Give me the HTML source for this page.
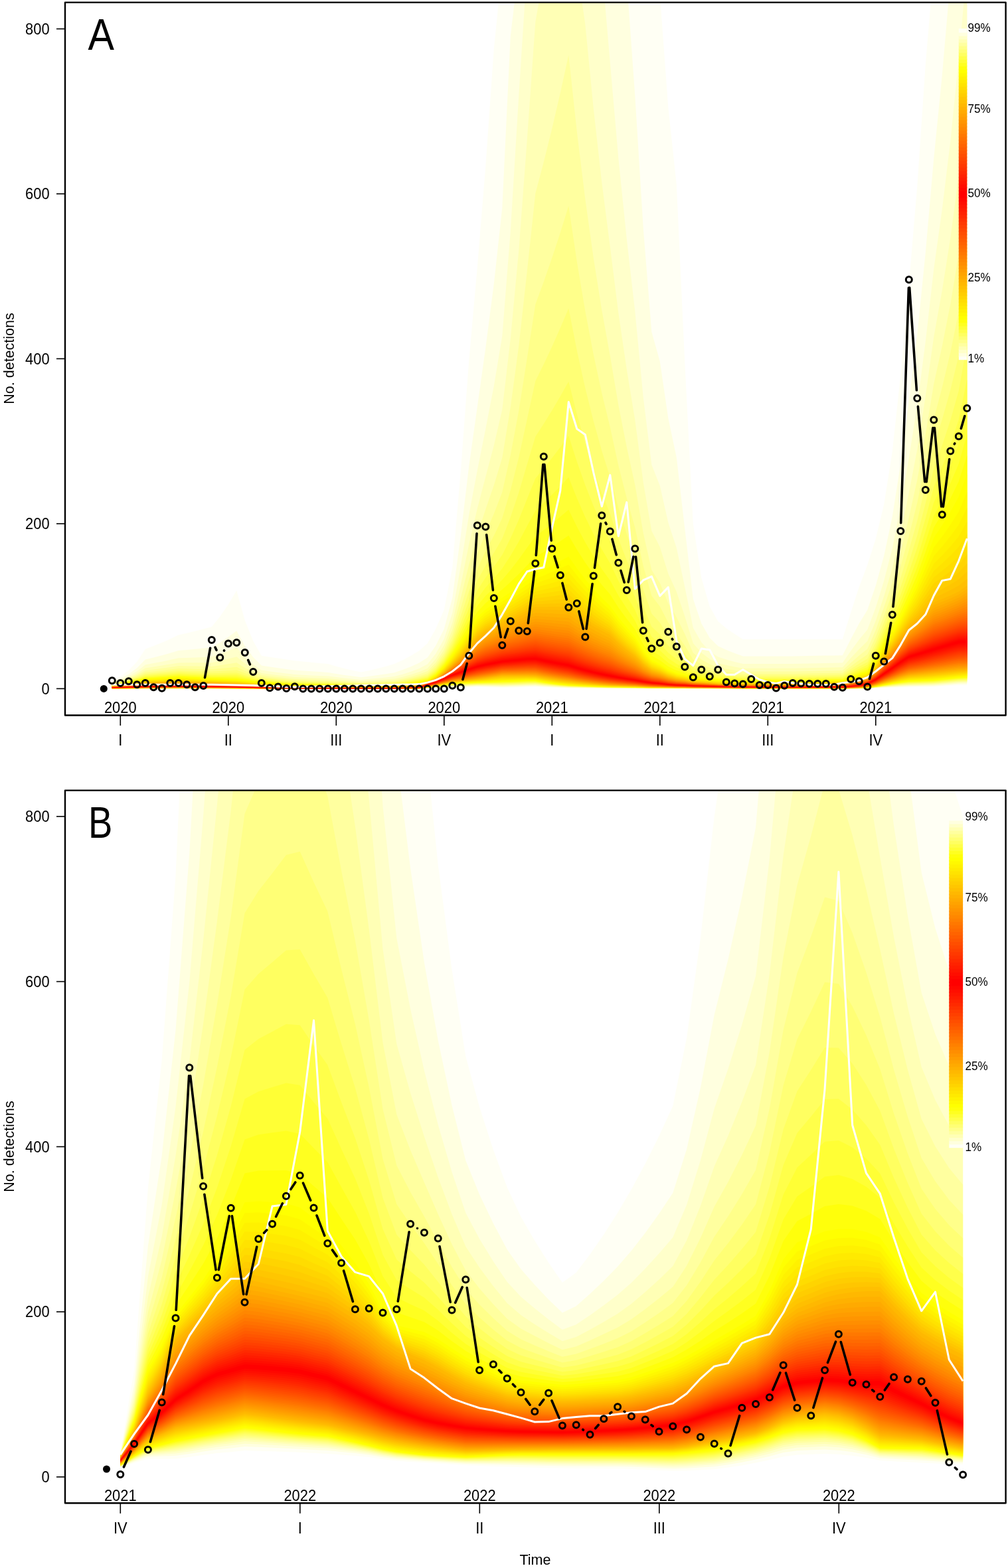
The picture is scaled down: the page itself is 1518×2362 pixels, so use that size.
<!DOCTYPE html>
<html><head><meta charset="utf-8"><title>Fan chart</title>
<style>
html,body{margin:0;padding:0;background:#fff;}
body{width:1518px;height:2362px;overflow:hidden;}
svg{display:block;}
.ax{font-family:"Liberation Sans",Arial,sans-serif;font-size:23.3px;fill:#000;}
.lab{font-family:"Liberation Sans",Arial,sans-serif;font-size:21.5px;fill:#000;}
.lg{font-family:"Liberation Sans",Arial,sans-serif;font-size:18px;fill:#000;}
.big{font-family:"Liberation Sans",Arial,sans-serif;font-size:66.5px;fill:#000;}
</style></head><body>
<svg xmlns="http://www.w3.org/2000/svg" width="1518" height="2362" viewBox="0 0 1518 2362">
<rect width="1518" height="2362" fill="#fff"/>
<clipPath id="ca"><rect x="98.0" y="3.6" width="1416.6" height="1073.9"/></clipPath><g clip-path="url(#ca)"><polygon fill="#fffff4" points="168.8,1025.0 181.3,1018.8 193.8,1009.8 206.3,996.7 218.8,977.8 231.3,973.1 243.8,968.0 256.3,962.5 268.8,956.6 281.3,953.7 293.8,950.7 306.3,947.5 318.8,944.2 331.3,928.7 343.8,910.6 356.3,889.6 368.8,934.4 381.3,965.8 393.8,987.7 406.3,989.7 418.8,991.6 431.3,993.4 443.8,995.2 456.3,996.5 468.8,997.7 481.3,998.9 493.8,1000.1 506.3,1003.7 518.8,1006.9 531.3,1009.9 543.8,1012.6 556.3,1009.9 568.8,1006.9 581.3,1003.7 593.8,1000.1 606.3,994.4 618.8,987.8 631.3,980.2 643.8,969.1 656.3,947.2 668.8,918.4 681.3,854.5 693.8,710.2 706.3,542.3 718.8,403.0 731.3,250.0 743.8,73.4 756.3,-50.0 768.8,-50.0 781.3,-50.0 793.8,-50.0 806.3,-50.0 818.8,-50.0 831.3,-50.0 843.8,-50.0 856.3,-50.0 868.8,-50.0 881.3,-50.0 893.8,-50.0 906.3,-50.0 918.8,-50.0 931.3,-50.0 943.8,-50.0 956.3,-50.0 968.8,-50.0 981.3,-50.0 993.8,-7.8 1006.3,161.3 1018.8,277.8 1031.3,546.3 1043.8,788.9 1056.3,870.6 1068.8,913.7 1081.3,936.0 1093.8,946.5 1106.3,955.1 1118.8,962.9 1131.3,962.9 1143.8,962.9 1156.3,962.9 1168.8,962.9 1181.3,962.9 1193.8,962.9 1206.3,962.9 1218.8,962.9 1231.3,962.9 1243.8,962.9 1256.3,962.9 1268.8,962.9 1281.3,922.4 1293.8,883.9 1306.3,851.0 1318.8,811.6 1331.3,759.6 1343.8,680.1 1356.3,564.7 1368.8,427.7 1381.3,280.2 1393.8,97.1 1406.3,-50.0 1418.8,-50.0 1431.3,-50.0 1443.8,-50.0 1456.3,-50.0 1456.3,1032.4 1443.8,1032.4 1431.3,1033.3 1418.8,1034.1 1406.3,1034.8 1393.8,1035.1 1381.3,1035.3 1368.8,1035.5 1356.3,1035.7 1343.8,1036.0 1331.3,1036.3 1318.8,1036.8 1306.3,1037.4 1293.8,1037.4 1281.3,1037.4 1268.8,1037.4 1256.3,1037.4 1243.8,1037.4 1231.3,1037.4 1218.8,1037.4 1206.3,1037.4 1193.8,1037.4 1181.3,1037.4 1168.8,1037.4 1156.3,1037.4 1143.8,1037.4 1131.3,1037.4 1118.8,1037.4 1106.3,1037.4 1093.8,1037.4 1081.3,1037.4 1068.8,1037.4 1056.3,1037.4 1043.8,1037.4 1031.3,1037.4 1018.8,1037.4 1006.3,1037.4 993.8,1037.4 981.3,1037.4 968.8,1037.4 956.3,1037.4 943.8,1037.4 931.3,1037.4 918.8,1037.4 906.3,1037.3 893.8,1037.2 881.3,1037.1 868.8,1036.9 856.3,1036.8 843.8,1036.4 831.3,1036.1 818.8,1035.6 806.3,1035.0 793.8,1035.2 781.3,1035.6 768.8,1035.9 756.3,1036.2 743.8,1035.8 731.3,1035.3 718.8,1035.0 706.3,1035.4 693.8,1035.7 681.3,1036.0 668.8,1036.3 656.3,1036.6 643.8,1036.8 631.3,1037.4 618.8,1037.4 606.3,1037.4 593.8,1037.4 581.3,1037.4 568.8,1037.4 556.3,1037.4 543.8,1037.4 531.3,1037.4 518.8,1037.4 506.3,1037.4 493.8,1037.4 481.3,1037.4 468.8,1037.4 456.3,1037.4 443.8,1037.4 431.3,1037.4 418.8,1037.4 406.3,1037.4 393.8,1037.4 381.3,1037.4 368.8,1037.4 356.3,1037.4 343.8,1037.4 331.3,1037.4 318.8,1037.4 306.3,1037.4 293.8,1037.4 281.3,1037.4 268.8,1037.4 256.3,1037.4 243.8,1037.4 231.3,1037.4 218.8,1037.4 206.3,1037.4 193.8,1037.4 181.3,1037.4 168.8,1037.4"/><polygon fill="#ffffdf" points="168.8,1026.7 181.3,1022.0 193.8,1015.5 206.3,1006.3 218.8,993.6 231.3,990.5 243.8,987.3 256.3,983.8 268.8,980.1 281.3,978.9 293.8,977.8 306.3,976.6 318.8,975.4 331.3,967.9 343.8,959.6 356.3,950.3 368.8,973.1 381.3,990.0 393.8,1002.5 406.3,1004.4 418.8,1006.2 431.3,1007.9 443.8,1009.5 456.3,1010.4 468.8,1011.2 481.3,1012.1 493.8,1012.9 506.3,1014.9 518.8,1016.9 531.3,1018.6 543.8,1020.3 556.3,1018.7 568.8,1017.0 581.3,1015.2 593.8,1013.2 606.3,1009.0 618.8,1004.2 631.3,998.5 643.8,990.6 656.3,972.5 668.8,947.6 681.3,900.4 693.8,807.1 706.3,701.8 718.8,613.1 731.3,523.9 743.8,427.6 756.3,313.2 768.8,53.9 781.3,-50.0 793.8,-50.0 806.3,-50.0 818.8,-50.0 831.3,-50.0 843.8,-50.0 856.3,-50.0 868.8,-50.0 881.3,-50.0 893.8,-50.0 906.3,-50.0 918.8,-50.0 931.3,-50.0 943.8,-29.7 956.3,144.3 968.8,344.5 981.3,499.9 993.8,544.6 1006.3,630.1 1018.8,689.0 1031.3,796.5 1043.8,902.3 1056.3,939.3 1068.8,960.9 1081.3,973.3 1093.8,979.1 1106.3,984.0 1118.8,988.4 1131.3,988.4 1143.8,988.4 1156.3,988.4 1168.8,988.4 1181.3,988.4 1193.8,988.4 1206.3,988.2 1218.8,988.0 1231.3,987.8 1243.8,987.6 1256.3,987.5 1268.8,987.3 1281.3,962.7 1293.8,939.3 1306.3,918.8 1318.8,882.2 1331.3,836.9 1343.8,778.3 1356.3,698.7 1368.8,605.0 1381.3,504.5 1393.8,380.6 1406.3,238.3 1418.8,113.3 1431.3,-31.3 1443.8,-50.0 1456.3,-50.0 1456.3,1030.7 1443.8,1030.7 1431.3,1031.7 1418.8,1032.7 1406.3,1033.5 1393.8,1033.8 1381.3,1034.1 1368.8,1034.3 1356.3,1034.7 1343.8,1035.2 1331.3,1035.7 1318.8,1036.4 1306.3,1037.2 1293.8,1037.3 1281.3,1037.3 1268.8,1037.3 1256.3,1037.3 1243.8,1037.3 1231.3,1037.3 1218.8,1037.3 1206.3,1037.3 1193.8,1037.3 1181.3,1037.3 1168.8,1037.3 1156.3,1037.3 1143.8,1037.3 1131.3,1037.3 1118.8,1037.3 1106.3,1037.3 1093.8,1037.3 1081.3,1037.3 1068.8,1037.3 1056.3,1037.3 1043.8,1037.3 1031.3,1037.3 1018.8,1037.3 1006.3,1037.2 993.8,1037.2 981.3,1037.2 968.8,1037.2 956.3,1037.1 943.8,1037.1 931.3,1037.1 918.8,1037.0 906.3,1036.9 893.8,1036.7 881.3,1036.6 868.8,1036.4 856.3,1036.2 843.8,1035.7 831.3,1035.2 818.8,1034.6 806.3,1033.8 793.8,1034.0 781.3,1034.4 768.8,1034.8 756.3,1035.1 743.8,1034.7 731.3,1034.2 718.8,1034.0 706.3,1034.4 693.8,1034.8 681.3,1035.2 668.8,1035.7 656.3,1036.1 643.8,1036.5 631.3,1037.4 618.8,1037.4 606.3,1037.4 593.8,1037.4 581.3,1037.4 568.8,1037.4 556.3,1037.4 543.8,1037.4 531.3,1037.4 518.8,1037.4 506.3,1037.4 493.8,1037.4 481.3,1037.4 468.8,1037.4 456.3,1037.4 443.8,1037.4 431.3,1037.4 418.8,1037.4 406.3,1037.4 393.8,1037.4 381.3,1037.4 368.8,1037.4 356.3,1037.3 343.8,1037.3 331.3,1037.3 318.8,1037.3 306.3,1037.3 293.8,1037.3 281.3,1037.3 268.8,1037.3 256.3,1037.3 243.8,1037.3 231.3,1037.3 218.8,1037.3 206.3,1037.3 193.8,1037.3 181.3,1037.4 168.8,1037.4"/><polygon fill="#ffffca" points="168.8,1027.7 181.3,1023.8 193.8,1018.5 206.3,1011.3 218.8,1001.4 231.3,999.1 243.8,996.7 256.3,994.1 268.8,991.3 281.3,990.9 293.8,990.5 306.3,990.1 318.8,989.6 331.3,985.2 343.8,980.4 356.3,975.2 368.8,989.8 381.3,1001.0 393.8,1009.6 406.3,1011.4 418.8,1013.0 431.3,1014.6 443.8,1016.0 456.3,1016.7 468.8,1017.4 481.3,1018.0 493.8,1018.6 506.3,1020.1 518.8,1021.5 531.3,1022.7 543.8,1023.9 556.3,1022.8 568.8,1021.7 581.3,1020.4 593.8,1019.1 606.3,1015.7 618.8,1011.7 631.3,1007.0 643.8,1000.6 656.3,984.8 668.8,962.4 681.3,923.4 693.8,853.2 706.3,775.2 718.8,708.7 731.3,646.0 743.8,581.5 756.3,506.3 768.8,348.4 781.3,143.7 793.8,-50.0 806.3,-50.0 818.8,-50.0 831.3,-50.0 843.8,-50.0 856.3,-50.0 868.8,-50.0 881.3,-50.0 893.8,-50.0 906.3,-50.0 918.8,94.5 931.3,238.3 943.8,360.1 956.3,468.9 968.8,599.3 981.3,699.9 993.8,731.7 1006.3,787.1 1018.8,825.2 1031.3,884.2 1043.8,945.8 1056.3,967.5 1068.8,981.2 1081.3,989.6 1093.8,993.6 1106.3,996.9 1118.8,999.9 1131.3,999.9 1143.8,999.9 1156.3,999.9 1168.8,999.9 1181.3,999.9 1193.8,999.9 1206.3,999.7 1218.8,999.4 1231.3,999.2 1243.8,999.0 1256.3,998.7 1268.8,998.5 1281.3,980.6 1293.8,963.6 1306.3,948.4 1318.8,915.2 1331.3,874.4 1343.8,826.2 1356.3,763.4 1368.8,689.8 1381.3,611.0 1393.8,514.4 1406.3,405.1 1418.8,315.2 1431.3,212.5 1443.8,88.3 1456.3,-50.0 1456.3,1029.3 1443.8,1029.4 1431.3,1030.5 1418.8,1031.5 1406.3,1032.4 1393.8,1032.8 1381.3,1033.1 1368.8,1033.3 1356.3,1033.9 1343.8,1034.5 1331.3,1035.2 1318.8,1036.1 1306.3,1037.0 1293.8,1037.2 1281.3,1037.3 1268.8,1037.3 1256.3,1037.3 1243.8,1037.3 1231.3,1037.3 1218.8,1037.3 1206.3,1037.3 1193.8,1037.3 1181.3,1037.3 1168.8,1037.3 1156.3,1037.3 1143.8,1037.3 1131.3,1037.3 1118.8,1037.3 1106.3,1037.3 1093.8,1037.3 1081.3,1037.3 1068.8,1037.2 1056.3,1037.2 1043.8,1037.2 1031.3,1037.2 1018.8,1037.2 1006.3,1037.1 993.8,1037.1 981.3,1037.0 968.8,1037.0 956.3,1036.9 943.8,1036.9 931.3,1036.8 918.8,1036.8 906.3,1036.6 893.8,1036.4 881.3,1036.2 868.8,1036.0 856.3,1035.7 843.8,1035.2 831.3,1034.5 818.8,1033.7 806.3,1032.8 793.8,1033.0 781.3,1033.4 768.8,1033.8 756.3,1034.2 743.8,1033.8 731.3,1033.4 718.8,1033.3 706.3,1033.7 693.8,1034.1 681.3,1034.6 668.8,1035.2 656.3,1035.8 643.8,1036.4 631.3,1037.4 618.8,1037.4 606.3,1037.4 593.8,1037.4 581.3,1037.4 568.8,1037.4 556.3,1037.4 543.8,1037.4 531.3,1037.4 518.8,1037.4 506.3,1037.4 493.8,1037.4 481.3,1037.4 468.8,1037.4 456.3,1037.4 443.8,1037.4 431.3,1037.4 418.8,1037.4 406.3,1037.4 393.8,1037.4 381.3,1037.3 368.8,1037.3 356.3,1037.3 343.8,1037.3 331.3,1037.3 318.8,1037.3 306.3,1037.3 293.8,1037.3 281.3,1037.3 268.8,1037.3 256.3,1037.3 243.8,1037.3 231.3,1037.3 218.8,1037.3 206.3,1037.3 193.8,1037.3 181.3,1037.3 168.8,1037.4"/><polygon fill="#ffffb5" points="168.8,1028.4 181.3,1025.0 193.8,1020.5 206.3,1014.5 218.8,1006.4 231.3,1004.6 243.8,1002.6 256.3,1000.5 268.8,998.4 281.3,998.3 293.8,998.3 306.3,998.2 318.8,998.2 331.3,995.4 343.8,992.4 356.3,989.2 368.8,999.5 381.3,1007.6 393.8,1014.0 406.3,1015.7 418.8,1017.2 431.3,1018.6 443.8,1020.0 456.3,1020.5 468.8,1021.1 481.3,1021.6 493.8,1022.1 506.3,1023.3 518.8,1024.3 531.3,1025.3 543.8,1026.2 556.3,1025.4 568.8,1024.5 581.3,1023.6 593.8,1022.6 606.3,1019.7 618.8,1016.3 631.3,1012.2 643.8,1006.8 656.3,992.5 668.8,971.8 681.3,938.2 693.8,881.7 706.3,819.7 718.8,766.2 731.3,718.3 743.8,671.1 756.3,616.9 768.8,510.4 781.3,377.0 793.8,209.9 806.3,32.9 818.8,-36.8 831.3,-50.0 843.8,-50.0 856.3,-50.0 868.8,-50.0 881.3,36.6 893.8,163.8 906.3,274.9 918.8,371.9 931.3,471.6 943.8,556.4 956.3,632.7 968.8,727.2 981.3,799.7 993.8,824.1 1006.3,864.0 1018.8,891.4 1031.3,928.6 1043.8,969.1 1056.3,983.3 1068.8,992.8 1081.3,999.1 1093.8,1002.0 1106.3,1004.5 1118.8,1006.8 1131.3,1006.8 1143.8,1006.8 1156.3,1006.8 1168.8,1006.8 1181.3,1006.8 1193.8,1006.8 1206.3,1006.6 1218.8,1006.3 1231.3,1006.1 1243.8,1005.8 1256.3,1005.6 1268.8,1005.3 1281.3,991.3 1293.8,977.9 1306.3,965.8 1318.8,935.3 1331.3,898.0 1343.8,856.3 1356.3,803.8 1368.8,742.5 1381.3,676.9 1393.8,596.8 1406.3,507.2 1418.8,437.4 1431.3,358.5 1443.8,264.0 1456.3,102.7 1456.3,1028.1 1443.8,1028.3 1431.3,1029.4 1418.8,1030.5 1406.3,1031.5 1393.8,1031.9 1381.3,1032.2 1368.8,1032.5 1356.3,1033.1 1343.8,1033.9 1331.3,1034.7 1318.8,1035.9 1306.3,1036.9 1293.8,1037.1 1281.3,1037.2 1268.8,1037.3 1256.3,1037.3 1243.8,1037.3 1231.3,1037.3 1218.8,1037.3 1206.3,1037.3 1193.8,1037.3 1181.3,1037.3 1168.8,1037.3 1156.3,1037.3 1143.8,1037.3 1131.3,1037.3 1118.8,1037.3 1106.3,1037.3 1093.8,1037.3 1081.3,1037.2 1068.8,1037.2 1056.3,1037.2 1043.8,1037.2 1031.3,1037.1 1018.8,1037.1 1006.3,1037.0 993.8,1036.9 981.3,1036.9 968.8,1036.8 956.3,1036.7 943.8,1036.7 931.3,1036.6 918.8,1036.5 906.3,1036.3 893.8,1036.1 881.3,1035.9 868.8,1035.6 856.3,1035.3 843.8,1034.7 831.3,1033.9 818.8,1033.0 806.3,1031.9 793.8,1032.1 781.3,1032.5 768.8,1033.0 756.3,1033.3 743.8,1033.0 731.3,1032.7 718.8,1032.6 706.3,1033.0 693.8,1033.5 681.3,1034.0 668.8,1034.7 656.3,1035.6 643.8,1036.3 631.3,1037.3 618.8,1037.4 606.3,1037.4 593.8,1037.4 581.3,1037.4 568.8,1037.4 556.3,1037.4 543.8,1037.4 531.3,1037.4 518.8,1037.4 506.3,1037.4 493.8,1037.4 481.3,1037.4 468.8,1037.4 456.3,1037.4 443.8,1037.4 431.3,1037.4 418.8,1037.4 406.3,1037.4 393.8,1037.3 381.3,1037.3 368.8,1037.3 356.3,1037.3 343.8,1037.3 331.3,1037.3 318.8,1037.2 306.3,1037.2 293.8,1037.2 281.3,1037.2 268.8,1037.2 256.3,1037.2 243.8,1037.2 231.3,1037.2 218.8,1037.2 206.3,1037.3 193.8,1037.3 181.3,1037.3 168.8,1037.3"/><polygon fill="#ffff9f" points="168.8,1029.0 181.3,1025.9 193.8,1022.0 206.3,1016.8 218.8,1010.0 231.3,1008.4 243.8,1006.8 256.3,1005.1 268.8,1003.3 281.3,1003.5 293.8,1003.6 306.3,1003.8 318.8,1004.0 331.3,1002.2 343.8,1000.3 356.3,998.3 368.8,1005.9 381.3,1012.1 393.8,1017.1 406.3,1018.7 418.8,1020.1 431.3,1021.4 443.8,1022.7 456.3,1023.1 468.8,1023.6 481.3,1024.1 493.8,1024.5 506.3,1025.4 518.8,1026.2 531.3,1027.0 543.8,1027.8 556.3,1027.1 568.8,1026.4 581.3,1025.7 593.8,1025.0 606.3,1022.4 618.8,1019.4 631.3,1015.8 643.8,1011.0 656.3,998.0 668.8,978.7 681.3,948.8 693.8,901.6 706.3,850.3 718.8,805.5 731.3,767.2 743.8,730.9 756.3,689.7 768.8,613.6 781.3,521.1 793.8,408.4 806.3,291.6 818.8,244.1 831.3,193.7 843.8,140.0 856.3,82.9 868.8,198.3 881.3,299.7 893.8,388.9 906.3,467.3 918.8,536.2 931.3,610.3 943.8,673.4 956.3,730.6 968.8,803.2 981.3,858.7 993.8,878.3 1006.3,908.8 1018.8,929.7 1031.3,955.1 1043.8,983.6 1056.3,993.6 1068.8,1000.6 1081.3,1005.5 1093.8,1007.8 1106.3,1009.7 1118.8,1011.5 1131.3,1011.5 1143.8,1011.5 1156.3,1011.5 1168.8,1011.5 1181.3,1011.5 1193.8,1011.5 1206.3,1011.2 1218.8,1011.0 1231.3,1010.8 1243.8,1010.5 1256.3,1010.2 1268.8,1010.0 1281.3,998.5 1293.8,987.5 1306.3,977.4 1318.8,949.2 1331.3,914.6 1343.8,877.6 1356.3,832.2 1368.8,779.4 1381.3,723.0 1393.8,654.2 1406.3,578.1 1418.8,521.5 1431.3,458.0 1443.8,382.7 1456.3,256.5 1456.3,1027.1 1443.8,1027.3 1431.3,1028.5 1418.8,1029.6 1406.3,1030.6 1393.8,1031.0 1381.3,1031.4 1368.8,1031.7 1356.3,1032.5 1343.8,1033.4 1331.3,1034.4 1318.8,1035.7 1306.3,1036.8 1293.8,1037.1 1281.3,1037.2 1268.8,1037.3 1256.3,1037.3 1243.8,1037.3 1231.3,1037.3 1218.8,1037.3 1206.3,1037.3 1193.8,1037.3 1181.3,1037.3 1168.8,1037.3 1156.3,1037.3 1143.8,1037.3 1131.3,1037.3 1118.8,1037.3 1106.3,1037.2 1093.8,1037.2 1081.3,1037.2 1068.8,1037.2 1056.3,1037.1 1043.8,1037.1 1031.3,1037.1 1018.8,1037.0 1006.3,1036.9 993.8,1036.8 981.3,1036.8 968.8,1036.7 956.3,1036.6 943.8,1036.5 931.3,1036.4 918.8,1036.3 906.3,1036.1 893.8,1035.8 881.3,1035.6 868.8,1035.2 856.3,1034.9 843.8,1034.2 831.3,1033.3 818.8,1032.3 806.3,1031.1 793.8,1031.2 781.3,1031.7 768.8,1032.1 756.3,1032.6 743.8,1032.3 731.3,1032.1 718.8,1032.0 706.3,1032.4 693.8,1032.9 681.3,1033.5 668.8,1034.4 656.3,1035.4 643.8,1036.2 631.3,1037.3 618.8,1037.4 606.3,1037.4 593.8,1037.4 581.3,1037.4 568.8,1037.4 556.3,1037.4 543.8,1037.4 531.3,1037.4 518.8,1037.4 506.3,1037.4 493.8,1037.4 481.3,1037.4 468.8,1037.4 456.3,1037.4 443.8,1037.4 431.3,1037.4 418.8,1037.4 406.3,1037.3 393.8,1037.3 381.3,1037.3 368.8,1037.3 356.3,1037.3 343.8,1037.2 331.3,1037.2 318.8,1037.2 306.3,1037.2 293.8,1037.2 281.3,1037.2 268.8,1037.2 256.3,1037.2 243.8,1037.2 231.3,1037.2 218.8,1037.2 206.3,1037.2 193.8,1037.3 181.3,1037.3 168.8,1037.3"/><polygon fill="#ffff8a" points="168.8,1029.4 181.3,1026.7 193.8,1023.1 206.3,1018.6 218.8,1012.7 231.3,1011.4 243.8,1010.0 256.3,1008.5 268.8,1007.0 281.3,1007.3 293.8,1007.7 306.3,1008.0 318.8,1008.3 331.3,1007.1 343.8,1005.9 356.3,1004.7 368.8,1010.6 381.3,1015.4 393.8,1019.4 406.3,1020.9 418.8,1022.2 431.3,1023.5 443.8,1024.6 456.3,1025.1 468.8,1025.5 481.3,1025.9 493.8,1026.3 506.3,1027.0 518.8,1027.7 531.3,1028.3 543.8,1028.9 556.3,1028.4 568.8,1027.9 581.3,1027.3 593.8,1026.7 606.3,1024.4 618.8,1021.7 631.3,1018.5 643.8,1014.2 656.3,1002.1 668.8,984.0 681.3,956.9 693.8,916.5 706.3,873.0 718.8,834.5 731.3,802.9 743.8,774.0 756.3,741.6 768.8,685.5 781.3,618.7 793.8,539.4 806.3,458.6 818.8,424.6 831.3,388.6 843.8,350.5 856.3,310.2 868.8,394.2 881.3,468.4 893.8,534.2 906.3,592.3 918.8,643.8 931.3,701.2 943.8,750.3 956.3,795.1 968.8,853.1 981.3,897.4 993.8,913.6 1006.3,937.8 1018.8,954.4 1031.3,972.6 1043.8,993.6 1056.3,1000.8 1068.8,1006.1 1081.3,1010.1 1093.8,1011.9 1106.3,1013.5 1118.8,1014.9 1131.3,1014.9 1143.8,1014.9 1156.3,1014.9 1168.8,1014.9 1181.3,1014.9 1193.8,1014.9 1206.3,1014.7 1218.8,1014.5 1231.3,1014.2 1243.8,1014.0 1256.3,1013.7 1268.8,1013.4 1281.3,1003.8 1293.8,994.5 1306.3,985.9 1318.8,959.6 1331.3,927.2 1343.8,893.7 1356.3,853.7 1368.8,807.2 1381.3,757.5 1393.8,697.2 1406.3,630.9 1418.8,583.7 1431.3,531.1 1443.8,469.3 1456.3,367.4 1456.3,1026.1 1443.8,1026.4 1431.3,1027.5 1418.8,1028.7 1406.3,1029.8 1393.8,1030.2 1381.3,1030.6 1368.8,1030.9 1356.3,1031.8 1343.8,1032.9 1331.3,1034.0 1318.8,1035.5 1306.3,1036.7 1293.8,1037.0 1281.3,1037.2 1268.8,1037.2 1256.3,1037.2 1243.8,1037.2 1231.3,1037.2 1218.8,1037.2 1206.3,1037.2 1193.8,1037.2 1181.3,1037.2 1168.8,1037.2 1156.3,1037.2 1143.8,1037.2 1131.3,1037.2 1118.8,1037.2 1106.3,1037.2 1093.8,1037.2 1081.3,1037.2 1068.8,1037.1 1056.3,1037.1 1043.8,1037.1 1031.3,1037.0 1018.8,1036.9 1006.3,1036.9 993.8,1036.8 981.3,1036.7 968.8,1036.6 956.3,1036.4 943.8,1036.3 931.3,1036.2 918.8,1036.1 906.3,1035.9 893.8,1035.6 881.3,1035.3 868.8,1034.9 856.3,1034.5 843.8,1033.8 831.3,1032.8 818.8,1031.7 806.3,1030.3 793.8,1030.4 781.3,1030.9 768.8,1031.4 756.3,1031.8 743.8,1031.6 731.3,1031.4 718.8,1031.4 706.3,1031.9 693.8,1032.4 681.3,1033.0 668.8,1034.0 656.3,1035.2 643.8,1036.1 631.3,1037.3 618.8,1037.3 606.3,1037.4 593.8,1037.4 581.3,1037.4 568.8,1037.4 556.3,1037.4 543.8,1037.4 531.3,1037.4 518.8,1037.4 506.3,1037.4 493.8,1037.4 481.3,1037.4 468.8,1037.4 456.3,1037.4 443.8,1037.4 431.3,1037.4 418.8,1037.4 406.3,1037.3 393.8,1037.3 381.3,1037.3 368.8,1037.3 356.3,1037.2 343.8,1037.2 331.3,1037.2 318.8,1037.2 306.3,1037.2 293.8,1037.2 281.3,1037.2 268.8,1037.2 256.3,1037.2 243.8,1037.2 231.3,1037.2 218.8,1037.2 206.3,1037.2 193.8,1037.2 181.3,1037.3 168.8,1037.3"/><polygon fill="#ffff75" points="168.8,1029.7 181.3,1027.3 193.8,1024.1 206.3,1020.0 218.8,1014.9 231.3,1013.7 243.8,1012.5 256.3,1011.3 268.8,1009.9 281.3,1010.4 293.8,1010.8 306.3,1011.2 318.8,1011.6 331.3,1010.9 343.8,1010.2 356.3,1009.5 368.8,1014.1 381.3,1018.0 393.8,1021.2 406.3,1022.6 418.8,1023.9 431.3,1025.1 443.8,1026.2 456.3,1026.6 468.8,1026.9 481.3,1027.3 493.8,1027.6 506.3,1028.2 518.8,1028.8 531.3,1029.4 543.8,1029.9 556.3,1029.5 568.8,1029.0 581.3,1028.6 593.8,1028.1 606.3,1026.0 618.8,1023.5 631.3,1020.5 643.8,1016.7 656.3,1005.4 668.8,988.2 681.3,963.4 693.8,928.3 706.3,890.6 718.8,856.9 731.3,830.3 743.8,806.9 756.3,780.8 768.8,738.4 781.3,689.0 793.8,631.6 806.3,574.0 818.8,548.8 831.3,522.2 843.8,494.1 856.3,464.5 868.8,528.0 881.3,584.4 893.8,634.6 906.3,679.2 918.8,718.9 931.3,764.9 943.8,804.3 956.3,840.4 968.8,888.1 981.3,924.3 993.8,938.0 1006.3,957.8 1018.8,971.4 1031.3,984.8 1043.8,1000.8 1056.3,1006.1 1068.8,1010.3 1081.3,1013.6 1093.8,1015.1 1106.3,1016.4 1118.8,1017.6 1131.3,1017.6 1143.8,1017.6 1156.3,1017.6 1168.8,1017.6 1181.3,1017.6 1193.8,1017.6 1206.3,1017.4 1218.8,1017.1 1231.3,1016.9 1243.8,1016.6 1256.3,1016.4 1268.8,1016.1 1281.3,1007.8 1293.8,999.8 1306.3,992.3 1318.8,967.7 1331.3,937.2 1343.8,906.6 1356.3,870.7 1368.8,829.1 1381.3,784.7 1393.8,730.8 1406.3,672.1 1418.8,632.1 1431.3,587.6 1443.8,535.8 1456.3,451.6 1456.3,1025.1 1443.8,1025.5 1431.3,1026.7 1418.8,1027.9 1406.3,1029.0 1393.8,1029.5 1381.3,1029.8 1368.8,1030.2 1356.3,1031.2 1343.8,1032.4 1331.3,1033.7 1318.8,1035.3 1306.3,1036.6 1293.8,1037.0 1281.3,1037.2 1268.8,1037.2 1256.3,1037.2 1243.8,1037.2 1231.3,1037.2 1218.8,1037.2 1206.3,1037.2 1193.8,1037.2 1181.3,1037.2 1168.8,1037.2 1156.3,1037.2 1143.8,1037.2 1131.3,1037.2 1118.8,1037.2 1106.3,1037.2 1093.8,1037.2 1081.3,1037.1 1068.8,1037.1 1056.3,1037.1 1043.8,1037.1 1031.3,1037.0 1018.8,1036.9 1006.3,1036.8 993.8,1036.7 981.3,1036.6 968.8,1036.5 956.3,1036.3 943.8,1036.2 931.3,1036.1 918.8,1035.9 906.3,1035.7 893.8,1035.3 881.3,1035.0 868.8,1034.6 856.3,1034.2 843.8,1033.3 831.3,1032.3 818.8,1031.1 806.3,1029.6 793.8,1029.7 781.3,1030.2 768.8,1030.6 756.3,1031.0 743.8,1030.9 731.3,1030.8 718.8,1030.9 706.3,1031.4 693.8,1031.9 681.3,1032.6 668.8,1033.7 656.3,1035.0 643.8,1036.0 631.3,1037.3 618.8,1037.3 606.3,1037.4 593.8,1037.4 581.3,1037.4 568.8,1037.4 556.3,1037.4 543.8,1037.4 531.3,1037.4 518.8,1037.4 506.3,1037.4 493.8,1037.4 481.3,1037.4 468.8,1037.4 456.3,1037.4 443.8,1037.4 431.3,1037.4 418.8,1037.4 406.3,1037.3 393.8,1037.3 381.3,1037.3 368.8,1037.3 356.3,1037.2 343.8,1037.2 331.3,1037.2 318.8,1037.1 306.3,1037.1 293.8,1037.1 281.3,1037.1 268.8,1037.1 256.3,1037.1 243.8,1037.1 231.3,1037.1 218.8,1037.1 206.3,1037.2 193.8,1037.2 181.3,1037.3 168.8,1037.3"/><polygon fill="#ffff60" points="168.8,1030.1 181.3,1027.8 193.8,1024.9 206.3,1021.3 218.8,1016.7 231.3,1015.6 243.8,1014.6 256.3,1013.5 268.8,1012.3 281.3,1012.8 293.8,1013.3 306.3,1013.8 318.8,1014.3 331.3,1013.9 343.8,1013.6 356.3,1013.2 368.8,1016.9 381.3,1020.0 393.8,1022.7 406.3,1024.1 418.8,1025.3 431.3,1026.4 443.8,1027.4 456.3,1027.8 468.8,1028.1 481.3,1028.4 493.8,1028.7 506.3,1029.2 518.8,1029.7 531.3,1030.2 543.8,1030.6 556.3,1030.3 568.8,1029.9 581.3,1029.5 593.8,1029.1 606.3,1027.2 618.8,1025.0 631.3,1022.2 643.8,1018.7 656.3,1008.0 668.8,991.7 681.3,968.8 693.8,937.9 706.3,904.7 718.8,874.8 731.3,852.2 743.8,832.8 756.3,811.4 768.8,779.0 781.3,742.0 793.8,699.6 806.3,657.8 818.8,638.5 831.3,618.3 843.8,597.1 856.3,574.7 868.8,624.0 881.3,668.0 893.8,707.4 906.3,742.6 918.8,774.0 931.3,811.7 943.8,844.0 956.3,873.8 968.8,913.8 981.3,944.1 993.8,955.8 1006.3,972.4 1018.8,983.7 1031.3,993.9 1043.8,1006.3 1056.3,1010.3 1068.8,1013.6 1081.3,1016.3 1093.8,1017.6 1106.3,1018.7 1118.8,1019.7 1131.3,1019.7 1143.8,1019.7 1156.3,1019.7 1168.8,1019.7 1181.3,1019.7 1193.8,1019.7 1206.3,1019.5 1218.8,1019.3 1231.3,1019.0 1243.8,1018.8 1256.3,1018.5 1268.8,1018.3 1281.3,1011.0 1293.8,1004.0 1306.3,997.4 1318.8,974.2 1331.3,945.4 1343.8,917.1 1356.3,884.5 1368.8,846.9 1381.3,806.7 1393.8,758.2 1406.3,705.5 1418.8,671.0 1431.3,632.9 1443.8,588.7 1456.3,518.0 1456.3,1024.2 1443.8,1024.6 1431.3,1025.9 1418.8,1027.1 1406.3,1028.2 1393.8,1028.7 1381.3,1029.1 1368.8,1029.5 1356.3,1030.6 1343.8,1031.9 1331.3,1033.4 1318.8,1035.1 1306.3,1036.5 1293.8,1036.9 1281.3,1037.1 1268.8,1037.2 1256.3,1037.2 1243.8,1037.2 1231.3,1037.2 1218.8,1037.2 1206.3,1037.2 1193.8,1037.2 1181.3,1037.2 1168.8,1037.2 1156.3,1037.2 1143.8,1037.2 1131.3,1037.2 1118.8,1037.2 1106.3,1037.2 1093.8,1037.2 1081.3,1037.1 1068.8,1037.1 1056.3,1037.0 1043.8,1037.0 1031.3,1036.9 1018.8,1036.8 1006.3,1036.7 993.8,1036.6 981.3,1036.5 968.8,1036.3 956.3,1036.2 943.8,1036.0 931.3,1035.9 918.8,1035.8 906.3,1035.5 893.8,1035.1 881.3,1034.7 868.8,1034.3 856.3,1033.9 843.8,1032.9 831.3,1031.8 818.8,1030.5 806.3,1028.9 793.8,1028.9 781.3,1029.4 768.8,1029.9 756.3,1030.3 743.8,1030.3 731.3,1030.3 718.8,1030.4 706.3,1030.8 693.8,1031.4 681.3,1032.1 668.8,1033.4 656.3,1034.8 643.8,1035.9 631.3,1037.3 618.8,1037.3 606.3,1037.4 593.8,1037.4 581.3,1037.4 568.8,1037.4 556.3,1037.4 543.8,1037.4 531.3,1037.4 518.8,1037.4 506.3,1037.4 493.8,1037.4 481.3,1037.4 468.8,1037.4 456.3,1037.4 443.8,1037.4 431.3,1037.4 418.8,1037.4 406.3,1037.3 393.8,1037.3 381.3,1037.3 368.8,1037.2 356.3,1037.2 343.8,1037.2 331.3,1037.2 318.8,1037.1 306.3,1037.1 293.8,1037.1 281.3,1037.1 268.8,1037.1 256.3,1037.1 243.8,1037.1 231.3,1037.1 218.8,1037.1 206.3,1037.2 193.8,1037.2 181.3,1037.3 168.8,1037.3"/><polygon fill="#ffff4a" points="168.8,1030.3 181.3,1028.2 193.8,1025.6 206.3,1022.3 218.8,1018.2 231.3,1017.3 243.8,1016.3 256.3,1015.4 268.8,1014.3 281.3,1014.9 293.8,1015.4 306.3,1016.0 318.8,1016.5 331.3,1016.4 343.8,1016.3 356.3,1016.1 368.8,1019.1 381.3,1021.7 393.8,1024.0 406.3,1025.2 418.8,1026.4 431.3,1027.5 443.8,1028.4 456.3,1028.7 468.8,1029.0 481.3,1029.3 493.8,1029.6 506.3,1030.1 518.8,1030.5 531.3,1030.9 543.8,1031.3 556.3,1031.0 568.8,1030.7 581.3,1030.4 593.8,1030.0 606.3,1028.3 618.8,1026.2 631.3,1023.6 643.8,1020.4 656.3,1010.3 668.8,994.7 681.3,973.4 693.8,945.8 706.3,916.4 718.8,889.6 731.3,870.0 743.8,853.8 756.3,836.1 768.8,811.1 781.3,783.1 793.8,751.6 806.3,720.7 818.8,705.8 831.3,690.1 843.8,673.7 856.3,656.5 868.8,695.6 881.3,730.7 893.8,762.2 906.3,790.4 918.8,815.8 931.3,847.2 943.8,874.2 956.3,899.2 968.8,933.3 981.3,959.1 993.8,969.2 1006.3,983.3 1018.8,992.9 1031.3,1000.8 1043.8,1010.6 1056.3,1013.6 1068.8,1016.2 1081.3,1018.6 1093.8,1019.7 1106.3,1020.6 1118.8,1021.5 1131.3,1021.5 1143.8,1021.5 1156.3,1021.5 1168.8,1021.5 1181.3,1021.5 1193.8,1021.5 1206.3,1021.2 1218.8,1021.0 1231.3,1020.8 1243.8,1020.6 1256.3,1020.3 1268.8,1020.1 1281.3,1013.7 1293.8,1007.4 1306.3,1001.5 1318.8,979.6 1331.3,952.3 1343.8,925.9 1356.3,896.2 1368.8,861.8 1381.3,825.1 1393.8,780.9 1406.3,733.3 1418.8,703.2 1431.3,670.1 1443.8,631.9 1456.3,571.8 1456.3,1023.3 1443.8,1023.8 1431.3,1025.1 1418.8,1026.3 1406.3,1027.4 1393.8,1028.0 1381.3,1028.4 1368.8,1028.8 1356.3,1030.0 1343.8,1031.5 1331.3,1033.1 1318.8,1035.0 1306.3,1036.4 1293.8,1036.9 1281.3,1037.1 1268.8,1037.2 1256.3,1037.2 1243.8,1037.2 1231.3,1037.2 1218.8,1037.2 1206.3,1037.2 1193.8,1037.2 1181.3,1037.2 1168.8,1037.2 1156.3,1037.2 1143.8,1037.2 1131.3,1037.2 1118.8,1037.2 1106.3,1037.2 1093.8,1037.1 1081.3,1037.1 1068.8,1037.0 1056.3,1037.0 1043.8,1037.0 1031.3,1036.9 1018.8,1036.8 1006.3,1036.7 993.8,1036.5 981.3,1036.4 968.8,1036.2 956.3,1036.0 943.8,1035.9 931.3,1035.7 918.8,1035.6 906.3,1035.3 893.8,1034.9 881.3,1034.5 868.8,1034.0 856.3,1033.6 843.8,1032.5 831.3,1031.3 818.8,1029.9 806.3,1028.2 793.8,1028.2 781.3,1028.7 768.8,1029.1 756.3,1029.6 743.8,1029.6 731.3,1029.7 718.8,1029.9 706.3,1030.4 693.8,1031.0 681.3,1031.7 668.8,1033.1 656.3,1034.7 643.8,1035.8 631.3,1037.3 618.8,1037.3 606.3,1037.4 593.8,1037.4 581.3,1037.4 568.8,1037.4 556.3,1037.4 543.8,1037.4 531.3,1037.4 518.8,1037.4 506.3,1037.4 493.8,1037.4 481.3,1037.4 468.8,1037.4 456.3,1037.4 443.8,1037.4 431.3,1037.4 418.8,1037.4 406.3,1037.3 393.8,1037.3 381.3,1037.3 368.8,1037.2 356.3,1037.2 343.8,1037.2 331.3,1037.1 318.8,1037.1 306.3,1037.1 293.8,1037.1 281.3,1037.1 268.8,1037.1 256.3,1037.1 243.8,1037.1 231.3,1037.1 218.8,1037.1 206.3,1037.2 193.8,1037.2 181.3,1037.3 168.8,1037.3"/><polygon fill="#ffff35" points="168.8,1030.6 181.3,1028.6 193.8,1026.2 206.3,1023.2 218.8,1019.5 231.3,1018.7 243.8,1017.8 256.3,1017.0 268.8,1016.1 281.3,1016.7 293.8,1017.2 306.3,1017.8 318.8,1018.3 331.3,1018.4 343.8,1018.5 356.3,1018.6 368.8,1021.0 381.3,1023.1 393.8,1025.0 406.3,1026.2 418.8,1027.4 431.3,1028.4 443.8,1029.3 456.3,1029.6 468.8,1029.8 481.3,1030.1 493.8,1030.4 506.3,1030.8 518.8,1031.1 531.3,1031.5 543.8,1031.8 556.3,1031.6 568.8,1031.3 581.3,1031.0 593.8,1030.8 606.3,1029.1 618.8,1027.2 631.3,1024.8 643.8,1021.8 656.3,1012.2 668.8,997.3 681.3,977.3 693.8,952.6 706.3,926.3 718.8,902.1 731.3,884.9 743.8,871.3 756.3,856.5 768.8,837.2 781.3,815.9 793.8,792.4 806.3,769.4 818.8,757.6 831.3,745.3 843.8,732.4 856.3,719.0 868.8,750.5 881.3,778.9 893.8,804.5 906.3,827.6 918.8,848.4 931.3,875.0 943.8,897.9 956.3,919.1 968.8,948.6 981.3,970.8 993.8,979.7 1006.3,991.8 1018.8,1000.0 1031.3,1006.2 1043.8,1014.1 1056.3,1016.3 1068.8,1018.4 1081.3,1020.5 1093.8,1021.4 1106.3,1022.2 1118.8,1022.9 1131.3,1022.9 1143.8,1022.9 1156.3,1022.9 1168.8,1022.9 1181.3,1022.9 1193.8,1022.9 1206.3,1022.7 1218.8,1022.5 1231.3,1022.3 1243.8,1022.0 1256.3,1021.8 1268.8,1021.6 1281.3,1015.9 1293.8,1010.3 1306.3,1005.0 1318.8,984.2 1331.3,958.2 1343.8,933.5 1356.3,906.1 1368.8,874.5 1381.3,840.8 1393.8,800.2 1406.3,756.8 1418.8,730.3 1431.3,701.3 1443.8,668.1 1456.3,616.4 1456.3,1022.5 1443.8,1023.0 1431.3,1024.3 1418.8,1025.5 1406.3,1026.7 1393.8,1027.3 1381.3,1027.7 1368.8,1028.1 1356.3,1029.4 1343.8,1031.0 1331.3,1032.8 1318.8,1034.8 1306.3,1036.4 1293.8,1036.8 1281.3,1037.1 1268.8,1037.2 1256.3,1037.2 1243.8,1037.2 1231.3,1037.2 1218.8,1037.2 1206.3,1037.2 1193.8,1037.2 1181.3,1037.2 1168.8,1037.2 1156.3,1037.2 1143.8,1037.2 1131.3,1037.2 1118.8,1037.2 1106.3,1037.2 1093.8,1037.1 1081.3,1037.1 1068.8,1037.0 1056.3,1037.0 1043.8,1037.0 1031.3,1036.9 1018.8,1036.7 1006.3,1036.6 993.8,1036.5 981.3,1036.4 968.8,1036.2 956.3,1035.9 943.8,1035.7 931.3,1035.6 918.8,1035.4 906.3,1035.1 893.8,1034.7 881.3,1034.2 868.8,1033.8 856.3,1033.2 843.8,1032.2 831.3,1030.9 818.8,1029.3 806.3,1027.5 793.8,1027.5 781.3,1027.9 768.8,1028.4 756.3,1028.8 743.8,1029.0 731.3,1029.2 718.8,1029.5 706.3,1029.9 693.8,1030.5 681.3,1031.3 668.8,1032.8 656.3,1034.5 643.8,1035.7 631.3,1037.3 618.8,1037.3 606.3,1037.4 593.8,1037.4 581.3,1037.4 568.8,1037.4 556.3,1037.4 543.8,1037.4 531.3,1037.4 518.8,1037.4 506.3,1037.4 493.8,1037.4 481.3,1037.4 468.8,1037.4 456.3,1037.4 443.8,1037.4 431.3,1037.4 418.8,1037.3 406.3,1037.3 393.8,1037.3 381.3,1037.3 368.8,1037.2 356.3,1037.2 343.8,1037.2 331.3,1037.1 318.8,1037.1 306.3,1037.1 293.8,1037.1 281.3,1037.1 268.8,1037.1 256.3,1037.1 243.8,1037.1 231.3,1037.1 218.8,1037.1 206.3,1037.1 193.8,1037.2 181.3,1037.2 168.8,1037.3"/><polygon fill="#ffff20" points="168.8,1030.8 181.3,1029.0 193.8,1026.7 206.3,1024.0 218.8,1020.6 231.3,1019.9 243.8,1019.1 256.3,1018.4 268.8,1017.5 281.3,1018.2 293.8,1018.8 306.3,1019.4 318.8,1019.9 331.3,1020.1 343.8,1020.3 356.3,1020.6 368.8,1022.6 381.3,1024.4 393.8,1025.9 406.3,1027.1 418.8,1028.2 431.3,1029.1 443.8,1030.0 456.3,1030.3 468.8,1030.5 481.3,1030.8 493.8,1031.0 506.3,1031.3 518.8,1031.7 531.3,1032.0 543.8,1032.3 556.3,1032.1 568.8,1031.9 581.3,1031.6 593.8,1031.4 606.3,1029.9 618.8,1028.0 631.3,1025.8 643.8,1023.0 656.3,1013.9 668.8,999.5 681.3,980.8 693.8,958.5 706.3,934.7 718.8,912.7 731.3,897.6 743.8,886.1 756.3,873.6 768.8,858.7 781.3,842.6 793.8,825.0 806.3,808.0 818.8,798.5 831.3,788.7 843.8,778.5 856.3,767.8 868.8,793.6 881.3,817.0 893.8,838.1 906.3,857.2 918.8,874.5 931.3,897.2 943.8,916.8 956.3,935.1 968.8,960.8 981.3,980.1 993.8,988.0 1006.3,998.5 1018.8,1005.6 1031.3,1010.5 1043.8,1016.9 1056.3,1018.5 1068.8,1020.3 1081.3,1022.1 1093.8,1022.9 1106.3,1023.5 1118.8,1024.2 1131.3,1024.2 1143.8,1024.2 1156.3,1024.2 1168.8,1024.2 1181.3,1024.2 1193.8,1024.2 1206.3,1024.0 1218.8,1023.8 1231.3,1023.5 1243.8,1023.3 1256.3,1023.1 1268.8,1022.9 1281.3,1017.7 1293.8,1012.7 1306.3,1007.9 1318.8,988.2 1331.3,963.3 1343.8,940.1 1356.3,914.7 1368.8,885.5 1381.3,854.3 1393.8,816.8 1406.3,777.0 1418.8,753.5 1431.3,727.9 1443.8,698.8 1456.3,654.1 1456.3,1021.6 1443.8,1022.2 1431.3,1023.5 1418.8,1024.8 1406.3,1026.0 1393.8,1026.5 1381.3,1027.0 1368.8,1027.4 1356.3,1028.8 1343.8,1030.6 1331.3,1032.5 1318.8,1034.7 1306.3,1036.3 1293.8,1036.8 1281.3,1037.1 1268.8,1037.2 1256.3,1037.2 1243.8,1037.2 1231.3,1037.2 1218.8,1037.2 1206.3,1037.2 1193.8,1037.2 1181.3,1037.2 1168.8,1037.2 1156.3,1037.2 1143.8,1037.2 1131.3,1037.2 1118.8,1037.2 1106.3,1037.1 1093.8,1037.1 1081.3,1037.1 1068.8,1037.0 1056.3,1037.0 1043.8,1037.0 1031.3,1036.8 1018.8,1036.7 1006.3,1036.6 993.8,1036.4 981.3,1036.3 968.8,1036.1 956.3,1035.8 943.8,1035.6 931.3,1035.4 918.8,1035.2 906.3,1034.9 893.8,1034.5 881.3,1034.0 868.8,1033.5 856.3,1032.9 843.8,1031.8 831.3,1030.4 818.8,1028.8 806.3,1026.8 793.8,1026.8 781.3,1027.2 768.8,1027.7 756.3,1028.1 743.8,1028.4 731.3,1028.7 718.8,1029.0 706.3,1029.4 693.8,1030.1 681.3,1030.9 668.8,1032.5 656.3,1034.4 643.8,1035.7 631.3,1037.3 618.8,1037.3 606.3,1037.4 593.8,1037.4 581.3,1037.4 568.8,1037.4 556.3,1037.4 543.8,1037.4 531.3,1037.4 518.8,1037.4 506.3,1037.4 493.8,1037.4 481.3,1037.4 468.8,1037.4 456.3,1037.4 443.8,1037.4 431.3,1037.4 418.8,1037.3 406.3,1037.3 393.8,1037.3 381.3,1037.3 368.8,1037.2 356.3,1037.2 343.8,1037.1 331.3,1037.1 318.8,1037.1 306.3,1037.1 293.8,1037.1 281.3,1037.1 268.8,1037.1 256.3,1037.1 243.8,1037.1 231.3,1037.1 218.8,1037.1 206.3,1037.1 193.8,1037.2 181.3,1037.2 168.8,1037.3"/><polygon fill="#ffff0b" points="168.8,1031.0 181.3,1029.3 193.8,1027.2 206.3,1024.7 218.8,1021.6 231.3,1020.9 243.8,1020.3 256.3,1019.6 268.8,1018.8 281.3,1019.5 293.8,1020.1 306.3,1020.7 318.8,1021.3 331.3,1021.6 343.8,1021.9 356.3,1022.3 368.8,1023.9 381.3,1025.4 393.8,1026.7 406.3,1027.9 418.8,1028.9 431.3,1029.8 443.8,1030.6 456.3,1030.9 468.8,1031.1 481.3,1031.3 493.8,1031.6 506.3,1031.9 518.8,1032.2 531.3,1032.4 543.8,1032.7 556.3,1032.5 568.8,1032.3 581.3,1032.1 593.8,1032.0 606.3,1030.5 618.8,1028.8 631.3,1026.7 643.8,1024.0 656.3,1015.4 668.8,1001.5 681.3,983.8 693.8,963.6 706.3,942.1 718.8,921.9 731.3,908.6 743.8,898.7 756.3,888.1 768.8,876.8 781.3,864.7 793.8,851.7 806.3,839.1 818.8,831.5 831.3,823.5 843.8,815.3 856.3,806.8 868.8,828.1 881.3,847.5 893.8,865.1 906.3,881.1 918.8,895.6 931.3,915.3 943.8,932.2 956.3,948.1 968.8,970.7 981.3,987.6 993.8,994.7 1006.3,1003.9 1018.8,1010.1 1031.3,1014.0 1043.8,1019.3 1056.3,1020.4 1068.8,1021.9 1081.3,1023.4 1093.8,1024.1 1106.3,1024.7 1118.8,1025.3 1131.3,1025.3 1143.8,1025.3 1156.3,1025.3 1168.8,1025.3 1181.3,1025.3 1193.8,1025.3 1206.3,1025.1 1218.8,1024.9 1231.3,1024.6 1243.8,1024.4 1256.3,1024.2 1268.8,1024.0 1281.3,1019.4 1293.8,1014.8 1306.3,1010.4 1318.8,991.6 1331.3,967.7 1343.8,945.9 1356.3,922.2 1368.8,895.1 1381.3,866.1 1393.8,831.4 1406.3,794.6 1418.8,773.7 1431.3,751.0 1443.8,725.2 1456.3,686.3 1456.3,1020.8 1443.8,1021.4 1431.3,1022.8 1418.8,1024.0 1406.3,1025.2 1393.8,1025.8 1381.3,1026.3 1368.8,1026.7 1356.3,1028.2 1343.8,1030.1 1331.3,1032.2 1318.8,1034.5 1306.3,1036.2 1293.8,1036.8 1281.3,1037.1 1268.8,1037.2 1256.3,1037.2 1243.8,1037.2 1231.3,1037.2 1218.8,1037.2 1206.3,1037.2 1193.8,1037.2 1181.3,1037.2 1168.8,1037.2 1156.3,1037.2 1143.8,1037.2 1131.3,1037.2 1118.8,1037.2 1106.3,1037.1 1093.8,1037.1 1081.3,1037.0 1068.8,1037.0 1056.3,1036.9 1043.8,1036.9 1031.3,1036.8 1018.8,1036.7 1006.3,1036.5 993.8,1036.3 981.3,1036.2 968.8,1036.0 956.3,1035.7 943.8,1035.5 931.3,1035.3 918.8,1035.1 906.3,1034.7 893.8,1034.2 881.3,1033.8 868.8,1033.2 856.3,1032.6 843.8,1031.4 831.3,1030.0 818.8,1028.2 806.3,1026.1 793.8,1026.1 781.3,1026.5 768.8,1026.9 756.3,1027.3 743.8,1027.7 731.3,1028.1 718.8,1028.5 706.3,1029.0 693.8,1029.6 681.3,1030.4 668.8,1032.2 656.3,1034.2 643.8,1035.6 631.3,1037.3 618.8,1037.3 606.3,1037.4 593.8,1037.4 581.3,1037.4 568.8,1037.4 556.3,1037.4 543.8,1037.4 531.3,1037.4 518.8,1037.4 506.3,1037.4 493.8,1037.4 481.3,1037.4 468.8,1037.4 456.3,1037.4 443.8,1037.4 431.3,1037.4 418.8,1037.3 406.3,1037.3 393.8,1037.3 381.3,1037.2 368.8,1037.2 356.3,1037.2 343.8,1037.1 331.3,1037.1 318.8,1037.0 306.3,1037.0 293.8,1037.0 281.3,1037.0 268.8,1037.0 256.3,1037.0 243.8,1037.0 231.3,1037.0 218.8,1037.0 206.3,1037.1 193.8,1037.2 181.3,1037.2 168.8,1037.3"/><polygon fill="#ffff00" points="168.8,1031.2 181.3,1029.6 193.8,1027.7 206.3,1025.3 218.8,1022.5 231.3,1021.9 243.8,1021.3 256.3,1020.7 268.8,1020.0 281.3,1020.7 293.8,1021.3 306.3,1021.9 318.8,1022.5 331.3,1022.9 343.8,1023.3 356.3,1023.7 368.8,1025.1 381.3,1026.3 393.8,1027.5 406.3,1028.5 418.8,1029.5 431.3,1030.4 443.8,1031.2 456.3,1031.4 468.8,1031.6 481.3,1031.8 493.8,1032.1 506.3,1032.3 518.8,1032.6 531.3,1032.8 543.8,1033.0 556.3,1032.9 568.8,1032.7 581.3,1032.6 593.8,1032.4 606.3,1031.1 618.8,1029.4 631.3,1027.5 643.8,1025.0 656.3,1016.7 668.8,1003.3 681.3,986.6 693.8,968.1 706.3,948.5 718.8,929.9 731.3,918.1 743.8,909.7 756.3,900.6 768.8,892.2 781.3,883.3 793.8,873.8 806.3,864.5 818.8,858.3 831.3,851.9 843.8,845.3 856.3,838.4 868.8,856.2 881.3,872.5 893.8,887.3 906.3,900.7 918.8,913.0 931.3,930.2 943.8,945.0 956.3,958.9 968.8,978.9 981.3,993.9 993.8,1000.2 1006.3,1008.3 1018.8,1013.8 1031.3,1017.0 1043.8,1021.2 1056.3,1022.1 1068.8,1023.2 1081.3,1024.6 1093.8,1025.2 1106.3,1025.7 1118.8,1026.2 1131.3,1026.2 1143.8,1026.2 1156.3,1026.2 1168.8,1026.2 1181.3,1026.2 1193.8,1026.2 1206.3,1026.0 1218.8,1025.8 1231.3,1025.6 1243.8,1025.4 1256.3,1025.2 1268.8,1025.0 1281.3,1020.8 1293.8,1016.6 1306.3,1012.5 1318.8,994.6 1331.3,971.7 1343.8,951.0 1356.3,928.9 1368.8,903.6 1381.3,876.6 1393.8,844.2 1406.3,810.1 1418.8,791.4 1431.3,771.1 1443.8,748.3 1456.3,714.2 1456.3,1020.0 1443.8,1020.7 1431.3,1022.0 1418.8,1023.3 1406.3,1024.5 1393.8,1025.1 1381.3,1025.6 1368.8,1026.0 1356.3,1027.7 1343.8,1029.7 1331.3,1031.9 1318.8,1034.4 1306.3,1036.2 1293.8,1036.7 1281.3,1037.1 1268.8,1037.2 1256.3,1037.2 1243.8,1037.2 1231.3,1037.2 1218.8,1037.2 1206.3,1037.2 1193.8,1037.2 1181.3,1037.2 1168.8,1037.2 1156.3,1037.2 1143.8,1037.2 1131.3,1037.2 1118.8,1037.2 1106.3,1037.1 1093.8,1037.1 1081.3,1037.0 1068.8,1036.9 1056.3,1036.9 1043.8,1036.9 1031.3,1036.8 1018.8,1036.6 1006.3,1036.5 993.8,1036.3 981.3,1036.2 968.8,1035.9 956.3,1035.6 943.8,1035.4 931.3,1035.1 918.8,1034.9 906.3,1034.5 893.8,1034.0 881.3,1033.5 868.8,1032.9 856.3,1032.3 843.8,1031.0 831.3,1029.5 818.8,1027.7 806.3,1025.5 793.8,1025.3 781.3,1025.8 768.8,1026.2 756.3,1026.6 743.8,1027.1 731.3,1027.6 718.8,1028.1 706.3,1028.5 693.8,1029.2 681.3,1030.0 668.8,1031.9 656.3,1034.1 643.8,1035.5 631.3,1037.3 618.8,1037.3 606.3,1037.4 593.8,1037.4 581.3,1037.4 568.8,1037.4 556.3,1037.4 543.8,1037.4 531.3,1037.4 518.8,1037.4 506.3,1037.4 493.8,1037.4 481.3,1037.4 468.8,1037.4 456.3,1037.4 443.8,1037.4 431.3,1037.4 418.8,1037.3 406.3,1037.3 393.8,1037.3 381.3,1037.2 368.8,1037.2 356.3,1037.2 343.8,1037.1 331.3,1037.1 318.8,1037.0 306.3,1037.0 293.8,1037.0 281.3,1037.0 268.8,1037.0 256.3,1037.0 243.8,1037.0 231.3,1037.0 218.8,1037.0 206.3,1037.1 193.8,1037.2 181.3,1037.2 168.8,1037.3"/><polygon fill="#fff800" points="168.8,1031.5 181.3,1030.0 193.8,1028.2 206.3,1026.0 218.8,1023.4 231.3,1022.8 243.8,1022.3 256.3,1021.7 268.8,1021.1 281.3,1021.7 293.8,1022.3 306.3,1022.8 318.8,1023.4 331.3,1023.8 343.8,1024.2 356.3,1024.7 368.8,1026.0 381.3,1027.1 393.8,1028.2 406.3,1029.2 418.8,1030.1 431.3,1030.9 443.8,1031.6 456.3,1031.9 468.8,1032.1 481.3,1032.3 493.8,1032.5 506.3,1032.7 518.8,1032.9 531.3,1033.2 543.8,1033.4 556.3,1033.2 568.8,1033.1 581.3,1032.9 593.8,1032.8 606.3,1031.5 618.8,1030.0 631.3,1028.2 643.8,1025.5 656.3,1017.5 668.8,1004.7 681.3,988.6 693.8,971.0 706.3,952.2 718.8,934.1 731.3,922.7 743.8,914.6 756.3,906.0 768.8,898.1 781.3,889.6 793.8,880.7 806.3,872.1 818.8,866.9 831.3,861.6 843.8,856.1 856.3,850.5 868.8,866.8 881.3,881.8 893.8,895.5 906.3,907.9 918.8,919.3 931.3,935.8 943.8,950.0 956.3,963.3 968.8,982.1 981.3,996.2 993.8,1002.2 1006.3,1009.9 1018.8,1015.2 1031.3,1018.1 1043.8,1022.1 1056.3,1023.0 1068.8,1024.1 1081.3,1025.5 1093.8,1026.0 1106.3,1026.5 1118.8,1026.9 1131.3,1026.9 1143.8,1026.9 1156.3,1026.9 1168.8,1026.9 1181.3,1026.9 1193.8,1026.9 1206.3,1026.7 1218.8,1026.5 1231.3,1026.3 1243.8,1026.1 1256.3,1025.9 1268.8,1025.7 1281.3,1021.7 1293.8,1017.8 1306.3,1013.8 1318.8,996.7 1331.3,974.5 1343.8,954.3 1356.3,933.0 1368.8,909.1 1381.3,884.4 1393.8,855.2 1406.3,824.6 1418.8,808.2 1431.3,790.6 1443.8,770.7 1456.3,741.1 1456.3,1019.0 1443.8,1019.7 1431.3,1021.0 1418.8,1022.3 1406.3,1023.6 1393.8,1024.2 1381.3,1024.8 1368.8,1025.3 1356.3,1027.0 1343.8,1029.2 1331.3,1031.6 1318.8,1034.2 1306.3,1036.0 1293.8,1036.7 1281.3,1037.0 1268.8,1037.1 1256.3,1037.1 1243.8,1037.1 1231.3,1037.1 1218.8,1037.1 1206.3,1037.1 1193.8,1037.1 1181.3,1037.1 1168.8,1037.1 1156.3,1037.1 1143.8,1037.1 1131.3,1037.1 1118.8,1037.1 1106.3,1037.1 1093.8,1037.0 1081.3,1037.0 1068.8,1036.9 1056.3,1036.8 1043.8,1036.8 1031.3,1036.7 1018.8,1036.5 1006.3,1036.3 993.8,1036.1 981.3,1036.0 968.8,1035.7 956.3,1035.4 943.8,1035.2 931.3,1034.9 918.8,1034.7 906.3,1034.2 893.8,1033.7 881.3,1033.1 868.8,1032.5 856.3,1031.8 843.8,1030.5 831.3,1028.9 818.8,1027.0 806.3,1024.8 793.8,1024.6 781.3,1025.0 768.8,1025.4 756.3,1025.8 743.8,1026.4 731.3,1027.0 718.8,1027.6 706.3,1028.1 693.8,1028.8 681.3,1029.7 668.8,1031.6 656.3,1033.9 643.8,1035.4 631.3,1037.2 618.8,1037.3 606.3,1037.4 593.8,1037.4 581.3,1037.4 568.8,1037.4 556.3,1037.4 543.8,1037.4 531.3,1037.4 518.8,1037.4 506.3,1037.4 493.8,1037.4 481.3,1037.4 468.8,1037.4 456.3,1037.4 443.8,1037.4 431.3,1037.4 418.8,1037.3 406.3,1037.3 393.8,1037.3 381.3,1037.2 368.8,1037.2 356.3,1037.1 343.8,1037.1 331.3,1037.0 318.8,1037.0 306.3,1037.0 293.8,1037.0 281.3,1036.9 268.8,1036.9 256.3,1036.9 243.8,1037.0 231.3,1037.0 218.8,1037.0 206.3,1037.0 193.8,1037.1 181.3,1037.2 168.8,1037.2"/><polygon fill="#fff100" points="168.8,1031.9 181.3,1030.4 193.8,1028.7 206.3,1026.7 218.8,1024.2 231.3,1023.7 243.8,1023.2 256.3,1022.6 268.8,1022.1 281.3,1022.6 293.8,1023.2 306.3,1023.7 318.8,1024.2 331.3,1024.6 343.8,1025.1 356.3,1025.5 368.8,1026.7 381.3,1027.9 393.8,1028.9 406.3,1029.8 418.8,1030.6 431.3,1031.4 443.8,1032.1 456.3,1032.3 468.8,1032.5 481.3,1032.7 493.8,1032.9 506.3,1033.1 518.8,1033.3 531.3,1033.5 543.8,1033.7 556.3,1033.5 568.8,1033.4 581.3,1033.3 593.8,1033.1 606.3,1032.0 618.8,1030.6 631.3,1028.9 643.8,1025.9 656.3,1018.3 668.8,1005.9 681.3,990.5 693.8,973.7 706.3,955.6 718.8,938.0 731.3,926.9 743.8,919.2 756.3,911.0 768.8,903.4 781.3,895.4 793.8,886.9 806.3,878.9 818.8,874.6 831.3,870.3 843.8,865.8 856.3,861.2 868.8,876.3 881.3,890.1 893.8,902.8 906.3,914.3 918.8,924.9 931.3,940.8 943.8,954.5 956.3,967.3 968.8,985.0 981.3,998.3 993.8,1004.1 1006.3,1011.4 1018.8,1016.3 1031.3,1019.1 1043.8,1022.9 1056.3,1023.8 1068.8,1024.9 1081.3,1026.2 1093.8,1026.8 1106.3,1027.2 1118.8,1027.6 1131.3,1027.6 1143.8,1027.6 1156.3,1027.6 1168.8,1027.6 1181.3,1027.6 1193.8,1027.6 1206.3,1027.4 1218.8,1027.2 1231.3,1027.0 1243.8,1026.8 1256.3,1026.6 1268.8,1026.3 1281.3,1022.6 1293.8,1018.8 1306.3,1014.9 1318.8,998.5 1331.3,977.0 1343.8,957.2 1356.3,936.7 1368.8,914.0 1381.3,891.6 1393.8,865.0 1406.3,837.6 1418.8,823.2 1431.3,807.8 1443.8,790.5 1456.3,764.7 1456.3,1018.1 1443.8,1018.7 1431.3,1020.0 1418.8,1021.4 1406.3,1022.6 1393.8,1023.3 1381.3,1023.9 1368.8,1024.5 1356.3,1026.4 1343.8,1028.7 1331.3,1031.2 1318.8,1033.9 1306.3,1035.9 1293.8,1036.6 1281.3,1037.0 1268.8,1037.1 1256.3,1037.1 1243.8,1037.1 1231.3,1037.1 1218.8,1037.1 1206.3,1037.1 1193.8,1037.1 1181.3,1037.1 1168.8,1037.1 1156.3,1037.1 1143.8,1037.1 1131.3,1037.1 1118.8,1037.1 1106.3,1037.0 1093.8,1037.0 1081.3,1036.9 1068.8,1036.8 1056.3,1036.8 1043.8,1036.8 1031.3,1036.6 1018.8,1036.4 1006.3,1036.2 993.8,1036.0 981.3,1035.9 968.8,1035.6 956.3,1035.2 943.8,1035.0 931.3,1034.7 918.8,1034.4 906.3,1033.9 893.8,1033.4 881.3,1032.7 868.8,1032.0 856.3,1031.2 843.8,1029.8 831.3,1028.2 818.8,1026.3 806.3,1024.1 793.8,1023.9 781.3,1024.3 768.8,1024.6 756.3,1025.0 743.8,1025.7 731.3,1026.4 718.8,1027.1 706.3,1027.7 693.8,1028.5 681.3,1029.4 668.8,1031.4 656.3,1033.7 643.8,1035.3 631.3,1037.2 618.8,1037.3 606.3,1037.3 593.8,1037.4 581.3,1037.4 568.8,1037.4 556.3,1037.4 543.8,1037.4 531.3,1037.4 518.8,1037.4 506.3,1037.4 493.8,1037.4 481.3,1037.4 468.8,1037.4 456.3,1037.4 443.8,1037.4 431.3,1037.4 418.8,1037.3 406.3,1037.3 393.8,1037.2 381.3,1037.2 368.8,1037.1 356.3,1037.1 343.8,1037.0 331.3,1037.0 318.8,1036.9 306.3,1036.9 293.8,1036.9 281.3,1036.9 268.8,1036.9 256.3,1036.9 243.8,1036.9 231.3,1036.9 218.8,1036.9 206.3,1037.0 193.8,1037.1 181.3,1037.1 168.8,1037.2"/><polygon fill="#ffea00" points="168.8,1032.1 181.3,1030.8 193.8,1029.2 206.3,1027.3 218.8,1024.9 231.3,1024.5 243.8,1024.0 256.3,1023.5 268.8,1023.0 281.3,1023.5 293.8,1024.0 306.3,1024.5 318.8,1024.9 331.3,1025.4 343.8,1025.8 356.3,1026.2 368.8,1027.4 381.3,1028.5 393.8,1029.5 406.3,1030.3 418.8,1031.1 431.3,1031.8 443.8,1032.4 456.3,1032.6 468.8,1032.8 481.3,1033.0 493.8,1033.2 506.3,1033.4 518.8,1033.6 531.3,1033.8 543.8,1033.9 556.3,1033.8 568.8,1033.7 581.3,1033.6 593.8,1033.4 606.3,1032.3 618.8,1031.0 631.3,1029.5 643.8,1026.4 656.3,1019.0 668.8,1007.0 681.3,992.2 693.8,976.1 706.3,958.7 718.8,941.5 731.3,930.8 743.8,923.4 756.3,915.5 768.8,908.3 781.3,900.7 793.8,892.6 806.3,885.1 818.8,881.7 831.3,878.2 843.8,874.5 856.3,870.9 868.8,884.8 881.3,897.7 893.8,909.4 906.3,920.2 918.8,930.1 931.3,945.4 943.8,958.6 956.3,970.8 968.8,987.6 981.3,1000.2 993.8,1005.7 1006.3,1012.7 1018.8,1017.4 1031.3,1020.0 1043.8,1023.7 1056.3,1024.5 1068.8,1025.7 1081.3,1027.0 1093.8,1027.4 1106.3,1027.8 1118.8,1028.2 1131.3,1028.2 1143.8,1028.2 1156.3,1028.2 1168.8,1028.2 1181.3,1028.2 1193.8,1028.2 1206.3,1028.0 1218.8,1027.8 1231.3,1027.6 1243.8,1027.4 1256.3,1027.1 1268.8,1026.9 1281.3,1023.4 1293.8,1019.7 1306.3,1015.9 1318.8,1000.2 1331.3,979.4 1343.8,960.0 1356.3,940.2 1368.8,918.6 1381.3,898.0 1393.8,874.0 1406.3,849.3 1418.8,836.7 1431.3,823.2 1443.8,808.1 1456.3,785.5 1456.3,1017.1 1443.8,1017.7 1431.3,1019.0 1418.8,1020.4 1406.3,1021.6 1393.8,1022.4 1381.3,1023.1 1368.8,1023.7 1356.3,1025.7 1343.8,1028.2 1331.3,1030.8 1318.8,1033.7 1306.3,1035.8 1293.8,1036.5 1281.3,1036.9 1268.8,1037.0 1256.3,1037.0 1243.8,1037.0 1231.3,1037.1 1218.8,1037.1 1206.3,1037.1 1193.8,1037.1 1181.3,1037.1 1168.8,1037.1 1156.3,1037.1 1143.8,1037.0 1131.3,1037.0 1118.8,1037.0 1106.3,1037.0 1093.8,1036.9 1081.3,1036.9 1068.8,1036.8 1056.3,1036.7 1043.8,1036.7 1031.3,1036.5 1018.8,1036.3 1006.3,1036.1 993.8,1035.9 981.3,1035.8 968.8,1035.4 956.3,1035.0 943.8,1034.8 931.3,1034.5 918.8,1034.2 906.3,1033.6 893.8,1033.0 881.3,1032.3 868.8,1031.5 856.3,1030.6 843.8,1029.2 831.3,1027.6 818.8,1025.7 806.3,1023.4 793.8,1023.2 781.3,1023.5 768.8,1023.9 756.3,1024.2 743.8,1025.0 731.3,1025.8 718.8,1026.6 706.3,1027.2 693.8,1028.1 681.3,1029.1 668.8,1031.1 656.3,1033.5 643.8,1035.2 631.3,1037.2 618.8,1037.3 606.3,1037.3 593.8,1037.4 581.3,1037.4 568.8,1037.4 556.3,1037.4 543.8,1037.4 531.3,1037.4 518.8,1037.4 506.3,1037.4 493.8,1037.4 481.3,1037.4 468.8,1037.4 456.3,1037.4 443.8,1037.4 431.3,1037.4 418.8,1037.3 406.3,1037.3 393.8,1037.2 381.3,1037.2 368.8,1037.1 356.3,1037.0 343.8,1037.0 331.3,1036.9 318.8,1036.8 306.3,1036.8 293.8,1036.8 281.3,1036.8 268.8,1036.8 256.3,1036.8 243.8,1036.8 231.3,1036.8 218.8,1036.8 206.3,1036.9 193.8,1037.0 181.3,1037.1 168.8,1037.2"/><polygon fill="#ffe300" points="168.8,1032.4 181.3,1031.2 193.8,1029.6 206.3,1027.8 218.8,1025.6 231.3,1025.2 243.8,1024.7 256.3,1024.3 268.8,1023.8 281.3,1024.3 293.8,1024.7 306.3,1025.2 318.8,1025.6 331.3,1026.1 343.8,1026.5 356.3,1026.9 368.8,1028.1 381.3,1029.1 393.8,1030.0 406.3,1030.8 418.8,1031.5 431.3,1032.2 443.8,1032.8 456.3,1033.0 468.8,1033.2 481.3,1033.3 493.8,1033.5 506.3,1033.7 518.8,1033.9 531.3,1034.0 543.8,1034.2 556.3,1034.1 568.8,1033.9 581.3,1033.8 593.8,1033.7 606.3,1032.7 618.8,1031.5 631.3,1030.0 643.8,1026.8 656.3,1019.6 668.8,1008.1 681.3,993.8 693.8,978.4 706.3,961.6 718.8,944.8 731.3,934.4 743.8,927.3 756.3,919.7 768.8,912.8 781.3,905.6 793.8,897.9 806.3,890.9 818.8,888.2 831.3,885.4 843.8,882.5 856.3,879.6 868.8,892.6 881.3,904.5 893.8,915.5 906.3,925.5 918.8,934.8 931.3,949.6 943.8,962.4 956.3,974.1 968.8,990.0 981.3,1002.0 993.8,1007.3 1006.3,1013.9 1018.8,1018.4 1031.3,1020.8 1043.8,1024.3 1056.3,1025.2 1068.8,1026.3 1081.3,1027.6 1093.8,1028.0 1106.3,1028.4 1118.8,1028.7 1131.3,1028.7 1143.8,1028.7 1156.3,1028.7 1168.8,1028.7 1181.3,1028.7 1193.8,1028.7 1206.3,1028.5 1218.8,1028.3 1231.3,1028.1 1243.8,1027.9 1256.3,1027.7 1268.8,1027.5 1281.3,1024.1 1293.8,1020.6 1306.3,1016.9 1318.8,1001.8 1331.3,981.5 1343.8,962.5 1356.3,943.3 1368.8,922.8 1381.3,904.0 1393.8,882.1 1406.3,859.9 1418.8,848.8 1431.3,836.9 1443.8,823.8 1456.3,804.0 1456.3,1016.1 1443.8,1016.7 1431.3,1018.0 1418.8,1019.4 1406.3,1020.6 1393.8,1021.5 1381.3,1022.2 1368.8,1022.9 1356.3,1025.1 1343.8,1027.7 1331.3,1030.5 1318.8,1033.5 1306.3,1035.7 1293.8,1036.4 1281.3,1036.8 1268.8,1037.0 1256.3,1037.0 1243.8,1037.0 1231.3,1037.0 1218.8,1037.0 1206.3,1037.0 1193.8,1037.0 1181.3,1037.0 1168.8,1037.0 1156.3,1037.0 1143.8,1037.0 1131.3,1037.0 1118.8,1037.0 1106.3,1036.9 1093.8,1036.9 1081.3,1036.8 1068.8,1036.7 1056.3,1036.6 1043.8,1036.6 1031.3,1036.4 1018.8,1036.3 1006.3,1036.0 993.8,1035.8 981.3,1035.7 968.8,1035.3 956.3,1034.9 943.8,1034.6 931.3,1034.3 918.8,1033.9 906.3,1033.3 893.8,1032.6 881.3,1031.9 868.8,1031.0 856.3,1030.0 843.8,1028.6 831.3,1026.9 818.8,1025.0 806.3,1022.7 793.8,1022.5 781.3,1022.8 768.8,1023.1 756.3,1023.3 743.8,1024.3 731.3,1025.2 718.8,1026.0 706.3,1026.8 693.8,1027.7 681.3,1028.8 668.8,1030.9 656.3,1033.3 643.8,1035.0 631.3,1037.2 618.8,1037.3 606.3,1037.3 593.8,1037.4 581.3,1037.4 568.8,1037.4 556.3,1037.4 543.8,1037.4 531.3,1037.4 518.8,1037.4 506.3,1037.4 493.8,1037.4 481.3,1037.4 468.8,1037.4 456.3,1037.4 443.8,1037.4 431.3,1037.4 418.8,1037.3 406.3,1037.3 393.8,1037.2 381.3,1037.2 368.8,1037.1 356.3,1037.0 343.8,1036.9 331.3,1036.9 318.8,1036.8 306.3,1036.8 293.8,1036.7 281.3,1036.7 268.8,1036.7 256.3,1036.7 243.8,1036.7 231.3,1036.8 218.8,1036.8 206.3,1036.9 193.8,1037.0 181.3,1037.1 168.8,1037.2"/><polygon fill="#ffdc00" points="168.8,1032.7 181.3,1031.5 193.8,1030.0 206.3,1028.3 218.8,1026.2 231.3,1025.8 243.8,1025.4 256.3,1025.0 268.8,1024.5 281.3,1025.0 293.8,1025.4 306.3,1025.8 318.8,1026.2 331.3,1026.7 343.8,1027.1 356.3,1027.5 368.8,1028.6 381.3,1029.6 393.8,1030.5 406.3,1031.3 418.8,1031.9 431.3,1032.5 443.8,1033.1 456.3,1033.3 468.8,1033.5 481.3,1033.6 493.8,1033.8 506.3,1034.0 518.8,1034.1 531.3,1034.3 543.8,1034.4 556.3,1034.3 568.8,1034.2 581.3,1034.1 593.8,1033.9 606.3,1033.0 618.8,1031.9 631.3,1030.5 643.8,1027.2 656.3,1020.2 668.8,1009.1 681.3,995.3 693.8,980.5 706.3,964.2 718.8,947.8 731.3,937.7 743.8,930.9 756.3,923.6 768.8,917.0 781.3,910.1 793.8,902.8 806.3,896.2 818.8,894.1 831.3,892.0 843.8,889.9 856.3,887.7 868.8,899.7 881.3,910.8 893.8,921.1 906.3,930.5 918.8,939.1 931.3,953.5 943.8,965.8 956.3,977.1 968.8,992.2 981.3,1003.6 993.8,1008.7 1006.3,1015.0 1018.8,1019.3 1031.3,1021.6 1043.8,1025.0 1056.3,1025.8 1068.8,1026.9 1081.3,1028.2 1093.8,1028.6 1106.3,1028.9 1118.8,1029.2 1131.3,1029.2 1143.8,1029.2 1156.3,1029.2 1168.8,1029.2 1181.3,1029.2 1193.8,1029.2 1206.3,1029.0 1218.8,1028.8 1231.3,1028.6 1243.8,1028.4 1256.3,1028.2 1268.8,1028.0 1281.3,1024.8 1293.8,1021.4 1306.3,1017.7 1318.8,1003.2 1331.3,983.5 1343.8,964.9 1356.3,946.3 1368.8,926.8 1381.3,909.5 1393.8,889.6 1406.3,869.6 1418.8,859.7 1431.3,849.4 1443.8,837.9 1456.3,820.5 1456.3,1015.1 1443.8,1015.7 1431.3,1017.0 1418.8,1018.3 1406.3,1019.6 1393.8,1020.5 1381.3,1021.3 1368.8,1022.1 1356.3,1024.4 1343.8,1027.2 1331.3,1030.1 1318.8,1033.3 1306.3,1035.5 1293.8,1036.3 1281.3,1036.8 1268.8,1037.0 1256.3,1037.0 1243.8,1037.0 1231.3,1037.0 1218.8,1037.0 1206.3,1037.0 1193.8,1037.0 1181.3,1037.0 1168.8,1037.0 1156.3,1037.0 1143.8,1037.0 1131.3,1037.0 1118.8,1037.0 1106.3,1036.9 1093.8,1036.8 1081.3,1036.8 1068.8,1036.6 1056.3,1036.6 1043.8,1036.5 1031.3,1036.3 1018.8,1036.2 1006.3,1035.9 993.8,1035.7 981.3,1035.5 968.8,1035.1 956.3,1034.7 943.8,1034.4 931.3,1034.0 918.8,1033.7 906.3,1033.0 893.8,1032.3 881.3,1031.4 868.8,1030.5 856.3,1029.4 843.8,1027.9 831.3,1026.3 818.8,1024.3 806.3,1022.0 793.8,1021.8 781.3,1022.0 768.8,1022.3 756.3,1022.5 743.8,1023.6 731.3,1024.6 718.8,1025.5 706.3,1026.4 693.8,1027.4 681.3,1028.4 668.8,1030.6 656.3,1033.2 643.8,1034.9 631.3,1037.1 618.8,1037.2 606.3,1037.3 593.8,1037.4 581.3,1037.4 568.8,1037.4 556.3,1037.4 543.8,1037.4 531.3,1037.4 518.8,1037.4 506.3,1037.4 493.8,1037.4 481.3,1037.4 468.8,1037.4 456.3,1037.4 443.8,1037.4 431.3,1037.4 418.8,1037.3 406.3,1037.3 393.8,1037.2 381.3,1037.1 368.8,1037.0 356.3,1037.0 343.8,1036.9 331.3,1036.8 318.8,1036.7 306.3,1036.7 293.8,1036.7 281.3,1036.6 268.8,1036.6 256.3,1036.6 243.8,1036.7 231.3,1036.7 218.8,1036.7 206.3,1036.8 193.8,1036.9 181.3,1037.0 168.8,1037.1"/><polygon fill="#ffd400" points="168.8,1032.9 181.3,1031.8 193.8,1030.4 206.3,1028.8 218.8,1026.8 231.3,1026.4 243.8,1026.0 256.3,1025.6 268.8,1025.2 281.3,1025.6 293.8,1026.0 306.3,1026.4 318.8,1026.8 331.3,1027.3 343.8,1027.7 356.3,1028.1 368.8,1029.2 381.3,1030.1 393.8,1031.0 406.3,1031.7 418.8,1032.3 431.3,1032.8 443.8,1033.4 456.3,1033.6 468.8,1033.7 481.3,1033.9 493.8,1034.1 506.3,1034.2 518.8,1034.4 531.3,1034.5 543.8,1034.6 556.3,1034.5 568.8,1034.4 581.3,1034.3 593.8,1034.2 606.3,1033.3 618.8,1032.2 631.3,1031.0 643.8,1027.5 656.3,1020.8 668.8,1010.0 681.3,996.6 693.8,982.4 706.3,966.7 718.8,950.7 731.3,940.8 743.8,934.2 756.3,927.2 768.8,921.0 781.3,914.4 793.8,907.4 806.3,901.2 818.8,899.7 831.3,898.2 843.8,896.6 856.3,895.1 868.8,906.3 881.3,916.7 893.8,926.2 906.3,935.0 918.8,943.1 931.3,957.1 943.8,969.0 956.3,979.9 968.8,994.2 981.3,1005.1 993.8,1009.9 1006.3,1016.0 1018.8,1020.1 1031.3,1022.3 1043.8,1025.5 1056.3,1026.4 1068.8,1027.5 1081.3,1028.7 1093.8,1029.1 1106.3,1029.4 1118.8,1029.7 1131.3,1029.7 1143.8,1029.7 1156.3,1029.7 1168.8,1029.7 1181.3,1029.7 1193.8,1029.7 1206.3,1029.5 1218.8,1029.3 1231.3,1029.1 1243.8,1028.9 1256.3,1028.6 1268.8,1028.4 1281.3,1025.4 1293.8,1022.1 1306.3,1018.5 1318.8,1004.6 1331.3,985.4 1343.8,967.1 1356.3,949.1 1368.8,930.4 1381.3,914.6 1393.8,896.5 1406.3,878.4 1418.8,869.7 1431.3,860.7 1443.8,850.6 1456.3,835.3 1456.3,1014.1 1443.8,1014.6 1431.3,1016.0 1418.8,1017.3 1406.3,1018.5 1393.8,1019.5 1381.3,1020.4 1368.8,1021.3 1356.3,1023.7 1343.8,1026.7 1331.3,1029.8 1318.8,1033.0 1306.3,1035.4 1293.8,1036.3 1281.3,1036.7 1268.8,1036.9 1256.3,1036.9 1243.8,1036.9 1231.3,1037.0 1218.8,1037.0 1206.3,1037.0 1193.8,1037.0 1181.3,1037.0 1168.8,1037.0 1156.3,1037.0 1143.8,1036.9 1131.3,1036.9 1118.8,1036.9 1106.3,1036.9 1093.8,1036.8 1081.3,1036.7 1068.8,1036.6 1056.3,1036.5 1043.8,1036.5 1031.3,1036.2 1018.8,1036.1 1006.3,1035.8 993.8,1035.6 981.3,1035.4 968.8,1035.0 956.3,1034.5 943.8,1034.1 931.3,1033.8 918.8,1033.4 906.3,1032.7 893.8,1031.9 881.3,1031.0 868.8,1029.9 856.3,1028.8 843.8,1027.3 831.3,1025.6 818.8,1023.6 806.3,1021.3 793.8,1021.0 781.3,1021.2 768.8,1021.4 756.3,1021.6 743.8,1022.8 731.3,1024.0 718.8,1025.0 706.3,1026.0 693.8,1027.0 681.3,1028.1 668.8,1030.4 656.3,1033.0 643.8,1034.8 631.3,1037.1 618.8,1037.2 606.3,1037.3 593.8,1037.4 581.3,1037.4 568.8,1037.4 556.3,1037.4 543.8,1037.4 531.3,1037.4 518.8,1037.4 506.3,1037.4 493.8,1037.4 481.3,1037.4 468.8,1037.4 456.3,1037.4 443.8,1037.4 431.3,1037.4 418.8,1037.3 406.3,1037.3 393.8,1037.2 381.3,1037.1 368.8,1037.0 356.3,1036.9 343.8,1036.8 331.3,1036.7 318.8,1036.7 306.3,1036.6 293.8,1036.6 281.3,1036.5 268.8,1036.5 256.3,1036.5 243.8,1036.6 231.3,1036.6 218.8,1036.7 206.3,1036.8 193.8,1036.9 181.3,1037.0 168.8,1037.1"/><polygon fill="#ffcd00" points="168.8,1033.1 181.3,1032.0 193.8,1030.7 206.3,1029.2 218.8,1027.3 231.3,1027.0 243.8,1026.6 256.3,1026.2 268.8,1025.8 281.3,1026.2 293.8,1026.6 306.3,1027.0 318.8,1027.3 331.3,1027.8 343.8,1028.2 356.3,1028.6 368.8,1029.6 381.3,1030.6 393.8,1031.4 406.3,1032.0 418.8,1032.6 431.3,1033.1 443.8,1033.6 456.3,1033.8 468.8,1034.0 481.3,1034.1 493.8,1034.3 506.3,1034.4 518.8,1034.6 531.3,1034.7 543.8,1034.8 556.3,1034.7 568.8,1034.6 581.3,1034.5 593.8,1034.4 606.3,1033.5 618.8,1032.6 631.3,1031.4 643.8,1027.8 656.3,1021.3 668.8,1010.8 681.3,997.9 693.8,984.2 706.3,969.0 718.8,953.3 731.3,943.8 743.8,937.4 756.3,930.6 768.8,924.6 781.3,918.3 793.8,911.7 806.3,905.9 818.8,904.9 831.3,903.9 843.8,902.9 856.3,901.8 868.8,912.3 881.3,922.0 893.8,931.0 906.3,939.2 918.8,946.9 931.3,960.4 943.8,971.9 956.3,982.4 968.8,996.1 981.3,1006.5 993.8,1011.1 1006.3,1016.9 1018.8,1020.9 1031.3,1023.0 1043.8,1026.1 1056.3,1026.9 1068.8,1028.0 1081.3,1029.2 1093.8,1029.6 1106.3,1029.8 1118.8,1030.1 1131.3,1030.1 1143.8,1030.1 1156.3,1030.1 1168.8,1030.1 1181.3,1030.1 1193.8,1030.1 1206.3,1029.9 1218.8,1029.7 1231.3,1029.5 1243.8,1029.3 1256.3,1029.1 1268.8,1028.8 1281.3,1026.0 1293.8,1022.8 1306.3,1019.3 1318.8,1005.8 1331.3,987.1 1343.8,969.2 1356.3,951.7 1368.8,933.9 1381.3,919.4 1393.8,902.8 1406.3,886.5 1418.8,878.9 1431.3,870.9 1443.8,862.2 1456.3,848.8 1456.3,1013.1 1443.8,1013.6 1431.3,1014.9 1418.8,1016.2 1406.3,1017.5 1393.8,1018.5 1381.3,1019.5 1368.8,1020.4 1356.3,1023.1 1343.8,1026.2 1331.3,1029.4 1318.8,1032.8 1306.3,1035.3 1293.8,1036.2 1281.3,1036.7 1268.8,1036.9 1256.3,1036.9 1243.8,1036.9 1231.3,1036.9 1218.8,1036.9 1206.3,1037.0 1193.8,1037.0 1181.3,1037.0 1168.8,1036.9 1156.3,1036.9 1143.8,1036.9 1131.3,1036.9 1118.8,1036.9 1106.3,1036.8 1093.8,1036.7 1081.3,1036.7 1068.8,1036.5 1056.3,1036.4 1043.8,1036.4 1031.3,1036.1 1018.8,1036.0 1006.3,1035.7 993.8,1035.5 981.3,1035.3 968.8,1034.8 956.3,1034.3 943.8,1033.9 931.3,1033.6 918.8,1033.1 906.3,1032.4 893.8,1031.5 881.3,1030.5 868.8,1029.4 856.3,1028.1 843.8,1026.6 831.3,1024.9 818.8,1022.9 806.3,1020.6 793.8,1020.3 781.3,1020.4 768.8,1020.6 756.3,1020.8 743.8,1022.1 731.3,1023.4 718.8,1024.5 706.3,1025.6 693.8,1026.7 681.3,1027.8 668.8,1030.1 656.3,1032.8 643.8,1034.7 631.3,1037.1 618.8,1037.2 606.3,1037.3 593.8,1037.4 581.3,1037.4 568.8,1037.4 556.3,1037.4 543.8,1037.4 531.3,1037.4 518.8,1037.4 506.3,1037.4 493.8,1037.4 481.3,1037.4 468.8,1037.4 456.3,1037.4 443.8,1037.4 431.3,1037.3 418.8,1037.3 406.3,1037.2 393.8,1037.2 381.3,1037.1 368.8,1037.0 356.3,1036.9 343.8,1036.8 331.3,1036.7 318.8,1036.6 306.3,1036.6 293.8,1036.5 281.3,1036.5 268.8,1036.4 256.3,1036.5 243.8,1036.5 231.3,1036.6 218.8,1036.6 206.3,1036.7 193.8,1036.9 181.3,1037.0 168.8,1037.1"/><polygon fill="#ffc600" points="168.8,1033.3 181.3,1032.3 193.8,1031.0 206.3,1029.6 218.8,1027.8 231.3,1027.5 243.8,1027.1 256.3,1026.8 268.8,1026.4 281.3,1026.8 293.8,1027.1 306.3,1027.5 318.8,1027.8 331.3,1028.3 343.8,1028.7 356.3,1029.1 368.8,1030.1 381.3,1031.0 393.8,1031.8 406.3,1032.4 418.8,1032.9 431.3,1033.4 443.8,1033.9 456.3,1034.0 468.8,1034.2 481.3,1034.4 493.8,1034.5 506.3,1034.6 518.8,1034.8 531.3,1034.9 543.8,1035.0 556.3,1034.9 568.8,1034.8 581.3,1034.7 593.8,1034.6 606.3,1033.8 618.8,1032.9 631.3,1031.8 643.8,1028.1 656.3,1021.8 668.8,1011.6 681.3,999.2 693.8,986.0 706.3,971.2 718.8,955.8 731.3,946.5 743.8,940.4 756.3,933.8 768.8,928.1 781.3,922.1 793.8,915.7 806.3,910.2 818.8,909.7 831.3,909.2 843.8,908.7 856.3,908.1 868.8,917.9 881.3,927.0 893.8,935.4 906.3,943.2 918.8,950.3 931.3,963.5 943.8,974.7 956.3,984.8 968.8,997.9 981.3,1007.7 993.8,1012.3 1006.3,1017.8 1018.8,1021.6 1031.3,1023.6 1043.8,1026.6 1056.3,1027.4 1068.8,1028.5 1081.3,1029.7 1093.8,1030.0 1106.3,1030.2 1118.8,1030.5 1131.3,1030.5 1143.8,1030.5 1156.3,1030.5 1168.8,1030.5 1181.3,1030.5 1193.8,1030.5 1206.3,1030.3 1218.8,1030.1 1231.3,1029.9 1243.8,1029.7 1256.3,1029.5 1268.8,1029.2 1281.3,1026.5 1293.8,1023.4 1306.3,1020.0 1318.8,1007.0 1331.3,988.7 1343.8,971.1 1356.3,954.2 1368.8,937.1 1381.3,923.8 1393.8,908.7 1406.3,893.9 1418.8,887.3 1431.3,880.4 1443.8,872.7 1456.3,860.9 1456.3,1012.1 1443.8,1012.5 1431.3,1013.8 1418.8,1015.2 1406.3,1016.4 1393.8,1017.5 1381.3,1018.6 1368.8,1019.6 1356.3,1022.4 1343.8,1025.7 1331.3,1029.0 1318.8,1032.6 1306.3,1035.2 1293.8,1036.1 1281.3,1036.6 1268.8,1036.8 1256.3,1036.9 1243.8,1036.9 1231.3,1036.9 1218.8,1036.9 1206.3,1036.9 1193.8,1036.9 1181.3,1036.9 1168.8,1036.9 1156.3,1036.9 1143.8,1036.9 1131.3,1036.9 1118.8,1036.8 1106.3,1036.8 1093.8,1036.7 1081.3,1036.6 1068.8,1036.5 1056.3,1036.4 1043.8,1036.3 1031.3,1036.1 1018.8,1035.9 1006.3,1035.6 993.8,1035.4 981.3,1035.2 968.8,1034.7 956.3,1034.1 943.8,1033.7 931.3,1033.3 918.8,1032.9 906.3,1032.0 893.8,1031.1 881.3,1030.0 868.8,1028.8 856.3,1027.4 843.8,1025.9 831.3,1024.1 818.8,1022.2 806.3,1019.9 793.8,1019.5 781.3,1019.6 768.8,1019.8 756.3,1019.9 743.8,1021.3 731.3,1022.7 718.8,1024.0 706.3,1025.2 693.8,1026.3 681.3,1027.5 668.8,1029.9 656.3,1032.6 643.8,1034.5 631.3,1037.1 618.8,1037.2 606.3,1037.3 593.8,1037.4 581.3,1037.4 568.8,1037.4 556.3,1037.4 543.8,1037.4 531.3,1037.4 518.8,1037.4 506.3,1037.4 493.8,1037.4 481.3,1037.4 468.8,1037.4 456.3,1037.4 443.8,1037.4 431.3,1037.3 418.8,1037.3 406.3,1037.2 393.8,1037.2 381.3,1037.1 368.8,1037.0 356.3,1036.8 343.8,1036.7 331.3,1036.6 318.8,1036.5 306.3,1036.5 293.8,1036.4 281.3,1036.4 268.8,1036.3 256.3,1036.4 243.8,1036.4 231.3,1036.5 218.8,1036.5 206.3,1036.7 193.8,1036.8 181.3,1037.0 168.8,1037.1"/><polygon fill="#ffbf00" points="168.8,1033.5 181.3,1032.5 193.8,1031.3 206.3,1029.9 218.8,1028.3 231.3,1028.0 243.8,1027.6 256.3,1027.3 268.8,1027.0 281.3,1027.3 293.8,1027.6 306.3,1028.0 318.8,1028.3 331.3,1028.7 343.8,1029.1 356.3,1029.5 368.8,1030.5 381.3,1031.3 393.8,1032.1 406.3,1032.7 418.8,1033.2 431.3,1033.7 443.8,1034.1 456.3,1034.3 468.8,1034.4 481.3,1034.6 493.8,1034.7 506.3,1034.8 518.8,1034.9 531.3,1035.0 543.8,1035.1 556.3,1035.0 568.8,1034.9 581.3,1034.8 593.8,1034.7 606.3,1034.0 618.8,1033.1 631.3,1032.1 643.8,1028.4 656.3,1022.3 668.8,1012.4 681.3,1000.3 693.8,987.6 706.3,973.3 718.8,958.2 731.3,949.1 743.8,943.2 756.3,936.9 768.8,931.4 781.3,925.6 793.8,919.5 806.3,914.3 818.8,914.2 831.3,914.1 843.8,914.1 856.3,914.0 868.8,923.1 881.3,931.7 893.8,939.5 906.3,946.8 918.8,953.6 931.3,966.4 943.8,977.2 956.3,987.0 968.8,999.5 981.3,1008.9 993.8,1013.3 1006.3,1018.6 1018.8,1022.3 1031.3,1024.2 1043.8,1027.0 1056.3,1027.9 1068.8,1028.9 1081.3,1030.1 1093.8,1030.4 1106.3,1030.6 1118.8,1030.9 1131.3,1030.9 1143.8,1030.9 1156.3,1030.9 1168.8,1030.9 1181.3,1030.9 1193.8,1030.9 1206.3,1030.7 1218.8,1030.5 1231.3,1030.3 1243.8,1030.0 1256.3,1029.8 1268.8,1029.6 1281.3,1027.0 1293.8,1024.0 1306.3,1020.6 1318.8,1008.1 1331.3,990.3 1343.8,973.0 1356.3,956.5 1368.8,940.2 1381.3,927.9 1393.8,914.2 1406.3,900.8 1418.8,895.0 1431.3,889.0 1443.8,882.3 1456.3,872.0 1456.3,1011.1 1443.8,1011.5 1431.3,1012.8 1418.8,1014.1 1406.3,1015.3 1393.8,1016.5 1381.3,1017.6 1368.8,1018.7 1356.3,1021.7 1343.8,1025.2 1331.3,1028.6 1318.8,1032.3 1306.3,1035.0 1293.8,1036.0 1281.3,1036.6 1268.8,1036.8 1256.3,1036.8 1243.8,1036.9 1231.3,1036.9 1218.8,1036.9 1206.3,1036.9 1193.8,1036.9 1181.3,1036.9 1168.8,1036.9 1156.3,1036.9 1143.8,1036.9 1131.3,1036.8 1118.8,1036.8 1106.3,1036.7 1093.8,1036.7 1081.3,1036.6 1068.8,1036.4 1056.3,1036.3 1043.8,1036.2 1031.3,1036.0 1018.8,1035.8 1006.3,1035.5 993.8,1035.2 981.3,1035.0 968.8,1034.5 956.3,1033.9 943.8,1033.5 931.3,1033.1 918.8,1032.6 906.3,1031.7 893.8,1030.7 881.3,1029.5 868.8,1028.2 856.3,1026.7 843.8,1025.2 831.3,1023.4 818.8,1021.4 806.3,1019.2 793.8,1018.8 781.3,1018.8 768.8,1018.9 756.3,1018.9 743.8,1020.6 731.3,1022.1 718.8,1023.5 706.3,1024.7 693.8,1026.0 681.3,1027.2 668.8,1029.6 656.3,1032.5 643.8,1034.4 631.3,1037.1 618.8,1037.2 606.3,1037.3 593.8,1037.4 581.3,1037.4 568.8,1037.4 556.3,1037.4 543.8,1037.4 531.3,1037.4 518.8,1037.4 506.3,1037.4 493.8,1037.4 481.3,1037.4 468.8,1037.4 456.3,1037.4 443.8,1037.4 431.3,1037.3 418.8,1037.3 406.3,1037.2 393.8,1037.2 381.3,1037.1 368.8,1036.9 356.3,1036.8 343.8,1036.7 331.3,1036.6 318.8,1036.5 306.3,1036.4 293.8,1036.4 281.3,1036.3 268.8,1036.2 256.3,1036.3 243.8,1036.4 231.3,1036.4 218.8,1036.5 206.3,1036.6 193.8,1036.8 181.3,1036.9 168.8,1037.1"/><polygon fill="#ffb800" points="168.8,1033.7 181.3,1032.7 193.8,1031.6 206.3,1030.3 218.8,1028.7 231.3,1028.4 243.8,1028.1 256.3,1027.8 268.8,1027.5 281.3,1027.8 293.8,1028.1 306.3,1028.4 318.8,1028.7 331.3,1029.1 343.8,1029.6 356.3,1029.9 368.8,1030.9 381.3,1031.7 393.8,1032.4 406.3,1033.0 418.8,1033.4 431.3,1033.9 443.8,1034.3 456.3,1034.5 468.8,1034.6 481.3,1034.8 493.8,1034.9 506.3,1035.0 518.8,1035.1 531.3,1035.2 543.8,1035.3 556.3,1035.2 568.8,1035.1 581.3,1035.0 593.8,1034.9 606.3,1034.2 618.8,1033.4 631.3,1032.4 643.8,1028.7 656.3,1022.7 668.8,1013.1 681.3,1001.4 693.8,989.1 706.3,975.2 718.8,960.5 731.3,951.6 743.8,945.9 756.3,939.8 768.8,934.5 781.3,928.9 793.8,923.1 806.3,918.2 818.8,918.5 831.3,918.8 843.8,919.1 856.3,919.4 868.8,928.0 881.3,936.0 893.8,943.4 906.3,950.3 918.8,956.7 931.3,969.1 943.8,979.6 956.3,989.1 968.8,1001.0 981.3,1010.1 993.8,1014.3 1006.3,1019.4 1018.8,1023.0 1031.3,1024.7 1043.8,1027.5 1056.3,1028.3 1068.8,1029.3 1081.3,1030.5 1093.8,1030.8 1106.3,1031.0 1118.8,1031.2 1131.3,1031.2 1143.8,1031.2 1156.3,1031.2 1168.8,1031.2 1181.3,1031.2 1193.8,1031.2 1206.3,1031.0 1218.8,1030.8 1231.3,1030.6 1243.8,1030.4 1256.3,1030.2 1268.8,1029.9 1281.3,1027.4 1293.8,1024.6 1306.3,1021.3 1318.8,1009.1 1331.3,991.7 1343.8,974.7 1356.3,958.7 1368.8,943.1 1381.3,931.8 1393.8,919.3 1406.3,907.2 1418.8,902.2 1431.3,896.9 1443.8,891.2 1456.3,882.1 1456.3,1010.1 1443.8,1010.4 1431.3,1011.7 1418.8,1012.9 1406.3,1014.2 1393.8,1015.4 1381.3,1016.7 1368.8,1017.8 1356.3,1020.9 1343.8,1024.7 1331.3,1028.2 1318.8,1032.1 1306.3,1034.9 1293.8,1035.9 1281.3,1036.5 1268.8,1036.8 1256.3,1036.8 1243.8,1036.8 1231.3,1036.8 1218.8,1036.9 1206.3,1036.9 1193.8,1036.9 1181.3,1036.9 1168.8,1036.9 1156.3,1036.8 1143.8,1036.8 1131.3,1036.8 1118.8,1036.8 1106.3,1036.7 1093.8,1036.6 1081.3,1036.5 1068.8,1036.4 1056.3,1036.2 1043.8,1036.2 1031.3,1035.9 1018.8,1035.7 1006.3,1035.4 993.8,1035.1 981.3,1034.9 968.8,1034.4 956.3,1033.7 943.8,1033.3 931.3,1032.8 918.8,1032.3 906.3,1031.4 893.8,1030.3 881.3,1029.0 868.8,1027.6 856.3,1026.0 843.8,1024.4 831.3,1022.7 818.8,1020.7 806.3,1018.5 793.8,1018.0 781.3,1018.0 768.8,1018.0 756.3,1018.0 743.8,1019.8 731.3,1021.4 718.8,1022.9 706.3,1024.3 693.8,1025.6 681.3,1026.9 668.8,1029.4 656.3,1032.3 643.8,1034.3 631.3,1037.0 618.8,1037.2 606.3,1037.3 593.8,1037.4 581.3,1037.4 568.8,1037.4 556.3,1037.4 543.8,1037.4 531.3,1037.4 518.8,1037.4 506.3,1037.4 493.8,1037.4 481.3,1037.4 468.8,1037.4 456.3,1037.4 443.8,1037.4 431.3,1037.3 418.8,1037.3 406.3,1037.2 393.8,1037.2 381.3,1037.0 368.8,1036.9 356.3,1036.8 343.8,1036.7 331.3,1036.5 318.8,1036.4 306.3,1036.3 293.8,1036.3 281.3,1036.2 268.8,1036.2 256.3,1036.2 243.8,1036.3 231.3,1036.3 218.8,1036.4 206.3,1036.6 193.8,1036.7 181.3,1036.9 168.8,1037.0"/><polygon fill="#ffb100" points="168.8,1033.8 181.3,1032.9 193.8,1031.8 206.3,1030.6 218.8,1029.1 231.3,1028.8 243.8,1028.5 256.3,1028.2 268.8,1027.9 281.3,1028.2 293.8,1028.5 306.3,1028.8 318.8,1029.1 331.3,1029.5 343.8,1029.9 356.3,1030.3 368.8,1031.2 381.3,1032.0 393.8,1032.7 406.3,1033.2 418.8,1033.7 431.3,1034.1 443.8,1034.5 456.3,1034.6 468.8,1034.8 481.3,1034.9 493.8,1035.1 506.3,1035.2 518.8,1035.2 531.3,1035.3 543.8,1035.4 556.3,1035.3 568.8,1035.2 581.3,1035.2 593.8,1035.1 606.3,1034.4 618.8,1033.6 631.3,1032.7 643.8,1028.8 656.3,1023.0 668.8,1013.6 681.3,1002.3 693.8,990.5 706.3,977.2 718.8,963.2 731.3,954.8 743.8,949.3 756.3,943.4 768.8,938.4 781.3,933.2 793.8,927.7 806.3,923.2 818.8,923.8 831.3,924.3 843.8,924.9 856.3,925.5 868.8,933.8 881.3,941.6 893.8,948.7 906.3,955.4 918.8,961.5 931.3,973.1 943.8,982.9 956.3,991.8 968.8,1002.9 981.3,1011.4 993.8,1015.3 1006.3,1020.2 1018.8,1023.5 1031.3,1025.2 1043.8,1027.8 1056.3,1028.6 1068.8,1029.6 1081.3,1030.7 1093.8,1031.0 1106.3,1031.2 1118.8,1031.4 1131.3,1031.4 1143.8,1031.4 1156.3,1031.4 1168.8,1031.5 1181.3,1031.5 1193.8,1031.5 1206.3,1031.3 1218.8,1031.1 1231.3,1030.9 1243.8,1030.7 1256.3,1030.5 1268.8,1030.3 1281.3,1027.9 1293.8,1025.1 1306.3,1021.8 1318.8,1010.0 1331.3,993.1 1343.8,976.6 1356.3,961.0 1368.8,945.8 1381.3,935.1 1393.8,923.2 1406.3,911.6 1418.8,906.6 1431.3,901.5 1443.8,895.8 1456.3,887.4 1456.3,1008.9 1443.8,1009.2 1431.3,1010.5 1418.8,1011.9 1406.3,1013.2 1393.8,1014.5 1381.3,1015.8 1368.8,1017.0 1356.3,1020.3 1343.8,1024.1 1331.3,1027.9 1318.8,1031.8 1306.3,1034.8 1293.8,1035.8 1281.3,1036.4 1268.8,1036.7 1256.3,1036.7 1243.8,1036.8 1231.3,1036.8 1218.8,1036.8 1206.3,1036.8 1193.8,1036.9 1181.3,1036.8 1168.8,1036.8 1156.3,1036.8 1143.8,1036.8 1131.3,1036.7 1118.8,1036.7 1106.3,1036.6 1093.8,1036.5 1081.3,1036.4 1068.8,1036.3 1056.3,1036.2 1043.8,1036.1 1031.3,1035.8 1018.8,1035.6 1006.3,1035.3 993.8,1035.0 981.3,1034.7 968.8,1034.2 956.3,1033.5 943.8,1033.0 931.3,1032.5 918.8,1032.0 906.3,1031.0 893.8,1029.9 881.3,1028.6 868.8,1027.1 856.3,1025.4 843.8,1023.8 831.3,1022.0 818.8,1020.0 806.3,1017.7 793.8,1017.3 781.3,1017.3 768.8,1017.3 756.3,1017.4 743.8,1019.2 731.3,1020.8 718.8,1022.4 706.3,1023.8 693.8,1025.2 681.3,1026.6 668.8,1029.1 656.3,1032.1 643.8,1034.2 631.3,1037.0 618.8,1037.1 606.3,1037.3 593.8,1037.4 581.3,1037.4 568.8,1037.4 556.3,1037.4 543.8,1037.4 531.3,1037.4 518.8,1037.4 506.3,1037.4 493.8,1037.4 481.3,1037.4 468.8,1037.4 456.3,1037.4 443.8,1037.4 431.3,1037.3 418.8,1037.3 406.3,1037.2 393.8,1037.1 381.3,1037.0 368.8,1036.9 356.3,1036.7 343.8,1036.6 331.3,1036.5 318.8,1036.3 306.3,1036.3 293.8,1036.2 281.3,1036.1 268.8,1036.1 256.3,1036.1 243.8,1036.2 231.3,1036.3 218.8,1036.3 206.3,1036.5 193.8,1036.7 181.3,1036.9 168.8,1037.0"/><polygon fill="#ffaa00" points="168.8,1034.0 181.3,1033.1 193.8,1032.1 206.3,1030.8 218.8,1029.4 231.3,1029.1 243.8,1028.8 256.3,1028.5 268.8,1028.2 281.3,1028.5 293.8,1028.8 306.3,1029.1 318.8,1029.4 331.3,1029.8 343.8,1030.2 356.3,1030.6 368.8,1031.4 381.3,1032.2 393.8,1032.9 406.3,1033.4 418.8,1033.9 431.3,1034.3 443.8,1034.7 456.3,1034.8 468.8,1034.9 481.3,1035.1 493.8,1035.2 506.3,1035.3 518.8,1035.4 531.3,1035.4 543.8,1035.5 556.3,1035.4 568.8,1035.4 581.3,1035.3 593.8,1035.2 606.3,1034.6 618.8,1033.8 631.3,1032.9 643.8,1028.9 656.3,1023.2 668.8,1014.1 681.3,1003.1 693.8,991.8 706.3,979.1 718.8,965.9 731.3,957.8 743.8,952.5 756.3,946.8 768.8,942.1 781.3,937.2 793.8,932.0 806.3,927.9 818.8,928.7 831.3,929.5 843.8,930.3 856.3,931.1 868.8,939.2 881.3,946.7 893.8,953.7 906.3,960.1 918.8,966.0 931.3,976.8 943.8,986.0 956.3,994.3 968.8,1004.6 981.3,1012.6 993.8,1016.3 1006.3,1020.9 1018.8,1024.1 1031.3,1025.6 1043.8,1028.1 1056.3,1028.9 1068.8,1029.9 1081.3,1030.9 1093.8,1031.2 1106.3,1031.4 1118.8,1031.6 1131.3,1031.6 1143.8,1031.7 1156.3,1031.7 1168.8,1031.7 1181.3,1031.7 1193.8,1031.7 1206.3,1031.6 1218.8,1031.4 1231.3,1031.2 1243.8,1031.0 1256.3,1030.8 1268.8,1030.6 1281.3,1028.3 1293.8,1025.5 1306.3,1022.3 1318.8,1010.8 1331.3,994.4 1343.8,978.4 1356.3,963.2 1368.8,948.4 1381.3,938.2 1393.8,926.8 1406.3,915.8 1418.8,910.9 1431.3,905.7 1443.8,900.2 1456.3,892.4 1456.3,1007.7 1443.8,1008.0 1431.3,1009.4 1418.8,1010.8 1406.3,1012.2 1393.8,1013.6 1381.3,1014.9 1368.8,1016.2 1356.3,1019.6 1343.8,1023.6 1331.3,1027.5 1318.8,1031.6 1306.3,1034.6 1293.8,1035.7 1281.3,1036.4 1268.8,1036.7 1256.3,1036.7 1243.8,1036.7 1231.3,1036.7 1218.8,1036.8 1206.3,1036.8 1193.8,1036.8 1181.3,1036.8 1168.8,1036.8 1156.3,1036.7 1143.8,1036.7 1131.3,1036.7 1118.8,1036.7 1106.3,1036.6 1093.8,1036.5 1081.3,1036.4 1068.8,1036.2 1056.3,1036.1 1043.8,1036.0 1031.3,1035.7 1018.8,1035.5 1006.3,1035.2 993.8,1034.8 981.3,1034.6 968.8,1034.0 956.3,1033.3 943.8,1032.7 931.3,1032.2 918.8,1031.6 906.3,1030.6 893.8,1029.4 881.3,1028.1 868.8,1026.5 856.3,1024.7 843.8,1023.1 831.3,1021.3 818.8,1019.3 806.3,1017.0 793.8,1016.5 781.3,1016.6 768.8,1016.6 756.3,1016.7 743.8,1018.5 731.3,1020.2 718.8,1021.8 706.3,1023.4 693.8,1024.8 681.3,1026.2 668.8,1028.9 656.3,1032.0 643.8,1034.1 631.3,1037.0 618.8,1037.1 606.3,1037.3 593.8,1037.4 581.3,1037.4 568.8,1037.4 556.3,1037.4 543.8,1037.4 531.3,1037.4 518.8,1037.4 506.3,1037.4 493.8,1037.4 481.3,1037.4 468.8,1037.4 456.3,1037.4 443.8,1037.4 431.3,1037.3 418.8,1037.2 406.3,1037.2 393.8,1037.1 381.3,1037.0 368.8,1036.8 356.3,1036.7 343.8,1036.5 331.3,1036.4 318.8,1036.3 306.3,1036.2 293.8,1036.1 281.3,1036.1 268.8,1036.0 256.3,1036.1 243.8,1036.1 231.3,1036.2 218.8,1036.3 206.3,1036.5 193.8,1036.6 181.3,1036.8 168.8,1037.0"/><polygon fill="#ffa300" points="168.8,1034.1 181.3,1033.3 193.8,1032.3 206.3,1031.1 218.8,1029.7 231.3,1029.4 243.8,1029.2 256.3,1028.9 268.8,1028.6 281.3,1028.9 293.8,1029.2 306.3,1029.4 318.8,1029.7 331.3,1030.1 343.8,1030.5 356.3,1030.8 368.8,1031.7 381.3,1032.5 393.8,1033.1 406.3,1033.6 418.8,1034.0 431.3,1034.5 443.8,1034.8 456.3,1035.0 468.8,1035.1 481.3,1035.2 493.8,1035.3 506.3,1035.4 518.8,1035.5 531.3,1035.6 543.8,1035.6 556.3,1035.6 568.8,1035.5 581.3,1035.4 593.8,1035.3 606.3,1034.7 618.8,1034.0 631.3,1033.1 643.8,1029.1 656.3,1023.5 668.8,1014.6 681.3,1003.9 693.8,993.0 706.3,981.0 718.8,968.3 731.3,960.6 743.8,955.5 756.3,950.1 768.8,945.6 781.3,941.0 793.8,936.1 806.3,932.3 818.8,933.3 831.3,934.3 843.8,935.3 856.3,936.4 868.8,944.2 881.3,951.5 893.8,958.2 906.3,964.4 918.8,970.1 931.3,980.2 943.8,988.8 956.3,996.5 968.8,1006.3 981.3,1013.7 993.8,1017.3 1006.3,1021.6 1018.8,1024.6 1031.3,1026.1 1043.8,1028.4 1056.3,1029.2 1068.8,1030.1 1081.3,1031.1 1093.8,1031.4 1106.3,1031.6 1118.8,1031.8 1131.3,1031.9 1143.8,1031.9 1156.3,1031.9 1168.8,1031.9 1181.3,1032.0 1193.8,1032.0 1206.3,1031.8 1218.8,1031.6 1231.3,1031.4 1243.8,1031.2 1256.3,1031.1 1268.8,1030.8 1281.3,1028.7 1293.8,1026.0 1306.3,1022.7 1318.8,1011.6 1331.3,995.7 1343.8,980.1 1356.3,965.2 1368.8,950.9 1381.3,941.1 1393.8,930.3 1406.3,919.7 1418.8,914.9 1431.3,909.8 1443.8,904.3 1456.3,897.1 1456.3,1006.4 1443.8,1006.8 1431.3,1008.2 1418.8,1009.7 1406.3,1011.1 1393.8,1012.6 1381.3,1014.0 1368.8,1015.4 1356.3,1018.9 1343.8,1023.1 1331.3,1027.1 1318.8,1031.3 1306.3,1034.5 1293.8,1035.6 1281.3,1036.3 1268.8,1036.6 1256.3,1036.6 1243.8,1036.7 1231.3,1036.7 1218.8,1036.7 1206.3,1036.7 1193.8,1036.8 1181.3,1036.7 1168.8,1036.7 1156.3,1036.7 1143.8,1036.7 1131.3,1036.6 1118.8,1036.6 1106.3,1036.5 1093.8,1036.4 1081.3,1036.3 1068.8,1036.1 1056.3,1036.0 1043.8,1035.9 1031.3,1035.6 1018.8,1035.4 1006.3,1035.1 993.8,1034.7 981.3,1034.4 968.8,1033.8 956.3,1033.0 943.8,1032.5 931.3,1031.9 918.8,1031.3 906.3,1030.2 893.8,1029.0 881.3,1027.6 868.8,1026.0 856.3,1024.1 843.8,1022.4 831.3,1020.6 818.8,1018.5 806.3,1016.2 793.8,1015.8 781.3,1015.9 768.8,1015.9 756.3,1016.0 743.8,1017.9 731.3,1019.6 718.8,1021.3 706.3,1022.9 693.8,1024.4 681.3,1025.9 668.8,1028.7 656.3,1031.8 643.8,1034.0 631.3,1036.9 618.8,1037.1 606.3,1037.2 593.8,1037.4 581.3,1037.4 568.8,1037.4 556.3,1037.4 543.8,1037.4 531.3,1037.4 518.8,1037.4 506.3,1037.4 493.8,1037.4 481.3,1037.4 468.8,1037.4 456.3,1037.4 443.8,1037.4 431.3,1037.3 418.8,1037.2 406.3,1037.1 393.8,1037.0 381.3,1036.9 368.8,1036.8 356.3,1036.6 343.8,1036.5 331.3,1036.3 318.8,1036.2 306.3,1036.1 293.8,1036.1 281.3,1036.0 268.8,1035.9 256.3,1036.0 243.8,1036.1 231.3,1036.1 218.8,1036.2 206.3,1036.4 193.8,1036.6 181.3,1036.8 168.8,1036.9"/><polygon fill="#ff9c00" points="168.8,1034.2 181.3,1033.4 193.8,1032.5 206.3,1031.3 218.8,1030.0 231.3,1029.7 243.8,1029.5 256.3,1029.2 268.8,1028.9 281.3,1029.2 293.8,1029.5 306.3,1029.7 318.8,1030.0 331.3,1030.4 343.8,1030.8 356.3,1031.1 368.8,1031.9 381.3,1032.7 393.8,1033.3 406.3,1033.8 418.8,1034.2 431.3,1034.6 443.8,1035.0 456.3,1035.1 468.8,1035.2 481.3,1035.3 493.8,1035.5 506.3,1035.5 518.8,1035.6 531.3,1035.7 543.8,1035.7 556.3,1035.7 568.8,1035.6 581.3,1035.5 593.8,1035.5 606.3,1034.9 618.8,1034.2 631.3,1033.3 643.8,1029.2 656.3,1023.7 668.8,1015.0 681.3,1004.7 693.8,994.2 706.3,982.7 718.8,970.7 731.3,963.3 743.8,958.4 756.3,953.1 768.8,948.9 781.3,944.6 793.8,940.0 806.3,936.4 818.8,937.6 831.3,938.8 843.8,940.1 856.3,941.2 868.8,948.9 881.3,955.9 893.8,962.4 906.3,968.4 918.8,973.9 931.3,983.4 943.8,991.4 956.3,998.7 968.8,1007.8 981.3,1014.8 993.8,1018.1 1006.3,1022.3 1018.8,1025.1 1031.3,1026.5 1043.8,1028.7 1056.3,1029.5 1068.8,1030.3 1081.3,1031.3 1093.8,1031.6 1106.3,1031.8 1118.8,1032.0 1131.3,1032.1 1143.8,1032.1 1156.3,1032.1 1168.8,1032.2 1181.3,1032.2 1193.8,1032.2 1206.3,1032.1 1218.8,1031.9 1231.3,1031.7 1243.8,1031.5 1256.3,1031.3 1268.8,1031.1 1281.3,1029.0 1293.8,1026.4 1306.3,1023.2 1318.8,1012.3 1331.3,996.9 1343.8,981.7 1356.3,967.2 1368.8,953.3 1381.3,943.9 1393.8,933.5 1406.3,923.5 1418.8,918.7 1431.3,913.6 1443.8,908.2 1456.3,901.5 1456.3,1005.2 1443.8,1005.5 1431.3,1007.0 1418.8,1008.6 1406.3,1010.1 1393.8,1011.6 1381.3,1013.1 1368.8,1014.5 1356.3,1018.2 1343.8,1022.5 1331.3,1026.7 1318.8,1031.1 1306.3,1034.3 1293.8,1035.5 1281.3,1036.2 1268.8,1036.5 1256.3,1036.6 1243.8,1036.6 1231.3,1036.6 1218.8,1036.7 1206.3,1036.7 1193.8,1036.7 1181.3,1036.7 1168.8,1036.7 1156.3,1036.6 1143.8,1036.6 1131.3,1036.6 1118.8,1036.5 1106.3,1036.4 1093.8,1036.3 1081.3,1036.2 1068.8,1036.1 1056.3,1035.9 1043.8,1035.8 1031.3,1035.5 1018.8,1035.3 1006.3,1034.9 993.8,1034.5 981.3,1034.2 968.8,1033.6 956.3,1032.8 943.8,1032.2 931.3,1031.6 918.8,1030.9 906.3,1029.8 893.8,1028.5 881.3,1027.0 868.8,1025.4 856.3,1023.5 843.8,1021.8 831.3,1019.9 818.8,1017.8 806.3,1015.4 793.8,1015.0 781.3,1015.1 768.8,1015.2 756.3,1015.3 743.8,1017.2 731.3,1019.0 718.8,1020.7 706.3,1022.4 693.8,1024.0 681.3,1025.6 668.8,1028.4 656.3,1031.7 643.8,1033.9 631.3,1036.9 618.8,1037.1 606.3,1037.2 593.8,1037.4 581.3,1037.4 568.8,1037.4 556.3,1037.4 543.8,1037.4 531.3,1037.4 518.8,1037.4 506.3,1037.4 493.8,1037.4 481.3,1037.4 468.8,1037.4 456.3,1037.3 443.8,1037.3 431.3,1037.3 418.8,1037.2 406.3,1037.1 393.8,1037.0 381.3,1036.9 368.8,1036.7 356.3,1036.5 343.8,1036.4 331.3,1036.3 318.8,1036.1 306.3,1036.1 293.8,1036.0 281.3,1035.9 268.8,1035.8 256.3,1035.9 243.8,1036.0 231.3,1036.1 218.8,1036.1 206.3,1036.4 193.8,1036.6 181.3,1036.7 168.8,1036.9"/><polygon fill="#ff9500" points="168.8,1034.3 181.3,1033.6 193.8,1032.7 206.3,1031.6 218.8,1030.3 231.3,1030.0 243.8,1029.8 256.3,1029.5 268.8,1029.2 281.3,1029.5 293.8,1029.8 306.3,1030.0 318.8,1030.3 331.3,1030.7 343.8,1031.0 356.3,1031.4 368.8,1032.2 381.3,1032.9 393.8,1033.5 406.3,1034.0 418.8,1034.4 431.3,1034.8 443.8,1035.1 456.3,1035.2 468.8,1035.4 481.3,1035.5 493.8,1035.6 506.3,1035.6 518.8,1035.7 531.3,1035.8 543.8,1035.8 556.3,1035.8 568.8,1035.7 581.3,1035.6 593.8,1035.6 606.3,1035.0 618.8,1034.3 631.3,1033.5 643.8,1029.3 656.3,1023.9 668.8,1015.4 681.3,1005.4 693.8,995.4 706.3,984.3 718.8,972.9 731.3,965.8 743.8,961.1 756.3,956.0 768.8,952.1 781.3,947.9 793.8,943.6 806.3,940.3 818.8,941.7 831.3,943.1 843.8,944.5 856.3,945.8 868.8,953.3 881.3,960.1 893.8,966.4 906.3,972.1 918.8,977.5 931.3,986.3 943.8,993.8 956.3,1000.7 968.8,1009.2 981.3,1015.8 993.8,1018.9 1006.3,1022.9 1018.8,1025.6 1031.3,1026.9 1043.8,1029.0 1056.3,1029.7 1068.8,1030.5 1081.3,1031.4 1093.8,1031.7 1106.3,1032.0 1118.8,1032.2 1131.3,1032.2 1143.8,1032.3 1156.3,1032.3 1168.8,1032.4 1181.3,1032.4 1193.8,1032.4 1206.3,1032.3 1218.8,1032.1 1231.3,1031.9 1243.8,1031.7 1256.3,1031.6 1268.8,1031.4 1281.3,1029.4 1293.8,1026.8 1306.3,1023.6 1318.8,1013.0 1331.3,998.0 1343.8,983.3 1356.3,969.1 1368.8,955.5 1381.3,946.6 1393.8,936.7 1406.3,927.0 1418.8,922.3 1431.3,917.3 1443.8,912.0 1456.3,905.8 1456.3,1003.9 1443.8,1004.3 1431.3,1005.8 1418.8,1007.5 1406.3,1009.0 1393.8,1010.6 1381.3,1012.2 1368.8,1013.7 1356.3,1017.5 1343.8,1022.0 1331.3,1026.3 1318.8,1030.8 1306.3,1034.2 1293.8,1035.4 1281.3,1036.1 1268.8,1036.5 1256.3,1036.5 1243.8,1036.6 1231.3,1036.6 1218.8,1036.6 1206.3,1036.6 1193.8,1036.7 1181.3,1036.6 1168.8,1036.6 1156.3,1036.6 1143.8,1036.6 1131.3,1036.5 1118.8,1036.5 1106.3,1036.4 1093.8,1036.3 1081.3,1036.2 1068.8,1036.0 1056.3,1035.8 1043.8,1035.7 1031.3,1035.4 1018.8,1035.2 1006.3,1034.8 993.8,1034.4 981.3,1034.1 968.8,1033.3 956.3,1032.5 943.8,1031.9 931.3,1031.2 918.8,1030.5 906.3,1029.4 893.8,1028.0 881.3,1026.5 868.8,1024.8 856.3,1022.8 843.8,1021.1 831.3,1019.1 818.8,1017.0 806.3,1014.6 793.8,1014.2 781.3,1014.4 768.8,1014.5 756.3,1014.6 743.8,1016.6 731.3,1018.4 718.8,1020.1 706.3,1021.9 693.8,1023.6 681.3,1025.3 668.8,1028.2 656.3,1031.5 643.8,1033.8 631.3,1036.9 618.8,1037.0 606.3,1037.2 593.8,1037.4 581.3,1037.4 568.8,1037.4 556.3,1037.4 543.8,1037.4 531.3,1037.4 518.8,1037.4 506.3,1037.4 493.8,1037.4 481.3,1037.3 468.8,1037.3 456.3,1037.3 443.8,1037.3 431.3,1037.2 418.8,1037.2 406.3,1037.1 393.8,1037.0 381.3,1036.8 368.8,1036.7 356.3,1036.5 343.8,1036.4 331.3,1036.2 318.8,1036.1 306.3,1036.0 293.8,1035.9 281.3,1035.8 268.8,1035.8 256.3,1035.8 243.8,1035.9 231.3,1036.0 218.8,1036.1 206.3,1036.3 193.8,1036.5 181.3,1036.7 168.8,1036.9"/><polygon fill="#ff8e00" points="168.8,1034.5 181.3,1033.7 193.8,1032.8 206.3,1031.8 218.8,1030.6 231.3,1030.3 243.8,1030.1 256.3,1029.8 268.8,1029.5 281.3,1029.8 293.8,1030.1 306.3,1030.3 318.8,1030.6 331.3,1030.9 343.8,1031.3 356.3,1031.6 368.8,1032.4 381.3,1033.1 393.8,1033.7 406.3,1034.1 418.8,1034.6 431.3,1034.9 443.8,1035.3 456.3,1035.4 468.8,1035.5 481.3,1035.6 493.8,1035.7 506.3,1035.7 518.8,1035.8 531.3,1035.9 543.8,1035.9 556.3,1035.9 568.8,1035.8 581.3,1035.7 593.8,1035.7 606.3,1035.1 618.8,1034.5 631.3,1033.7 643.8,1029.4 656.3,1024.1 668.8,1015.8 681.3,1006.1 693.8,996.5 706.3,985.9 718.8,975.0 731.3,968.3 743.8,963.7 756.3,958.8 768.8,955.0 781.3,951.1 793.8,947.1 806.3,944.0 818.8,945.5 831.3,947.1 843.8,948.6 856.3,950.1 868.8,957.3 881.3,963.9 893.8,970.0 906.3,975.6 918.8,980.8 931.3,989.0 943.8,996.1 956.3,1002.5 968.8,1010.5 981.3,1016.7 993.8,1019.7 1006.3,1023.5 1018.8,1026.0 1031.3,1027.2 1043.8,1029.2 1056.3,1030.0 1068.8,1030.8 1081.3,1031.6 1093.8,1031.9 1106.3,1032.1 1118.8,1032.4 1131.3,1032.4 1143.8,1032.5 1156.3,1032.5 1168.8,1032.6 1181.3,1032.6 1193.8,1032.7 1206.3,1032.5 1218.8,1032.3 1231.3,1032.2 1243.8,1032.0 1256.3,1031.8 1268.8,1031.6 1281.3,1029.7 1293.8,1027.2 1306.3,1024.0 1318.8,1013.7 1331.3,999.1 1343.8,984.8 1356.3,970.9 1368.8,957.7 1381.3,949.1 1393.8,939.7 1406.3,930.4 1418.8,925.7 1431.3,920.8 1443.8,915.6 1456.3,909.8 1456.3,1002.6 1443.8,1003.0 1431.3,1004.6 1418.8,1006.3 1406.3,1007.9 1393.8,1009.6 1381.3,1011.2 1368.8,1012.8 1356.3,1016.7 1343.8,1021.4 1331.3,1025.8 1318.8,1030.6 1306.3,1034.0 1293.8,1035.3 1281.3,1036.1 1268.8,1036.4 1256.3,1036.5 1243.8,1036.5 1231.3,1036.5 1218.8,1036.6 1206.3,1036.6 1193.8,1036.6 1181.3,1036.6 1168.8,1036.6 1156.3,1036.5 1143.8,1036.5 1131.3,1036.5 1118.8,1036.4 1106.3,1036.3 1093.8,1036.2 1081.3,1036.1 1068.8,1035.9 1056.3,1035.7 1043.8,1035.6 1031.3,1035.3 1018.8,1035.0 1006.3,1034.7 993.8,1034.2 981.3,1033.9 968.8,1033.1 956.3,1032.3 943.8,1031.6 931.3,1030.9 918.8,1030.1 906.3,1028.9 893.8,1027.5 881.3,1026.0 868.8,1024.2 856.3,1022.1 843.8,1020.4 831.3,1018.4 818.8,1016.2 806.3,1013.8 793.8,1013.5 781.3,1013.6 768.8,1013.8 756.3,1013.9 743.8,1015.9 731.3,1017.7 718.8,1019.5 706.3,1021.3 693.8,1023.2 681.3,1024.9 668.8,1028.0 656.3,1031.4 643.8,1033.7 631.3,1036.8 618.8,1037.0 606.3,1037.2 593.8,1037.3 581.3,1037.3 568.8,1037.3 556.3,1037.3 543.8,1037.3 531.3,1037.3 518.8,1037.3 506.3,1037.3 493.8,1037.3 481.3,1037.3 468.8,1037.3 456.3,1037.3 443.8,1037.3 431.3,1037.2 418.8,1037.1 406.3,1037.0 393.8,1036.9 381.3,1036.8 368.8,1036.6 356.3,1036.4 343.8,1036.3 331.3,1036.1 318.8,1036.0 306.3,1035.9 293.8,1035.8 281.3,1035.8 268.8,1035.7 256.3,1035.8 243.8,1035.8 231.3,1035.9 218.8,1036.0 206.3,1036.2 193.8,1036.5 181.3,1036.7 168.8,1036.8"/><polygon fill="#ff8700" points="168.8,1034.6 181.3,1033.9 193.8,1033.0 206.3,1032.0 218.8,1030.8 231.3,1030.6 243.8,1030.3 256.3,1030.1 268.8,1029.8 281.3,1030.1 293.8,1030.3 306.3,1030.6 318.8,1030.8 331.3,1031.2 343.8,1031.5 356.3,1031.8 368.8,1032.6 381.3,1033.3 393.8,1033.9 406.3,1034.3 418.8,1034.7 431.3,1035.1 443.8,1035.4 456.3,1035.5 468.8,1035.6 481.3,1035.7 493.8,1035.8 506.3,1035.8 518.8,1035.9 531.3,1035.9 543.8,1036.0 556.3,1035.9 568.8,1035.9 581.3,1035.8 593.8,1035.8 606.3,1035.3 618.8,1034.6 631.3,1033.9 643.8,1029.5 656.3,1024.3 668.8,1016.2 681.3,1006.8 693.8,997.5 706.3,987.4 718.8,977.0 731.3,970.6 743.8,966.1 756.3,961.4 768.8,957.9 781.3,954.2 793.8,950.3 806.3,947.5 818.8,949.2 831.3,950.9 843.8,952.5 856.3,954.1 868.8,961.1 881.3,967.6 893.8,973.5 906.3,978.9 918.8,983.8 931.3,991.6 943.8,998.2 956.3,1004.3 968.8,1011.8 981.3,1017.6 993.8,1020.5 1006.3,1024.1 1018.8,1026.4 1031.3,1027.6 1043.8,1029.5 1056.3,1030.2 1068.8,1031.0 1081.3,1031.8 1093.8,1032.1 1106.3,1032.3 1118.8,1032.5 1131.3,1032.6 1143.8,1032.7 1156.3,1032.7 1168.8,1032.8 1181.3,1032.8 1193.8,1032.9 1206.3,1032.7 1218.8,1032.5 1231.3,1032.4 1243.8,1032.2 1256.3,1032.0 1268.8,1031.8 1281.3,1030.0 1293.8,1027.6 1306.3,1024.4 1318.8,1014.3 1331.3,1000.1 1343.8,986.2 1356.3,972.6 1368.8,959.8 1381.3,951.6 1393.8,942.5 1406.3,933.7 1418.8,929.0 1431.3,924.1 1443.8,919.0 1456.3,913.7 1456.3,1001.3 1443.8,1001.6 1431.3,1003.3 1418.8,1005.1 1406.3,1006.8 1393.8,1008.6 1381.3,1010.3 1368.8,1011.9 1356.3,1016.0 1343.8,1020.8 1331.3,1025.4 1318.8,1030.3 1306.3,1033.9 1293.8,1035.2 1281.3,1036.0 1268.8,1036.4 1256.3,1036.4 1243.8,1036.4 1231.3,1036.5 1218.8,1036.5 1206.3,1036.5 1193.8,1036.6 1181.3,1036.5 1168.8,1036.5 1156.3,1036.5 1143.8,1036.4 1131.3,1036.4 1118.8,1036.4 1106.3,1036.2 1093.8,1036.1 1081.3,1036.0 1068.8,1035.8 1056.3,1035.6 1043.8,1035.5 1031.3,1035.1 1018.8,1034.9 1006.3,1034.5 993.8,1034.0 981.3,1033.7 968.8,1032.9 956.3,1032.0 943.8,1031.3 931.3,1030.5 918.8,1029.7 906.3,1028.5 893.8,1027.0 881.3,1025.4 868.8,1023.6 856.3,1021.4 843.8,1019.6 831.3,1017.6 818.8,1015.4 806.3,1013.0 793.8,1012.7 781.3,1012.9 768.8,1013.0 756.3,1013.2 743.8,1015.2 731.3,1017.1 718.8,1018.9 706.3,1020.8 693.8,1022.7 681.3,1024.6 668.8,1027.7 656.3,1031.2 643.8,1033.6 631.3,1036.8 618.8,1037.0 606.3,1037.2 593.8,1037.3 581.3,1037.3 568.8,1037.3 556.3,1037.3 543.8,1037.3 531.3,1037.3 518.8,1037.3 506.3,1037.3 493.8,1037.3 481.3,1037.3 468.8,1037.3 456.3,1037.3 443.8,1037.3 431.3,1037.2 418.8,1037.1 406.3,1037.0 393.8,1036.9 381.3,1036.7 368.8,1036.6 356.3,1036.4 343.8,1036.2 331.3,1036.1 318.8,1035.9 306.3,1035.9 293.8,1035.8 281.3,1035.7 268.8,1035.6 256.3,1035.7 243.8,1035.8 231.3,1035.9 218.8,1035.9 206.3,1036.2 193.8,1036.4 181.3,1036.6 168.8,1036.8"/><polygon fill="#ff8000" points="168.8,1034.7 181.3,1034.0 193.8,1033.2 206.3,1032.2 218.8,1031.1 231.3,1030.8 243.8,1030.6 256.3,1030.3 268.8,1030.1 281.3,1030.3 293.8,1030.6 306.3,1030.8 318.8,1031.1 331.3,1031.4 343.8,1031.7 356.3,1032.1 368.8,1032.8 381.3,1033.5 393.8,1034.0 406.3,1034.5 418.8,1034.8 431.3,1035.2 443.8,1035.5 456.3,1035.6 468.8,1035.7 481.3,1035.8 493.8,1035.9 506.3,1035.9 518.8,1036.0 531.3,1036.0 543.8,1036.1 556.3,1036.0 568.8,1036.0 581.3,1035.9 593.8,1035.9 606.3,1035.4 618.8,1034.8 631.3,1034.0 643.8,1029.6 656.3,1024.5 668.8,1016.6 681.3,1007.4 693.8,998.5 706.3,988.8 718.8,978.9 731.3,972.7 743.8,968.5 756.3,963.9 768.8,960.6 781.3,957.1 793.8,953.4 806.3,950.8 818.8,952.6 831.3,954.4 843.8,956.2 856.3,957.9 868.8,964.7 881.3,971.0 893.8,976.7 906.3,981.9 918.8,986.7 931.3,994.0 943.8,1000.2 956.3,1005.9 968.8,1012.9 981.3,1018.5 993.8,1021.2 1006.3,1024.6 1018.8,1026.9 1031.3,1027.9 1043.8,1029.7 1056.3,1030.4 1068.8,1031.1 1081.3,1031.9 1093.8,1032.2 1106.3,1032.5 1118.8,1032.7 1131.3,1032.8 1143.8,1032.8 1156.3,1032.9 1168.8,1032.9 1181.3,1033.0 1193.8,1033.1 1206.3,1032.9 1218.8,1032.7 1231.3,1032.6 1243.8,1032.4 1256.3,1032.2 1268.8,1032.1 1281.3,1030.3 1293.8,1027.9 1306.3,1024.8 1318.8,1015.0 1331.3,1001.1 1343.8,987.6 1356.3,974.3 1368.8,961.8 1381.3,953.9 1393.8,945.2 1406.3,936.8 1418.8,932.2 1431.3,927.3 1443.8,922.3 1456.3,917.4 1456.3,999.9 1443.8,1000.3 1431.3,1002.1 1418.8,1003.9 1406.3,1005.7 1393.8,1007.5 1381.3,1009.3 1368.8,1011.0 1356.3,1015.2 1343.8,1020.2 1331.3,1025.0 1318.8,1030.0 1306.3,1033.7 1293.8,1035.1 1281.3,1035.9 1268.8,1036.3 1256.3,1036.3 1243.8,1036.4 1231.3,1036.4 1218.8,1036.5 1206.3,1036.5 1193.8,1036.5 1181.3,1036.5 1168.8,1036.5 1156.3,1036.4 1143.8,1036.4 1131.3,1036.3 1118.8,1036.3 1106.3,1036.2 1093.8,1036.1 1081.3,1035.9 1068.8,1035.7 1056.3,1035.6 1043.8,1035.4 1031.3,1035.0 1018.8,1034.8 1006.3,1034.4 993.8,1033.9 981.3,1033.5 968.8,1032.7 956.3,1031.7 943.8,1031.0 931.3,1030.2 918.8,1029.3 906.3,1028.0 893.8,1026.5 881.3,1024.8 868.8,1022.9 856.3,1020.7 843.8,1018.9 831.3,1016.9 818.8,1014.6 806.3,1012.2 793.8,1011.8 781.3,1012.1 768.8,1012.3 756.3,1012.5 743.8,1014.6 731.3,1016.4 718.8,1018.3 706.3,1020.3 693.8,1022.3 681.3,1024.2 668.8,1027.5 656.3,1031.0 643.8,1033.5 631.3,1036.8 618.8,1037.0 606.3,1037.2 593.8,1037.3 581.3,1037.3 568.8,1037.3 556.3,1037.3 543.8,1037.3 531.3,1037.3 518.8,1037.3 506.3,1037.3 493.8,1037.3 481.3,1037.3 468.8,1037.3 456.3,1037.3 443.8,1037.3 431.3,1037.2 418.8,1037.1 406.3,1037.0 393.8,1036.9 381.3,1036.7 368.8,1036.5 356.3,1036.3 343.8,1036.2 331.3,1036.0 318.8,1035.9 306.3,1035.8 293.8,1035.7 281.3,1035.6 268.8,1035.5 256.3,1035.6 243.8,1035.7 231.3,1035.8 218.8,1035.9 206.3,1036.1 193.8,1036.4 181.3,1036.6 168.8,1036.8"/><polygon fill="#ff7800" points="168.8,1034.8 181.3,1034.1 193.8,1033.3 206.3,1032.4 218.8,1031.3 231.3,1031.1 243.8,1030.8 256.3,1030.6 268.8,1030.3 281.3,1030.6 293.8,1030.8 306.3,1031.1 318.8,1031.3 331.3,1031.6 343.8,1032.0 356.3,1032.3 368.8,1033.0 381.3,1033.6 393.8,1034.2 406.3,1034.6 418.8,1035.0 431.3,1035.3 443.8,1035.6 456.3,1035.7 468.8,1035.8 481.3,1035.9 493.8,1036.0 506.3,1036.0 518.8,1036.1 531.3,1036.1 543.8,1036.2 556.3,1036.1 568.8,1036.1 581.3,1036.0 593.8,1036.0 606.3,1035.5 618.8,1034.9 631.3,1034.2 643.8,1029.7 656.3,1024.7 668.8,1017.0 681.3,1008.1 693.8,999.5 706.3,990.2 718.8,980.8 731.3,974.8 743.8,970.7 756.3,966.3 768.8,963.1 781.3,959.8 793.8,956.4 806.3,953.9 818.8,955.9 831.3,957.8 843.8,959.7 856.3,961.5 868.8,968.1 881.3,974.2 893.8,979.7 906.3,984.7 918.8,989.4 931.3,996.2 943.8,1002.1 956.3,1007.5 968.8,1014.0 981.3,1019.3 993.8,1021.8 1006.3,1025.1 1018.8,1027.2 1031.3,1028.3 1043.8,1030.0 1056.3,1030.6 1068.8,1031.3 1081.3,1032.1 1093.8,1032.4 1106.3,1032.6 1118.8,1032.9 1131.3,1032.9 1143.8,1033.0 1156.3,1033.1 1168.8,1033.1 1181.3,1033.2 1193.8,1033.2 1206.3,1033.1 1218.8,1032.9 1231.3,1032.8 1243.8,1032.6 1256.3,1032.4 1268.8,1032.3 1281.3,1030.6 1293.8,1028.3 1306.3,1025.2 1318.8,1015.6 1331.3,1002.1 1343.8,988.9 1356.3,975.9 1368.8,963.7 1381.3,956.1 1393.8,947.9 1406.3,939.7 1418.8,935.2 1431.3,930.4 1443.8,925.5 1456.3,920.9 1456.3,998.5 1443.8,998.9 1431.3,1000.7 1418.8,1002.7 1406.3,1004.5 1393.8,1006.4 1381.3,1008.3 1368.8,1010.1 1356.3,1014.5 1343.8,1019.6 1331.3,1024.5 1318.8,1029.7 1306.3,1033.6 1293.8,1035.0 1281.3,1035.8 1268.8,1036.2 1256.3,1036.3 1243.8,1036.3 1231.3,1036.4 1218.8,1036.4 1206.3,1036.5 1193.8,1036.5 1181.3,1036.5 1168.8,1036.4 1156.3,1036.4 1143.8,1036.3 1131.3,1036.3 1118.8,1036.2 1106.3,1036.1 1093.8,1036.0 1081.3,1035.8 1068.8,1035.6 1056.3,1035.5 1043.8,1035.3 1031.3,1034.9 1018.8,1034.7 1006.3,1034.3 993.8,1033.7 981.3,1033.3 968.8,1032.4 956.3,1031.4 943.8,1030.6 931.3,1029.8 918.8,1028.9 906.3,1027.5 893.8,1026.0 881.3,1024.2 868.8,1022.2 856.3,1020.0 843.8,1018.1 831.3,1016.1 818.8,1013.8 806.3,1011.3 793.8,1011.0 781.3,1011.3 768.8,1011.5 756.3,1011.8 743.8,1013.9 731.3,1015.8 718.8,1017.7 706.3,1019.8 693.8,1021.9 681.3,1023.9 668.8,1027.2 656.3,1030.9 643.8,1033.3 631.3,1036.8 618.8,1037.0 606.3,1037.1 593.8,1037.3 581.3,1037.3 568.8,1037.3 556.3,1037.3 543.8,1037.3 531.3,1037.3 518.8,1037.3 506.3,1037.3 493.8,1037.3 481.3,1037.3 468.8,1037.3 456.3,1037.3 443.8,1037.3 431.3,1037.2 418.8,1037.1 406.3,1037.0 393.8,1036.8 381.3,1036.7 368.8,1036.5 356.3,1036.2 343.8,1036.1 331.3,1035.9 318.8,1035.8 306.3,1035.7 293.8,1035.6 281.3,1035.5 268.8,1035.4 256.3,1035.5 243.8,1035.6 231.3,1035.7 218.8,1035.8 206.3,1036.1 193.8,1036.3 181.3,1036.5 168.8,1036.8"/><polygon fill="#ff7100" points="168.8,1034.9 181.3,1034.2 193.8,1033.5 206.3,1032.6 218.8,1031.5 231.3,1031.3 243.8,1031.1 256.3,1030.8 268.8,1030.6 281.3,1030.8 293.8,1031.1 306.3,1031.3 318.8,1031.5 331.3,1031.9 343.8,1032.2 356.3,1032.5 368.8,1033.2 381.3,1033.8 393.8,1034.4 406.3,1034.8 418.8,1035.1 431.3,1035.4 443.8,1035.7 456.3,1035.8 468.8,1035.9 481.3,1036.0 493.8,1036.1 506.3,1036.1 518.8,1036.1 531.3,1036.2 543.8,1036.2 556.3,1036.2 568.8,1036.1 581.3,1036.1 593.8,1036.1 606.3,1035.6 618.8,1035.0 631.3,1034.4 643.8,1029.8 656.3,1024.9 668.8,1017.3 681.3,1008.7 693.8,1000.4 706.3,991.5 718.8,982.5 731.3,976.8 743.8,972.8 756.3,968.6 768.8,965.6 781.3,962.5 793.8,959.2 806.3,956.9 818.8,959.0 831.3,961.0 843.8,963.0 856.3,964.9 868.8,971.3 881.3,977.2 893.8,982.5 906.3,987.4 918.8,991.9 931.3,998.3 943.8,1003.8 956.3,1008.9 968.8,1015.1 981.3,1020.0 993.8,1022.4 1006.3,1025.6 1018.8,1027.6 1031.3,1028.6 1043.8,1030.2 1056.3,1030.8 1068.8,1031.5 1081.3,1032.2 1093.8,1032.5 1106.3,1032.8 1118.8,1033.0 1131.3,1033.1 1143.8,1033.1 1156.3,1033.2 1168.8,1033.3 1181.3,1033.3 1193.8,1033.4 1206.3,1033.3 1218.8,1033.1 1231.3,1033.0 1243.8,1032.8 1256.3,1032.6 1268.8,1032.5 1281.3,1030.8 1293.8,1028.6 1306.3,1025.5 1318.8,1016.1 1331.3,1003.0 1343.8,990.1 1356.3,977.4 1368.8,965.5 1381.3,958.3 1393.8,950.4 1406.3,942.6 1418.8,938.1 1431.3,933.3 1443.8,928.5 1456.3,924.3 1456.3,997.1 1443.8,997.5 1431.3,999.4 1418.8,1001.4 1406.3,1003.3 1393.8,1005.3 1381.3,1007.3 1368.8,1009.1 1356.3,1013.7 1343.8,1019.0 1331.3,1024.1 1318.8,1029.5 1306.3,1033.4 1293.8,1034.9 1281.3,1035.7 1268.8,1036.2 1256.3,1036.2 1243.8,1036.3 1231.3,1036.3 1218.8,1036.4 1206.3,1036.4 1193.8,1036.4 1181.3,1036.4 1168.8,1036.4 1156.3,1036.3 1143.8,1036.3 1131.3,1036.2 1118.8,1036.2 1106.3,1036.0 1093.8,1035.9 1081.3,1035.8 1068.8,1035.6 1056.3,1035.4 1043.8,1035.2 1031.3,1034.8 1018.8,1034.6 1006.3,1034.1 993.8,1033.5 981.3,1033.1 968.8,1032.2 956.3,1031.1 943.8,1030.3 931.3,1029.4 918.8,1028.5 906.3,1027.0 893.8,1025.5 881.3,1023.6 868.8,1021.6 856.3,1019.2 843.8,1017.3 831.3,1015.2 818.8,1013.0 806.3,1010.5 793.8,1010.2 781.3,1010.5 768.8,1010.8 756.3,1011.1 743.8,1013.2 731.3,1015.1 718.8,1017.1 706.3,1019.2 693.8,1021.4 681.3,1023.6 668.8,1027.0 656.3,1030.7 643.8,1033.2 631.3,1036.7 618.8,1036.9 606.3,1037.1 593.8,1037.3 581.3,1037.3 568.8,1037.3 556.3,1037.3 543.8,1037.3 531.3,1037.3 518.8,1037.3 506.3,1037.3 493.8,1037.3 481.3,1037.3 468.8,1037.3 456.3,1037.3 443.8,1037.3 431.3,1037.2 418.8,1037.1 406.3,1036.9 393.8,1036.8 381.3,1036.6 368.8,1036.4 356.3,1036.2 343.8,1036.0 331.3,1035.9 318.8,1035.7 306.3,1035.6 293.8,1035.5 281.3,1035.4 268.8,1035.4 256.3,1035.4 243.8,1035.5 231.3,1035.6 218.8,1035.7 206.3,1036.0 193.8,1036.3 181.3,1036.5 168.8,1036.7"/><polygon fill="#ff6a00" points="168.8,1035.0 181.3,1034.4 193.8,1033.6 206.3,1032.8 218.8,1031.7 231.3,1031.5 243.8,1031.3 256.3,1031.1 268.8,1030.8 281.3,1031.1 293.8,1031.3 306.3,1031.5 318.8,1031.7 331.3,1032.1 343.8,1032.4 356.3,1032.7 368.8,1033.4 381.3,1034.0 393.8,1034.5 406.3,1034.9 418.8,1035.2 431.3,1035.5 443.8,1035.8 456.3,1035.9 468.8,1036.0 481.3,1036.1 493.8,1036.2 506.3,1036.2 518.8,1036.2 531.3,1036.3 543.8,1036.3 556.3,1036.3 568.8,1036.2 581.3,1036.2 593.8,1036.2 606.3,1035.7 618.8,1035.1 631.3,1034.5 643.8,1029.9 656.3,1025.1 668.8,1017.7 681.3,1009.3 693.8,1001.3 706.3,992.8 718.8,984.2 731.3,978.7 743.8,974.9 756.3,970.7 768.8,967.9 781.3,965.0 793.8,961.9 806.3,959.8 818.8,961.9 831.3,964.0 843.8,966.1 856.3,968.0 868.8,974.3 881.3,980.0 893.8,985.2 906.3,989.9 918.8,994.2 931.3,1000.3 943.8,1005.5 956.3,1010.3 968.8,1016.1 981.3,1020.7 993.8,1023.0 1006.3,1026.0 1018.8,1028.0 1031.3,1028.9 1043.8,1030.4 1056.3,1031.0 1068.8,1031.7 1081.3,1032.4 1093.8,1032.7 1106.3,1032.9 1118.8,1033.2 1131.3,1033.2 1143.8,1033.3 1156.3,1033.4 1168.8,1033.4 1181.3,1033.5 1193.8,1033.6 1206.3,1033.4 1218.8,1033.3 1231.3,1033.1 1243.8,1033.0 1256.3,1032.8 1268.8,1032.7 1281.3,1031.1 1293.8,1028.9 1306.3,1025.8 1318.8,1016.7 1331.3,1003.9 1343.8,991.4 1356.3,978.9 1368.8,967.3 1381.3,960.4 1393.8,952.8 1406.3,945.3 1418.8,940.8 1431.3,936.2 1443.8,931.4 1456.3,927.5 1456.3,995.6 1443.8,996.0 1431.3,998.0 1418.8,1000.1 1406.3,1002.1 1393.8,1004.2 1381.3,1006.3 1368.8,1008.2 1356.3,1012.9 1343.8,1018.4 1331.3,1023.6 1318.8,1029.2 1306.3,1033.2 1293.8,1034.8 1281.3,1035.7 1268.8,1036.1 1256.3,1036.2 1243.8,1036.2 1231.3,1036.3 1218.8,1036.3 1206.3,1036.4 1193.8,1036.4 1181.3,1036.4 1168.8,1036.3 1156.3,1036.3 1143.8,1036.2 1131.3,1036.2 1118.8,1036.1 1106.3,1036.0 1093.8,1035.8 1081.3,1035.7 1068.8,1035.5 1056.3,1035.3 1043.8,1035.1 1031.3,1034.7 1018.8,1034.4 1006.3,1034.0 993.8,1033.3 981.3,1032.9 968.8,1031.9 956.3,1030.8 943.8,1030.0 931.3,1029.0 918.8,1028.0 906.3,1026.5 893.8,1024.9 881.3,1023.0 868.8,1020.9 856.3,1018.4 843.8,1016.5 831.3,1014.4 818.8,1012.1 806.3,1009.6 793.8,1009.3 781.3,1009.7 768.8,1010.0 756.3,1010.3 743.8,1012.4 731.3,1014.4 718.8,1016.4 706.3,1018.7 693.8,1021.0 681.3,1023.2 668.8,1026.7 656.3,1030.5 643.8,1033.1 631.3,1036.7 618.8,1036.9 606.3,1037.1 593.8,1037.3 581.3,1037.3 568.8,1037.3 556.3,1037.3 543.8,1037.3 531.3,1037.3 518.8,1037.3 506.3,1037.3 493.8,1037.3 481.3,1037.3 468.8,1037.3 456.3,1037.3 443.8,1037.2 431.3,1037.1 418.8,1037.0 406.3,1036.9 393.8,1036.8 381.3,1036.6 368.8,1036.4 356.3,1036.1 343.8,1036.0 331.3,1035.8 318.8,1035.6 306.3,1035.6 293.8,1035.5 281.3,1035.4 268.8,1035.3 256.3,1035.4 243.8,1035.5 231.3,1035.6 218.8,1035.6 206.3,1035.9 193.8,1036.2 181.3,1036.5 168.8,1036.7"/><polygon fill="#ff6300" points="168.8,1035.1 181.3,1034.5 193.8,1033.8 206.3,1032.9 218.8,1032.0 231.3,1031.7 243.8,1031.5 256.3,1031.3 268.8,1031.1 281.3,1031.3 293.8,1031.5 306.3,1031.7 318.8,1032.0 331.3,1032.3 343.8,1032.6 356.3,1032.8 368.8,1033.5 381.3,1034.1 393.8,1034.6 406.3,1035.0 418.8,1035.3 431.3,1035.7 443.8,1035.9 456.3,1036.0 468.8,1036.1 481.3,1036.2 493.8,1036.2 506.3,1036.3 518.8,1036.3 531.3,1036.3 543.8,1036.4 556.3,1036.3 568.8,1036.3 581.3,1036.3 593.8,1036.2 606.3,1035.8 618.8,1035.3 631.3,1034.6 643.8,1030.0 656.3,1025.3 668.8,1018.0 681.3,1009.8 693.8,1002.2 706.3,994.0 718.8,985.8 731.3,980.6 743.8,976.8 756.3,972.8 768.8,970.1 781.3,967.4 793.8,964.5 806.3,962.5 818.8,964.8 831.3,966.9 843.8,969.0 856.3,971.1 868.8,977.1 881.3,982.6 893.8,987.7 906.3,992.2 918.8,996.4 931.3,1002.1 943.8,1007.1 956.3,1011.5 968.8,1017.0 981.3,1021.4 993.8,1023.6 1006.3,1026.5 1018.8,1028.3 1031.3,1029.1 1043.8,1030.6 1056.3,1031.2 1068.8,1031.9 1081.3,1032.5 1093.8,1032.8 1106.3,1033.0 1118.8,1033.3 1131.3,1033.4 1143.8,1033.4 1156.3,1033.5 1168.8,1033.6 1181.3,1033.7 1193.8,1033.7 1206.3,1033.6 1218.8,1033.5 1231.3,1033.3 1243.8,1033.2 1256.3,1033.0 1268.8,1032.8 1281.3,1031.3 1293.8,1029.2 1306.3,1026.2 1318.8,1017.2 1331.3,1004.7 1343.8,992.5 1356.3,980.3 1368.8,969.0 1381.3,962.4 1393.8,955.1 1406.3,947.9 1418.8,943.5 1431.3,938.9 1443.8,934.2 1456.3,930.7 1456.3,994.2 1443.8,994.5 1431.3,996.6 1418.8,998.8 1406.3,1000.9 1393.8,1003.1 1381.3,1005.2 1368.8,1007.2 1356.3,1012.1 1343.8,1017.8 1331.3,1023.2 1318.8,1028.9 1306.3,1033.1 1293.8,1034.6 1281.3,1035.6 1268.8,1036.0 1256.3,1036.1 1243.8,1036.2 1231.3,1036.2 1218.8,1036.3 1206.3,1036.3 1193.8,1036.3 1181.3,1036.3 1168.8,1036.3 1156.3,1036.2 1143.8,1036.2 1131.3,1036.1 1118.8,1036.0 1106.3,1035.9 1093.8,1035.8 1081.3,1035.6 1068.8,1035.4 1056.3,1035.2 1043.8,1035.0 1031.3,1034.6 1018.8,1034.3 1006.3,1033.8 993.8,1033.2 981.3,1032.7 968.8,1031.7 956.3,1030.5 943.8,1029.6 931.3,1028.6 918.8,1027.5 906.3,1026.0 893.8,1024.3 881.3,1022.4 868.8,1020.2 856.3,1017.6 843.8,1015.7 831.3,1013.6 818.8,1011.2 806.3,1008.7 793.8,1008.4 781.3,1008.8 768.8,1009.2 756.3,1009.6 743.8,1011.7 731.3,1013.7 718.8,1015.8 706.3,1018.1 693.8,1020.5 681.3,1022.9 668.8,1026.5 656.3,1030.4 643.8,1033.0 631.3,1036.7 618.8,1036.9 606.3,1037.1 593.8,1037.3 581.3,1037.3 568.8,1037.3 556.3,1037.3 543.8,1037.3 531.3,1037.3 518.8,1037.3 506.3,1037.3 493.8,1037.3 481.3,1037.3 468.8,1037.3 456.3,1037.2 443.8,1037.2 431.3,1037.1 418.8,1037.0 406.3,1036.9 393.8,1036.7 381.3,1036.5 368.8,1036.3 356.3,1036.0 343.8,1035.9 331.3,1035.7 318.8,1035.6 306.3,1035.5 293.8,1035.4 281.3,1035.3 268.8,1035.2 256.3,1035.3 243.8,1035.4 231.3,1035.5 218.8,1035.6 206.3,1035.9 193.8,1036.2 181.3,1036.4 168.8,1036.7"/><polygon fill="#ff5c00" points="168.8,1035.2 181.3,1034.6 193.8,1033.9 206.3,1033.1 218.8,1032.1 231.3,1031.9 243.8,1031.7 256.3,1031.5 268.8,1031.3 281.3,1031.5 293.8,1031.7 306.3,1031.9 318.8,1032.1 331.3,1032.5 343.8,1032.7 356.3,1033.0 368.8,1033.7 381.3,1034.3 393.8,1034.8 406.3,1035.1 418.8,1035.5 431.3,1035.8 443.8,1036.0 456.3,1036.1 468.8,1036.2 481.3,1036.2 493.8,1036.3 506.3,1036.3 518.8,1036.4 531.3,1036.4 543.8,1036.4 556.3,1036.4 568.8,1036.4 581.3,1036.3 593.8,1036.3 606.3,1035.9 618.8,1035.4 631.3,1034.8 643.8,1030.1 656.3,1025.5 668.8,1018.4 681.3,1010.4 693.8,1003.0 706.3,995.2 718.8,987.4 731.3,982.3 743.8,978.7 756.3,974.8 768.8,972.3 781.3,969.7 793.8,966.9 806.3,965.1 818.8,967.4 831.3,969.7 843.8,971.8 856.3,973.9 868.8,979.8 881.3,985.2 893.8,990.0 906.3,994.5 918.8,998.5 931.3,1003.9 943.8,1008.5 956.3,1012.8 968.8,1017.9 981.3,1022.1 993.8,1024.1 1006.3,1026.9 1018.8,1028.6 1031.3,1029.4 1043.8,1030.8 1056.3,1031.4 1068.8,1032.0 1081.3,1032.6 1093.8,1032.9 1106.3,1033.2 1118.8,1033.4 1131.3,1033.5 1143.8,1033.6 1156.3,1033.7 1168.8,1033.7 1181.3,1033.8 1193.8,1033.9 1206.3,1033.8 1218.8,1033.6 1231.3,1033.5 1243.8,1033.3 1256.3,1033.2 1268.8,1033.0 1281.3,1031.6 1293.8,1029.5 1306.3,1026.5 1318.8,1017.7 1331.3,1005.5 1343.8,993.6 1356.3,981.7 1368.8,970.7 1381.3,964.3 1393.8,957.3 1406.3,950.4 1418.8,946.1 1431.3,941.5 1443.8,936.9 1456.3,933.7 1456.3,992.6 1443.8,993.0 1431.3,995.2 1418.8,997.5 1406.3,999.6 1393.8,1001.9 1381.3,1004.1 1368.8,1006.2 1356.3,1011.2 1343.8,1017.1 1331.3,1022.7 1318.8,1028.6 1306.3,1032.9 1293.8,1034.5 1281.3,1035.5 1268.8,1036.0 1256.3,1036.0 1243.8,1036.1 1231.3,1036.1 1218.8,1036.2 1206.3,1036.2 1193.8,1036.3 1181.3,1036.2 1168.8,1036.2 1156.3,1036.1 1143.8,1036.1 1131.3,1036.0 1118.8,1036.0 1106.3,1035.8 1093.8,1035.7 1081.3,1035.5 1068.8,1035.3 1056.3,1035.1 1043.8,1034.9 1031.3,1034.4 1018.8,1034.2 1006.3,1033.7 993.8,1033.0 981.3,1032.5 968.8,1031.4 956.3,1030.2 943.8,1029.2 931.3,1028.2 918.8,1027.0 906.3,1025.5 893.8,1023.7 881.3,1021.7 868.8,1019.4 856.3,1016.8 843.8,1014.8 831.3,1012.7 818.8,1010.3 806.3,1007.8 793.8,1007.6 781.3,1008.0 768.8,1008.4 756.3,1008.8 743.8,1011.0 731.3,1013.0 718.8,1015.1 706.3,1017.5 693.8,1020.0 681.3,1022.5 668.8,1026.2 656.3,1030.2 643.8,1032.9 631.3,1036.6 618.8,1036.9 606.3,1037.1 593.8,1037.3 581.3,1037.3 568.8,1037.3 556.3,1037.3 543.8,1037.3 531.3,1037.3 518.8,1037.3 506.3,1037.3 493.8,1037.3 481.3,1037.3 468.8,1037.2 456.3,1037.2 443.8,1037.2 431.3,1037.1 418.8,1037.0 406.3,1036.8 393.8,1036.7 381.3,1036.5 368.8,1036.2 356.3,1036.0 343.8,1035.8 331.3,1035.7 318.8,1035.5 306.3,1035.4 293.8,1035.3 281.3,1035.2 268.8,1035.1 256.3,1035.2 243.8,1035.3 231.3,1035.4 218.8,1035.5 206.3,1035.8 193.8,1036.1 181.3,1036.4 168.8,1036.6"/><polygon fill="#ff5500" points="168.8,1035.3 181.3,1034.7 193.8,1034.0 206.3,1033.2 218.8,1032.3 231.3,1032.1 243.8,1031.9 256.3,1031.7 268.8,1031.5 281.3,1031.7 293.8,1031.9 306.3,1032.1 318.8,1032.3 331.3,1032.6 343.8,1032.9 356.3,1033.2 368.8,1033.8 381.3,1034.4 393.8,1034.9 406.3,1035.2 418.8,1035.6 431.3,1035.9 443.8,1036.1 456.3,1036.2 468.8,1036.3 481.3,1036.3 493.8,1036.4 506.3,1036.4 518.8,1036.4 531.3,1036.5 543.8,1036.5 556.3,1036.5 568.8,1036.4 581.3,1036.4 593.8,1036.4 606.3,1036.0 618.8,1035.5 631.3,1034.9 643.8,1030.2 656.3,1025.6 668.8,1018.7 681.3,1010.9 693.8,1003.8 706.3,996.3 718.8,988.9 731.3,984.0 743.8,980.5 756.3,976.7 768.8,974.4 781.3,971.9 793.8,969.3 806.3,967.6 818.8,970.0 831.3,972.3 843.8,974.5 856.3,976.6 868.8,982.3 881.3,987.5 893.8,992.3 906.3,996.6 918.8,1000.4 931.3,1005.5 943.8,1009.9 956.3,1013.9 968.8,1018.8 981.3,1022.7 993.8,1024.7 1006.3,1027.3 1018.8,1028.9 1031.3,1029.7 1043.8,1031.0 1056.3,1031.6 1068.8,1032.2 1081.3,1032.8 1093.8,1033.1 1106.3,1033.3 1118.8,1033.6 1131.3,1033.6 1143.8,1033.7 1156.3,1033.8 1168.8,1033.9 1181.3,1034.0 1193.8,1034.0 1206.3,1033.9 1218.8,1033.8 1231.3,1033.6 1243.8,1033.5 1256.3,1033.3 1268.8,1033.2 1281.3,1031.8 1293.8,1029.7 1306.3,1026.8 1318.8,1018.2 1331.3,1006.3 1343.8,994.7 1356.3,983.0 1368.8,972.3 1381.3,966.2 1393.8,959.5 1406.3,952.9 1418.8,948.6 1431.3,944.0 1443.8,939.5 1456.3,936.5 1456.3,991.1 1443.8,991.5 1431.3,993.7 1418.8,996.1 1406.3,998.3 1393.8,1000.7 1381.3,1003.0 1368.8,1005.2 1356.3,1010.4 1343.8,1016.5 1331.3,1022.2 1318.8,1028.3 1306.3,1032.7 1293.8,1034.4 1281.3,1035.4 1268.8,1035.9 1256.3,1036.0 1243.8,1036.0 1231.3,1036.1 1218.8,1036.1 1206.3,1036.2 1193.8,1036.2 1181.3,1036.2 1168.8,1036.1 1156.3,1036.1 1143.8,1036.0 1131.3,1036.0 1118.8,1035.9 1106.3,1035.8 1093.8,1035.6 1081.3,1035.4 1068.8,1035.2 1056.3,1035.0 1043.8,1034.8 1031.3,1034.3 1018.8,1034.1 1006.3,1033.5 993.8,1032.8 981.3,1032.2 968.8,1031.2 956.3,1029.9 943.8,1028.9 931.3,1027.8 918.8,1026.5 906.3,1024.9 893.8,1023.1 881.3,1021.0 868.8,1018.7 856.3,1016.0 843.8,1014.0 831.3,1011.8 818.8,1009.4 806.3,1006.8 793.8,1006.7 781.3,1007.1 768.8,1007.6 756.3,1008.0 743.8,1010.2 731.3,1012.3 718.8,1014.4 706.3,1017.0 693.8,1019.6 681.3,1022.1 668.8,1026.0 656.3,1030.0 643.8,1032.8 631.3,1036.6 618.8,1036.8 606.3,1037.1 593.8,1037.3 581.3,1037.3 568.8,1037.3 556.3,1037.3 543.8,1037.3 531.3,1037.3 518.8,1037.3 506.3,1037.3 493.8,1037.3 481.3,1037.3 468.8,1037.2 456.3,1037.2 443.8,1037.2 431.3,1037.1 418.8,1037.0 406.3,1036.8 393.8,1036.7 381.3,1036.4 368.8,1036.2 356.3,1035.9 343.8,1035.8 331.3,1035.6 318.8,1035.4 306.3,1035.3 293.8,1035.2 281.3,1035.1 268.8,1035.0 256.3,1035.1 243.8,1035.2 231.3,1035.3 218.8,1035.4 206.3,1035.8 193.8,1036.1 181.3,1036.3 168.8,1036.6"/><polygon fill="#ff4e00" points="168.8,1035.3 181.3,1034.8 193.8,1034.1 206.3,1033.4 218.8,1032.5 231.3,1032.3 243.8,1032.1 256.3,1031.9 268.8,1031.7 281.3,1031.9 293.8,1032.1 306.3,1032.3 318.8,1032.5 331.3,1032.8 343.8,1033.1 356.3,1033.4 368.8,1034.0 381.3,1034.5 393.8,1035.0 406.3,1035.4 418.8,1035.7 431.3,1036.0 443.8,1036.2 456.3,1036.3 468.8,1036.3 481.3,1036.4 493.8,1036.5 506.3,1036.5 518.8,1036.5 531.3,1036.5 543.8,1036.6 556.3,1036.5 568.8,1036.5 581.3,1036.5 593.8,1036.5 606.3,1036.1 618.8,1035.6 631.3,1035.0 643.8,1030.2 656.3,1025.8 668.8,1019.0 681.3,1011.5 693.8,1004.6 706.3,997.4 718.8,990.3 731.3,985.7 743.8,982.2 756.3,978.6 768.8,976.3 781.3,974.0 793.8,971.5 806.3,970.0 818.8,972.4 831.3,974.8 843.8,977.0 856.3,979.2 868.8,984.8 881.3,989.8 893.8,994.4 906.3,998.5 918.8,1002.3 931.3,1007.1 943.8,1011.2 956.3,1015.0 968.8,1019.6 981.3,1023.3 993.8,1025.2 1006.3,1027.6 1018.8,1029.2 1031.3,1029.9 1043.8,1031.2 1056.3,1031.8 1068.8,1032.3 1081.3,1032.9 1093.8,1033.2 1106.3,1033.4 1118.8,1033.7 1131.3,1033.8 1143.8,1033.9 1156.3,1033.9 1168.8,1034.0 1181.3,1034.1 1193.8,1034.2 1206.3,1034.1 1218.8,1033.9 1231.3,1033.8 1243.8,1033.6 1256.3,1033.5 1268.8,1033.4 1281.3,1032.0 1293.8,1030.0 1306.3,1027.1 1318.8,1018.7 1331.3,1007.1 1343.8,995.8 1356.3,984.3 1368.8,973.8 1381.3,967.9 1393.8,961.6 1406.3,955.2 1418.8,951.0 1431.3,946.5 1443.8,942.0 1456.3,939.3 1456.3,989.5 1443.8,989.9 1431.3,992.2 1418.8,994.7 1406.3,997.0 1393.8,999.5 1381.3,1001.9 1368.8,1004.1 1356.3,1009.5 1343.8,1015.8 1331.3,1021.7 1318.8,1028.0 1306.3,1032.5 1293.8,1034.3 1281.3,1035.3 1268.8,1035.8 1256.3,1035.9 1243.8,1036.0 1231.3,1036.0 1218.8,1036.1 1206.3,1036.1 1193.8,1036.2 1181.3,1036.1 1168.8,1036.1 1156.3,1036.0 1143.8,1036.0 1131.3,1035.9 1118.8,1035.8 1106.3,1035.7 1093.8,1035.5 1081.3,1035.3 1068.8,1035.1 1056.3,1034.9 1043.8,1034.6 1031.3,1034.2 1018.8,1033.9 1006.3,1033.4 993.8,1032.6 981.3,1032.0 968.8,1030.9 956.3,1029.6 943.8,1028.5 931.3,1027.3 918.8,1026.0 906.3,1024.3 893.8,1022.5 881.3,1020.3 868.8,1017.9 856.3,1015.1 843.8,1013.1 831.3,1010.9 818.8,1008.5 806.3,1005.9 793.8,1005.7 781.3,1006.2 768.8,1006.7 756.3,1007.2 743.8,1009.5 731.3,1011.5 718.8,1013.7 706.3,1016.4 693.8,1019.1 681.3,1021.8 668.8,1025.7 656.3,1029.9 643.8,1032.7 631.3,1036.6 618.8,1036.8 606.3,1037.1 593.8,1037.3 581.3,1037.3 568.8,1037.3 556.3,1037.3 543.8,1037.3 531.3,1037.3 518.8,1037.3 506.3,1037.3 493.8,1037.3 481.3,1037.2 468.8,1037.2 456.3,1037.2 443.8,1037.2 431.3,1037.1 418.8,1036.9 406.3,1036.8 393.8,1036.6 381.3,1036.4 368.8,1036.1 356.3,1035.8 343.8,1035.7 331.3,1035.5 318.8,1035.3 306.3,1035.2 293.8,1035.1 281.3,1035.0 268.8,1034.9 256.3,1035.0 243.8,1035.1 231.3,1035.2 218.8,1035.3 206.3,1035.7 193.8,1036.0 181.3,1036.3 168.8,1036.6"/><polygon fill="#ff4700" points="168.8,1035.4 181.3,1034.9 193.8,1034.3 206.3,1033.5 218.8,1032.7 231.3,1032.5 243.8,1032.3 256.3,1032.1 268.8,1031.9 281.3,1032.1 293.8,1032.3 306.3,1032.5 318.8,1032.7 331.3,1033.0 343.8,1033.3 356.3,1033.5 368.8,1034.1 381.3,1034.7 393.8,1035.1 406.3,1035.5 418.8,1035.8 431.3,1036.0 443.8,1036.3 456.3,1036.4 468.8,1036.4 481.3,1036.5 493.8,1036.5 506.3,1036.6 518.8,1036.6 531.3,1036.6 543.8,1036.6 556.3,1036.6 568.8,1036.6 581.3,1036.6 593.8,1036.5 606.3,1036.1 618.8,1035.7 631.3,1035.1 643.8,1030.3 656.3,1026.0 668.8,1019.3 681.3,1012.0 693.8,1005.4 706.3,998.5 718.8,991.7 731.3,987.2 743.8,983.9 756.3,980.4 768.8,978.2 781.3,976.0 793.8,973.7 806.3,972.3 818.8,974.8 831.3,977.1 843.8,979.4 856.3,981.6 868.8,987.0 881.3,991.9 893.8,996.4 906.3,1000.4 918.8,1004.0 931.3,1008.5 943.8,1012.5 956.3,1016.0 968.8,1020.3 981.3,1023.8 993.8,1025.6 1006.3,1028.0 1018.8,1029.5 1031.3,1030.2 1043.8,1031.4 1056.3,1031.9 1068.8,1032.5 1081.3,1033.0 1093.8,1033.3 1106.3,1033.6 1118.8,1033.8 1131.3,1033.9 1143.8,1034.0 1156.3,1034.1 1168.8,1034.2 1181.3,1034.2 1193.8,1034.3 1206.3,1034.2 1218.8,1034.1 1231.3,1033.9 1243.8,1033.8 1256.3,1033.7 1268.8,1033.5 1281.3,1032.2 1293.8,1030.2 1306.3,1027.3 1318.8,1019.2 1331.3,1007.9 1343.8,996.8 1356.3,985.6 1368.8,975.3 1381.3,969.7 1393.8,963.6 1406.3,957.5 1418.8,953.3 1431.3,948.9 1443.8,944.5 1456.3,942.0 1456.3,987.8 1443.8,988.2 1431.3,990.7 1418.8,993.2 1406.3,995.6 1393.8,998.2 1381.3,1000.7 1368.8,1003.0 1356.3,1008.6 1343.8,1015.1 1331.3,1021.2 1318.8,1027.6 1306.3,1032.3 1293.8,1034.1 1281.3,1035.2 1268.8,1035.8 1256.3,1035.8 1243.8,1035.9 1231.3,1036.0 1218.8,1036.0 1206.3,1036.1 1193.8,1036.1 1181.3,1036.1 1168.8,1036.0 1156.3,1036.0 1143.8,1035.9 1131.3,1035.8 1118.8,1035.8 1106.3,1035.6 1093.8,1035.4 1081.3,1035.3 1068.8,1035.0 1056.3,1034.8 1043.8,1034.5 1031.3,1034.0 1018.8,1033.8 1006.3,1033.2 993.8,1032.4 981.3,1031.8 968.8,1030.6 956.3,1029.2 943.8,1028.1 931.3,1026.8 918.8,1025.5 906.3,1023.8 893.8,1021.8 881.3,1019.6 868.8,1017.1 856.3,1014.2 843.8,1012.2 831.3,1009.9 818.8,1007.5 806.3,1004.9 793.8,1004.8 781.3,1005.3 768.8,1005.9 756.3,1006.4 743.8,1008.7 731.3,1010.8 718.8,1013.0 706.3,1015.8 693.8,1018.6 681.3,1021.4 668.8,1025.5 656.3,1029.7 643.8,1032.6 631.3,1036.5 618.8,1036.8 606.3,1037.0 593.8,1037.3 581.3,1037.3 568.8,1037.3 556.3,1037.3 543.8,1037.3 531.3,1037.3 518.8,1037.3 506.3,1037.3 493.8,1037.3 481.3,1037.2 468.8,1037.2 456.3,1037.2 443.8,1037.2 431.3,1037.1 418.8,1036.9 406.3,1036.8 393.8,1036.6 381.3,1036.4 368.8,1036.1 356.3,1035.8 343.8,1035.6 331.3,1035.4 318.8,1035.3 306.3,1035.2 293.8,1035.0 281.3,1034.9 268.8,1034.8 256.3,1034.9 243.8,1035.0 231.3,1035.2 218.8,1035.3 206.3,1035.6 193.8,1036.0 181.3,1036.3 168.8,1036.5"/><polygon fill="#ff4000" points="168.8,1035.5 181.3,1035.0 193.8,1034.4 206.3,1033.7 218.8,1032.9 231.3,1032.7 243.8,1032.5 256.3,1032.3 268.8,1032.1 281.3,1032.3 293.8,1032.5 306.3,1032.7 318.8,1032.9 331.3,1033.1 343.8,1033.4 356.3,1033.7 368.8,1034.3 381.3,1034.8 393.8,1035.2 406.3,1035.6 418.8,1035.9 431.3,1036.1 443.8,1036.4 456.3,1036.4 468.8,1036.5 481.3,1036.5 493.8,1036.6 506.3,1036.6 518.8,1036.6 531.3,1036.7 543.8,1036.7 556.3,1036.7 568.8,1036.6 581.3,1036.6 593.8,1036.6 606.3,1036.2 618.8,1035.8 631.3,1035.2 643.8,1030.4 656.3,1026.1 668.8,1019.6 681.3,1012.5 693.8,1006.1 706.3,999.5 718.8,993.0 731.3,988.7 743.8,985.5 756.3,982.1 768.8,980.1 781.3,978.0 793.8,975.8 806.3,974.5 818.8,977.0 831.3,979.4 843.8,981.7 856.3,984.0 868.8,989.2 881.3,994.0 893.8,998.3 906.3,1002.2 918.8,1005.7 931.3,1009.9 943.8,1013.6 956.3,1017.0 968.8,1021.1 981.3,1024.4 993.8,1026.1 1006.3,1028.4 1018.8,1029.8 1031.3,1030.4 1043.8,1031.6 1056.3,1032.1 1068.8,1032.6 1081.3,1033.1 1093.8,1033.4 1106.3,1033.7 1118.8,1033.9 1131.3,1034.0 1143.8,1034.1 1156.3,1034.2 1168.8,1034.3 1181.3,1034.4 1193.8,1034.4 1206.3,1034.3 1218.8,1034.2 1231.3,1034.1 1243.8,1033.9 1256.3,1033.8 1268.8,1033.7 1281.3,1032.4 1293.8,1030.5 1306.3,1027.6 1318.8,1019.6 1331.3,1008.6 1343.8,997.8 1356.3,986.8 1368.8,976.8 1381.3,971.4 1393.8,965.5 1406.3,959.6 1418.8,955.5 1431.3,951.1 1443.8,946.8 1456.3,944.6 1456.3,986.2 1443.8,986.5 1431.3,989.1 1418.8,991.7 1406.3,994.2 1393.8,996.9 1381.3,999.5 1368.8,1002.0 1356.3,1007.7 1343.8,1014.4 1331.3,1020.7 1318.8,1027.3 1306.3,1032.1 1293.8,1034.0 1281.3,1035.1 1268.8,1035.7 1256.3,1035.8 1243.8,1035.8 1231.3,1035.9 1218.8,1036.0 1206.3,1036.0 1193.8,1036.1 1181.3,1036.0 1168.8,1036.0 1156.3,1035.9 1143.8,1035.8 1131.3,1035.8 1118.8,1035.7 1106.3,1035.5 1093.8,1035.4 1081.3,1035.2 1068.8,1034.9 1056.3,1034.7 1043.8,1034.4 1031.3,1033.9 1018.8,1033.7 1006.3,1033.1 993.8,1032.2 981.3,1031.5 968.8,1030.3 956.3,1028.9 943.8,1027.7 931.3,1026.4 918.8,1024.9 906.3,1023.1 893.8,1021.1 881.3,1018.8 868.8,1016.2 856.3,1013.3 843.8,1011.2 831.3,1009.0 818.8,1006.5 806.3,1003.9 793.8,1003.8 781.3,1004.4 768.8,1005.0 756.3,1005.6 743.8,1007.9 731.3,1010.0 718.8,1012.3 706.3,1015.2 693.8,1018.1 681.3,1021.0 668.8,1025.2 656.3,1029.5 643.8,1032.4 631.3,1036.5 618.8,1036.8 606.3,1037.0 593.8,1037.2 581.3,1037.2 568.8,1037.2 556.3,1037.2 543.8,1037.2 531.3,1037.2 518.8,1037.2 506.3,1037.2 493.8,1037.2 481.3,1037.2 468.8,1037.2 456.3,1037.2 443.8,1037.2 431.3,1037.0 418.8,1036.9 406.3,1036.7 393.8,1036.6 381.3,1036.3 368.8,1036.0 356.3,1035.7 343.8,1035.5 331.3,1035.4 318.8,1035.2 306.3,1035.1 293.8,1035.0 281.3,1034.8 268.8,1034.7 256.3,1034.8 243.8,1035.0 231.3,1035.1 218.8,1035.2 206.3,1035.6 193.8,1035.9 181.3,1036.2 168.8,1036.5"/><polygon fill="#ff3900" points="168.8,1035.6 181.3,1035.1 193.8,1034.5 206.3,1033.8 218.8,1033.0 231.3,1032.9 243.8,1032.7 256.3,1032.5 268.8,1032.3 281.3,1032.5 293.8,1032.7 306.3,1032.9 318.8,1033.0 331.3,1033.3 343.8,1033.6 356.3,1033.8 368.8,1034.4 381.3,1034.9 393.8,1035.3 406.3,1035.7 418.8,1036.0 431.3,1036.2 443.8,1036.5 456.3,1036.5 468.8,1036.6 481.3,1036.6 493.8,1036.7 506.3,1036.7 518.8,1036.7 531.3,1036.7 543.8,1036.7 556.3,1036.7 568.8,1036.7 581.3,1036.7 593.8,1036.7 606.3,1036.3 618.8,1035.9 631.3,1035.3 643.8,1030.5 656.3,1026.3 668.8,1019.9 681.3,1013.0 693.8,1006.8 706.3,1000.5 718.8,994.3 731.3,990.2 743.8,987.1 756.3,983.8 768.8,981.8 781.3,979.8 793.8,977.8 806.3,976.6 818.8,979.2 831.3,981.6 843.8,983.9 856.3,986.2 868.8,991.3 881.3,995.9 893.8,1000.1 906.3,1003.8 918.8,1007.2 931.3,1011.2 943.8,1014.7 956.3,1017.9 968.8,1021.8 981.3,1024.9 993.8,1026.5 1006.3,1028.7 1018.8,1030.0 1031.3,1030.6 1043.8,1031.7 1056.3,1032.2 1068.8,1032.7 1081.3,1033.2 1093.8,1033.5 1106.3,1033.8 1118.8,1034.0 1131.3,1034.1 1143.8,1034.2 1156.3,1034.3 1168.8,1034.4 1181.3,1034.5 1193.8,1034.6 1206.3,1034.5 1218.8,1034.3 1231.3,1034.2 1243.8,1034.1 1256.3,1033.9 1268.8,1033.8 1281.3,1032.6 1293.8,1030.7 1306.3,1027.9 1318.8,1020.1 1331.3,1009.3 1343.8,998.8 1356.3,988.0 1368.8,978.2 1381.3,973.0 1393.8,967.4 1406.3,961.7 1418.8,957.7 1431.3,953.4 1443.8,949.1 1456.3,947.1 1456.3,984.4 1443.8,984.8 1431.3,987.5 1418.8,990.2 1406.3,992.8 1393.8,995.6 1381.3,998.3 1368.8,1000.8 1356.3,1006.8 1343.8,1013.7 1331.3,1020.2 1318.8,1027.0 1306.3,1031.9 1293.8,1033.9 1281.3,1035.0 1268.8,1035.6 1256.3,1035.7 1243.8,1035.8 1231.3,1035.8 1218.8,1035.9 1206.3,1036.0 1193.8,1036.0 1181.3,1036.0 1168.8,1035.9 1156.3,1035.8 1143.8,1035.8 1131.3,1035.7 1118.8,1035.6 1106.3,1035.5 1093.8,1035.3 1081.3,1035.1 1068.8,1034.8 1056.3,1034.6 1043.8,1034.3 1031.3,1033.8 1018.8,1033.5 1006.3,1032.9 993.8,1032.0 981.3,1031.3 968.8,1030.0 956.3,1028.5 943.8,1027.2 931.3,1025.9 918.8,1024.4 906.3,1022.5 893.8,1020.4 881.3,1018.0 868.8,1015.4 856.3,1012.3 843.8,1010.2 831.3,1008.0 818.8,1005.5 806.3,1002.9 793.8,1002.9 781.3,1003.5 768.8,1004.1 756.3,1004.8 743.8,1007.1 731.3,1009.2 718.8,1011.6 706.3,1014.5 693.8,1017.6 681.3,1020.6 668.8,1024.9 656.3,1029.3 643.8,1032.3 631.3,1036.5 618.8,1036.8 606.3,1037.0 593.8,1037.2 581.3,1037.2 568.8,1037.2 556.3,1037.2 543.8,1037.2 531.3,1037.2 518.8,1037.2 506.3,1037.2 493.8,1037.2 481.3,1037.2 468.8,1037.2 456.3,1037.2 443.8,1037.2 431.3,1037.0 418.8,1036.9 406.3,1036.7 393.8,1036.5 381.3,1036.3 368.8,1036.0 356.3,1035.6 343.8,1035.5 331.3,1035.3 318.8,1035.1 306.3,1035.0 293.8,1034.9 281.3,1034.8 268.8,1034.6 256.3,1034.8 243.8,1034.9 231.3,1035.0 218.8,1035.1 206.3,1035.5 193.8,1035.9 181.3,1036.2 168.8,1036.5"/><polygon fill="#ff3200" points="168.8,1035.6 181.3,1035.2 193.8,1034.6 206.3,1033.9 218.8,1033.2 231.3,1033.0 243.8,1032.8 256.3,1032.6 268.8,1032.4 281.3,1032.6 293.8,1032.8 306.3,1033.0 318.8,1033.2 331.3,1033.5 343.8,1033.7 356.3,1033.9 368.8,1034.5 381.3,1035.0 393.8,1035.5 406.3,1035.8 418.8,1036.0 431.3,1036.3 443.8,1036.5 456.3,1036.6 468.8,1036.6 481.3,1036.7 493.8,1036.7 506.3,1036.7 518.8,1036.8 531.3,1036.8 543.8,1036.8 556.3,1036.8 568.8,1036.8 581.3,1036.7 593.8,1036.7 606.3,1036.4 618.8,1036.0 631.3,1035.5 643.8,1030.6 656.3,1026.4 668.8,1020.2 681.3,1013.4 693.8,1007.5 706.3,1001.5 718.8,995.5 731.3,991.6 743.8,988.6 756.3,985.3 768.8,983.5 781.3,981.7 793.8,979.7 806.3,978.7 818.8,981.2 831.3,983.7 843.8,986.0 856.3,988.3 868.8,993.3 881.3,997.7 893.8,1001.8 906.3,1005.4 918.8,1008.7 931.3,1012.5 943.8,1015.8 956.3,1018.8 968.8,1022.4 981.3,1025.4 993.8,1026.9 1006.3,1029.0 1018.8,1030.3 1031.3,1030.8 1043.8,1031.9 1056.3,1032.4 1068.8,1032.9 1081.3,1033.3 1093.8,1033.6 1106.3,1033.9 1118.8,1034.1 1131.3,1034.2 1143.8,1034.3 1156.3,1034.4 1168.8,1034.5 1181.3,1034.6 1193.8,1034.7 1206.3,1034.6 1218.8,1034.5 1231.3,1034.3 1243.8,1034.2 1256.3,1034.1 1268.8,1033.9 1281.3,1032.8 1293.8,1030.9 1306.3,1028.1 1318.8,1020.5 1331.3,1010.0 1343.8,999.7 1356.3,989.1 1368.8,979.6 1381.3,974.6 1393.8,969.2 1406.3,963.8 1418.8,959.8 1431.3,955.5 1443.8,951.3 1456.3,949.6 1456.3,982.7 1443.8,983.0 1431.3,985.8 1418.8,988.7 1406.3,991.4 1393.8,994.3 1381.3,997.1 1368.8,999.7 1356.3,1005.8 1343.8,1012.9 1331.3,1019.6 1318.8,1026.6 1306.3,1031.7 1293.8,1033.7 1281.3,1034.9 1268.8,1035.6 1256.3,1035.6 1243.8,1035.7 1231.3,1035.8 1218.8,1035.9 1206.3,1035.9 1193.8,1036.0 1181.3,1035.9 1168.8,1035.9 1156.3,1035.8 1143.8,1035.7 1131.3,1035.6 1118.8,1035.6 1106.3,1035.4 1093.8,1035.2 1081.3,1035.0 1068.8,1034.7 1056.3,1034.5 1043.8,1034.2 1031.3,1033.6 1018.8,1033.4 1006.3,1032.7 993.8,1031.7 981.3,1031.0 968.8,1029.7 956.3,1028.1 943.8,1026.8 931.3,1025.4 918.8,1023.8 906.3,1021.8 893.8,1019.7 881.3,1017.2 868.8,1014.5 856.3,1011.4 843.8,1009.2 831.3,1007.0 818.8,1004.5 806.3,1001.8 793.8,1001.9 781.3,1002.6 768.8,1003.2 756.3,1003.9 743.8,1006.2 731.3,1008.4 718.8,1010.8 706.3,1013.9 693.8,1017.1 681.3,1020.2 668.8,1024.7 656.3,1029.2 643.8,1032.2 631.3,1036.4 618.8,1036.7 606.3,1037.0 593.8,1037.2 581.3,1037.2 568.8,1037.2 556.3,1037.2 543.8,1037.2 531.3,1037.2 518.8,1037.2 506.3,1037.2 493.8,1037.2 481.3,1037.2 468.8,1037.2 456.3,1037.2 443.8,1037.1 431.3,1037.0 418.8,1036.8 406.3,1036.7 393.8,1036.5 381.3,1036.2 368.8,1035.9 356.3,1035.6 343.8,1035.4 331.3,1035.2 318.8,1035.0 306.3,1034.9 293.8,1034.8 281.3,1034.7 268.8,1034.5 256.3,1034.7 243.8,1034.8 231.3,1034.9 218.8,1035.0 206.3,1035.4 193.8,1035.8 181.3,1036.1 168.8,1036.4"/><polygon fill="#ff2a00" points="168.8,1035.7 181.3,1035.2 193.8,1034.7 206.3,1034.1 218.8,1033.3 231.3,1033.2 243.8,1033.0 256.3,1032.8 268.8,1032.6 281.3,1032.8 293.8,1033.0 306.3,1033.2 318.8,1033.3 331.3,1033.6 343.8,1033.8 356.3,1034.1 368.8,1034.6 381.3,1035.1 393.8,1035.6 406.3,1035.9 418.8,1036.1 431.3,1036.4 443.8,1036.6 456.3,1036.6 468.8,1036.7 481.3,1036.7 493.8,1036.8 506.3,1036.8 518.8,1036.8 531.3,1036.8 543.8,1036.8 556.3,1036.8 568.8,1036.8 581.3,1036.8 593.8,1036.8 606.3,1036.4 618.8,1036.0 631.3,1035.6 643.8,1030.7 656.3,1026.6 668.8,1020.5 681.3,1013.9 693.8,1008.2 706.3,1002.4 718.8,996.7 731.3,992.9 743.8,990.0 756.3,986.9 768.8,985.2 781.3,983.4 793.8,981.6 806.3,980.6 818.8,983.2 831.3,985.7 843.8,988.1 856.3,990.3 868.8,995.2 881.3,999.5 893.8,1003.4 906.3,1006.9 918.8,1010.1 931.3,1013.7 943.8,1016.8 956.3,1019.7 968.8,1023.1 981.3,1025.9 993.8,1027.3 1006.3,1029.3 1018.8,1030.5 1031.3,1031.1 1043.8,1032.0 1056.3,1032.5 1068.8,1033.0 1081.3,1033.5 1093.8,1033.7 1106.3,1034.0 1118.8,1034.2 1131.3,1034.3 1143.8,1034.4 1156.3,1034.5 1168.8,1034.6 1181.3,1034.7 1193.8,1034.8 1206.3,1034.7 1218.8,1034.6 1231.3,1034.5 1243.8,1034.3 1256.3,1034.2 1268.8,1034.1 1281.3,1033.0 1293.8,1031.2 1306.3,1028.4 1318.8,1020.9 1331.3,1010.6 1343.8,1000.6 1356.3,990.2 1368.8,980.9 1381.3,976.1 1393.8,971.0 1406.3,965.8 1418.8,961.8 1431.3,957.6 1443.8,953.5 1456.3,951.9 1456.3,980.9 1443.8,981.2 1431.3,984.1 1418.8,987.0 1406.3,989.8 1393.8,992.9 1381.3,995.8 1368.8,998.5 1356.3,1004.9 1343.8,1012.2 1331.3,1019.1 1318.8,1026.3 1306.3,1031.5 1293.8,1033.6 1281.3,1034.8 1268.8,1035.5 1256.3,1035.6 1243.8,1035.6 1231.3,1035.7 1218.8,1035.8 1206.3,1035.9 1193.8,1035.9 1181.3,1035.9 1168.8,1035.8 1156.3,1035.7 1143.8,1035.6 1131.3,1035.6 1118.8,1035.5 1106.3,1035.3 1093.8,1035.1 1081.3,1034.9 1068.8,1034.6 1056.3,1034.3 1043.8,1034.0 1031.3,1033.5 1018.8,1033.2 1006.3,1032.6 993.8,1031.5 981.3,1030.8 968.8,1029.4 956.3,1027.7 943.8,1026.3 931.3,1024.8 918.8,1023.2 906.3,1021.2 893.8,1018.9 881.3,1016.4 868.8,1013.6 856.3,1010.3 843.8,1008.2 831.3,1005.9 818.8,1003.4 806.3,1000.8 793.8,1000.8 781.3,1001.6 768.8,1002.3 756.3,1003.0 743.8,1005.4 731.3,1007.6 718.8,1010.1 706.3,1013.2 693.8,1016.5 681.3,1019.9 668.8,1024.4 656.3,1029.0 643.8,1032.1 631.3,1036.4 618.8,1036.7 606.3,1037.0 593.8,1037.2 581.3,1037.2 568.8,1037.2 556.3,1037.2 543.8,1037.2 531.3,1037.2 518.8,1037.2 506.3,1037.2 493.8,1037.2 481.3,1037.2 468.8,1037.2 456.3,1037.1 443.8,1037.1 431.3,1037.0 418.8,1036.8 406.3,1036.6 393.8,1036.4 381.3,1036.2 368.8,1035.8 356.3,1035.5 343.8,1035.3 331.3,1035.1 318.8,1034.9 306.3,1034.8 293.8,1034.7 281.3,1034.6 268.8,1034.4 256.3,1034.6 243.8,1034.7 231.3,1034.8 218.8,1034.9 206.3,1035.4 193.8,1035.8 181.3,1036.1 168.8,1036.4"/><polygon fill="#ff2300" points="168.8,1035.8 181.3,1035.3 193.8,1034.8 206.3,1034.2 218.8,1033.5 231.3,1033.3 243.8,1033.1 256.3,1033.0 268.8,1032.8 281.3,1033.0 293.8,1033.1 306.3,1033.3 318.8,1033.5 331.3,1033.7 343.8,1034.0 356.3,1034.2 368.8,1034.8 381.3,1035.2 393.8,1035.6 406.3,1035.9 418.8,1036.2 431.3,1036.4 443.8,1036.7 456.3,1036.7 468.8,1036.8 481.3,1036.8 493.8,1036.8 506.3,1036.9 518.8,1036.9 531.3,1036.9 543.8,1036.9 556.3,1036.9 568.8,1036.9 581.3,1036.9 593.8,1036.8 606.3,1036.5 618.8,1036.1 631.3,1035.6 643.8,1030.7 656.3,1026.7 668.8,1020.7 681.3,1014.4 693.8,1008.9 706.3,1003.3 718.8,997.9 731.3,994.2 743.8,991.4 756.3,988.4 768.8,986.8 781.3,985.1 793.8,983.4 806.3,982.5 818.8,985.1 831.3,987.6 843.8,990.0 856.3,992.3 868.8,996.9 881.3,1001.2 893.8,1005.0 906.3,1008.4 918.8,1011.4 931.3,1014.8 943.8,1017.8 956.3,1020.5 968.8,1023.7 981.3,1026.3 993.8,1027.7 1006.3,1029.6 1018.8,1030.8 1031.3,1031.3 1043.8,1032.2 1056.3,1032.7 1068.8,1033.1 1081.3,1033.6 1093.8,1033.8 1106.3,1034.1 1118.8,1034.3 1131.3,1034.5 1143.8,1034.6 1156.3,1034.6 1168.8,1034.7 1181.3,1034.8 1193.8,1034.9 1206.3,1034.8 1218.8,1034.7 1231.3,1034.6 1243.8,1034.5 1256.3,1034.3 1268.8,1034.2 1281.3,1033.1 1293.8,1031.4 1306.3,1028.6 1318.8,1021.3 1331.3,1011.3 1343.8,1001.5 1356.3,991.3 1368.8,982.2 1381.3,977.6 1393.8,972.7 1406.3,967.7 1418.8,963.7 1431.3,959.6 1443.8,955.5 1456.3,954.2 1456.3,979.0 1443.8,979.4 1431.3,982.3 1418.8,985.4 1406.3,988.3 1393.8,991.4 1381.3,994.5 1368.8,997.3 1356.3,1003.9 1343.8,1011.4 1331.3,1018.5 1318.8,1025.9 1306.3,1031.3 1293.8,1033.5 1281.3,1034.7 1268.8,1035.4 1256.3,1035.5 1243.8,1035.6 1231.3,1035.7 1218.8,1035.7 1206.3,1035.8 1193.8,1035.9 1181.3,1035.8 1168.8,1035.7 1156.3,1035.7 1143.8,1035.6 1131.3,1035.5 1118.8,1035.4 1106.3,1035.2 1093.8,1035.0 1081.3,1034.8 1068.8,1034.5 1056.3,1034.2 1043.8,1033.9 1031.3,1033.3 1018.8,1033.1 1006.3,1032.4 993.8,1031.3 981.3,1030.5 968.8,1029.0 956.3,1027.3 943.8,1025.9 931.3,1024.3 918.8,1022.5 906.3,1020.5 893.8,1018.2 881.3,1015.5 868.8,1012.6 856.3,1009.3 843.8,1007.1 831.3,1004.8 818.8,1002.3 806.3,999.7 793.8,999.8 781.3,1000.6 768.8,1001.4 756.3,1002.2 743.8,1004.5 731.3,1006.8 718.8,1009.3 706.3,1012.6 693.8,1016.0 681.3,1019.4 668.8,1024.1 656.3,1028.8 643.8,1032.0 631.3,1036.4 618.8,1036.7 606.3,1037.0 593.8,1037.2 581.3,1037.2 568.8,1037.2 556.3,1037.2 543.8,1037.2 531.3,1037.2 518.8,1037.2 506.3,1037.2 493.8,1037.2 481.3,1037.2 468.8,1037.2 456.3,1037.1 443.8,1037.1 431.3,1037.0 418.8,1036.8 406.3,1036.6 393.8,1036.4 381.3,1036.1 368.8,1035.8 356.3,1035.4 343.8,1035.2 331.3,1035.0 318.8,1034.8 306.3,1034.7 293.8,1034.6 281.3,1034.5 268.8,1034.3 256.3,1034.5 243.8,1034.6 231.3,1034.7 218.8,1034.8 206.3,1035.3 193.8,1035.7 181.3,1036.1 168.8,1036.4"/><polygon fill="#ff1c00" points="168.8,1035.8 181.3,1035.4 193.8,1034.9 206.3,1034.3 218.8,1033.6 231.3,1033.5 243.8,1033.3 256.3,1033.1 268.8,1032.9 281.3,1033.1 293.8,1033.3 306.3,1033.5 318.8,1033.6 331.3,1033.9 343.8,1034.1 356.3,1034.3 368.8,1034.9 381.3,1035.3 393.8,1035.7 406.3,1036.0 418.8,1036.3 431.3,1036.5 443.8,1036.7 456.3,1036.8 468.8,1036.8 481.3,1036.9 493.8,1036.9 506.3,1036.9 518.8,1036.9 531.3,1036.9 543.8,1036.9 556.3,1036.9 568.8,1036.9 581.3,1036.9 593.8,1036.9 606.3,1036.6 618.8,1036.2 631.3,1035.7 643.8,1030.8 656.3,1026.9 668.8,1021.0 681.3,1014.8 693.8,1009.5 706.3,1004.2 718.8,999.0 731.3,995.5 743.8,992.8 756.3,989.8 768.8,988.3 781.3,986.7 793.8,985.1 806.3,984.3 818.8,986.9 831.3,989.4 843.8,991.8 856.3,994.1 868.8,998.7 881.3,1002.8 893.8,1006.4 906.3,1009.7 918.8,1012.7 931.3,1015.9 943.8,1018.7 956.3,1021.2 968.8,1024.3 981.3,1026.7 993.8,1028.1 1006.3,1029.9 1018.8,1031.0 1031.3,1031.5 1043.8,1032.4 1056.3,1032.8 1068.8,1033.3 1081.3,1033.7 1093.8,1033.9 1106.3,1034.2 1118.8,1034.4 1131.3,1034.6 1143.8,1034.7 1156.3,1034.8 1168.8,1034.9 1181.3,1034.9 1193.8,1035.0 1206.3,1034.9 1218.8,1034.8 1231.3,1034.7 1243.8,1034.6 1256.3,1034.5 1268.8,1034.3 1281.3,1033.3 1293.8,1031.6 1306.3,1028.9 1318.8,1021.7 1331.3,1011.9 1343.8,1002.3 1356.3,992.4 1368.8,983.5 1381.3,979.1 1393.8,974.3 1406.3,969.5 1418.8,965.7 1431.3,961.6 1443.8,957.6 1456.3,956.4 1456.3,977.1 1443.8,977.4 1431.3,980.5 1418.8,983.7 1406.3,986.7 1393.8,990.0 1381.3,993.1 1368.8,996.1 1356.3,1002.8 1343.8,1010.6 1331.3,1017.9 1318.8,1025.5 1306.3,1031.1 1293.8,1033.3 1281.3,1034.6 1268.8,1035.3 1256.3,1035.4 1243.8,1035.5 1231.3,1035.6 1218.8,1035.7 1206.3,1035.8 1193.8,1035.8 1181.3,1035.8 1168.8,1035.7 1156.3,1035.6 1143.8,1035.5 1131.3,1035.4 1118.8,1035.3 1106.3,1035.1 1093.8,1034.9 1081.3,1034.7 1068.8,1034.4 1056.3,1034.1 1043.8,1033.8 1031.3,1033.2 1018.8,1032.9 1006.3,1032.2 993.8,1031.0 981.3,1030.2 968.8,1028.7 956.3,1026.9 943.8,1025.4 931.3,1023.7 918.8,1021.9 906.3,1019.7 893.8,1017.3 881.3,1014.7 868.8,1011.6 856.3,1008.2 843.8,1006.0 831.3,1003.7 818.8,1001.2 806.3,998.5 793.8,998.7 781.3,999.6 768.8,1000.4 756.3,1001.2 743.8,1003.7 731.3,1005.9 718.8,1008.5 706.3,1011.9 693.8,1015.5 681.3,1019.0 668.8,1023.8 656.3,1028.6 643.8,1031.8 631.3,1036.3 618.8,1036.7 606.3,1037.0 593.8,1037.2 581.3,1037.2 568.8,1037.2 556.3,1037.2 543.8,1037.2 531.3,1037.2 518.8,1037.2 506.3,1037.2 493.8,1037.2 481.3,1037.2 468.8,1037.1 456.3,1037.1 443.8,1037.1 431.3,1036.9 418.8,1036.8 406.3,1036.6 393.8,1036.4 381.3,1036.1 368.8,1035.7 356.3,1035.3 343.8,1035.1 331.3,1035.0 318.8,1034.8 306.3,1034.6 293.8,1034.5 281.3,1034.4 268.8,1034.2 256.3,1034.4 243.8,1034.5 231.3,1034.6 218.8,1034.8 206.3,1035.2 193.8,1035.6 181.3,1036.0 168.8,1036.3"/><polygon fill="#ff1500" points="168.8,1035.9 181.3,1035.5 193.8,1035.0 206.3,1034.4 218.8,1033.8 231.3,1033.6 243.8,1033.4 256.3,1033.3 268.8,1033.1 281.3,1033.3 293.8,1033.4 306.3,1033.6 318.8,1033.8 331.3,1034.0 343.8,1034.2 356.3,1034.5 368.8,1035.0 381.3,1035.4 393.8,1035.8 406.3,1036.1 418.8,1036.4 431.3,1036.6 443.8,1036.8 456.3,1036.8 468.8,1036.9 481.3,1036.9 493.8,1037.0 506.3,1037.0 518.8,1037.0 531.3,1037.0 543.8,1037.0 556.3,1037.0 568.8,1037.0 581.3,1037.0 593.8,1037.0 606.3,1036.6 618.8,1036.3 631.3,1035.8 643.8,1030.9 656.3,1027.0 668.8,1021.3 681.3,1015.2 693.8,1010.2 706.3,1005.0 718.8,1000.1 731.3,996.7 743.8,994.1 756.3,991.2 768.8,989.8 781.3,988.3 793.8,986.8 806.3,986.1 818.8,988.7 831.3,991.2 843.8,993.6 856.3,995.9 868.8,1000.3 881.3,1004.3 893.8,1007.8 906.3,1011.0 918.8,1013.9 931.3,1016.9 943.8,1019.6 956.3,1022.0 968.8,1024.8 981.3,1027.2 993.8,1028.4 1006.3,1030.2 1018.8,1031.2 1031.3,1031.7 1043.8,1032.5 1056.3,1033.0 1068.8,1033.4 1081.3,1033.8 1093.8,1034.0 1106.3,1034.3 1118.8,1034.5 1131.3,1034.7 1143.8,1034.8 1156.3,1034.9 1168.8,1035.0 1181.3,1035.1 1193.8,1035.1 1206.3,1035.0 1218.8,1034.9 1231.3,1034.8 1243.8,1034.7 1256.3,1034.6 1268.8,1034.5 1281.3,1033.5 1293.8,1031.8 1306.3,1029.1 1318.8,1022.1 1331.3,1012.5 1343.8,1003.2 1356.3,993.4 1368.8,984.7 1381.3,980.5 1393.8,976.0 1406.3,971.3 1418.8,967.5 1431.3,963.5 1443.8,959.5 1456.3,958.6 1456.3,975.1 1443.8,975.5 1431.3,978.6 1418.8,982.0 1406.3,985.1 1393.8,988.5 1381.3,991.7 1368.8,994.8 1356.3,1001.8 1343.8,1009.8 1331.3,1017.4 1318.8,1025.2 1306.3,1030.9 1293.8,1033.2 1281.3,1034.5 1268.8,1035.3 1256.3,1035.3 1243.8,1035.4 1231.3,1035.5 1218.8,1035.6 1206.3,1035.7 1193.8,1035.8 1181.3,1035.7 1168.8,1035.6 1156.3,1035.5 1143.8,1035.4 1131.3,1035.3 1118.8,1035.3 1106.3,1035.0 1093.8,1034.8 1081.3,1034.6 1068.8,1034.3 1056.3,1034.0 1043.8,1033.6 1031.3,1033.0 1018.8,1032.7 1006.3,1032.0 993.8,1030.8 981.3,1029.9 968.8,1028.4 956.3,1026.5 943.8,1024.9 931.3,1023.1 918.8,1021.2 906.3,1019.0 893.8,1016.5 881.3,1013.7 868.8,1010.6 856.3,1007.1 843.8,1004.9 831.3,1002.6 818.8,1000.1 806.3,997.4 793.8,997.6 781.3,998.5 768.8,999.4 756.3,1000.3 743.8,1002.7 731.3,1005.0 718.8,1007.7 706.3,1011.2 693.8,1014.9 681.3,1018.6 668.8,1023.5 656.3,1028.4 643.8,1031.7 631.3,1036.3 618.8,1036.6 606.3,1036.9 593.8,1037.2 581.3,1037.2 568.8,1037.2 556.3,1037.2 543.8,1037.2 531.3,1037.2 518.8,1037.2 506.3,1037.2 493.8,1037.2 481.3,1037.2 468.8,1037.1 456.3,1037.1 443.8,1037.1 431.3,1036.9 418.8,1036.7 406.3,1036.5 393.8,1036.3 381.3,1036.0 368.8,1035.7 356.3,1035.3 343.8,1035.1 331.3,1034.9 318.8,1034.7 306.3,1034.5 293.8,1034.4 281.3,1034.3 268.8,1034.1 256.3,1034.3 243.8,1034.4 231.3,1034.5 218.8,1034.7 206.3,1035.2 193.8,1035.6 181.3,1036.0 168.8,1036.3"/><polygon fill="#ff0e00" points="168.8,1036.0 181.3,1035.6 193.8,1035.1 206.3,1034.5 218.8,1033.9 231.3,1033.8 243.8,1033.6 256.3,1033.4 268.8,1033.2 281.3,1033.4 293.8,1033.6 306.3,1033.8 318.8,1033.9 331.3,1034.1 343.8,1034.4 356.3,1034.6 368.8,1035.1 381.3,1035.5 393.8,1035.9 406.3,1036.2 418.8,1036.4 431.3,1036.7 443.8,1036.9 456.3,1036.9 468.8,1036.9 481.3,1037.0 493.8,1037.0 506.3,1037.0 518.8,1037.0 531.3,1037.0 543.8,1037.0 556.3,1037.0 568.8,1037.0 581.3,1037.0 593.8,1037.0 606.3,1036.7 618.8,1036.3 631.3,1035.9 643.8,1031.0 656.3,1027.2 668.8,1021.5 681.3,1015.7 693.8,1010.8 706.3,1005.9 718.8,1001.2 731.3,997.9 743.8,995.3 756.3,992.6 768.8,991.2 781.3,989.8 793.8,988.4 806.3,987.7 818.8,990.4 831.3,992.9 843.8,995.3 856.3,997.6 868.8,1001.9 881.3,1005.7 893.8,1009.2 906.3,1012.3 918.8,1015.0 931.3,1017.9 943.8,1020.4 956.3,1022.7 968.8,1025.3 981.3,1027.6 993.8,1028.8 1006.3,1030.5 1018.8,1031.5 1031.3,1031.8 1043.8,1032.6 1056.3,1033.1 1068.8,1033.5 1081.3,1033.9 1093.8,1034.1 1106.3,1034.4 1118.8,1034.6 1131.3,1034.8 1143.8,1034.9 1156.3,1035.0 1168.8,1035.1 1181.3,1035.2 1193.8,1035.2 1206.3,1035.1 1218.8,1035.0 1231.3,1034.9 1243.8,1034.8 1256.3,1034.7 1268.8,1034.6 1281.3,1033.6 1293.8,1032.0 1306.3,1029.3 1318.8,1022.5 1331.3,1013.1 1343.8,1004.0 1356.3,994.4 1368.8,985.9 1381.3,981.9 1393.8,977.5 1406.3,973.1 1418.8,969.3 1431.3,965.3 1443.8,961.5 1456.3,960.7 1456.3,973.1 1443.8,973.4 1431.3,976.7 1418.8,980.2 1406.3,983.4 1393.8,986.9 1381.3,990.3 1368.8,993.5 1356.3,1000.7 1343.8,1009.0 1331.3,1016.7 1318.8,1024.8 1306.3,1030.7 1293.8,1033.0 1281.3,1034.4 1268.8,1035.2 1256.3,1035.3 1243.8,1035.4 1231.3,1035.5 1218.8,1035.5 1206.3,1035.6 1193.8,1035.7 1181.3,1035.6 1168.8,1035.5 1156.3,1035.5 1143.8,1035.4 1131.3,1035.3 1118.8,1035.2 1106.3,1035.0 1093.8,1034.7 1081.3,1034.5 1068.8,1034.2 1056.3,1033.9 1043.8,1033.5 1031.3,1032.9 1018.8,1032.6 1006.3,1031.8 993.8,1030.6 981.3,1029.6 968.8,1028.0 956.3,1026.0 943.8,1024.3 931.3,1022.5 918.8,1020.5 906.3,1018.2 893.8,1015.6 881.3,1012.8 868.8,1009.6 856.3,1005.9 843.8,1003.7 831.3,1001.4 818.8,998.9 806.3,996.2 793.8,996.5 781.3,997.5 768.8,998.4 756.3,999.4 743.8,1001.8 731.3,1004.1 718.8,1006.8 706.3,1010.5 693.8,1014.3 681.3,1018.2 668.8,1023.2 656.3,1028.2 643.8,1031.6 631.3,1036.3 618.8,1036.6 606.3,1036.9 593.8,1037.2 581.3,1037.2 568.8,1037.2 556.3,1037.2 543.8,1037.2 531.3,1037.2 518.8,1037.2 506.3,1037.2 493.8,1037.2 481.3,1037.2 468.8,1037.1 456.3,1037.1 443.8,1037.1 431.3,1036.9 418.8,1036.7 406.3,1036.5 393.8,1036.3 381.3,1036.0 368.8,1035.6 356.3,1035.2 343.8,1035.0 331.3,1034.8 318.8,1034.6 306.3,1034.4 293.8,1034.3 281.3,1034.2 268.8,1034.0 256.3,1034.2 243.8,1034.3 231.3,1034.4 218.8,1034.6 206.3,1035.1 193.8,1035.5 181.3,1035.9 168.8,1036.3"/><polygon fill="#ff0700" points="168.8,1036.0 181.3,1035.6 193.8,1035.2 206.3,1034.7 218.8,1034.0 231.3,1033.9 243.8,1033.7 256.3,1033.6 268.8,1033.4 281.3,1033.6 293.8,1033.7 306.3,1033.9 318.8,1034.0 331.3,1034.3 343.8,1034.5 356.3,1034.7 368.8,1035.2 381.3,1035.6 393.8,1036.0 406.3,1036.3 418.8,1036.5 431.3,1036.7 443.8,1036.9 456.3,1037.0 468.8,1037.0 481.3,1037.0 493.8,1037.1 506.3,1037.1 518.8,1037.1 531.3,1037.1 543.8,1037.1 556.3,1037.1 568.8,1037.1 581.3,1037.1 593.8,1037.1 606.3,1036.8 618.8,1036.4 631.3,1036.0 643.8,1031.0 656.3,1027.3 668.8,1021.8 681.3,1016.1 693.8,1011.4 706.3,1006.7 718.8,1002.2 731.3,999.1 743.8,996.6 756.3,993.9 768.8,992.6 781.3,991.3 793.8,989.9 806.3,989.4 818.8,992.0 831.3,994.6 843.8,996.9 856.3,999.2 868.8,1003.4 881.3,1007.1 893.8,1010.5 906.3,1013.4 918.8,1016.1 931.3,1018.8 943.8,1021.2 956.3,1023.3 968.8,1025.9 981.3,1028.0 993.8,1029.1 1006.3,1030.7 1018.8,1031.7 1031.3,1032.0 1043.8,1032.8 1056.3,1033.2 1068.8,1033.6 1081.3,1034.0 1093.8,1034.2 1106.3,1034.5 1118.8,1034.7 1131.3,1034.8 1143.8,1035.0 1156.3,1035.1 1168.8,1035.2 1181.3,1035.3 1193.8,1035.3 1206.3,1035.2 1218.8,1035.1 1231.3,1035.0 1243.8,1034.9 1256.3,1034.8 1268.8,1034.7 1281.3,1033.8 1293.8,1032.2 1306.3,1029.5 1318.8,1022.8 1331.3,1013.7 1343.8,1004.8 1356.3,995.4 1368.8,987.1 1381.3,983.2 1393.8,979.1 1406.3,974.8 1418.8,971.1 1431.3,967.1 1443.8,963.3 1456.3,962.7 1456.3,971.0 1443.8,971.3 1431.3,974.7 1418.8,978.3 1406.3,981.7 1393.8,985.3 1381.3,988.8 1368.8,992.1 1356.3,999.6 1343.8,1008.1 1331.3,1016.1 1318.8,1024.4 1306.3,1030.4 1293.8,1032.8 1281.3,1034.3 1268.8,1035.1 1256.3,1035.2 1243.8,1035.3 1231.3,1035.4 1218.8,1035.5 1206.3,1035.6 1193.8,1035.7 1181.3,1035.6 1168.8,1035.5 1156.3,1035.4 1143.8,1035.3 1131.3,1035.2 1118.8,1035.1 1106.3,1034.9 1093.8,1034.6 1081.3,1034.4 1068.8,1034.1 1056.3,1033.7 1043.8,1033.4 1031.3,1032.7 1018.8,1032.4 1006.3,1031.6 993.8,1030.3 981.3,1029.3 968.8,1027.6 956.3,1025.6 943.8,1023.8 931.3,1021.9 918.8,1019.7 906.3,1017.4 893.8,1014.7 881.3,1011.8 868.8,1008.5 856.3,1004.8 843.8,1002.5 831.3,1000.2 818.8,997.7 806.3,995.0 793.8,995.3 781.3,996.4 768.8,997.4 756.3,998.4 743.8,1000.9 731.3,1003.2 718.8,1006.0 706.3,1009.7 693.8,1013.8 681.3,1017.8 668.8,1022.9 656.3,1028.0 643.8,1031.5 631.3,1036.2 618.8,1036.6 606.3,1036.9 593.8,1037.2 581.3,1037.2 568.8,1037.2 556.3,1037.2 543.8,1037.2 531.3,1037.2 518.8,1037.2 506.3,1037.2 493.8,1037.2 481.3,1037.1 468.8,1037.1 456.3,1037.1 443.8,1037.1 431.3,1036.9 418.8,1036.7 406.3,1036.5 393.8,1036.2 381.3,1035.9 368.8,1035.5 356.3,1035.1 343.8,1034.9 331.3,1034.7 318.8,1034.5 306.3,1034.3 293.8,1034.2 281.3,1034.1 268.8,1033.9 256.3,1034.1 243.8,1034.2 231.3,1034.3 218.8,1034.5 206.3,1035.0 193.8,1035.5 181.3,1035.9 168.8,1036.2"/><polygon fill="#ff0000" points="168.8,1036.1 181.3,1035.7 193.8,1035.3 206.3,1034.8 218.8,1034.2 231.3,1034.0 243.8,1033.9 256.3,1033.7 268.8,1033.5 281.3,1033.7 293.8,1033.9 306.3,1034.0 318.8,1034.2 331.3,1034.4 343.8,1034.6 356.3,1034.8 368.8,1035.3 381.3,1035.7 393.8,1036.1 406.3,1036.3 418.8,1036.6 431.3,1036.8 443.8,1037.0 456.3,1037.0 468.8,1037.0 481.3,1037.1 493.8,1037.1 506.3,1037.1 518.8,1037.1 531.3,1037.1 543.8,1037.1 556.3,1037.1 568.8,1037.1 581.3,1037.1 593.8,1037.1 606.3,1036.8 618.8,1036.5 631.3,1036.1 643.8,1031.1 656.3,1027.5 668.8,1022.1 681.3,1016.5 693.8,1012.0 706.3,1007.5 718.8,1003.2 731.3,1000.2 743.8,997.8 756.3,995.2 768.8,994.0 781.3,992.7 793.8,991.4 806.3,991.0 818.8,993.6 831.3,996.1 843.8,998.5 856.3,1000.7 868.8,1004.8 881.3,1008.4 893.8,1011.7 906.3,1014.6 918.8,1017.2 931.3,1019.7 943.8,1021.9 956.3,1024.0 968.8,1026.4 981.3,1028.3 993.8,1029.4 1006.3,1031.0 1018.8,1031.9 1031.3,1032.2 1043.8,1032.9 1056.3,1033.4 1068.8,1033.7 1081.3,1034.0 1093.8,1034.3 1106.3,1034.6 1118.8,1034.8 1131.3,1034.9 1143.8,1035.0 1156.3,1035.1 1168.8,1035.2 1181.3,1035.3 1193.8,1035.4 1206.3,1035.3 1218.8,1035.2 1231.3,1035.1 1243.8,1035.0 1256.3,1034.9 1268.8,1034.8 1281.3,1033.9 1293.8,1032.3 1306.3,1029.7 1318.8,1023.2 1331.3,1014.3 1343.8,1005.6 1356.3,996.3 1368.8,988.2 1381.3,984.5 1393.8,980.5 1406.3,976.4 1418.8,972.8 1431.3,968.9 1443.8,965.1 1456.3,964.7 1456.3,968.8 1443.8,969.2 1431.3,972.7 1418.8,976.4 1406.3,979.9 1393.8,983.7 1381.3,987.3 1368.8,990.8 1356.3,998.5 1343.8,1007.2 1331.3,1015.5 1318.8,1024.0 1306.3,1030.2 1293.8,1032.7 1281.3,1034.2 1268.8,1035.0 1256.3,1035.1 1243.8,1035.2 1231.3,1035.3 1218.8,1035.4 1206.3,1035.5 1193.8,1035.6 1181.3,1035.5 1168.8,1035.4 1156.3,1035.3 1143.8,1035.2 1131.3,1035.1 1118.8,1035.0 1106.3,1034.8 1093.8,1034.5 1081.3,1034.3 1068.8,1034.0 1056.3,1033.6 1043.8,1033.2 1031.3,1032.5 1018.8,1032.2 1006.3,1031.4 993.8,1030.0 981.3,1029.0 968.8,1027.2 956.3,1025.1 943.8,1023.2 931.3,1021.2 918.8,1018.9 906.3,1016.5 893.8,1013.8 881.3,1010.8 868.8,1007.4 856.3,1003.5 843.8,1001.3 831.3,998.9 818.8,996.4 806.3,993.8 793.8,994.1 781.3,995.3 768.8,996.3 756.3,997.4 743.8,999.9 731.3,1002.3 718.8,1005.1 706.3,1009.0 693.8,1013.2 681.3,1017.3 668.8,1022.6 656.3,1027.8 643.8,1031.3 631.3,1036.2 618.8,1036.6 606.3,1036.9 593.8,1037.2 581.3,1037.2 568.8,1037.2 556.3,1037.2 543.8,1037.2 531.3,1037.2 518.8,1037.2 506.3,1037.2 493.8,1037.2 481.3,1037.1 468.8,1037.1 456.3,1037.1 443.8,1037.0 431.3,1036.9 418.8,1036.7 406.3,1036.4 393.8,1036.2 381.3,1035.9 368.8,1035.5 356.3,1035.0 343.8,1034.8 331.3,1034.6 318.8,1034.4 306.3,1034.2 293.8,1034.1 281.3,1033.9 268.8,1033.8 256.3,1033.9 243.8,1034.1 231.3,1034.2 218.8,1034.4 206.3,1034.9 193.8,1035.4 181.3,1035.8 168.8,1036.2"/></g><rect x="1443.8" y="535.92" width="12.5" height="6.28" fill="#fffff4"/><rect x="1443.8" y="530.84" width="12.5" height="6.28" fill="#ffffdf"/><rect x="1443.8" y="525.76" width="12.5" height="6.28" fill="#ffffca"/><rect x="1443.8" y="520.67" width="12.5" height="6.28" fill="#ffffb5"/><rect x="1443.8" y="515.59" width="12.5" height="6.28" fill="#ffff9f"/><rect x="1443.8" y="510.51" width="12.5" height="6.28" fill="#ffff8a"/><rect x="1443.8" y="505.43" width="12.5" height="6.28" fill="#ffff75"/><rect x="1443.8" y="500.35" width="12.5" height="6.28" fill="#ffff60"/><rect x="1443.8" y="495.27" width="12.5" height="6.28" fill="#ffff4a"/><rect x="1443.8" y="490.18" width="12.5" height="6.28" fill="#ffff35"/><rect x="1443.8" y="485.10" width="12.5" height="6.28" fill="#ffff20"/><rect x="1443.8" y="480.02" width="12.5" height="6.28" fill="#ffff0b"/><rect x="1443.8" y="474.94" width="12.5" height="6.28" fill="#ffff00"/><rect x="1443.8" y="469.86" width="12.5" height="6.28" fill="#fff800"/><rect x="1443.8" y="464.78" width="12.5" height="6.28" fill="#fff100"/><rect x="1443.8" y="459.69" width="12.5" height="6.28" fill="#ffea00"/><rect x="1443.8" y="454.61" width="12.5" height="6.28" fill="#ffe300"/><rect x="1443.8" y="449.53" width="12.5" height="6.28" fill="#ffdc00"/><rect x="1443.8" y="444.45" width="12.5" height="6.28" fill="#ffd400"/><rect x="1443.8" y="439.37" width="12.5" height="6.28" fill="#ffcd00"/><rect x="1443.8" y="434.29" width="12.5" height="6.28" fill="#ffc600"/><rect x="1443.8" y="429.20" width="12.5" height="6.28" fill="#ffbf00"/><rect x="1443.8" y="424.12" width="12.5" height="6.28" fill="#ffb800"/><rect x="1443.8" y="419.04" width="12.5" height="6.28" fill="#ffb100"/><rect x="1443.8" y="413.96" width="12.5" height="6.28" fill="#ffaa00"/><rect x="1443.8" y="408.88" width="12.5" height="6.28" fill="#ffa300"/><rect x="1443.8" y="403.80" width="12.5" height="6.28" fill="#ff9c00"/><rect x="1443.8" y="398.71" width="12.5" height="6.28" fill="#ff9500"/><rect x="1443.8" y="393.63" width="12.5" height="6.28" fill="#ff8e00"/><rect x="1443.8" y="388.55" width="12.5" height="6.28" fill="#ff8700"/><rect x="1443.8" y="383.47" width="12.5" height="6.28" fill="#ff8000"/><rect x="1443.8" y="378.39" width="12.5" height="6.28" fill="#ff7800"/><rect x="1443.8" y="373.31" width="12.5" height="6.28" fill="#ff7100"/><rect x="1443.8" y="368.22" width="12.5" height="6.28" fill="#ff6a00"/><rect x="1443.8" y="363.14" width="12.5" height="6.28" fill="#ff6300"/><rect x="1443.8" y="358.06" width="12.5" height="6.28" fill="#ff5c00"/><rect x="1443.8" y="352.98" width="12.5" height="6.28" fill="#ff5500"/><rect x="1443.8" y="347.90" width="12.5" height="6.28" fill="#ff4e00"/><rect x="1443.8" y="342.82" width="12.5" height="6.28" fill="#ff4700"/><rect x="1443.8" y="337.73" width="12.5" height="6.28" fill="#ff4000"/><rect x="1443.8" y="332.65" width="12.5" height="6.28" fill="#ff3900"/><rect x="1443.8" y="327.57" width="12.5" height="6.28" fill="#ff3200"/><rect x="1443.8" y="322.49" width="12.5" height="6.28" fill="#ff2a00"/><rect x="1443.8" y="317.41" width="12.5" height="6.28" fill="#ff2300"/><rect x="1443.8" y="312.33" width="12.5" height="6.28" fill="#ff1c00"/><rect x="1443.8" y="307.24" width="12.5" height="6.28" fill="#ff1500"/><rect x="1443.8" y="302.16" width="12.5" height="6.28" fill="#ff0e00"/><rect x="1443.8" y="297.08" width="12.5" height="6.28" fill="#ff0700"/><rect x="1443.8" y="292.00" width="12.5" height="6.28" fill="#ff0000"/><rect x="1443.8" y="286.92" width="12.5" height="6.28" fill="#ff0000"/><rect x="1443.8" y="281.84" width="12.5" height="6.28" fill="#ff0700"/><rect x="1443.8" y="276.76" width="12.5" height="6.28" fill="#ff0e00"/><rect x="1443.8" y="271.67" width="12.5" height="6.28" fill="#ff1500"/><rect x="1443.8" y="266.59" width="12.5" height="6.28" fill="#ff1c00"/><rect x="1443.8" y="261.51" width="12.5" height="6.28" fill="#ff2300"/><rect x="1443.8" y="256.43" width="12.5" height="6.28" fill="#ff2a00"/><rect x="1443.8" y="251.35" width="12.5" height="6.28" fill="#ff3200"/><rect x="1443.8" y="246.27" width="12.5" height="6.28" fill="#ff3900"/><rect x="1443.8" y="241.18" width="12.5" height="6.28" fill="#ff4000"/><rect x="1443.8" y="236.10" width="12.5" height="6.28" fill="#ff4700"/><rect x="1443.8" y="231.02" width="12.5" height="6.28" fill="#ff4e00"/><rect x="1443.8" y="225.94" width="12.5" height="6.28" fill="#ff5500"/><rect x="1443.8" y="220.86" width="12.5" height="6.28" fill="#ff5c00"/><rect x="1443.8" y="215.78" width="12.5" height="6.28" fill="#ff6300"/><rect x="1443.8" y="210.69" width="12.5" height="6.28" fill="#ff6a00"/><rect x="1443.8" y="205.61" width="12.5" height="6.28" fill="#ff7100"/><rect x="1443.8" y="200.53" width="12.5" height="6.28" fill="#ff7800"/><rect x="1443.8" y="195.45" width="12.5" height="6.28" fill="#ff8000"/><rect x="1443.8" y="190.37" width="12.5" height="6.28" fill="#ff8700"/><rect x="1443.8" y="185.29" width="12.5" height="6.28" fill="#ff8e00"/><rect x="1443.8" y="180.20" width="12.5" height="6.28" fill="#ff9500"/><rect x="1443.8" y="175.12" width="12.5" height="6.28" fill="#ff9c00"/><rect x="1443.8" y="170.04" width="12.5" height="6.28" fill="#ffa300"/><rect x="1443.8" y="164.96" width="12.5" height="6.28" fill="#ffaa00"/><rect x="1443.8" y="159.88" width="12.5" height="6.28" fill="#ffb100"/><rect x="1443.8" y="154.80" width="12.5" height="6.28" fill="#ffb800"/><rect x="1443.8" y="149.71" width="12.5" height="6.28" fill="#ffbf00"/><rect x="1443.8" y="144.63" width="12.5" height="6.28" fill="#ffc600"/><rect x="1443.8" y="139.55" width="12.5" height="6.28" fill="#ffcd00"/><rect x="1443.8" y="134.47" width="12.5" height="6.28" fill="#ffd400"/><rect x="1443.8" y="129.39" width="12.5" height="6.28" fill="#ffdc00"/><rect x="1443.8" y="124.31" width="12.5" height="6.28" fill="#ffe300"/><rect x="1443.8" y="119.22" width="12.5" height="6.28" fill="#ffea00"/><rect x="1443.8" y="114.14" width="12.5" height="6.28" fill="#fff100"/><rect x="1443.8" y="109.06" width="12.5" height="6.28" fill="#fff800"/><rect x="1443.8" y="103.98" width="12.5" height="6.28" fill="#ffff00"/><rect x="1443.8" y="98.90" width="12.5" height="6.28" fill="#ffff0b"/><rect x="1443.8" y="93.82" width="12.5" height="6.28" fill="#ffff20"/><rect x="1443.8" y="88.73" width="12.5" height="6.28" fill="#ffff35"/><rect x="1443.8" y="83.65" width="12.5" height="6.28" fill="#ffff4a"/><rect x="1443.8" y="78.57" width="12.5" height="6.28" fill="#ffff60"/><rect x="1443.8" y="73.49" width="12.5" height="6.28" fill="#ffff75"/><rect x="1443.8" y="68.41" width="12.5" height="6.28" fill="#ffff8a"/><rect x="1443.8" y="63.33" width="12.5" height="6.28" fill="#ffff9f"/><rect x="1443.8" y="58.24" width="12.5" height="6.28" fill="#ffffb5"/><rect x="1443.8" y="53.16" width="12.5" height="6.28" fill="#ffffca"/><rect x="1443.8" y="48.08" width="12.5" height="6.28" fill="#ffffdf"/><rect x="1443.8" y="43.00" width="12.5" height="6.28" fill="#fffff4"/><polyline points="168.8,1031.2 181.3,1031.2 193.8,1031.2 206.3,1031.2 218.8,1031.2 231.3,1031.2 243.8,1031.2 256.3,1031.2 268.8,1031.2 281.3,1031.2 293.8,1031.2 306.3,1031.2 318.8,1031.2 331.3,1031.4 343.8,1031.7 356.3,1031.9 368.8,1032.2 381.3,1032.4 393.8,1032.9 406.3,1033.4 418.8,1033.9 431.3,1034.4 443.8,1034.9 456.3,1034.6 468.8,1034.3 481.3,1034.0 493.8,1033.8 506.3,1033.5 518.8,1033.2 531.3,1032.9 543.8,1032.6 556.3,1032.3 568.8,1032.0 581.3,1031.7 593.8,1031.4 606.3,1031.1 618.8,1030.9 631.3,1030.6 643.8,1028.1 656.3,1024.4 668.8,1018.8 681.3,1011.3 693.8,1001.4 706.3,984.0 718.8,969.1 731.3,957.9 743.8,945.5 756.3,925.6 768.8,903.2 781.3,879.6 793.8,861.0 806.3,857.3 818.8,854.8 831.3,795.1 843.8,739.2 856.3,605.5 868.8,646.0 881.3,654.7 893.8,711.9 906.3,762.8 918.8,715.6 931.3,807.6 943.8,756.6 956.3,887.1 968.8,873.9 981.3,868.4 993.8,897.6 1006.3,884.6 1018.8,965.3 1031.3,992.7 1043.8,1002.6 1056.3,977.1 1068.8,979.0 1081.3,1002.6 1093.8,1016.3 1106.3,1016.3 1118.8,1008.8 1131.3,1016.3 1143.8,1023.7 1156.3,1027.5 1168.8,1029.4 1181.3,1026.5 1193.8,1028.7 1206.3,1029.9 1218.8,1031.2 1231.3,1031.8 1243.8,1031.8 1256.3,1031.2 1268.8,1028.7 1281.3,1027.5 1293.8,1025.0 1306.3,1020.4 1318.8,1011.3 1331.3,1001.4 1343.8,991.4 1356.3,971.6 1368.8,949.2 1381.3,939.3 1393.8,925.6 1406.3,897.0 1418.8,874.6 1431.3,872.2 1443.8,844.8 1456.3,811.3" fill="none" stroke="#fff" stroke-width="3" stroke-linejoin="round"/><path d="M308.5,1020.8L316.6,976.2M324.1,975.2L326.0,979.3M337.6,979.9L337.5,980.1M373.7,994.4L376.4,1000.8M696.9,1023.6L703.2,999.6M707.1,975.4L718.0,803.7M732.7,805.6L742.4,888.9M745.9,913.2L754.2,959.8M760.3,960.3L764.8,947.4M795.3,938.7L804.8,860.9M807.3,836.4L817.8,699.9M819.9,699.9L830.2,814.2M835.0,838.2L840.1,854.7M846.9,878.4L853.2,903.0M871.8,920.9L878.3,947.4M883.0,947.2L892.1,879.6M895.5,855.3L904.6,788.7M912.0,787.4L913.1,789.5M921.9,812.2L928.2,835.8M934.9,859.5L940.2,877.2M946.2,876.9L953.9,838.5M957.5,838.7L967.6,937.7M974.0,961.1L976.1,965.7M1012.3,962.5L1012.8,963.3M1023.5,985.4L1026.6,993.0M1309.5,1022.5L1315.6,999.7M1333.4,984.5L1341.7,938.2M1345.0,913.8L1355.1,812.3M1356.7,787.8L1368.4,433.5M1369.7,433.4L1380.4,587.8M1382.4,612.3L1392.7,725.7M1395.2,725.8L1404.9,644.6M1407.4,644.6L1417.7,763.0M1420.4,763.1L1429.7,691.8M1437.3,668.9L1437.8,668.0M1447.3,645.4L1452.8,626.8" fill="none" stroke="#000" stroke-width="3.6" stroke-linecap="round"/><g fill="none" stroke="#000" stroke-width="3"><circle cx="168.8" cy="1025.3" r="4.5"/><circle cx="181.3" cy="1029.0" r="4.5"/><circle cx="193.8" cy="1026.3" r="4.5"/><circle cx="206.3" cy="1031.3" r="4.5"/><circle cx="218.8" cy="1029.0" r="4.5"/><circle cx="231.3" cy="1035.3" r="4.5"/><circle cx="243.8" cy="1036.8" r="4.5"/><circle cx="256.3" cy="1029.0" r="4.5"/><circle cx="268.8" cy="1029.0" r="4.5"/><circle cx="281.3" cy="1031.3" r="4.5"/><circle cx="293.8" cy="1035.3" r="4.5"/><circle cx="306.3" cy="1032.9" r="4.5"/><circle cx="318.8" cy="964.1" r="4.5"/><circle cx="331.3" cy="990.4" r="4.5"/><circle cx="343.8" cy="969.6" r="4.5"/><circle cx="356.3" cy="968.1" r="4.5"/><circle cx="368.8" cy="983.1" r="4.5"/><circle cx="381.3" cy="1012.1" r="4.5"/><circle cx="393.8" cy="1029.0" r="4.5"/><circle cx="406.3" cy="1036.2" r="4.5"/><circle cx="418.8" cy="1034.4" r="4.5"/><circle cx="431.3" cy="1037.0" r="4.5"/><circle cx="443.8" cy="1034.2" r="4.5"/><circle cx="456.3" cy="1037.4" r="4.5"/><circle cx="468.8" cy="1037.4" r="4.5"/><circle cx="481.3" cy="1037.4" r="4.5"/><circle cx="493.8" cy="1037.4" r="4.5"/><circle cx="506.3" cy="1037.4" r="4.5"/><circle cx="518.8" cy="1037.4" r="4.5"/><circle cx="531.3" cy="1037.4" r="4.5"/><circle cx="543.8" cy="1037.4" r="4.5"/><circle cx="556.3" cy="1037.4" r="4.5"/><circle cx="568.8" cy="1037.4" r="4.5"/><circle cx="581.3" cy="1037.4" r="4.5"/><circle cx="593.8" cy="1037.4" r="4.5"/><circle cx="606.3" cy="1037.4" r="4.5"/><circle cx="618.8" cy="1037.4" r="4.5"/><circle cx="631.3" cy="1037.4" r="4.5"/><circle cx="643.8" cy="1037.4" r="4.5"/><circle cx="656.3" cy="1037.4" r="4.5"/><circle cx="668.8" cy="1037.4" r="4.5"/><circle cx="681.3" cy="1032.7" r="4.5"/><circle cx="693.8" cy="1035.5" r="4.5"/><circle cx="706.3" cy="987.7" r="4.5"/><circle cx="718.8" cy="791.4" r="4.5"/><circle cx="731.3" cy="793.4" r="4.5"/><circle cx="743.8" cy="901.1" r="4.5"/><circle cx="756.3" cy="971.9" r="4.5"/><circle cx="768.8" cy="935.8" r="4.5"/><circle cx="781.3" cy="950.1" r="4.5"/><circle cx="793.8" cy="950.9" r="4.5"/><circle cx="806.3" cy="848.7" r="4.5"/><circle cx="818.8" cy="687.7" r="4.5"/><circle cx="831.3" cy="826.4" r="4.5"/><circle cx="843.8" cy="866.4" r="4.5"/><circle cx="856.3" cy="914.9" r="4.5"/><circle cx="868.8" cy="908.9" r="4.5"/><circle cx="881.3" cy="959.4" r="4.5"/><circle cx="893.8" cy="867.4" r="4.5"/><circle cx="906.3" cy="776.5" r="4.5"/><circle cx="918.8" cy="800.4" r="4.5"/><circle cx="931.3" cy="847.7" r="4.5"/><circle cx="943.8" cy="888.9" r="4.5"/><circle cx="956.3" cy="826.4" r="4.5"/><circle cx="968.8" cy="949.9" r="4.5"/><circle cx="981.3" cy="976.9" r="4.5"/><circle cx="993.8" cy="968.2" r="4.5"/><circle cx="1006.3" cy="951.8" r="4.5"/><circle cx="1018.8" cy="974.0" r="4.5"/><circle cx="1031.3" cy="1004.4" r="4.5"/><circle cx="1043.8" cy="1020.3" r="4.5"/><circle cx="1056.3" cy="1008.7" r="4.5"/><circle cx="1068.8" cy="1019.0" r="4.5"/><circle cx="1081.3" cy="1008.7" r="4.5"/><circle cx="1093.8" cy="1027.5" r="4.5"/><circle cx="1106.3" cy="1029.4" r="4.5"/><circle cx="1118.8" cy="1030.4" r="4.5"/><circle cx="1131.3" cy="1022.9" r="4.5"/><circle cx="1143.8" cy="1032.1" r="4.5"/><circle cx="1156.3" cy="1032.1" r="4.5"/><circle cx="1168.8" cy="1036.4" r="4.5"/><circle cx="1181.3" cy="1032.8" r="4.5"/><circle cx="1193.8" cy="1029.0" r="4.5"/><circle cx="1206.3" cy="1029.4" r="4.5"/><circle cx="1218.8" cy="1030.1" r="4.5"/><circle cx="1231.3" cy="1030.1" r="4.5"/><circle cx="1243.8" cy="1030.1" r="4.5"/><circle cx="1256.3" cy="1034.8" r="4.5"/><circle cx="1268.8" cy="1035.7" r="4.5"/><circle cx="1281.3" cy="1023.0" r="4.5"/><circle cx="1293.8" cy="1026.3" r="4.5"/><circle cx="1306.3" cy="1034.4" r="4.5"/><circle cx="1318.8" cy="987.8" r="4.5"/><circle cx="1331.3" cy="996.6" r="4.5"/><circle cx="1343.8" cy="926.1" r="4.5"/><circle cx="1356.3" cy="800.1" r="4.5"/><circle cx="1368.8" cy="421.2" r="4.5"/><circle cx="1381.3" cy="600.1" r="4.5"/><circle cx="1393.8" cy="738.0" r="4.5"/><circle cx="1406.3" cy="632.4" r="4.5"/><circle cx="1418.8" cy="775.3" r="4.5"/><circle cx="1431.3" cy="679.6" r="4.5"/><circle cx="1443.8" cy="657.2" r="4.5"/><circle cx="1456.3" cy="615.0" r="4.5"/></g><circle cx="156.3" cy="1037.4" r="5.5" fill="#000"/><rect x="98.0" y="3.6" width="1416.6" height="1073.9" fill="none" stroke="#000" stroke-width="2.4" stroke-linejoin="round"/><line x1="85" y1="1037.4" x2="98.0" y2="1037.4" stroke="#000" stroke-width="1.6"/><text transform="translate(74.6,1045.5) scale(0.94,1)" text-anchor="end" class="ax">0</text><line x1="85" y1="788.9" x2="98.0" y2="788.9" stroke="#000" stroke-width="1.6"/><text transform="translate(74.6,797.0) scale(0.94,1)" text-anchor="end" class="ax">200</text><line x1="85" y1="540.4" x2="98.0" y2="540.4" stroke="#000" stroke-width="1.6"/><text transform="translate(74.6,548.5) scale(0.94,1)" text-anchor="end" class="ax">400</text><line x1="85" y1="292.0" x2="98.0" y2="292.0" stroke="#000" stroke-width="1.6"/><text transform="translate(74.6,300.1) scale(0.94,1)" text-anchor="end" class="ax">600</text><line x1="85" y1="43.5" x2="98.0" y2="43.5" stroke="#000" stroke-width="1.6"/><text transform="translate(74.6,51.6) scale(0.94,1)" text-anchor="end" class="ax">800</text><line x1="181.3" y1="1077.5" x2="181.3" y2="1093.0" stroke="#000" stroke-width="1.6"/><text transform="translate(181.3,1074.3) scale(0.94,1)" text-anchor="middle" class="ax">2020</text><text transform="translate(181.3,1123.3) scale(0.94,1)" text-anchor="middle" class="ax">I</text><line x1="343.8" y1="1077.5" x2="343.8" y2="1093.0" stroke="#000" stroke-width="1.6"/><text transform="translate(343.8,1074.3) scale(0.94,1)" text-anchor="middle" class="ax">2020</text><text transform="translate(343.8,1123.3) scale(0.94,1)" text-anchor="middle" class="ax">II</text><line x1="506.3" y1="1077.5" x2="506.3" y2="1093.0" stroke="#000" stroke-width="1.6"/><text transform="translate(506.3,1074.3) scale(0.94,1)" text-anchor="middle" class="ax">2020</text><text transform="translate(506.3,1123.3) scale(0.94,1)" text-anchor="middle" class="ax">III</text><line x1="668.8" y1="1077.5" x2="668.8" y2="1093.0" stroke="#000" stroke-width="1.6"/><text transform="translate(668.8,1074.3) scale(0.94,1)" text-anchor="middle" class="ax">2020</text><text transform="translate(668.8,1123.3) scale(0.94,1)" text-anchor="middle" class="ax">IV</text><line x1="831.3" y1="1077.5" x2="831.3" y2="1093.0" stroke="#000" stroke-width="1.6"/><text transform="translate(831.3,1074.3) scale(0.94,1)" text-anchor="middle" class="ax">2021</text><text transform="translate(831.3,1123.3) scale(0.94,1)" text-anchor="middle" class="ax">I</text><line x1="993.8" y1="1077.5" x2="993.8" y2="1093.0" stroke="#000" stroke-width="1.6"/><text transform="translate(993.8,1074.3) scale(0.94,1)" text-anchor="middle" class="ax">2021</text><text transform="translate(993.8,1123.3) scale(0.94,1)" text-anchor="middle" class="ax">II</text><line x1="1156.3" y1="1077.5" x2="1156.3" y2="1093.0" stroke="#000" stroke-width="1.6"/><text transform="translate(1156.3,1074.3) scale(0.94,1)" text-anchor="middle" class="ax">2021</text><text transform="translate(1156.3,1123.3) scale(0.94,1)" text-anchor="middle" class="ax">III</text><line x1="1318.8" y1="1077.5" x2="1318.8" y2="1093.0" stroke="#000" stroke-width="1.6"/><text transform="translate(1318.8,1074.3) scale(0.94,1)" text-anchor="middle" class="ax">2021</text><text transform="translate(1318.8,1123.3) scale(0.94,1)" text-anchor="middle" class="ax">IV</text><clipPath id="cb"><rect x="98.0" y="1190.6" width="1416.6" height="1073.7"/></clipPath><g clip-path="url(#cb)"><polygon fill="#fffff4" points="181.3,2187.5 202.1,2063.1 222.9,1789.5 243.7,1596.8 264.5,1319.0 285.3,870.5 306.1,193.7 326.9,-50.0 347.7,-50.0 368.5,-50.0 389.3,-50.0 410.1,-50.0 430.9,-50.0 451.7,-50.0 472.5,-50.0 493.3,-50.0 514.1,-50.0 534.9,-50.0 555.7,-50.0 576.5,-50.0 597.3,510.6 618.1,837.1 638.9,1101.5 659.7,1302.5 680.5,1460.4 701.3,1591.2 722.1,1667.8 742.9,1731.9 763.7,1788.6 784.5,1832.9 805.3,1869.1 826.1,1902.0 846.9,1931.9 867.7,1917.1 888.5,1889.6 909.3,1859.6 930.1,1826.9 950.9,1791.4 971.7,1753.1 992.5,1711.3 1013.3,1665.9 1034.1,1563.4 1054.9,1413.6 1075.7,1229.9 1096.5,1090.9 1117.3,932.4 1138.1,751.9 1158.9,333.0 1179.7,-50.0 1200.5,-50.0 1221.3,-50.0 1242.1,-50.0 1262.9,-50.0 1283.7,-50.0 1304.5,-50.0 1325.3,-13.7 1346.1,361.9 1366.9,674.5 1387.7,934.7 1408.5,1066.9 1429.3,1165.8 1450.1,1229.9 1450.1,2206.1 1429.3,2205.5 1408.5,2204.5 1387.7,2203.4 1366.9,2202.3 1346.1,2201.2 1325.3,2199.9 1304.5,2195.9 1283.7,2192.8 1262.9,2190.8 1242.1,2189.9 1221.3,2190.7 1200.5,2191.5 1179.7,2194.2 1158.9,2199.2 1138.1,2203.5 1117.3,2207.4 1096.5,2210.6 1075.7,2213.2 1054.9,2214.3 1034.1,2215.2 1013.3,2215.6 992.5,2214.8 971.7,2213.9 950.9,2212.9 930.1,2212.3 909.3,2212.2 888.5,2212.0 867.7,2211.9 846.9,2211.6 826.1,2211.2 805.3,2210.7 784.5,2210.2 763.7,2209.6 742.9,2208.9 722.1,2208.1 701.3,2207.3 680.5,2206.0 659.7,2204.5 638.9,2203.2 618.1,2201.9 597.3,2200.5 576.5,2198.2 555.7,2195.1 534.9,2192.9 514.1,2191.4 493.3,2189.9 472.5,2188.9 451.7,2187.8 430.9,2187.0 410.1,2186.3 389.3,2185.7 368.5,2185.1 347.7,2187.2 326.9,2189.1 306.1,2191.7 285.3,2194.8 264.5,2197.4 243.7,2197.4 222.9,2197.4 202.1,2203.7 181.3,2211.1"/><polygon fill="#ffffdf" points="181.3,2188.7 202.1,2085.2 222.9,1877.1 243.7,1740.9 264.5,1551.7 285.3,1284.8 306.1,911.8 326.9,480.1 347.7,19.5 368.5,-50.0 389.3,-50.0 410.1,-50.0 430.9,-50.0 451.7,-50.0 472.5,-50.0 493.3,-50.0 514.1,-50.0 534.9,-50.0 555.7,347.4 576.5,834.8 597.3,1139.9 618.1,1308.0 638.9,1450.1 659.7,1567.2 680.5,1665.0 701.3,1748.3 722.1,1799.4 742.9,1843.0 763.7,1882.2 784.5,1911.8 805.3,1935.5 826.1,1957.4 846.9,1977.6 867.7,1967.6 888.5,1949.1 909.3,1929.2 930.1,1907.9 950.9,1884.0 971.7,1857.2 992.5,1828.3 1013.3,1797.1 1034.1,1731.3 1054.9,1638.7 1075.7,1528.8 1096.5,1445.2 1117.3,1351.5 1138.1,1246.5 1158.9,998.0 1179.7,667.1 1200.5,377.6 1221.3,131.9 1242.1,-50.0 1262.9,-50.0 1283.7,180.3 1304.5,463.6 1325.3,745.5 1346.1,966.6 1366.9,1154.6 1387.7,1314.6 1408.5,1398.6 1429.3,1462.5 1450.1,1506.7 1450.1,2203.6 1429.3,2202.5 1408.5,2201.2 1387.7,2199.8 1366.9,2198.8 1346.1,2197.7 1325.3,2196.5 1304.5,2191.3 1283.7,2187.2 1262.9,2184.7 1242.1,2183.5 1221.3,2184.3 1200.5,2185.2 1179.7,2188.1 1158.9,2193.7 1138.1,2198.5 1117.3,2202.7 1096.5,2206.3 1075.7,2209.3 1054.9,2210.5 1034.1,2211.7 1013.3,2212.3 992.5,2211.4 971.7,2210.5 950.9,2209.6 930.1,2209.1 909.3,2208.9 888.5,2208.8 867.7,2208.7 846.9,2208.5 826.1,2208.0 805.3,2207.6 784.5,2207.1 763.7,2206.6 742.9,2206.1 722.1,2205.6 701.3,2205.0 680.5,2203.7 659.7,2202.3 638.9,2200.9 618.1,2199.4 597.3,2197.9 576.5,2195.3 555.7,2191.7 534.9,2189.0 514.1,2187.0 493.3,2185.0 472.5,2183.9 451.7,2182.7 430.9,2181.7 410.1,2180.8 389.3,2179.8 368.5,2179.0 347.7,2181.4 326.9,2183.6 306.1,2186.5 285.3,2189.9 264.5,2192.8 243.7,2193.6 222.9,2194.4 202.1,2201.7 181.3,2210.3"/><polygon fill="#ffffca" points="181.3,2189.4 202.1,2097.6 222.9,1923.3 243.7,1814.8 264.5,1667.3 285.3,1479.3 306.1,1229.3 326.9,946.0 347.7,644.2 368.5,271.3 389.3,111.3 410.1,-39.1 430.9,-50.0 451.7,-50.0 472.5,-50.0 493.3,21.0 514.1,323.8 534.9,600.6 555.7,898.9 576.5,1214.2 597.3,1413.3 618.1,1520.1 638.9,1612.8 659.7,1694.3 680.5,1765.5 701.3,1827.1 722.1,1866.3 742.9,1900.2 763.7,1930.9 784.5,1953.5 805.3,1971.1 826.1,1987.5 846.9,2002.9 867.7,1995.2 888.5,1981.2 909.3,1966.3 930.1,1950.6 950.9,1932.3 971.7,1911.0 992.5,1888.3 1013.3,1863.9 1034.1,1815.0 1054.9,1748.0 1075.7,1670.0 1096.5,1610.1 1117.3,1543.8 1138.1,1470.3 1158.9,1292.9 1179.7,1059.9 1200.5,867.5 1221.3,716.0 1242.1,547.4 1262.9,577.6 1283.7,735.5 1304.5,908.5 1325.3,1087.5 1346.1,1244.0 1366.9,1379.0 1387.7,1495.4 1408.5,1557.9 1429.3,1606.1 1450.1,1641.0 1450.1,2201.9 1429.3,2200.5 1408.5,2198.8 1387.7,2197.2 1366.9,2196.2 1346.1,2195.2 1325.3,2194.1 1304.5,2188.0 1283.7,2183.2 1262.9,2180.3 1242.1,2178.8 1221.3,2179.7 1200.5,2180.5 1179.7,2183.7 1158.9,2189.7 1138.1,2194.8 1117.3,2199.1 1096.5,2202.9 1075.7,2206.1 1054.9,2207.6 1034.1,2208.9 1013.3,2209.6 992.5,2208.8 971.7,2208.0 950.9,2207.1 930.1,2206.6 909.3,2206.5 888.5,2206.4 867.7,2206.3 846.9,2206.1 826.1,2205.7 805.3,2205.2 784.5,2204.8 763.7,2204.4 742.9,2204.1 722.1,2203.8 701.3,2203.4 680.5,2202.1 659.7,2200.8 638.9,2199.4 618.1,2197.8 597.3,2196.1 576.5,2193.3 555.7,2189.4 534.9,2186.4 514.1,2184.0 493.3,2181.6 472.5,2180.4 451.7,2179.2 430.9,2178.0 410.1,2176.8 389.3,2175.6 368.5,2174.7 347.7,2177.3 326.9,2179.7 306.1,2182.8 285.3,2186.4 264.5,2189.5 243.7,2190.9 222.9,2192.3 202.1,2200.4 181.3,2209.8"/><polygon fill="#ffffb5" points="181.3,2190.0 202.1,2106.3 222.9,1954.0 243.7,1862.8 264.5,1741.0 285.3,1598.6 306.1,1416.5 326.9,1212.5 347.7,994.6 368.5,729.9 389.3,628.0 410.1,535.8 430.9,438.2 451.7,398.9 472.5,502.7 493.3,600.7 514.1,805.9 534.9,995.7 555.7,1204.3 576.5,1429.7 597.3,1572.5 618.1,1646.6 638.9,1712.3 659.7,1773.5 680.5,1829.0 701.3,1877.7 722.1,1909.6 742.9,1937.5 763.7,1962.9 784.5,1981.1 805.3,1994.9 826.1,2007.9 846.9,2020.2 867.7,2014.1 888.5,2002.9 909.3,1991.2 930.1,1978.9 950.9,1964.0 971.7,1946.3 992.5,1927.4 1013.3,1907.2 1034.1,1868.5 1054.9,1816.6 1075.7,1757.1 1096.5,1710.9 1117.3,1660.1 1138.1,1604.3 1158.9,1467.1 1179.7,1288.6 1200.5,1148.5 1221.3,1045.2 1242.1,932.1 1262.9,949.3 1283.7,1051.4 1304.5,1167.5 1325.3,1291.6 1346.1,1411.6 1366.9,1516.2 1387.7,1607.3 1408.5,1657.2 1429.3,1696.1 1450.1,1725.2 1450.1,2200.5 1429.3,2198.8 1408.5,2196.9 1387.7,2195.1 1366.9,2194.1 1346.1,2193.2 1325.3,2192.2 1304.5,2185.3 1283.7,2179.9 1262.9,2176.7 1242.1,2175.0 1221.3,2175.9 1200.5,2176.7 1179.7,2180.0 1158.9,2186.3 1138.1,2191.7 1117.3,2196.1 1096.5,2200.0 1075.7,2203.4 1054.9,2205.0 1034.1,2206.5 1013.3,2207.2 992.5,2206.5 971.7,2205.8 950.9,2205.0 930.1,2204.6 909.3,2204.5 888.5,2204.4 867.7,2204.3 846.9,2204.1 826.1,2203.7 805.3,2203.3 784.5,2202.9 763.7,2202.6 742.9,2202.5 722.1,2202.3 701.3,2202.1 680.5,2200.9 659.7,2199.6 638.9,2198.2 618.1,2196.5 597.3,2194.7 576.5,2191.7 555.7,2187.6 534.9,2184.3 514.1,2181.6 493.3,2178.9 472.5,2177.6 451.7,2176.3 430.9,2175.0 410.1,2173.6 389.3,2172.3 368.5,2171.1 347.7,2173.9 326.9,2176.6 306.1,2179.8 285.3,2183.5 264.5,2186.7 243.7,2188.7 222.9,2190.6 202.1,2199.3 181.3,2209.4"/><polygon fill="#ffff9f" points="181.3,2190.4 202.1,2112.8 222.9,1976.6 243.7,1897.7 264.5,1793.8 285.3,1681.4 306.1,1542.5 326.9,1387.8 347.7,1221.5 368.5,1022.3 389.3,953.7 410.1,893.9 430.9,831.3 451.7,809.4 472.5,885.7 493.3,957.8 514.1,1106.3 534.9,1245.1 555.7,1400.0 576.5,1570.7 597.3,1678.8 618.1,1732.7 638.9,1781.2 659.7,1829.1 680.5,1874.2 701.3,1914.1 722.1,1941.0 742.9,1964.7 763.7,1986.4 784.5,2001.5 805.3,2012.6 826.1,2023.2 846.9,2033.3 867.7,2028.2 888.5,2019.2 909.3,2009.6 930.1,1999.7 950.9,1987.3 971.7,1972.0 992.5,1955.8 1013.3,1938.6 1034.1,1906.8 1054.9,1865.0 1075.7,1817.7 1096.5,1780.5 1117.3,1739.9 1138.1,1695.5 1158.9,1584.4 1179.7,1441.2 1200.5,1333.6 1221.3,1259.3 1242.1,1178.9 1262.9,1188.9 1283.7,1258.3 1304.5,1340.1 1325.3,1430.3 1346.1,1526.6 1366.9,1611.2 1387.7,1685.6 1408.5,1727.0 1429.3,1759.5 1450.1,1784.6 1450.1,2199.3 1429.3,2197.3 1408.5,2195.2 1387.7,2193.2 1366.9,2192.4 1346.1,2191.5 1325.3,2190.6 1304.5,2183.0 1283.7,2177.0 1262.9,2173.5 1242.1,2171.7 1221.3,2172.5 1200.5,2173.4 1179.7,2176.8 1158.9,2183.3 1138.1,2188.9 1117.3,2193.4 1096.5,2197.4 1075.7,2200.9 1054.9,2202.6 1034.1,2204.2 1013.3,2205.1 992.5,2204.5 971.7,2203.8 950.9,2203.1 930.1,2202.7 909.3,2202.7 888.5,2202.6 867.7,2202.5 846.9,2202.3 826.1,2202.0 805.3,2201.6 784.5,2201.3 763.7,2201.1 742.9,2201.1 722.1,2201.1 701.3,2201.0 680.5,2199.8 659.7,2198.6 638.9,2197.2 618.1,2195.4 597.3,2193.4 576.5,2190.3 555.7,2186.0 534.9,2182.5 514.1,2179.5 493.3,2176.5 472.5,2175.2 451.7,2173.8 430.9,2172.4 410.1,2170.9 389.3,2169.4 368.5,2168.1 347.7,2171.1 326.9,2173.9 306.1,2177.2 285.3,2181.0 264.5,2184.4 243.7,2186.8 222.9,2189.2 202.1,2198.5 181.3,2209.1"/><polygon fill="#ffff8a" points="181.3,2190.8 202.1,2118.2 222.9,1994.4 243.7,1924.7 264.5,1834.1 285.3,1743.3 306.1,1634.2 326.9,1512.9 347.7,1381.4 368.5,1225.7 389.3,1178.1 410.1,1138.3 430.9,1097.0 451.7,1085.4 472.5,1143.8 493.3,1199.2 514.1,1311.4 534.9,1417.1 555.7,1536.8 576.5,1670.8 597.3,1755.5 618.1,1795.8 638.9,1832.6 659.7,1871.0 680.5,1908.5 701.3,1942.1 722.1,1965.2 742.9,1985.8 763.7,2004.7 784.5,2017.5 805.3,2026.7 826.1,2035.4 846.9,2043.8 867.7,2039.6 888.5,2032.0 909.3,2024.2 930.1,2016.1 950.9,2005.5 971.7,1992.1 992.5,1977.9 1013.3,1962.8 1034.1,1936.2 1054.9,1901.7 1075.7,1863.1 1096.5,1832.3 1117.3,1798.9 1138.1,1762.6 1158.9,1669.9 1179.7,1551.3 1200.5,1465.8 1221.3,1410.7 1242.1,1351.6 1262.9,1357.1 1283.7,1405.4 1304.5,1464.7 1325.3,1532.1 1346.1,1611.6 1366.9,1682.0 1387.7,1744.4 1408.5,1779.6 1429.3,1807.5 1450.1,1829.7 1450.1,2198.2 1429.3,2196.0 1408.5,2193.7 1387.7,2191.6 1366.9,2190.8 1346.1,2189.9 1325.3,2189.1 1304.5,2180.9 1283.7,2174.4 1262.9,2170.7 1242.1,2168.6 1221.3,2169.5 1200.5,2170.4 1179.7,2173.8 1158.9,2180.6 1138.1,2186.4 1117.3,2190.9 1096.5,2195.0 1075.7,2198.5 1054.9,2200.4 1034.1,2202.1 1013.3,2203.1 992.5,2202.5 971.7,2202.0 950.9,2201.4 930.1,2201.1 909.3,2201.0 888.5,2200.9 867.7,2200.8 846.9,2200.7 826.1,2200.4 805.3,2200.1 784.5,2199.8 763.7,2199.6 742.9,2199.8 722.1,2200.0 701.3,2200.0 680.5,2198.9 659.7,2197.7 638.9,2196.3 618.1,2194.4 597.3,2192.4 576.5,2189.1 555.7,2184.6 534.9,2180.9 514.1,2177.6 493.3,2174.4 472.5,2173.0 451.7,2171.7 430.9,2170.1 410.1,2168.5 389.3,2166.8 368.5,2165.4 347.7,2168.5 326.9,2171.5 306.1,2174.9 285.3,2178.7 264.5,2182.3 243.7,2185.2 222.9,2187.9 202.1,2197.7 181.3,2208.8"/><polygon fill="#ffff75" points="181.3,2191.1 202.1,2122.6 222.9,2008.9 243.7,1946.6 264.5,1866.4 285.3,1791.7 306.1,1704.5 326.9,1607.2 347.7,1500.5 368.5,1375.5 389.3,1342.0 410.1,1315.4 430.9,1288.0 451.7,1282.7 472.5,1328.9 493.3,1372.8 514.1,1460.1 534.9,1542.9 555.7,1638.0 576.5,1746.0 597.3,1813.9 618.1,1844.4 638.9,1872.7 659.7,1904.1 680.5,1935.9 701.3,1964.5 722.1,1984.8 742.9,2002.9 763.7,2019.6 784.5,2030.6 805.3,2038.2 826.1,2045.5 846.9,2052.5 867.7,2049.0 888.5,2042.7 909.3,2036.2 930.1,2029.4 950.9,2020.2 971.7,2008.3 992.5,1995.7 1013.3,1982.4 1034.1,1959.7 1054.9,1930.8 1075.7,1898.8 1096.5,1872.8 1117.3,1844.7 1138.1,1814.3 1158.9,1735.5 1179.7,1635.1 1200.5,1565.6 1221.3,1523.8 1242.1,1479.4 1262.9,1482.0 1283.7,1515.9 1304.5,1559.4 1325.3,1610.5 1346.1,1677.6 1366.9,1737.4 1387.7,1790.7 1408.5,1821.2 1429.3,1845.5 1450.1,1865.3 1450.1,2197.2 1429.3,2194.8 1408.5,2192.3 1387.7,2190.0 1366.9,2189.3 1346.1,2188.5 1325.3,2187.8 1304.5,2179.0 1283.7,2172.0 1262.9,2168.0 1242.1,2165.8 1221.3,2166.7 1200.5,2167.6 1179.7,2171.1 1158.9,2178.0 1138.1,2184.0 1117.3,2188.6 1096.5,2192.7 1075.7,2196.3 1054.9,2198.3 1034.1,2200.1 1013.3,2201.1 992.5,2200.7 971.7,2200.2 950.9,2199.8 930.1,2199.5 909.3,2199.4 888.5,2199.4 867.7,2199.3 846.9,2199.2 826.1,2198.9 805.3,2198.6 784.5,2198.4 763.7,2198.3 742.9,2198.7 722.1,2199.0 701.3,2199.1 680.5,2198.1 659.7,2196.9 638.9,2195.5 618.1,2193.5 597.3,2191.4 576.5,2188.0 555.7,2183.4 534.9,2179.4 514.1,2176.0 493.3,2172.5 472.5,2171.1 451.7,2169.7 430.9,2168.0 410.1,2166.2 389.3,2164.4 368.5,2162.9 347.7,2166.1 326.9,2169.3 306.1,2172.8 285.3,2176.7 264.5,2180.3 243.7,2183.7 222.9,2186.8 202.1,2197.0 181.3,2208.6"/><polygon fill="#ffff60" points="181.3,2191.4 202.1,2126.4 222.9,2021.2 243.7,1964.8 264.5,1893.0 285.3,1830.9 306.1,1760.2 326.9,1680.9 347.7,1592.8 368.5,1490.5 389.3,1466.9 410.1,1449.4 430.9,1431.4 451.7,1430.2 472.5,1467.5 493.3,1503.1 514.1,1572.6 534.9,1638.9 555.7,1715.9 576.5,1804.6 597.3,1859.9 618.1,1883.3 638.9,1905.1 659.7,1931.1 680.5,1958.4 701.3,1983.1 722.1,2001.0 742.9,2017.2 763.7,2032.1 784.5,2041.7 805.3,2048.0 826.1,2054.0 846.9,2059.9 867.7,2057.0 888.5,2051.7 909.3,2046.3 930.1,2040.7 950.9,2032.6 971.7,2021.9 992.5,2010.6 1013.3,1998.7 1034.1,1979.2 1054.9,1954.6 1075.7,1927.7 1096.5,1905.4 1117.3,1881.5 1138.1,1855.8 1158.9,1787.6 1179.7,1701.2 1200.5,1643.7 1221.3,1611.7 1242.1,1577.9 1262.9,1578.5 1283.7,1602.1 1304.5,1634.2 1325.3,1673.2 1346.1,1730.6 1366.9,1782.1 1387.7,1828.3 1408.5,1855.1 1429.3,1876.5 1450.1,1894.6 1450.1,2196.3 1429.3,2193.7 1408.5,2191.0 1387.7,2188.6 1366.9,2187.9 1346.1,2187.2 1325.3,2186.5 1304.5,2177.3 1283.7,2169.8 1262.9,2165.6 1242.1,2163.2 1221.3,2164.1 1200.5,2164.9 1179.7,2168.6 1158.9,2175.7 1138.1,2181.8 1117.3,2186.4 1096.5,2190.5 1075.7,2194.2 1054.9,2196.2 1034.1,2198.1 1013.3,2199.3 992.5,2198.9 971.7,2198.6 950.9,2198.2 930.1,2198.0 909.3,2197.9 888.5,2197.9 867.7,2197.8 846.9,2197.8 826.1,2197.5 805.3,2197.3 784.5,2197.1 763.7,2197.1 742.9,2197.6 722.1,2198.0 701.3,2198.3 680.5,2197.3 659.7,2196.2 638.9,2194.7 618.1,2192.7 597.3,2190.5 576.5,2187.0 555.7,2182.2 534.9,2178.1 514.1,2174.4 493.3,2170.7 472.5,2169.3 451.7,2167.8 430.9,2166.1 410.1,2164.1 389.3,2162.2 368.5,2160.5 347.7,2164.0 326.9,2167.2 306.1,2170.8 285.3,2174.8 264.5,2178.5 243.7,2182.2 222.9,2185.7 202.1,2196.4 181.3,2208.3"/><polygon fill="#ffff4a" points="181.3,2191.6 202.1,2129.8 222.9,2031.7 243.7,1980.4 264.5,1915.5 285.3,1863.5 306.1,1805.7 326.9,1740.3 347.7,1666.6 368.5,1581.6 389.3,1565.0 410.1,1554.0 430.9,1542.8 451.7,1544.3 472.5,1575.0 493.3,1604.3 514.1,1660.5 534.9,1714.4 555.7,1777.7 576.5,1851.6 597.3,1897.4 618.1,1915.2 638.9,1932.0 659.7,1953.7 680.5,1977.3 701.3,1998.9 722.1,2014.9 742.9,2029.3 763.7,2042.8 784.5,2051.2 805.3,2056.4 826.1,2061.5 846.9,2066.4 867.7,2063.9 888.5,2059.5 909.3,2055.0 930.1,2050.3 950.9,2043.3 971.7,2033.6 992.5,2023.3 1013.3,2012.6 1034.1,1995.6 1054.9,1974.6 1075.7,1951.8 1096.5,1932.5 1117.3,1911.9 1138.1,1889.8 1158.9,1830.1 1179.7,1755.0 1200.5,1706.7 1221.3,1682.0 1242.1,1656.1 1262.9,1655.3 1283.7,1671.4 1304.5,1694.9 1325.3,1724.6 1346.1,1774.4 1366.9,1819.3 1387.7,1859.7 1408.5,1883.4 1429.3,1902.6 1450.1,1919.1 1450.1,2195.5 1429.3,2192.7 1408.5,2189.8 1387.7,2187.3 1366.9,2186.7 1346.1,2186.0 1325.3,2185.4 1304.5,2175.6 1283.7,2167.7 1262.9,2163.2 1242.1,2160.8 1221.3,2161.6 1200.5,2162.5 1179.7,2166.1 1158.9,2173.4 1138.1,2179.7 1117.3,2184.2 1096.5,2188.3 1075.7,2192.1 1054.9,2194.2 1034.1,2196.2 1013.3,2197.4 992.5,2197.2 971.7,2197.0 950.9,2196.7 930.1,2196.6 909.3,2196.5 888.5,2196.5 867.7,2196.5 846.9,2196.4 826.1,2196.2 805.3,2196.0 784.5,2195.8 763.7,2195.9 742.9,2196.5 722.1,2197.1 701.3,2197.6 680.5,2196.5 659.7,2195.5 638.9,2194.0 618.1,2191.9 597.3,2189.7 576.5,2186.1 555.7,2181.2 534.9,2176.8 514.1,2172.9 493.3,2169.0 472.5,2167.6 451.7,2166.1 430.9,2164.2 410.1,2162.2 389.3,2160.1 368.5,2158.3 347.7,2161.9 326.9,2165.3 306.1,2169.0 285.3,2173.0 264.5,2176.8 243.7,2180.9 222.9,2184.7 202.1,2195.8 181.3,2208.1"/><polygon fill="#ffff35" points="181.3,2191.9 202.1,2132.8 222.9,2040.9 243.7,1993.9 264.5,1934.8 285.3,1891.1 306.1,1843.7 326.9,1789.3 347.7,1726.8 368.5,1655.4 389.3,1644.2 410.1,1637.8 430.9,1631.4 451.7,1634.7 472.5,1660.4 493.3,1684.9 514.1,1730.9 534.9,1775.3 555.7,1828.0 576.5,1890.3 597.3,1928.4 618.1,1941.9 638.9,1954.8 659.7,1973.0 680.5,1993.6 701.3,2012.5 722.1,2026.8 742.9,2039.9 763.7,2052.2 784.5,2059.5 805.3,2063.8 826.1,2068.0 846.9,2072.2 867.7,2070.1 888.5,2066.4 909.3,2062.6 930.1,2058.8 950.9,2052.5 971.7,2043.7 992.5,2034.4 1013.3,2024.6 1034.1,2009.8 1054.9,1991.8 1075.7,1972.2 1096.5,1955.4 1117.3,1937.5 1138.1,1918.4 1158.9,1865.7 1179.7,1799.5 1200.5,1758.7 1221.3,1739.6 1242.1,1719.8 1262.9,1718.0 1283.7,1728.4 1304.5,1745.2 1325.3,1767.7 1346.1,1811.3 1366.9,1850.7 1387.7,1886.4 1408.5,1907.6 1429.3,1924.9 1450.1,1940.0 1450.1,2194.7 1429.3,2191.7 1408.5,2188.7 1387.7,2186.0 1366.9,2185.4 1346.1,2184.9 1325.3,2184.3 1304.5,2174.0 1283.7,2165.7 1262.9,2161.0 1242.1,2158.4 1221.3,2159.2 1200.5,2160.1 1179.7,2163.8 1158.9,2171.2 1138.1,2177.6 1117.3,2182.2 1096.5,2186.3 1075.7,2190.0 1054.9,2192.2 1034.1,2194.3 1013.3,2195.7 992.5,2195.5 971.7,2195.4 950.9,2195.3 930.1,2195.2 909.3,2195.2 888.5,2195.1 867.7,2195.1 846.9,2195.1 826.1,2194.9 805.3,2194.8 784.5,2194.6 763.7,2194.8 742.9,2195.6 722.1,2196.3 701.3,2196.8 680.5,2195.9 659.7,2194.8 638.9,2193.4 618.1,2191.2 597.3,2188.9 576.5,2185.2 555.7,2180.2 534.9,2175.7 514.1,2171.6 493.3,2167.5 472.5,2166.0 451.7,2164.4 430.9,2162.5 410.1,2160.3 389.3,2158.1 368.5,2156.3 347.7,2159.9 326.9,2163.4 306.1,2167.2 285.3,2171.3 264.5,2175.1 243.7,2179.7 222.9,2183.8 202.1,2195.2 181.3,2207.9"/><polygon fill="#ffff20" points="181.3,2192.1 202.1,2135.5 222.9,2049.1 243.7,2005.8 264.5,1951.8 285.3,1914.9 306.1,1875.9 326.9,1830.4 347.7,1777.0 368.5,1716.4 389.3,1709.2 410.1,1706.3 430.9,1703.4 451.7,1708.0 472.5,1729.6 493.3,1750.4 514.1,1788.5 534.9,1825.4 555.7,1869.7 576.5,1922.6 597.3,1954.6 618.1,1964.7 638.9,1974.3 659.7,1989.6 680.5,2007.7 701.3,2024.4 722.1,2037.4 742.9,2049.3 763.7,2060.4 784.5,2066.8 805.3,2070.4 826.1,2073.9 846.9,2077.3 867.7,2075.6 888.5,2072.6 909.3,2069.4 930.1,2066.3 950.9,2060.7 971.7,2052.6 992.5,2044.1 1013.3,2035.1 1034.1,2022.1 1054.9,2006.6 1075.7,1989.9 1096.5,1975.1 1117.3,1959.4 1138.1,1942.7 1158.9,1895.8 1179.7,1837.1 1200.5,1802.3 1221.3,1787.7 1242.1,1772.5 1262.9,1770.0 1283.7,1776.1 1304.5,1787.7 1325.3,1804.5 1346.1,1842.9 1366.9,1877.7 1387.7,1909.4 1408.5,1928.6 1429.3,1944.2 1450.1,1958.2 1450.1,2193.9 1429.3,2190.8 1408.5,2187.6 1387.7,2184.8 1366.9,2184.3 1346.1,2183.8 1325.3,2183.2 1304.5,2172.5 1283.7,2163.8 1262.9,2158.9 1242.1,2156.1 1221.3,2157.0 1200.5,2157.8 1179.7,2161.6 1158.9,2169.1 1138.1,2175.6 1117.3,2180.1 1096.5,2184.3 1075.7,2188.0 1054.9,2190.3 1034.1,2192.5 1013.3,2193.9 992.5,2193.9 971.7,2193.9 950.9,2193.9 930.1,2193.8 909.3,2193.8 888.5,2193.8 867.7,2193.8 846.9,2193.8 826.1,2193.7 805.3,2193.6 784.5,2193.5 763.7,2193.8 742.9,2194.6 722.1,2195.5 701.3,2196.2 680.5,2195.2 659.7,2194.2 638.9,2192.7 618.1,2190.5 597.3,2188.2 576.5,2184.4 555.7,2179.2 534.9,2174.5 514.1,2170.3 493.3,2165.9 472.5,2164.4 451.7,2162.9 430.9,2160.8 410.1,2158.6 389.3,2156.2 368.5,2154.3 347.7,2158.1 326.9,2161.7 306.1,2165.5 285.3,2169.6 264.5,2173.6 243.7,2178.5 222.9,2182.9 202.1,2194.7 181.3,2207.7"/><polygon fill="#ffff0b" points="181.3,2192.3 202.1,2138.0 222.9,2056.4 243.7,2016.3 264.5,1966.7 285.3,1935.6 306.1,1903.6 326.9,1865.3 347.7,1819.4 368.5,1767.6 389.3,1763.5 410.1,1763.2 430.9,1762.9 451.7,1768.4 472.5,1786.8 493.3,1804.5 514.1,1836.3 534.9,1867.2 555.7,1904.8 576.5,1950.1 597.3,1977.1 618.1,1984.3 638.9,1991.4 659.7,2004.3 680.5,2020.2 701.3,2034.9 722.1,2046.7 742.9,2057.6 763.7,2067.8 784.5,2073.4 805.3,2076.4 826.1,2079.2 846.9,2082.0 867.7,2080.6 888.5,2078.1 909.3,2075.6 930.1,2073.0 950.9,2068.1 971.7,2060.6 992.5,2052.7 1013.3,2044.5 1034.1,2033.1 1054.9,2019.7 1075.7,2005.3 1096.5,1992.2 1117.3,1978.4 1138.1,1963.8 1158.9,1921.8 1179.7,1869.4 1200.5,1839.5 1221.3,1828.4 1242.1,1817.0 1262.9,1813.9 1283.7,1816.6 1304.5,1824.1 1325.3,1836.2 1346.1,1870.2 1366.9,1901.3 1387.7,1929.6 1408.5,1946.9 1429.3,1961.1 1450.1,1974.2 1450.1,2193.2 1429.3,2189.9 1408.5,2186.5 1387.7,2183.6 1366.9,2183.2 1346.1,2182.7 1325.3,2182.2 1304.5,2171.0 1283.7,2161.9 1262.9,2156.8 1242.1,2153.9 1221.3,2154.8 1200.5,2155.6 1179.7,2159.4 1158.9,2167.1 1138.1,2173.7 1117.3,2178.2 1096.5,2182.3 1075.7,2186.0 1054.9,2188.4 1034.1,2190.6 1013.3,2192.2 992.5,2192.3 971.7,2192.4 950.9,2192.5 930.1,2192.5 909.3,2192.5 888.5,2192.6 867.7,2192.6 846.9,2192.6 826.1,2192.5 805.3,2192.4 784.5,2192.3 763.7,2192.7 742.9,2193.7 722.1,2194.7 701.3,2195.5 680.5,2194.6 659.7,2193.6 638.9,2192.2 618.1,2189.9 597.3,2187.5 576.5,2183.6 555.7,2178.3 534.9,2173.5 514.1,2169.0 493.3,2164.5 472.5,2162.9 451.7,2161.3 430.9,2159.2 410.1,2156.9 389.3,2154.4 368.5,2152.3 347.7,2156.3 326.9,2160.0 306.1,2163.9 285.3,2168.0 264.5,2172.0 243.7,2177.3 222.9,2182.1 202.1,2194.2 181.3,2207.6"/><polygon fill="#ffff00" points="181.3,2192.5 202.1,2140.2 222.9,2063.1 243.7,2025.8 264.5,1980.1 285.3,1953.9 306.1,1927.7 326.9,1895.4 347.7,1855.7 368.5,1811.2 389.3,1809.4 410.1,1811.1 430.9,1812.8 451.7,1818.9 472.5,1834.7 493.3,1849.9 514.1,1876.6 534.9,1902.7 555.7,1934.6 576.5,1973.7 597.3,1996.6 618.1,2001.5 638.9,2006.4 659.7,2017.2 680.5,2031.3 701.3,2044.4 722.1,2055.1 742.9,2065.1 763.7,2074.4 784.5,2079.4 805.3,2081.7 826.1,2084.0 846.9,2086.3 867.7,2085.1 888.5,2083.1 909.3,2081.1 930.1,2079.0 950.9,2074.7 971.7,2067.7 992.5,2060.5 1013.3,2053.0 1034.1,2042.9 1054.9,2031.3 1075.7,2018.9 1096.5,2007.3 1117.3,1995.1 1138.1,1982.2 1158.9,1944.4 1179.7,1897.3 1200.5,1871.5 1221.3,1863.3 1242.1,1854.8 1262.9,1851.4 1283.7,1851.5 1304.5,1855.7 1325.3,1863.9 1346.1,1894.3 1366.9,1922.0 1387.7,1947.5 1408.5,1963.2 1429.3,1976.2 1450.1,1988.4 1450.1,2192.5 1429.3,2189.0 1408.5,2185.5 1387.7,2182.5 1366.9,2182.1 1346.1,2181.7 1325.3,2181.3 1304.5,2169.6 1283.7,2160.1 1262.9,2154.8 1242.1,2151.8 1221.3,2152.6 1200.5,2153.4 1179.7,2157.3 1158.9,2165.1 1138.1,2171.8 1117.3,2176.2 1096.5,2180.3 1075.7,2184.0 1054.9,2186.5 1034.1,2188.8 1013.3,2190.4 992.5,2190.7 971.7,2190.9 950.9,2191.1 930.1,2191.2 909.3,2191.3 888.5,2191.3 867.7,2191.3 846.9,2191.4 826.1,2191.3 805.3,2191.3 784.5,2191.3 763.7,2191.7 742.9,2192.9 722.1,2194.0 701.3,2194.9 680.5,2194.0 659.7,2193.0 638.9,2191.6 618.1,2189.3 597.3,2186.8 576.5,2182.8 555.7,2177.4 534.9,2172.4 514.1,2167.8 493.3,2163.1 472.5,2161.5 451.7,2159.9 430.9,2157.7 410.1,2155.2 389.3,2152.7 368.5,2150.5 347.7,2154.5 326.9,2158.3 306.1,2162.3 285.3,2166.5 264.5,2170.6 243.7,2176.2 222.9,2181.3 202.1,2193.7 181.3,2207.4"/><polygon fill="#fff800" points="181.3,2192.8 202.1,2142.3 222.9,2068.1 243.7,2030.9 264.5,1985.1 285.3,1959.7 306.1,1934.6 326.9,1904.3 347.7,1867.8 368.5,1827.3 389.3,1826.3 410.1,1828.6 430.9,1830.8 451.7,1836.7 472.5,1850.9 493.3,1864.6 514.1,1889.2 534.9,1913.3 555.7,1943.0 576.5,1979.3 597.3,2001.1 618.1,2006.6 638.9,2012.0 659.7,2022.9 680.5,2036.7 701.3,2049.5 722.1,2059.8 742.9,2069.3 763.7,2078.3 784.5,2083.1 805.3,2085.3 826.1,2087.5 846.9,2089.6 867.7,2088.5 888.5,2086.6 909.3,2084.7 930.1,2082.7 950.9,2078.6 971.7,2072.0 992.5,2065.1 1013.3,2057.9 1034.1,2048.2 1054.9,2036.8 1075.7,2024.8 1096.5,2013.5 1117.3,2001.6 1138.1,1989.0 1158.9,1953.5 1179.7,1909.6 1200.5,1885.3 1221.3,1877.0 1242.1,1868.6 1262.9,1864.9 1283.7,1864.4 1304.5,1867.7 1325.3,1874.8 1346.1,1904.1 1366.9,1930.9 1387.7,1955.5 1408.5,1970.8 1429.3,1983.4 1450.1,1995.4 1450.1,2191.3 1429.3,2187.7 1408.5,2184.2 1387.7,2181.0 1366.9,2180.5 1346.1,2179.9 1325.3,2179.4 1304.5,2167.6 1283.7,2158.0 1262.9,2152.5 1242.1,2149.4 1221.3,2150.4 1200.5,2151.4 1179.7,2155.4 1158.9,2163.5 1138.1,2170.4 1117.3,2174.9 1096.5,2178.9 1075.7,2182.7 1054.9,2185.3 1034.1,2187.8 1013.3,2189.5 992.5,2189.7 971.7,2189.9 950.9,2190.2 930.1,2190.3 909.3,2190.3 888.5,2190.4 867.7,2190.4 846.9,2190.5 826.1,2190.4 805.3,2190.4 784.5,2190.4 763.7,2190.9 742.9,2192.0 722.1,2193.1 701.3,2193.9 680.5,2192.9 659.7,2191.8 638.9,2190.2 618.1,2187.8 597.3,2185.3 576.5,2181.2 555.7,2175.8 534.9,2170.8 514.1,2166.1 493.3,2161.3 472.5,2159.6 451.7,2157.9 430.9,2155.6 410.1,2153.1 389.3,2150.5 368.5,2148.2 347.7,2152.4 326.9,2156.3 306.1,2160.4 285.3,2164.5 264.5,2168.7 243.7,2174.6 222.9,2180.0 202.1,2193.0 181.3,2207.1"/><polygon fill="#fff100" points="181.3,2193.1 202.1,2144.3 222.9,2072.6 243.7,2035.6 264.5,1989.7 285.3,1965.1 306.1,1940.8 326.9,1912.4 347.7,1878.9 368.5,1841.9 389.3,1841.6 410.1,1844.3 430.9,1847.0 451.7,1852.7 472.5,1865.5 493.3,1877.8 514.1,1900.6 534.9,1923.0 555.7,1950.5 576.5,1984.4 597.3,2005.1 618.1,2011.2 638.9,2017.2 659.7,2028.1 680.5,2041.7 701.3,2054.3 722.1,2064.2 742.9,2073.3 763.7,2081.9 784.5,2086.5 805.3,2088.6 826.1,2090.6 846.9,2092.7 867.7,2091.6 888.5,2089.8 909.3,2088.0 930.1,2086.2 950.9,2082.2 971.7,2075.9 992.5,2069.3 1013.3,2062.5 1034.1,2053.0 1054.9,2042.0 1075.7,2030.2 1096.5,2019.2 1117.3,2007.5 1138.1,1995.2 1158.9,1961.8 1179.7,1920.8 1200.5,1897.8 1221.3,1889.5 1242.1,1881.0 1262.9,1877.0 1283.7,1876.2 1304.5,1878.8 1325.3,1884.7 1346.1,1913.0 1366.9,1939.0 1387.7,1962.8 1408.5,1977.7 1429.3,1990.1 1450.1,2001.8 1450.1,2190.2 1429.3,2186.5 1408.5,2182.9 1387.7,2179.5 1366.9,2178.9 1346.1,2178.2 1325.3,2177.5 1304.5,2165.5 1283.7,2155.8 1262.9,2150.2 1242.1,2147.1 1221.3,2148.2 1200.5,2149.3 1179.7,2153.6 1158.9,2161.9 1138.1,2169.1 1117.3,2173.5 1096.5,2177.6 1075.7,2181.4 1054.9,2184.1 1034.1,2186.8 1013.3,2188.6 992.5,2188.8 971.7,2189.0 950.9,2189.3 930.1,2189.4 909.3,2189.4 888.5,2189.5 867.7,2189.5 846.9,2189.6 826.1,2189.6 805.3,2189.6 784.5,2189.6 763.7,2190.1 742.9,2191.1 722.1,2192.1 701.3,2192.9 680.5,2191.8 659.7,2190.6 638.9,2188.9 618.1,2186.4 597.3,2183.7 576.5,2179.6 555.7,2174.2 534.9,2169.1 514.1,2164.4 493.3,2159.6 472.5,2157.8 451.7,2155.9 430.9,2153.6 410.1,2151.0 389.3,2148.3 368.5,2146.0 347.7,2150.3 326.9,2154.3 306.1,2158.4 285.3,2162.6 264.5,2166.8 243.7,2173.0 222.9,2178.7 202.1,2192.4 181.3,2206.8"/><polygon fill="#ffea00" points="181.3,2193.3 202.1,2146.1 222.9,2076.9 243.7,2040.0 264.5,1994.1 285.3,1970.1 306.1,1946.7 326.9,1919.9 347.7,1889.1 368.5,1855.3 389.3,1855.7 410.1,1858.8 430.9,1861.8 451.7,1867.5 472.5,1878.9 493.3,1890.0 514.1,1911.1 534.9,1932.0 555.7,1957.6 576.5,1989.2 597.3,2009.0 618.1,2015.6 638.9,2022.0 659.7,2033.0 680.5,2046.3 701.3,2058.7 722.1,2068.2 742.9,2077.0 763.7,2085.3 784.5,2089.7 805.3,2091.7 826.1,2093.6 846.9,2095.5 867.7,2094.6 888.5,2092.8 909.3,2091.1 930.1,2089.4 950.9,2085.6 971.7,2079.5 992.5,2073.3 1013.3,2066.7 1034.1,2057.5 1054.9,2046.8 1075.7,2035.3 1096.5,2024.5 1117.3,2013.1 1138.1,2001.0 1158.9,1969.5 1179.7,1931.1 1200.5,1909.3 1221.3,1901.0 1242.1,1892.5 1262.9,1888.3 1283.7,1887.1 1304.5,1889.0 1325.3,1894.0 1346.1,1921.4 1366.9,1946.5 1387.7,1969.6 1408.5,1984.1 1429.3,1996.2 1450.1,2007.7 1450.1,2189.0 1429.3,2185.3 1408.5,2181.5 1387.7,2178.1 1366.9,2177.3 1346.1,2176.5 1325.3,2175.6 1304.5,2163.6 1283.7,2153.7 1262.9,2148.0 1242.1,2144.8 1221.3,2146.1 1200.5,2147.3 1179.7,2151.8 1158.9,2160.4 1138.1,2167.8 1117.3,2172.2 1096.5,2176.3 1075.7,2180.1 1054.9,2183.0 1034.1,2185.7 1013.3,2187.6 992.5,2187.9 971.7,2188.1 950.9,2188.4 930.1,2188.5 909.3,2188.6 888.5,2188.6 867.7,2188.7 846.9,2188.7 826.1,2188.8 805.3,2188.8 784.5,2188.8 763.7,2189.3 742.9,2190.3 722.1,2191.2 701.3,2192.0 680.5,2190.7 659.7,2189.3 638.9,2187.5 618.1,2185.0 597.3,2182.2 576.5,2178.1 555.7,2172.6 534.9,2167.5 514.1,2162.7 493.3,2157.9 472.5,2156.0 451.7,2154.0 430.9,2151.6 410.1,2149.0 389.3,2146.2 368.5,2143.9 347.7,2148.2 326.9,2152.3 306.1,2156.5 285.3,2160.7 264.5,2164.9 243.7,2171.5 222.9,2177.4 202.1,2191.7 181.3,2206.6"/><polygon fill="#ffe300" points="181.3,2193.6 202.1,2147.8 222.9,2080.9 243.7,2044.2 264.5,1998.1 285.3,1974.8 306.1,1952.2 326.9,1926.9 347.7,1898.7 368.5,1867.8 389.3,1868.7 410.1,1872.1 430.9,1875.5 451.7,1881.0 472.5,1891.4 493.3,1901.4 514.1,1920.9 534.9,1940.3 555.7,1964.2 576.5,1993.6 597.3,2012.6 618.1,2019.7 638.9,2026.5 659.7,2037.5 680.5,2050.6 701.3,2062.8 722.1,2072.0 742.9,2080.5 763.7,2088.4 784.5,2092.7 805.3,2094.5 826.1,2096.4 846.9,2098.2 867.7,2097.3 888.5,2095.7 909.3,2094.0 930.1,2092.4 950.9,2088.7 971.7,2083.0 992.5,2076.9 1013.3,2070.7 1034.1,2061.8 1054.9,2051.2 1075.7,2040.0 1096.5,2029.4 1117.3,2018.2 1138.1,2006.4 1158.9,1976.7 1179.7,1940.7 1200.5,1920.0 1221.3,1911.7 1242.1,1903.2 1262.9,1898.8 1283.7,1897.2 1304.5,1898.5 1325.3,1902.6 1346.1,1929.2 1366.9,1953.6 1387.7,1976.0 1408.5,1990.2 1429.3,2002.0 1450.1,2013.3 1450.1,2187.9 1429.3,2184.1 1408.5,2180.3 1387.7,2176.7 1366.9,2175.8 1346.1,2174.8 1325.3,2173.8 1304.5,2161.6 1283.7,2151.7 1262.9,2145.8 1242.1,2142.6 1221.3,2144.0 1200.5,2145.3 1179.7,2150.0 1158.9,2158.9 1138.1,2166.5 1117.3,2170.9 1096.5,2175.0 1075.7,2178.8 1054.9,2181.9 1034.1,2184.8 1013.3,2186.7 992.5,2187.0 971.7,2187.2 950.9,2187.5 930.1,2187.6 909.3,2187.7 888.5,2187.8 867.7,2187.8 846.9,2187.9 826.1,2187.9 805.3,2188.0 784.5,2188.1 763.7,2188.5 742.9,2189.4 722.1,2190.3 701.3,2191.0 680.5,2189.6 659.7,2188.1 638.9,2186.2 618.1,2183.5 597.3,2180.7 576.5,2176.5 555.7,2171.0 534.9,2165.9 514.1,2161.1 493.3,2156.2 472.5,2154.2 451.7,2152.1 430.9,2149.6 410.1,2146.9 389.3,2144.1 368.5,2141.8 347.7,2146.2 326.9,2150.4 306.1,2154.6 285.3,2158.8 264.5,2163.0 243.7,2170.0 222.9,2176.1 202.1,2191.1 181.3,2206.3"/><polygon fill="#ffdc00" points="181.3,2193.8 202.1,2149.5 222.9,2084.6 243.7,2048.1 264.5,2002.0 285.3,1979.3 306.1,1957.4 326.9,1933.6 347.7,1907.6 368.5,1879.4 389.3,1880.8 410.1,1884.6 430.9,1888.2 451.7,1893.6 472.5,1902.9 493.3,1911.9 514.1,1930.1 534.9,1948.2 555.7,1970.4 576.5,1997.9 597.3,2016.0 618.1,2023.5 638.9,2030.8 659.7,2041.8 680.5,2054.7 701.3,2066.7 722.1,2075.6 742.9,2083.7 763.7,2091.4 784.5,2095.5 805.3,2097.3 826.1,2099.0 846.9,2100.8 867.7,2099.9 888.5,2098.3 909.3,2096.8 930.1,2095.2 950.9,2091.7 971.7,2086.2 992.5,2080.4 1013.3,2074.4 1034.1,2065.7 1054.9,2055.4 1075.7,2044.5 1096.5,2034.1 1117.3,2023.1 1138.1,2011.5 1158.9,1983.4 1179.7,1949.6 1200.5,1930.0 1221.3,1921.7 1242.1,1913.1 1262.9,1908.6 1283.7,1906.7 1304.5,1907.4 1325.3,1910.7 1346.1,1936.5 1366.9,1960.2 1387.7,1982.0 1408.5,1995.9 1429.3,2007.4 1450.1,2018.5 1450.1,2186.8 1429.3,2182.9 1408.5,2179.0 1387.7,2175.3 1366.9,2174.2 1346.1,2173.1 1325.3,2171.9 1304.5,2159.6 1283.7,2149.6 1262.9,2143.6 1242.1,2140.4 1221.3,2141.9 1200.5,2143.4 1179.7,2148.3 1158.9,2157.4 1138.1,2165.2 1117.3,2169.6 1096.5,2173.7 1075.7,2177.5 1054.9,2180.8 1034.1,2183.8 1013.3,2185.9 992.5,2186.1 971.7,2186.4 950.9,2186.6 930.1,2186.8 909.3,2186.8 888.5,2186.9 867.7,2187.0 846.9,2187.1 826.1,2187.1 805.3,2187.2 784.5,2187.3 763.7,2187.7 742.9,2188.6 722.1,2189.5 701.3,2190.1 680.5,2188.5 659.7,2186.9 638.9,2184.9 618.1,2182.1 597.3,2179.2 576.5,2175.0 555.7,2169.4 534.9,2164.3 514.1,2159.4 493.3,2154.5 472.5,2152.4 451.7,2150.2 430.9,2147.7 410.1,2144.9 389.3,2142.1 368.5,2139.7 347.7,2144.2 326.9,2148.5 306.1,2152.8 285.3,2156.9 264.5,2161.2 243.7,2168.5 222.9,2174.9 202.1,2190.5 181.3,2206.1"/><polygon fill="#ffd400" points="181.3,2194.1 202.1,2151.0 222.9,2088.2 243.7,2051.7 264.5,2005.7 285.3,1983.5 306.1,1962.3 326.9,1939.8 347.7,1916.0 368.5,1890.3 389.3,1892.1 410.1,1896.1 430.9,1900.1 451.7,1905.4 472.5,1913.7 493.3,1921.8 514.1,1938.6 534.9,1955.5 555.7,1976.2 576.5,2001.9 597.3,2019.3 618.1,2027.2 638.9,2034.8 659.7,2045.8 680.5,2058.5 701.3,2070.4 722.1,2078.9 742.9,2086.8 763.7,2094.2 784.5,2098.1 805.3,2099.8 826.1,2101.5 846.9,2103.2 867.7,2102.3 888.5,2100.9 909.3,2099.4 930.1,2097.9 950.9,2094.5 971.7,2089.2 992.5,2083.7 1013.3,2077.9 1034.1,2069.5 1054.9,2059.4 1075.7,2048.7 1096.5,2038.5 1117.3,2027.7 1138.1,2016.3 1158.9,1989.8 1179.7,1958.0 1200.5,1939.3 1221.3,1931.0 1242.1,1922.5 1262.9,1917.7 1283.7,1915.6 1304.5,1915.8 1325.3,1918.3 1346.1,1943.4 1366.9,1966.5 1387.7,1987.7 1408.5,2001.2 1429.3,2012.5 1450.1,2023.5 1450.1,2185.7 1429.3,2181.8 1408.5,2177.7 1387.7,2173.9 1366.9,2172.7 1346.1,2171.4 1325.3,2170.1 1304.5,2157.7 1283.7,2147.6 1262.9,2141.4 1242.1,2138.2 1221.3,2139.8 1200.5,2141.5 1179.7,2146.6 1158.9,2156.0 1138.1,2164.0 1117.3,2168.4 1096.5,2172.5 1075.7,2176.3 1054.9,2179.7 1034.1,2182.8 1013.3,2185.0 992.5,2185.2 971.7,2185.5 950.9,2185.7 930.1,2185.9 909.3,2186.0 888.5,2186.1 867.7,2186.1 846.9,2186.2 826.1,2186.3 805.3,2186.4 784.5,2186.5 763.7,2186.9 742.9,2187.8 722.1,2188.6 701.3,2189.2 680.5,2187.5 659.7,2185.7 638.9,2183.5 618.1,2180.7 597.3,2177.8 576.5,2173.4 555.7,2167.9 534.9,2162.7 514.1,2157.8 493.3,2152.9 472.5,2150.7 451.7,2148.4 430.9,2145.8 410.1,2142.9 389.3,2140.0 368.5,2137.6 347.7,2142.2 326.9,2146.6 306.1,2150.9 285.3,2155.1 264.5,2159.4 243.7,2167.0 222.9,2173.7 202.1,2189.9 181.3,2205.8"/><polygon fill="#ffcd00" points="181.3,2194.3 202.1,2152.4 222.9,2091.5 243.7,2055.2 264.5,2009.2 285.3,1987.6 306.1,1967.0 326.9,1945.8 347.7,1924.0 368.5,1900.4 389.3,1902.7 410.1,1907.0 430.9,1911.2 451.7,1916.3 472.5,1923.8 493.3,1931.0 514.1,1946.7 534.9,1962.5 555.7,1981.8 576.5,2005.7 597.3,2022.4 618.1,2030.7 638.9,2038.6 659.7,2049.7 680.5,2062.2 701.3,2073.8 722.1,2082.1 742.9,2089.7 763.7,2096.9 784.5,2100.7 805.3,2102.3 826.1,2103.9 846.9,2105.5 867.7,2104.7 888.5,2103.3 909.3,2101.8 930.1,2100.4 950.9,2097.2 971.7,2092.1 992.5,2086.8 1013.3,2081.2 1034.1,2073.0 1054.9,2063.1 1075.7,2052.6 1096.5,2042.6 1117.3,2032.0 1138.1,2020.8 1158.9,1995.7 1179.7,1965.9 1200.5,1948.0 1221.3,1939.7 1242.1,1931.2 1262.9,1926.3 1283.7,1924.0 1304.5,1923.7 1325.3,1925.5 1346.1,1949.9 1366.9,1972.4 1387.7,1993.0 1408.5,2006.3 1429.3,2017.4 1450.1,2028.1 1450.1,2184.6 1429.3,2180.6 1408.5,2176.4 1387.7,2172.6 1366.9,2171.1 1346.1,2169.7 1325.3,2168.2 1304.5,2155.7 1283.7,2145.6 1262.9,2139.2 1242.1,2136.0 1221.3,2137.8 1200.5,2139.6 1179.7,2144.9 1158.9,2154.5 1138.1,2162.7 1117.3,2167.1 1096.5,2171.2 1075.7,2175.0 1054.9,2178.6 1034.1,2181.9 1013.3,2184.1 992.5,2184.4 971.7,2184.6 950.9,2184.9 930.1,2185.1 909.3,2185.2 888.5,2185.2 867.7,2185.3 846.9,2185.4 826.1,2185.6 805.3,2185.7 784.5,2185.8 763.7,2186.2 742.9,2187.0 722.1,2187.8 701.3,2188.2 680.5,2186.4 659.7,2184.5 638.9,2182.2 618.1,2179.3 597.3,2176.3 576.5,2171.9 555.7,2166.3 534.9,2161.2 514.1,2156.2 493.3,2151.2 472.5,2148.9 451.7,2146.5 430.9,2143.8 410.1,2141.0 389.3,2138.0 368.5,2135.5 347.7,2140.2 326.9,2144.7 306.1,2149.1 285.3,2153.3 264.5,2157.6 243.7,2165.5 222.9,2172.4 202.1,2189.2 181.3,2205.6"/><polygon fill="#ffc600" points="181.3,2194.5 202.1,2153.8 222.9,2094.6 243.7,2058.5 264.5,2012.6 285.3,1991.4 306.1,1971.5 326.9,1951.4 347.7,1931.5 368.5,1910.0 389.3,1912.7 410.1,1917.1 430.9,1921.5 451.7,1926.6 472.5,1933.2 493.3,1939.7 514.1,1954.3 534.9,1969.0 555.7,1987.0 576.5,2009.4 597.3,2025.3 618.1,2034.0 638.9,2042.3 659.7,2053.3 680.5,2065.7 701.3,2077.1 722.1,2085.1 742.9,2092.5 763.7,2099.4 784.5,2103.0 805.3,2104.6 826.1,2106.1 846.9,2107.7 867.7,2106.9 888.5,2105.5 909.3,2104.2 930.1,2102.8 950.9,2099.7 971.7,2094.8 992.5,2089.7 1013.3,2084.4 1034.1,2076.4 1054.9,2066.7 1075.7,2056.4 1096.5,2046.6 1117.3,2036.1 1138.1,2025.1 1158.9,2001.4 1179.7,1973.3 1200.5,1956.2 1221.3,1948.0 1242.1,1939.5 1262.9,1934.5 1283.7,1931.9 1304.5,1931.2 1325.3,1932.3 1346.1,1956.1 1366.9,1978.0 1387.7,1998.1 1408.5,2011.1 1429.3,2022.0 1450.1,2032.6 1450.1,2183.5 1429.3,2179.4 1408.5,2175.2 1387.7,2171.2 1366.9,2169.6 1346.1,2168.0 1325.3,2166.4 1304.5,2153.8 1283.7,2143.5 1262.9,2137.1 1242.1,2133.8 1221.3,2135.8 1200.5,2137.7 1179.7,2143.2 1158.9,2153.1 1138.1,2161.5 1117.3,2165.9 1096.5,2170.0 1075.7,2173.8 1054.9,2177.5 1034.1,2180.9 1013.3,2183.3 992.5,2183.5 971.7,2183.8 950.9,2184.1 930.1,2184.2 909.3,2184.3 888.5,2184.4 867.7,2184.5 846.9,2184.6 826.1,2184.8 805.3,2184.9 784.5,2185.1 763.7,2185.5 742.9,2186.2 722.1,2186.9 701.3,2187.3 680.5,2185.4 659.7,2183.3 638.9,2180.9 618.1,2177.9 597.3,2174.8 576.5,2170.4 555.7,2164.8 534.9,2159.6 514.1,2154.7 493.3,2149.6 472.5,2147.2 451.7,2144.7 430.9,2141.9 410.1,2139.0 389.3,2136.0 368.5,2133.5 347.7,2138.3 326.9,2142.9 306.1,2147.2 285.3,2151.4 264.5,2155.8 243.7,2164.0 222.9,2171.2 202.1,2188.7 181.3,2205.4"/><polygon fill="#ffbf00" points="181.3,2194.7 202.1,2155.1 222.9,2097.6 243.7,2061.7 264.5,2015.8 285.3,1995.1 306.1,1975.8 326.9,1956.8 347.7,1938.6 368.5,1919.1 389.3,1922.1 410.1,1926.7 430.9,1931.3 451.7,1936.3 472.5,1942.2 493.3,1947.9 514.1,1961.5 534.9,1975.2 555.7,1992.0 576.5,2012.9 597.3,2028.2 618.1,2037.2 638.9,2045.7 659.7,2056.8 680.5,2068.9 701.3,2080.2 722.1,2088.0 742.9,2095.1 763.7,2101.8 784.5,2105.3 805.3,2106.8 826.1,2108.3 846.9,2109.7 867.7,2109.0 888.5,2107.7 909.3,2106.4 930.1,2105.1 950.9,2102.1 971.7,2097.4 992.5,2092.5 1013.3,2087.4 1034.1,2079.5 1054.9,2070.1 1075.7,2060.0 1096.5,2050.3 1117.3,2040.1 1138.1,2029.2 1158.9,2006.7 1179.7,1980.3 1200.5,1964.0 1221.3,1955.8 1242.1,1947.3 1262.9,1942.2 1283.7,1939.4 1304.5,1938.3 1325.3,1938.8 1346.1,1962.0 1366.9,1983.3 1387.7,2002.9 1408.5,2015.6 1429.3,2026.3 1450.1,2036.8 1450.1,2182.4 1429.3,2178.3 1408.5,2173.9 1387.7,2169.8 1366.9,2168.1 1346.1,2166.3 1325.3,2164.5 1304.5,2151.9 1283.7,2141.5 1262.9,2135.0 1242.1,2131.6 1221.3,2133.7 1200.5,2135.8 1179.7,2141.5 1158.9,2151.7 1138.1,2160.3 1117.3,2164.7 1096.5,2168.7 1075.7,2172.5 1054.9,2176.4 1034.1,2180.0 1013.3,2182.4 992.5,2182.7 971.7,2183.0 950.9,2183.2 930.1,2183.4 909.3,2183.5 888.5,2183.6 867.7,2183.7 846.9,2183.8 826.1,2184.0 805.3,2184.2 784.5,2184.4 763.7,2184.7 742.9,2185.4 722.1,2186.1 701.3,2186.4 680.5,2184.3 659.7,2182.1 638.9,2179.5 618.1,2176.5 597.3,2173.3 576.5,2168.9 555.7,2163.3 534.9,2158.1 514.1,2153.1 493.3,2148.0 472.5,2145.5 451.7,2142.9 430.9,2140.1 410.1,2137.1 389.3,2134.0 368.5,2131.4 347.7,2136.4 326.9,2141.0 306.1,2145.4 285.3,2149.6 264.5,2154.0 243.7,2162.5 222.9,2170.0 202.1,2188.1 181.3,2205.1"/><polygon fill="#ffb800" points="181.3,2195.0 202.1,2156.4 222.9,2100.5 243.7,2064.7 264.5,2018.8 285.3,1998.6 306.1,1979.9 326.9,1961.9 347.7,1945.3 368.5,1927.6 389.3,1930.9 410.1,1935.8 430.9,1940.5 451.7,1945.4 472.5,1950.6 493.3,1955.7 514.1,1968.3 534.9,1981.2 555.7,1996.8 576.5,2016.2 597.3,2030.9 618.1,2040.2 638.9,2049.0 659.7,2060.1 680.5,2072.1 701.3,2083.2 722.1,2090.8 742.9,2097.6 763.7,2104.2 784.5,2107.5 805.3,2109.0 826.1,2110.4 846.9,2111.7 867.7,2111.0 888.5,2109.8 909.3,2108.6 930.1,2107.3 950.9,2104.5 971.7,2099.9 992.5,2095.2 1013.3,2090.3 1034.1,2082.6 1054.9,2073.3 1075.7,2063.4 1096.5,2053.9 1117.3,2043.8 1138.1,2033.2 1158.9,2011.8 1179.7,1986.9 1200.5,1971.3 1221.3,1963.1 1242.1,1954.7 1262.9,1949.5 1283.7,1946.5 1304.5,1945.0 1325.3,1945.0 1346.1,1967.6 1366.9,1988.4 1387.7,2007.5 1408.5,2020.0 1429.3,2030.5 1450.1,2040.8 1450.1,2181.3 1429.3,2177.1 1408.5,2172.7 1387.7,2168.5 1366.9,2166.6 1346.1,2164.6 1325.3,2162.6 1304.5,2150.0 1283.7,2139.5 1262.9,2132.8 1242.1,2129.5 1221.3,2131.7 1200.5,2133.9 1179.7,2139.8 1158.9,2150.3 1138.1,2159.1 1117.3,2163.4 1096.5,2167.5 1075.7,2171.3 1054.9,2175.3 1034.1,2179.1 1013.3,2181.6 992.5,2181.9 971.7,2182.1 950.9,2182.4 930.1,2182.6 909.3,2182.7 888.5,2182.8 867.7,2182.9 846.9,2183.1 826.1,2183.2 805.3,2183.4 784.5,2183.6 763.7,2184.0 742.9,2184.6 722.1,2185.2 701.3,2185.5 680.5,2183.3 659.7,2180.9 638.9,2178.2 618.1,2175.1 597.3,2171.8 576.5,2167.3 555.7,2161.8 534.9,2156.5 514.1,2151.5 493.3,2146.4 472.5,2143.8 451.7,2141.1 430.9,2138.2 410.1,2135.2 389.3,2132.0 368.5,2129.4 347.7,2134.4 326.9,2139.2 306.1,2143.6 285.3,2147.8 264.5,2152.2 243.7,2161.0 222.9,2168.8 202.1,2187.5 181.3,2204.9"/><polygon fill="#ffb100" points="181.3,2195.2 202.1,2157.4 222.9,2102.8 243.7,2068.2 264.5,2023.9 285.3,2004.1 306.1,1985.5 326.9,1968.0 347.7,1952.1 368.5,1935.1 389.3,1938.3 410.1,1942.9 430.9,1947.5 451.7,1952.2 472.5,1957.5 493.3,1962.7 514.1,1975.2 534.9,1987.9 555.7,2003.3 576.5,2022.2 597.3,2036.5 618.1,2045.7 638.9,2054.5 659.7,2065.2 680.5,2076.6 701.3,2087.2 722.1,2094.4 742.9,2100.9 763.7,2107.1 784.5,2110.3 805.3,2111.6 826.1,2113.0 846.9,2114.3 867.7,2113.6 888.5,2112.4 909.3,2111.2 930.1,2109.9 950.9,2107.1 971.7,2102.7 992.5,2098.2 1013.3,2093.4 1034.1,2085.9 1054.9,2076.7 1075.7,2066.9 1096.5,2057.6 1117.3,2047.8 1138.1,2037.3 1158.9,2016.7 1179.7,1992.7 1200.5,1977.7 1221.3,1969.9 1242.1,1961.9 1262.9,1957.1 1283.7,1954.6 1304.5,1953.3 1325.3,1953.3 1346.1,1975.2 1366.9,1995.4 1387.7,2013.9 1408.5,2026.4 1429.3,2037.1 1450.1,2047.3 1450.1,2180.1 1429.3,2175.8 1408.5,2171.2 1387.7,2166.8 1366.9,2164.7 1346.1,2162.5 1325.3,2160.3 1304.5,2147.8 1283.7,2137.6 1262.9,2131.0 1242.1,2127.7 1221.3,2129.9 1200.5,2132.1 1179.7,2138.0 1158.9,2148.6 1138.1,2157.4 1117.3,2161.8 1096.5,2166.0 1075.7,2169.9 1054.9,2174.0 1034.1,2177.8 1013.3,2180.4 992.5,2180.8 971.7,2181.1 950.9,2181.4 930.1,2181.6 909.3,2181.7 888.5,2181.9 867.7,2182.0 846.9,2182.2 826.1,2182.3 805.3,2182.5 784.5,2182.7 763.7,2183.0 742.9,2183.6 722.1,2184.1 701.3,2184.4 680.5,2182.1 659.7,2179.7 638.9,2176.9 618.1,2173.7 597.3,2170.3 576.5,2165.7 555.7,2160.0 534.9,2154.6 514.1,2149.4 493.3,2144.2 472.5,2141.5 451.7,2138.7 430.9,2135.8 410.1,2132.7 389.3,2129.6 368.5,2127.0 347.7,2132.1 326.9,2136.9 306.1,2141.5 285.3,2146.0 264.5,2150.6 243.7,2159.8 222.9,2167.9 202.1,2187.0 181.3,2204.7"/><polygon fill="#ffaa00" points="181.3,2195.4 202.1,2158.3 222.9,2105.0 243.7,2071.5 264.5,2028.8 285.3,2009.3 306.1,1990.9 326.9,1973.8 347.7,1958.5 368.5,1942.3 389.3,1945.3 410.1,1949.8 430.9,1954.1 451.7,1958.8 472.5,1964.1 493.3,1969.3 514.1,1981.7 534.9,1994.4 555.7,2009.5 576.5,2027.8 597.3,2041.9 618.1,2051.0 638.9,2059.7 659.7,2069.9 680.5,2080.9 701.3,2091.0 722.1,2097.8 742.9,2104.0 763.7,2109.9 784.5,2112.9 805.3,2114.2 826.1,2115.5 846.9,2116.7 867.7,2116.0 888.5,2114.8 909.3,2113.6 930.1,2112.4 950.9,2109.7 971.7,2105.5 992.5,2101.0 1013.3,2096.5 1034.1,2089.0 1054.9,2080.0 1075.7,2070.3 1096.5,2061.2 1117.3,2051.5 1138.1,2041.3 1158.9,2021.4 1179.7,1998.2 1200.5,1983.8 1221.3,1976.4 1242.1,1968.8 1262.9,1964.4 1283.7,1962.3 1304.5,1961.2 1325.3,1961.1 1346.1,1982.4 1366.9,2002.0 1387.7,2020.0 1408.5,2032.5 1429.3,2043.2 1450.1,2053.5 1450.1,2178.8 1429.3,2174.5 1408.5,2169.6 1387.7,2165.0 1366.9,2162.8 1346.1,2160.4 1325.3,2158.0 1304.5,2145.7 1283.7,2135.7 1262.9,2129.1 1242.1,2125.9 1221.3,2128.1 1200.5,2130.3 1179.7,2136.3 1158.9,2146.8 1138.1,2155.7 1117.3,2160.2 1096.5,2164.5 1075.7,2168.4 1054.9,2172.7 1034.1,2176.6 1013.3,2179.3 992.5,2179.7 971.7,2180.0 950.9,2180.4 930.1,2180.6 909.3,2180.8 888.5,2181.0 867.7,2181.1 846.9,2181.3 826.1,2181.4 805.3,2181.6 784.5,2181.8 763.7,2182.1 742.9,2182.6 722.1,2183.1 701.3,2183.3 680.5,2180.9 659.7,2178.5 638.9,2175.7 618.1,2172.3 597.3,2168.8 576.5,2164.1 555.7,2158.2 534.9,2152.7 514.1,2147.3 493.3,2141.9 472.5,2139.1 451.7,2136.2 430.9,2133.3 410.1,2130.3 389.3,2127.2 368.5,2124.7 347.7,2129.8 326.9,2134.6 306.1,2139.5 285.3,2144.2 264.5,2149.1 243.7,2158.7 222.9,2167.0 202.1,2186.5 181.3,2204.5"/><polygon fill="#ffa300" points="181.3,2195.6 202.1,2159.2 222.9,2107.2 243.7,2074.7 264.5,2033.5 285.3,2014.3 306.1,1996.1 326.9,1979.4 347.7,1964.7 368.5,1949.1 389.3,1952.0 410.1,1956.3 430.9,1960.5 451.7,1965.0 472.5,1970.4 493.3,1975.6 514.1,1988.0 534.9,2000.5 555.7,2015.3 576.5,2033.2 597.3,2046.9 618.1,2056.0 638.9,2064.6 659.7,2074.5 680.5,2084.9 701.3,2094.6 722.1,2101.1 742.9,2107.0 763.7,2112.5 784.5,2115.4 805.3,2116.7 826.1,2117.9 846.9,2119.1 867.7,2118.4 888.5,2117.2 909.3,2116.0 930.1,2114.8 950.9,2112.2 971.7,2108.1 992.5,2103.8 1013.3,2099.4 1034.1,2092.1 1054.9,2083.1 1075.7,2073.5 1096.5,2064.6 1117.3,2055.1 1138.1,2045.1 1158.9,2025.9 1179.7,2003.4 1200.5,1989.6 1221.3,1982.6 1242.1,1975.3 1262.9,1971.4 1283.7,1969.7 1304.5,1968.7 1325.3,1968.6 1346.1,1989.3 1366.9,2008.2 1387.7,2025.7 1408.5,2038.2 1429.3,2049.1 1450.1,2059.3 1450.1,2177.6 1429.3,2173.1 1408.5,2168.1 1387.7,2163.3 1366.9,2160.8 1346.1,2158.3 1325.3,2155.6 1304.5,2143.6 1283.7,2133.7 1262.9,2127.2 1242.1,2124.1 1221.3,2126.3 1200.5,2128.6 1179.7,2134.5 1158.9,2145.1 1138.1,2154.0 1117.3,2158.6 1096.5,2162.9 1075.7,2167.0 1054.9,2171.3 1034.1,2175.4 1013.3,2178.1 992.5,2178.6 971.7,2179.0 950.9,2179.4 930.1,2179.7 909.3,2179.8 888.5,2180.0 867.7,2180.2 846.9,2180.4 826.1,2180.5 805.3,2180.7 784.5,2180.8 763.7,2181.1 742.9,2181.6 722.1,2182.0 701.3,2182.2 680.5,2179.8 659.7,2177.3 638.9,2174.4 618.1,2170.9 597.3,2167.3 576.5,2162.4 555.7,2156.4 534.9,2150.7 514.1,2145.2 493.3,2139.7 472.5,2136.8 451.7,2133.8 430.9,2130.9 410.1,2127.9 389.3,2124.8 368.5,2122.3 347.7,2127.5 326.9,2132.4 306.1,2137.4 285.3,2142.4 264.5,2147.6 243.7,2157.5 222.9,2166.1 202.1,2186.1 181.3,2204.3"/><polygon fill="#ff9c00" points="181.3,2195.9 202.1,2160.0 222.9,2109.2 243.7,2077.8 264.5,2037.9 285.3,2019.0 306.1,2001.0 326.9,1984.7 347.7,1970.6 368.5,1955.7 389.3,1958.4 410.1,1962.5 430.9,1966.6 451.7,1971.0 472.5,1976.4 493.3,1981.6 514.1,1994.0 534.9,2006.4 555.7,2020.9 576.5,2038.3 597.3,2051.7 618.1,2060.7 638.9,2069.2 659.7,2078.8 680.5,2088.8 701.3,2098.1 722.1,2104.2 742.9,2109.8 763.7,2115.1 784.5,2117.9 805.3,2119.0 826.1,2120.2 846.9,2121.3 867.7,2120.6 888.5,2119.5 909.3,2118.3 930.1,2117.1 950.9,2114.6 971.7,2110.6 992.5,2106.4 1013.3,2102.1 1034.1,2094.9 1054.9,2086.1 1075.7,2076.6 1096.5,2067.8 1117.3,2058.6 1138.1,2048.8 1158.9,2030.1 1179.7,2008.5 1200.5,1995.2 1221.3,1988.5 1242.1,1981.6 1262.9,1978.0 1283.7,1976.7 1304.5,1975.9 1325.3,1975.7 1346.1,1995.8 1366.9,2014.2 1387.7,2031.2 1408.5,2043.7 1429.3,2054.7 1450.1,2064.8 1450.1,2176.4 1429.3,2171.7 1408.5,2166.6 1387.7,2161.6 1366.9,2158.9 1346.1,2156.1 1325.3,2153.2 1304.5,2141.4 1283.7,2131.8 1262.9,2125.4 1242.1,2122.3 1221.3,2124.5 1200.5,2126.8 1179.7,2132.7 1158.9,2143.3 1138.1,2152.3 1117.3,2157.0 1096.5,2161.4 1075.7,2165.5 1054.9,2170.0 1034.1,2174.1 1013.3,2177.0 992.5,2177.4 971.7,2177.9 950.9,2178.4 930.1,2178.7 909.3,2178.9 888.5,2179.1 867.7,2179.3 846.9,2179.5 826.1,2179.6 805.3,2179.8 784.5,2179.9 763.7,2180.2 742.9,2180.5 722.1,2180.9 701.3,2181.0 680.5,2178.6 659.7,2176.0 638.9,2173.1 618.1,2169.5 597.3,2165.8 576.5,2160.8 555.7,2154.6 534.9,2148.8 514.1,2143.1 493.3,2137.4 472.5,2134.4 451.7,2131.4 430.9,2128.4 410.1,2125.5 389.3,2122.4 368.5,2119.9 347.7,2125.1 326.9,2130.1 306.1,2135.3 285.3,2140.6 264.5,2146.1 243.7,2156.3 222.9,2165.2 202.1,2185.6 181.3,2204.1"/><polygon fill="#ff9500" points="181.3,2196.1 202.1,2160.8 222.9,2111.2 243.7,2080.8 264.5,2042.2 285.3,2023.6 306.1,2005.8 326.9,1989.8 347.7,1976.3 368.5,1961.9 389.3,1964.6 410.1,1968.5 430.9,1972.4 451.7,1976.8 472.5,1982.1 493.3,1987.4 514.1,1999.7 534.9,2012.0 555.7,2026.3 576.5,2043.2 597.3,2056.4 618.1,2065.2 638.9,2073.7 659.7,2083.0 680.5,2092.5 701.3,2101.4 722.1,2107.2 742.9,2112.5 763.7,2117.6 784.5,2120.2 805.3,2121.3 826.1,2122.4 846.9,2123.5 867.7,2122.8 888.5,2121.6 909.3,2120.5 930.1,2119.3 950.9,2116.8 971.7,2113.0 992.5,2109.0 1013.3,2104.8 1034.1,2097.7 1054.9,2088.9 1075.7,2079.5 1096.5,2071.0 1117.3,2061.9 1138.1,2052.3 1158.9,2034.3 1179.7,2013.3 1200.5,2000.6 1221.3,1994.2 1242.1,1987.6 1262.9,1984.3 1283.7,1983.3 1304.5,1982.7 1325.3,1982.5 1346.1,2002.0 1366.9,2019.9 1387.7,2036.4 1408.5,2048.9 1429.3,2060.0 1450.1,2070.0 1450.1,2175.2 1429.3,2170.4 1408.5,2165.0 1387.7,2159.8 1366.9,2156.9 1346.1,2153.9 1325.3,2150.8 1304.5,2139.2 1283.7,2129.8 1262.9,2123.5 1242.1,2120.5 1221.3,2122.8 1200.5,2125.0 1179.7,2130.9 1158.9,2141.6 1138.1,2150.6 1117.3,2155.4 1096.5,2159.8 1075.7,2164.0 1054.9,2168.6 1034.1,2172.9 1013.3,2175.8 992.5,2176.3 971.7,2176.8 950.9,2177.4 930.1,2177.7 909.3,2178.0 888.5,2178.2 867.7,2178.4 846.9,2178.6 826.1,2178.7 805.3,2178.9 784.5,2179.0 763.7,2179.2 742.9,2179.5 722.1,2179.9 701.3,2179.9 680.5,2177.4 659.7,2174.8 638.9,2171.8 618.1,2168.1 597.3,2164.2 576.5,2159.1 555.7,2152.8 534.9,2146.8 514.1,2141.0 493.3,2135.1 472.5,2132.0 451.7,2128.9 430.9,2125.9 410.1,2123.0 389.3,2120.0 368.5,2117.5 347.7,2122.8 326.9,2127.8 306.1,2133.1 285.3,2138.8 264.5,2144.5 243.7,2155.1 222.9,2164.3 202.1,2185.1 181.3,2203.9"/><polygon fill="#ff8e00" points="181.3,2196.3 202.1,2161.6 222.9,2113.2 243.7,2083.6 264.5,2046.3 285.3,2028.0 306.1,2010.4 326.9,1994.7 347.7,1981.7 368.5,1967.9 389.3,1970.5 410.1,1974.3 430.9,1978.0 451.7,1982.3 472.5,1987.7 493.3,1993.0 514.1,2005.1 534.9,2017.4 555.7,2031.4 576.5,2047.9 597.3,2060.8 618.1,2069.6 638.9,2077.9 659.7,2086.9 680.5,2096.0 701.3,2104.6 722.1,2110.1 742.9,2115.1 763.7,2119.9 784.5,2122.4 805.3,2123.5 826.1,2124.5 846.9,2125.5 867.7,2124.9 888.5,2123.7 909.3,2122.6 930.1,2121.4 950.9,2119.0 971.7,2115.3 992.5,2111.4 1013.3,2107.4 1034.1,2100.4 1054.9,2091.7 1075.7,2082.4 1096.5,2074.0 1117.3,2065.1 1138.1,2055.7 1158.9,2038.2 1179.7,2018.0 1200.5,2005.7 1221.3,1999.6 1242.1,1993.3 1262.9,1990.4 1283.7,1989.7 1304.5,1989.3 1325.3,1989.0 1346.1,2008.0 1366.9,2025.4 1387.7,2041.4 1408.5,2053.9 1429.3,2065.0 1450.1,2075.0 1450.1,2173.9 1429.3,2169.0 1408.5,2163.5 1387.7,2158.1 1366.9,2154.9 1346.1,2151.7 1325.3,2148.3 1304.5,2137.0 1283.7,2127.9 1262.9,2121.7 1242.1,2118.7 1221.3,2121.0 1200.5,2123.2 1179.7,2129.1 1158.9,2139.8 1138.1,2148.9 1117.3,2153.8 1096.5,2158.3 1075.7,2162.5 1054.9,2167.2 1034.1,2171.6 1013.3,2174.6 992.5,2175.2 971.7,2175.8 950.9,2176.3 930.1,2176.8 909.3,2177.0 888.5,2177.3 867.7,2177.5 846.9,2177.7 826.1,2177.8 805.3,2177.9 784.5,2178.1 763.7,2178.2 742.9,2178.5 722.1,2178.8 701.3,2178.8 680.5,2176.2 659.7,2173.6 638.9,2170.5 618.1,2166.7 597.3,2162.7 576.5,2157.4 555.7,2150.9 534.9,2144.8 514.1,2138.8 493.3,2132.8 472.5,2129.6 451.7,2126.4 430.9,2123.5 410.1,2120.5 389.3,2117.6 368.5,2115.1 347.7,2120.4 326.9,2125.5 306.1,2131.0 285.3,2136.9 264.5,2143.0 243.7,2153.9 222.9,2163.4 202.1,2184.7 181.3,2203.8"/><polygon fill="#ff8700" points="181.3,2196.5 202.1,2162.4 222.9,2115.0 243.7,2086.3 264.5,2050.2 285.3,2032.2 306.1,2014.8 326.9,1999.5 347.7,1986.9 368.5,1973.7 389.3,1976.2 410.1,1979.9 430.9,1983.4 451.7,1987.6 472.5,1993.0 493.3,1998.3 514.1,2010.4 534.9,2022.5 555.7,2036.3 576.5,2052.4 597.3,2065.0 618.1,2073.7 638.9,2082.0 659.7,2090.7 680.5,2099.4 701.3,2107.6 722.1,2112.9 742.9,2117.6 763.7,2122.2 784.5,2124.6 805.3,2125.6 826.1,2126.6 846.9,2127.5 867.7,2126.9 888.5,2125.7 909.3,2124.6 930.1,2123.5 950.9,2121.1 971.7,2117.5 992.5,2113.7 1013.3,2109.8 1034.1,2103.0 1054.9,2094.4 1075.7,2085.2 1096.5,2076.9 1117.3,2068.2 1138.1,2059.0 1158.9,2042.0 1179.7,2022.4 1200.5,2010.6 1221.3,2004.8 1242.1,1998.9 1262.9,1996.2 1283.7,1995.8 1304.5,1995.5 1325.3,1995.2 1346.1,2013.7 1366.9,2030.6 1387.7,2046.2 1408.5,2058.7 1429.3,2069.8 1450.1,2079.8 1450.1,2172.7 1429.3,2167.6 1408.5,2161.9 1387.7,2156.3 1366.9,2152.9 1346.1,2149.4 1325.3,2145.8 1304.5,2134.8 1283.7,2125.9 1262.9,2119.8 1242.1,2116.9 1221.3,2119.2 1200.5,2121.4 1179.7,2127.4 1158.9,2138.1 1138.1,2147.2 1117.3,2152.1 1096.5,2156.7 1075.7,2161.0 1054.9,2165.8 1034.1,2170.3 1013.3,2173.4 992.5,2174.1 971.7,2174.7 950.9,2175.3 930.1,2175.8 909.3,2176.1 888.5,2176.3 867.7,2176.6 846.9,2176.8 826.1,2176.9 805.3,2177.0 784.5,2177.1 763.7,2177.3 742.9,2177.5 722.1,2177.7 701.3,2177.6 680.5,2175.0 659.7,2172.3 638.9,2169.1 618.1,2165.3 597.3,2161.1 576.5,2155.7 555.7,2149.1 534.9,2142.8 514.1,2136.6 493.3,2130.4 472.5,2127.2 451.7,2123.9 430.9,2120.9 410.1,2118.1 389.3,2115.1 368.5,2112.7 347.7,2118.0 326.9,2123.1 306.1,2128.9 285.3,2135.1 264.5,2141.5 243.7,2152.8 222.9,2162.5 202.1,2184.2 181.3,2203.6"/><polygon fill="#ff8000" points="181.3,2196.7 202.1,2163.2 222.9,2116.8 243.7,2089.0 264.5,2054.0 285.3,2036.3 306.1,2019.0 326.9,2004.0 347.7,1992.0 368.5,1979.3 389.3,1981.7 410.1,1985.2 430.9,1988.7 451.7,1992.7 472.5,1998.1 493.3,2003.4 514.1,2015.4 534.9,2027.5 555.7,2041.0 576.5,2056.7 597.3,2069.1 618.1,2077.7 638.9,2085.9 659.7,2094.3 680.5,2102.7 701.3,2110.5 722.1,2115.5 742.9,2120.0 763.7,2124.4 784.5,2126.6 805.3,2127.6 826.1,2128.5 846.9,2129.5 867.7,2128.8 888.5,2127.7 909.3,2126.6 930.1,2125.5 950.9,2123.2 971.7,2119.6 992.5,2116.0 1013.3,2112.2 1034.1,2105.4 1054.9,2096.9 1075.7,2087.8 1096.5,2079.8 1117.3,2071.2 1138.1,2062.2 1158.9,2045.7 1179.7,2026.8 1200.5,2015.4 1221.3,2009.8 1242.1,2004.2 1262.9,2001.8 1283.7,2001.7 1304.5,2001.5 1325.3,2001.2 1346.1,2019.1 1366.9,2035.7 1387.7,2050.9 1408.5,2063.3 1429.3,2074.4 1450.1,2084.3 1450.1,2171.4 1429.3,2166.2 1408.5,2160.3 1387.7,2154.5 1366.9,2150.9 1346.1,2147.2 1325.3,2143.2 1304.5,2132.6 1283.7,2123.9 1262.9,2118.0 1242.1,2115.1 1221.3,2117.4 1200.5,2119.6 1179.7,2125.6 1158.9,2136.3 1138.1,2145.5 1117.3,2150.5 1096.5,2155.1 1075.7,2159.5 1054.9,2164.5 1034.1,2169.0 1013.3,2172.2 992.5,2172.9 971.7,2173.6 950.9,2174.3 930.1,2174.8 909.3,2175.1 888.5,2175.4 867.7,2175.7 846.9,2175.9 826.1,2176.0 805.3,2176.1 784.5,2176.2 763.7,2176.3 742.9,2176.4 722.1,2176.6 701.3,2176.4 680.5,2173.8 659.7,2171.0 638.9,2167.8 618.1,2163.8 597.3,2159.6 576.5,2154.0 555.7,2147.2 534.9,2140.8 514.1,2134.5 493.3,2128.0 472.5,2124.8 451.7,2121.4 430.9,2118.4 410.1,2115.6 389.3,2112.6 368.5,2110.2 347.7,2115.6 326.9,2120.8 306.1,2126.7 285.3,2133.3 264.5,2140.0 243.7,2151.6 222.9,2161.6 202.1,2183.8 181.3,2203.4"/><polygon fill="#ff7800" points="181.3,2196.9 202.1,2163.9 222.9,2118.6 243.7,2091.6 264.5,2057.7 285.3,2040.2 306.1,2023.2 326.9,2008.5 347.7,1996.9 368.5,1984.7 389.3,1987.0 410.1,1990.3 430.9,1993.7 451.7,1997.6 472.5,2003.1 493.3,2008.4 514.1,2020.3 534.9,2032.3 555.7,2045.6 576.5,2060.9 597.3,2073.0 618.1,2081.5 638.9,2089.6 659.7,2097.8 680.5,2105.8 701.3,2113.3 722.1,2118.1 742.9,2122.4 763.7,2126.5 784.5,2128.6 805.3,2129.5 826.1,2130.4 846.9,2131.3 867.7,2130.7 888.5,2129.6 909.3,2128.5 930.1,2127.4 950.9,2125.2 971.7,2121.7 992.5,2118.2 1013.3,2114.5 1034.1,2107.8 1054.9,2099.4 1075.7,2090.4 1096.5,2082.5 1117.3,2074.1 1138.1,2065.3 1158.9,2049.3 1179.7,2030.9 1200.5,2020.0 1221.3,2014.7 1242.1,2009.3 1262.9,2007.2 1283.7,2007.3 1304.5,2007.3 1325.3,2006.9 1346.1,2024.4 1366.9,2040.5 1387.7,2055.3 1408.5,2067.7 1429.3,2078.8 1450.1,2088.6 1450.1,2170.1 1429.3,2164.8 1408.5,2158.7 1387.7,2152.6 1366.9,2148.8 1346.1,2144.8 1325.3,2140.6 1304.5,2130.4 1283.7,2122.0 1262.9,2116.1 1242.1,2113.3 1221.3,2115.6 1200.5,2117.8 1179.7,2123.8 1158.9,2134.5 1138.1,2143.7 1117.3,2148.8 1096.5,2153.5 1075.7,2158.0 1054.9,2163.1 1034.1,2167.7 1013.3,2171.0 992.5,2171.8 971.7,2172.5 950.9,2173.3 930.1,2173.8 909.3,2174.1 888.5,2174.5 867.7,2174.8 846.9,2175.0 826.1,2175.1 805.3,2175.2 784.5,2175.2 763.7,2175.3 742.9,2175.4 722.1,2175.5 701.3,2175.3 680.5,2172.6 659.7,2169.8 638.9,2166.5 618.1,2162.4 597.3,2158.0 576.5,2152.3 555.7,2145.3 534.9,2138.7 514.1,2132.2 493.3,2125.7 472.5,2122.3 451.7,2118.8 430.9,2115.8 410.1,2113.0 389.3,2110.1 368.5,2107.8 347.7,2113.2 326.9,2118.4 306.1,2124.6 285.3,2131.4 264.5,2138.4 243.7,2150.4 222.9,2160.7 202.1,2183.3 181.3,2203.2"/><polygon fill="#ff7100" points="181.3,2197.1 202.1,2164.7 222.9,2120.3 243.7,2094.0 264.5,2061.2 285.3,2044.0 306.1,2027.1 326.9,2012.7 347.7,2001.6 368.5,1989.8 389.3,1992.1 410.1,1995.3 430.9,1998.5 451.7,2002.4 472.5,2007.9 493.3,2013.2 514.1,2025.0 534.9,2036.8 555.7,2050.0 576.5,2064.9 597.3,2076.7 618.1,2085.2 638.9,2093.2 659.7,2101.1 680.5,2108.8 701.3,2116.0 722.1,2120.5 742.9,2124.6 763.7,2128.5 784.5,2130.6 805.3,2131.4 826.1,2132.3 846.9,2133.1 867.7,2132.5 888.5,2131.4 909.3,2130.3 930.1,2129.2 950.9,2127.1 971.7,2123.7 992.5,2120.3 1013.3,2116.7 1034.1,2110.2 1054.9,2101.8 1075.7,2092.9 1096.5,2085.2 1117.3,2076.9 1138.1,2068.2 1158.9,2052.7 1179.7,2035.0 1200.5,2024.4 1221.3,2019.4 1242.1,2014.2 1262.9,2012.4 1283.7,2012.8 1304.5,2012.8 1325.3,2012.5 1346.1,2029.5 1366.9,2045.1 1387.7,2059.5 1408.5,2071.9 1429.3,2083.1 1450.1,2092.8 1450.1,2168.8 1429.3,2163.4 1408.5,2157.1 1387.7,2150.8 1366.9,2146.7 1346.1,2142.5 1325.3,2138.0 1304.5,2128.1 1283.7,2120.0 1262.9,2114.2 1242.1,2111.5 1221.3,2113.8 1200.5,2116.0 1179.7,2122.0 1158.9,2132.7 1138.1,2142.0 1117.3,2147.1 1096.5,2151.9 1075.7,2156.5 1054.9,2161.6 1034.1,2166.4 1013.3,2169.8 992.5,2170.6 971.7,2171.5 950.9,2172.3 930.1,2172.8 909.3,2173.2 888.5,2173.5 867.7,2173.9 846.9,2174.1 826.1,2174.2 805.3,2174.2 784.5,2174.3 763.7,2174.3 742.9,2174.3 722.1,2174.3 701.3,2174.1 680.5,2171.4 659.7,2168.5 638.9,2165.1 618.1,2160.9 597.3,2156.4 576.5,2150.5 555.7,2143.4 534.9,2136.7 514.1,2130.0 493.3,2123.2 472.5,2119.8 451.7,2116.3 430.9,2113.3 410.1,2110.5 389.3,2107.6 368.5,2105.3 347.7,2110.8 326.9,2116.0 306.1,2122.4 285.3,2129.6 264.5,2136.9 243.7,2149.2 222.9,2159.8 202.1,2182.9 181.3,2203.0"/><polygon fill="#ff6a00" points="181.3,2197.3 202.1,2165.4 222.9,2122.0 243.7,2096.4 264.5,2064.7 285.3,2047.7 306.1,2031.0 326.9,2016.9 347.7,2006.1 368.5,1994.9 389.3,1997.0 410.1,2000.1 430.9,2003.2 451.7,2007.0 472.5,2012.5 493.3,2017.8 514.1,2029.5 534.9,2041.3 555.7,2054.2 576.5,2068.7 597.3,2080.3 618.1,2088.7 638.9,2096.7 659.7,2104.3 680.5,2111.7 701.3,2118.6 722.1,2122.9 742.9,2126.8 763.7,2130.5 784.5,2132.5 805.3,2133.3 826.1,2134.1 846.9,2134.9 867.7,2134.2 888.5,2133.2 909.3,2132.1 930.1,2131.0 950.9,2128.9 971.7,2125.7 992.5,2122.3 1013.3,2118.9 1034.1,2112.4 1054.9,2104.2 1075.7,2095.4 1096.5,2087.7 1117.3,2079.7 1138.1,2071.1 1158.9,2056.1 1179.7,2038.9 1200.5,2028.7 1221.3,2023.9 1242.1,2019.0 1262.9,2017.4 1283.7,2018.0 1304.5,2018.1 1325.3,2017.8 1346.1,2034.3 1366.9,2049.6 1387.7,2063.6 1408.5,2075.9 1429.3,2087.1 1450.1,2096.7 1450.1,2167.5 1429.3,2161.9 1408.5,2155.4 1387.7,2148.9 1366.9,2144.6 1346.1,2140.1 1325.3,2135.3 1304.5,2125.8 1283.7,2118.0 1262.9,2112.3 1242.1,2109.7 1221.3,2112.0 1200.5,2114.2 1179.7,2120.1 1158.9,2130.9 1138.1,2140.2 1117.3,2145.4 1096.5,2150.3 1075.7,2154.9 1054.9,2160.2 1034.1,2165.1 1013.3,2168.6 992.5,2169.5 971.7,2170.4 950.9,2171.2 930.1,2171.8 909.3,2172.2 888.5,2172.6 867.7,2172.9 846.9,2173.2 826.1,2173.3 805.3,2173.3 784.5,2173.3 763.7,2173.3 742.9,2173.3 722.1,2173.2 701.3,2172.9 680.5,2170.1 659.7,2167.2 638.9,2163.7 618.1,2159.4 597.3,2154.8 576.5,2148.8 555.7,2141.5 534.9,2134.6 514.1,2127.7 493.3,2120.8 472.5,2117.3 451.7,2113.6 430.9,2110.6 410.1,2107.9 389.3,2105.1 368.5,2102.8 347.7,2108.3 326.9,2113.6 306.1,2120.2 285.3,2127.7 264.5,2135.3 243.7,2148.0 222.9,2158.9 202.1,2182.4 181.3,2202.8"/><polygon fill="#ff6300" points="181.3,2197.4 202.1,2166.1 222.9,2123.6 243.7,2098.8 264.5,2068.0 285.3,2051.3 306.1,2034.7 326.9,2020.9 347.7,2010.6 368.5,1999.7 389.3,2001.8 410.1,2004.8 430.9,2007.8 451.7,2011.5 472.5,2017.0 493.3,2022.3 514.1,2033.9 534.9,2045.6 555.7,2058.2 576.5,2072.4 597.3,2083.8 618.1,2092.2 638.9,2100.0 659.7,2107.4 680.5,2114.5 701.3,2121.1 722.1,2125.2 742.9,2128.9 763.7,2132.4 784.5,2134.3 805.3,2135.1 826.1,2135.8 846.9,2136.6 867.7,2135.9 888.5,2134.9 909.3,2133.8 930.1,2132.8 950.9,2130.7 971.7,2127.6 992.5,2124.3 1013.3,2121.0 1034.1,2114.6 1054.9,2106.5 1075.7,2097.7 1096.5,2090.2 1117.3,2082.3 1138.1,2073.9 1158.9,2059.3 1179.7,2042.6 1200.5,2032.8 1221.3,2028.2 1242.1,2023.6 1262.9,2022.2 1283.7,2023.1 1304.5,2023.3 1325.3,2022.9 1346.1,2039.0 1366.9,2053.9 1387.7,2067.6 1408.5,2079.8 1429.3,2091.0 1450.1,2100.6 1450.1,2166.2 1429.3,2160.5 1408.5,2153.8 1387.7,2147.0 1366.9,2142.5 1346.1,2137.7 1325.3,2132.6 1304.5,2123.5 1283.7,2115.9 1262.9,2110.4 1242.1,2107.9 1221.3,2110.2 1200.5,2112.4 1179.7,2118.3 1158.9,2129.1 1138.1,2138.4 1117.3,2143.7 1096.5,2148.7 1075.7,2153.3 1054.9,2158.8 1034.1,2163.8 1013.3,2167.4 992.5,2168.3 971.7,2169.2 950.9,2170.2 930.1,2170.8 909.3,2171.2 888.5,2171.6 867.7,2172.0 846.9,2172.3 826.1,2172.3 805.3,2172.3 784.5,2172.4 763.7,2172.3 742.9,2172.2 722.1,2172.0 701.3,2171.7 680.5,2168.8 659.7,2165.9 638.9,2162.3 618.1,2157.9 597.3,2153.1 576.5,2147.0 555.7,2139.6 534.9,2132.5 514.1,2125.4 493.3,2118.3 472.5,2114.7 451.7,2111.0 430.9,2108.0 410.1,2105.3 389.3,2102.5 368.5,2100.3 347.7,2105.9 326.9,2111.2 306.1,2117.9 285.3,2125.8 264.5,2133.7 243.7,2146.8 222.9,2158.0 202.1,2182.0 181.3,2202.7"/><polygon fill="#ff5c00" points="181.3,2197.6 202.1,2166.7 222.9,2125.2 243.7,2101.1 264.5,2071.2 285.3,2054.7 306.1,2038.4 326.9,2024.8 347.7,2014.9 368.5,2004.4 389.3,2006.4 410.1,2009.3 430.9,2012.2 451.7,2015.8 472.5,2021.3 493.3,2026.6 514.1,2038.2 534.9,2049.7 555.7,2062.2 576.5,2076.0 597.3,2087.2 618.1,2095.5 638.9,2103.2 659.7,2110.4 680.5,2117.2 701.3,2123.6 722.1,2127.4 742.9,2130.9 763.7,2134.3 784.5,2136.0 805.3,2136.8 826.1,2137.5 846.9,2138.3 867.7,2137.6 888.5,2136.6 909.3,2135.5 930.1,2134.5 950.9,2132.5 971.7,2129.4 992.5,2126.3 1013.3,2123.0 1034.1,2116.7 1054.9,2108.7 1075.7,2100.0 1096.5,2092.6 1117.3,2084.9 1138.1,2076.6 1158.9,2062.5 1179.7,2046.3 1200.5,2036.8 1221.3,2032.5 1242.1,2028.0 1262.9,2026.9 1283.7,2027.9 1304.5,2028.3 1325.3,2027.8 1346.1,2043.6 1366.9,2058.1 1387.7,2071.4 1408.5,2083.6 1429.3,2094.7 1450.1,2104.2 1450.1,2164.9 1429.3,2159.0 1408.5,2152.1 1387.7,2145.1 1366.9,2140.3 1346.1,2135.2 1325.3,2129.8 1304.5,2121.1 1283.7,2113.9 1262.9,2108.5 1242.1,2106.1 1221.3,2108.3 1200.5,2110.5 1179.7,2116.5 1158.9,2127.3 1138.1,2136.6 1117.3,2142.0 1096.5,2147.0 1075.7,2151.7 1054.9,2157.3 1034.1,2162.4 1013.3,2166.1 992.5,2167.1 971.7,2168.1 950.9,2169.1 930.1,2169.8 909.3,2170.2 888.5,2170.7 867.7,2171.1 846.9,2171.4 826.1,2171.4 805.3,2171.4 784.5,2171.4 763.7,2171.3 742.9,2171.1 722.1,2170.9 701.3,2170.4 680.5,2167.6 659.7,2164.6 638.9,2160.9 618.1,2156.4 597.3,2151.5 576.5,2145.2 555.7,2137.6 534.9,2130.3 514.1,2123.1 493.3,2115.8 472.5,2112.1 451.7,2108.3 430.9,2105.3 410.1,2102.7 389.3,2100.0 368.5,2097.8 347.7,2103.4 326.9,2108.7 306.1,2115.7 285.3,2123.9 264.5,2132.2 243.7,2145.6 222.9,2157.2 202.1,2181.5 181.3,2202.5"/><polygon fill="#ff5500" points="181.3,2197.8 202.1,2167.4 222.9,2126.7 243.7,2103.3 264.5,2074.3 285.3,2058.1 306.1,2041.9 326.9,2028.6 347.7,2019.0 368.5,2009.0 389.3,2010.9 410.1,2013.7 430.9,2016.5 451.7,2020.1 472.5,2025.5 493.3,2030.8 514.1,2042.3 534.9,2053.7 555.7,2066.0 576.5,2079.5 597.3,2090.5 618.1,2098.6 638.9,2106.3 659.7,2113.3 680.5,2119.8 701.3,2125.9 722.1,2129.6 742.9,2132.9 763.7,2136.1 784.5,2137.8 805.3,2138.5 826.1,2139.2 846.9,2139.9 867.7,2139.2 888.5,2138.2 909.3,2137.2 930.1,2136.1 950.9,2134.2 971.7,2131.2 992.5,2128.1 1013.3,2125.0 1034.1,2118.8 1054.9,2110.8 1075.7,2102.2 1096.5,2095.0 1117.3,2087.4 1138.1,2079.3 1158.9,2065.5 1179.7,2049.8 1200.5,2040.7 1221.3,2036.6 1242.1,2032.3 1262.9,2031.4 1283.7,2032.6 1304.5,2033.1 1325.3,2032.6 1346.1,2048.0 1366.9,2062.1 1387.7,2075.1 1408.5,2087.2 1429.3,2098.4 1450.1,2107.7 1450.1,2163.5 1429.3,2157.5 1408.5,2150.4 1387.7,2143.1 1366.9,2138.0 1346.1,2132.6 1325.3,2126.9 1304.5,2118.7 1283.7,2111.8 1262.9,2106.6 1242.1,2104.3 1221.3,2106.5 1200.5,2108.7 1179.7,2114.6 1158.9,2125.4 1138.1,2134.8 1117.3,2140.2 1096.5,2145.3 1075.7,2150.1 1054.9,2155.8 1034.1,2161.1 1013.3,2164.8 992.5,2165.9 971.7,2167.0 950.9,2168.0 930.1,2168.8 909.3,2169.2 888.5,2169.7 867.7,2170.1 846.9,2170.5 826.1,2170.5 805.3,2170.4 784.5,2170.4 763.7,2170.3 742.9,2170.0 722.1,2169.7 701.3,2169.2 680.5,2166.3 659.7,2163.2 638.9,2159.5 618.1,2154.8 597.3,2149.8 576.5,2143.3 555.7,2135.6 534.9,2128.1 514.1,2120.8 493.3,2113.3 472.5,2109.5 451.7,2105.6 430.9,2102.6 410.1,2100.0 389.3,2097.3 368.5,2095.2 347.7,2100.8 326.9,2106.2 306.1,2113.4 285.3,2122.0 264.5,2130.6 243.7,2144.4 222.9,2156.2 202.1,2181.1 181.3,2202.3"/><polygon fill="#ff4e00" points="181.3,2198.0 202.1,2168.0 222.9,2128.2 243.7,2105.4 264.5,2077.4 285.3,2061.4 306.1,2045.3 326.9,2032.3 347.7,2023.1 368.5,2013.4 389.3,2015.3 410.1,2018.0 430.9,2020.6 451.7,2024.1 472.5,2029.6 493.3,2034.9 514.1,2046.2 534.9,2057.6 555.7,2069.6 576.5,2082.9 597.3,2093.6 618.1,2101.7 638.9,2109.3 659.7,2116.1 680.5,2122.3 701.3,2128.2 722.1,2131.7 742.9,2134.8 763.7,2137.8 784.5,2139.4 805.3,2140.1 826.1,2140.8 846.9,2141.4 867.7,2140.8 888.5,2139.8 909.3,2138.8 930.1,2137.7 950.9,2135.8 971.7,2132.9 992.5,2130.0 1013.3,2126.9 1034.1,2120.8 1054.9,2112.9 1075.7,2104.4 1096.5,2097.3 1117.3,2089.8 1138.1,2081.8 1158.9,2068.5 1179.7,2053.3 1200.5,2044.5 1221.3,2040.6 1242.1,2036.5 1262.9,2035.8 1283.7,2037.2 1304.5,2037.7 1325.3,2037.2 1346.1,2052.2 1366.9,2066.0 1387.7,2078.7 1408.5,2090.7 1429.3,2101.8 1450.1,2111.1 1450.1,2162.2 1429.3,2156.0 1408.5,2148.6 1387.7,2141.1 1366.9,2135.8 1346.1,2130.1 1325.3,2124.0 1304.5,2116.3 1283.7,2109.8 1262.9,2104.7 1242.1,2102.4 1221.3,2104.6 1200.5,2106.8 1179.7,2112.8 1158.9,2123.5 1138.1,2132.9 1117.3,2138.4 1096.5,2143.6 1075.7,2148.5 1054.9,2154.3 1034.1,2159.7 1013.3,2163.6 992.5,2164.7 971.7,2165.8 950.9,2167.0 930.1,2167.8 909.3,2168.2 888.5,2168.7 867.7,2169.2 846.9,2169.6 826.1,2169.5 805.3,2169.5 784.5,2169.4 763.7,2169.2 742.9,2168.9 722.1,2168.5 701.3,2167.9 680.5,2165.0 659.7,2161.9 638.9,2158.1 618.1,2153.2 597.3,2148.1 576.5,2141.5 555.7,2133.6 534.9,2125.9 514.1,2118.4 493.3,2110.7 472.5,2106.9 451.7,2102.8 430.9,2099.9 410.1,2097.3 389.3,2094.7 368.5,2092.6 347.7,2098.3 326.9,2103.7 306.1,2111.1 285.3,2120.1 264.5,2129.0 243.7,2143.2 222.9,2155.3 202.1,2180.6 181.3,2202.1"/><polygon fill="#ff4700" points="181.3,2198.1 202.1,2168.7 222.9,2129.6 243.7,2107.5 264.5,2080.3 285.3,2064.5 306.1,2048.7 326.9,2035.9 347.7,2027.0 368.5,2017.7 389.3,2019.5 410.1,2022.1 430.9,2024.7 451.7,2028.1 472.5,2033.6 493.3,2038.8 514.1,2050.1 534.9,2061.3 555.7,2073.2 576.5,2086.1 597.3,2096.7 618.1,2104.7 638.9,2112.2 659.7,2118.8 680.5,2124.8 701.3,2130.4 722.1,2133.7 742.9,2136.7 763.7,2139.5 784.5,2141.0 805.3,2141.7 826.1,2142.3 846.9,2142.9 867.7,2142.3 888.5,2141.3 909.3,2140.3 930.1,2139.3 950.9,2137.4 971.7,2134.6 992.5,2131.7 1013.3,2128.8 1034.1,2122.7 1054.9,2114.9 1075.7,2106.5 1096.5,2099.5 1117.3,2092.2 1138.1,2084.3 1158.9,2071.4 1179.7,2056.7 1200.5,2048.2 1221.3,2044.4 1242.1,2040.6 1262.9,2040.0 1283.7,2041.6 1304.5,2042.2 1325.3,2041.7 1346.1,2056.3 1366.9,2069.8 1387.7,2082.2 1408.5,2094.1 1429.3,2105.2 1450.1,2114.4 1450.1,2160.8 1429.3,2154.5 1408.5,2146.9 1387.7,2139.1 1366.9,2133.5 1346.1,2127.5 1325.3,2121.0 1304.5,2113.9 1283.7,2107.7 1262.9,2102.7 1242.1,2100.6 1221.3,2102.8 1200.5,2105.0 1179.7,2110.9 1158.9,2121.6 1138.1,2131.1 1117.3,2136.6 1096.5,2141.9 1075.7,2146.9 1054.9,2152.8 1034.1,2158.3 1013.3,2162.3 992.5,2163.5 971.7,2164.7 950.9,2165.9 930.1,2166.7 909.3,2167.2 888.5,2167.7 867.7,2168.2 846.9,2168.6 826.1,2168.6 805.3,2168.5 784.5,2168.4 763.7,2168.2 742.9,2167.8 722.1,2167.3 701.3,2166.6 680.5,2163.6 659.7,2160.5 638.9,2156.6 618.1,2151.7 597.3,2146.3 576.5,2139.6 555.7,2131.5 534.9,2123.7 514.1,2116.0 493.3,2108.1 472.5,2104.2 451.7,2100.1 430.9,2097.1 410.1,2094.6 389.3,2092.0 368.5,2090.0 347.7,2095.7 326.9,2101.1 306.1,2108.8 285.3,2118.1 264.5,2127.4 243.7,2142.0 222.9,2154.4 202.1,2180.2 181.3,2201.9"/><polygon fill="#ff4000" points="181.3,2198.3 202.1,2169.3 222.9,2131.1 243.7,2109.6 264.5,2083.2 285.3,2067.6 306.1,2051.9 326.9,2039.4 347.7,2030.8 368.5,2021.9 389.3,2023.6 410.1,2026.1 430.9,2028.6 451.7,2032.0 472.5,2037.4 493.3,2042.7 514.1,2053.9 534.9,2065.0 555.7,2076.7 576.5,2089.3 597.3,2099.7 618.1,2107.6 638.9,2115.0 659.7,2121.4 680.5,2127.1 701.3,2132.5 722.1,2135.7 742.9,2138.5 763.7,2141.2 784.5,2142.6 805.3,2143.2 826.1,2143.8 846.9,2144.4 867.7,2143.8 888.5,2142.8 909.3,2141.8 930.1,2140.8 950.9,2139.0 971.7,2136.3 992.5,2133.5 1013.3,2130.6 1034.1,2124.6 1054.9,2116.9 1075.7,2108.6 1096.5,2101.7 1117.3,2094.5 1138.1,2086.8 1158.9,2074.2 1179.7,2059.9 1200.5,2051.7 1221.3,2048.2 1242.1,2044.5 1262.9,2044.1 1283.7,2045.9 1304.5,2046.5 1325.3,2046.1 1346.1,2060.3 1366.9,2073.4 1387.7,2085.5 1408.5,2097.4 1429.3,2108.4 1450.1,2117.5 1450.1,2159.4 1429.3,2152.9 1408.5,2145.1 1387.7,2137.1 1366.9,2131.1 1346.1,2124.8 1325.3,2118.0 1304.5,2111.4 1283.7,2105.6 1262.9,2100.8 1242.1,2098.7 1221.3,2100.9 1200.5,2103.1 1179.7,2109.0 1158.9,2119.7 1138.1,2129.2 1117.3,2134.8 1096.5,2140.2 1075.7,2145.2 1054.9,2151.3 1034.1,2156.9 1013.3,2161.0 992.5,2162.3 971.7,2163.5 950.9,2164.8 930.1,2165.7 909.3,2166.2 888.5,2166.7 867.7,2167.3 846.9,2167.7 826.1,2167.6 805.3,2167.5 784.5,2167.4 763.7,2167.1 742.9,2166.6 722.1,2166.1 701.3,2165.3 680.5,2162.3 659.7,2159.1 638.9,2155.1 618.1,2150.0 597.3,2144.6 576.5,2137.7 555.7,2129.5 534.9,2121.5 514.1,2113.5 493.3,2105.5 472.5,2101.4 451.7,2097.2 430.9,2094.2 410.1,2091.8 389.3,2089.3 368.5,2087.3 347.7,2093.1 326.9,2098.6 306.1,2106.4 285.3,2116.2 264.5,2125.7 243.7,2140.8 222.9,2153.5 202.1,2179.7 181.3,2201.8"/><polygon fill="#ff3900" points="181.3,2198.5 202.1,2169.9 222.9,2132.5 243.7,2111.6 264.5,2086.0 285.3,2070.6 306.1,2055.1 326.9,2042.8 347.7,2034.6 368.5,2026.0 389.3,2027.6 410.1,2030.1 430.9,2032.4 451.7,2035.8 472.5,2041.2 493.3,2046.4 514.1,2057.5 534.9,2068.5 555.7,2080.0 576.5,2092.4 597.3,2102.6 618.1,2110.4 638.9,2117.7 659.7,2124.0 680.5,2129.4 701.3,2134.6 722.1,2137.6 742.9,2140.2 763.7,2142.8 784.5,2144.2 805.3,2144.7 826.1,2145.3 846.9,2145.9 867.7,2145.2 888.5,2144.3 909.3,2143.3 930.1,2142.3 950.9,2140.5 971.7,2137.9 992.5,2135.2 1013.3,2132.4 1034.1,2126.5 1054.9,2118.8 1075.7,2110.6 1096.5,2103.9 1117.3,2096.7 1138.1,2089.2 1158.9,2077.0 1179.7,2063.1 1200.5,2055.2 1221.3,2051.8 1242.1,2048.4 1262.9,2048.1 1283.7,2050.1 1304.5,2050.8 1325.3,2050.3 1346.1,2064.2 1366.9,2077.0 1387.7,2088.8 1408.5,2100.6 1429.3,2111.6 1450.1,2120.6 1450.1,2157.9 1429.3,2151.3 1408.5,2143.3 1387.7,2135.0 1366.9,2128.7 1346.1,2122.1 1325.3,2114.9 1304.5,2108.8 1283.7,2103.4 1262.9,2098.8 1242.1,2096.8 1221.3,2099.0 1200.5,2101.2 1179.7,2107.0 1158.9,2117.8 1138.1,2127.2 1117.3,2133.0 1096.5,2138.4 1075.7,2143.5 1054.9,2149.7 1034.1,2155.4 1013.3,2159.6 992.5,2161.0 971.7,2162.3 950.9,2163.7 930.1,2164.6 909.3,2165.2 888.5,2165.7 867.7,2166.3 846.9,2166.7 826.1,2166.6 805.3,2166.5 784.5,2166.4 763.7,2166.1 742.9,2165.5 722.1,2164.9 701.3,2164.0 680.5,2160.9 659.7,2157.7 638.9,2153.6 618.1,2148.4 597.3,2142.8 576.5,2135.8 555.7,2127.3 534.9,2119.2 514.1,2111.0 493.3,2102.8 472.5,2098.6 451.7,2094.3 430.9,2091.4 410.1,2089.0 389.3,2086.6 368.5,2084.7 347.7,2090.4 326.9,2095.9 306.1,2104.0 285.3,2114.2 264.5,2124.1 243.7,2139.5 222.9,2152.6 202.1,2179.3 181.3,2201.6"/><polygon fill="#ff3200" points="181.3,2198.7 202.1,2170.5 222.9,2133.8 243.7,2113.5 264.5,2088.7 285.3,2073.6 306.1,2058.2 326.9,2046.1 347.7,2038.2 368.5,2029.9 389.3,2031.6 410.1,2033.9 430.9,2036.2 451.7,2039.4 472.5,2044.8 493.3,2050.1 514.1,2061.1 534.9,2072.0 555.7,2083.3 576.5,2095.4 597.3,2105.4 618.1,2113.1 638.9,2120.4 659.7,2126.4 680.5,2131.7 701.3,2136.6 722.1,2139.4 742.9,2142.0 763.7,2144.4 784.5,2145.7 805.3,2146.2 826.1,2146.8 846.9,2147.3 867.7,2146.6 888.5,2145.7 909.3,2144.7 930.1,2143.8 950.9,2142.0 971.7,2139.5 992.5,2136.8 1013.3,2134.1 1034.1,2128.3 1054.9,2120.7 1075.7,2112.6 1096.5,2105.9 1117.3,2098.9 1138.1,2091.5 1158.9,2079.6 1179.7,2066.2 1200.5,2058.6 1221.3,2055.4 1242.1,2052.1 1262.9,2052.0 1283.7,2054.1 1304.5,2054.9 1325.3,2054.4 1346.1,2067.9 1366.9,2080.4 1387.7,2091.9 1408.5,2103.7 1429.3,2114.6 1450.1,2123.5 1450.1,2156.5 1429.3,2149.7 1408.5,2141.4 1387.7,2132.9 1366.9,2126.3 1346.1,2119.3 1325.3,2111.7 1304.5,2106.3 1283.7,2101.3 1262.9,2096.8 1242.1,2094.9 1221.3,2097.1 1200.5,2099.2 1179.7,2105.1 1158.9,2115.8 1138.1,2125.3 1117.3,2131.1 1096.5,2136.6 1075.7,2141.8 1054.9,2148.1 1034.1,2154.0 1013.3,2158.3 992.5,2159.7 971.7,2161.1 950.9,2162.5 930.1,2163.5 909.3,2164.1 888.5,2164.7 867.7,2165.3 846.9,2165.8 826.1,2165.6 805.3,2165.5 784.5,2165.4 763.7,2165.0 742.9,2164.3 722.1,2163.6 701.3,2162.7 680.5,2159.5 659.7,2156.2 638.9,2152.1 618.1,2146.8 597.3,2141.0 576.5,2133.8 555.7,2125.2 534.9,2116.8 514.1,2108.5 493.3,2100.1 472.5,2095.8 451.7,2091.4 430.9,2088.5 410.1,2086.1 389.3,2083.8 368.5,2081.9 347.7,2087.7 326.9,2093.3 306.1,2101.6 285.3,2112.1 264.5,2122.4 243.7,2138.3 222.9,2151.7 202.1,2178.8 181.3,2201.4"/><polygon fill="#ff2a00" points="181.3,2198.8 202.1,2171.1 222.9,2135.2 243.7,2115.4 264.5,2091.4 285.3,2076.5 306.1,2061.2 326.9,2049.4 347.7,2041.8 368.5,2033.8 389.3,2035.4 410.1,2037.6 430.9,2039.8 451.7,2043.0 472.5,2048.4 493.3,2053.6 514.1,2064.5 534.9,2075.3 555.7,2086.5 576.5,2098.3 597.3,2108.1 618.1,2115.7 638.9,2122.9 659.7,2128.8 680.5,2133.8 701.3,2138.6 722.1,2141.3 742.9,2143.6 763.7,2145.9 784.5,2147.1 805.3,2147.7 826.1,2148.2 846.9,2148.7 867.7,2148.0 888.5,2147.1 909.3,2146.1 930.1,2145.2 950.9,2143.5 971.7,2141.0 992.5,2138.4 1013.3,2135.8 1034.1,2130.0 1054.9,2122.6 1075.7,2114.5 1096.5,2108.0 1117.3,2101.1 1138.1,2093.8 1158.9,2082.3 1179.7,2069.3 1200.5,2061.9 1221.3,2058.9 1242.1,2055.8 1262.9,2055.8 1283.7,2058.0 1304.5,2058.9 1325.3,2058.3 1346.1,2071.6 1366.9,2083.8 1387.7,2095.0 1408.5,2106.6 1429.3,2117.5 1450.1,2126.4 1450.1,2155.0 1429.3,2148.1 1408.5,2139.6 1387.7,2130.7 1366.9,2123.8 1346.1,2116.4 1325.3,2108.5 1304.5,2103.7 1283.7,2099.1 1262.9,2094.7 1242.1,2093.0 1221.3,2095.2 1200.5,2097.3 1179.7,2103.1 1158.9,2113.9 1138.1,2123.3 1117.3,2129.2 1096.5,2134.8 1075.7,2140.0 1054.9,2146.5 1034.1,2152.5 1013.3,2156.9 992.5,2158.4 971.7,2159.9 950.9,2161.4 930.1,2162.4 909.3,2163.1 888.5,2163.7 867.7,2164.3 846.9,2164.8 826.1,2164.6 805.3,2164.5 784.5,2164.3 763.7,2163.9 742.9,2163.1 722.1,2162.3 701.3,2161.3 680.5,2158.1 659.7,2154.8 638.9,2150.6 618.1,2145.1 597.3,2139.2 576.5,2131.8 555.7,2123.0 534.9,2114.5 514.1,2105.9 493.3,2097.3 472.5,2092.9 451.7,2088.4 430.9,2085.5 410.1,2083.2 389.3,2080.9 368.5,2079.2 347.7,2085.0 326.9,2090.6 306.1,2099.1 285.3,2110.1 264.5,2120.7 243.7,2137.0 222.9,2150.7 202.1,2178.3 181.3,2201.2"/><polygon fill="#ff2300" points="181.3,2199.0 202.1,2171.7 222.9,2136.5 243.7,2117.3 264.5,2093.9 285.3,2079.3 306.1,2064.2 326.9,2052.5 347.7,2045.2 368.5,2037.6 389.3,2039.1 410.1,2041.3 430.9,2043.4 451.7,2046.5 472.5,2051.9 493.3,2057.1 514.1,2067.9 534.9,2078.6 555.7,2089.6 576.5,2101.1 597.3,2110.7 618.1,2118.3 638.9,2125.4 659.7,2131.1 680.5,2135.9 701.3,2140.5 722.1,2143.0 742.9,2145.3 763.7,2147.4 784.5,2148.6 805.3,2149.1 826.1,2149.5 846.9,2150.0 867.7,2149.4 888.5,2148.5 909.3,2147.5 930.1,2146.6 950.9,2144.9 971.7,2142.5 992.5,2140.0 1013.3,2137.4 1034.1,2131.8 1054.9,2124.4 1075.7,2116.4 1096.5,2110.0 1117.3,2103.2 1138.1,2096.0 1158.9,2084.8 1179.7,2072.2 1200.5,2065.1 1221.3,2062.2 1242.1,2059.3 1262.9,2059.5 1283.7,2061.8 1304.5,2062.7 1325.3,2062.2 1346.1,2075.1 1366.9,2087.0 1387.7,2098.0 1408.5,2109.6 1429.3,2120.4 1450.1,2129.1 1450.1,2153.5 1429.3,2146.4 1408.5,2137.7 1387.7,2128.5 1366.9,2121.3 1346.1,2113.5 1325.3,2105.2 1304.5,2101.0 1283.7,2096.8 1262.9,2092.7 1242.1,2091.0 1221.3,2093.2 1200.5,2095.3 1179.7,2101.2 1158.9,2111.9 1138.1,2121.3 1117.3,2127.3 1096.5,2132.9 1075.7,2138.3 1054.9,2144.9 1034.1,2151.0 1013.3,2155.5 992.5,2157.1 971.7,2158.7 950.9,2160.2 930.1,2161.3 909.3,2162.0 888.5,2162.7 867.7,2163.3 846.9,2163.8 826.1,2163.6 805.3,2163.4 784.5,2163.3 763.7,2162.8 742.9,2161.9 722.1,2161.1 701.3,2159.9 680.5,2156.7 659.7,2153.3 638.9,2149.0 618.1,2143.4 597.3,2137.3 576.5,2129.7 555.7,2120.8 534.9,2112.1 514.1,2103.3 493.3,2094.4 472.5,2090.0 451.7,2085.4 430.9,2082.5 410.1,2080.3 389.3,2078.1 368.5,2076.4 347.7,2082.2 326.9,2087.8 306.1,2096.6 285.3,2108.0 264.5,2119.0 243.7,2135.7 222.9,2149.8 202.1,2177.9 181.3,2201.0"/><polygon fill="#ff1c00" points="181.3,2199.1 202.1,2172.3 222.9,2137.8 243.7,2119.1 264.5,2096.5 285.3,2082.0 306.1,2067.1 326.9,2055.7 347.7,2048.6 368.5,2041.3 389.3,2042.7 410.1,2044.8 430.9,2046.9 451.7,2049.9 472.5,2055.3 493.3,2060.5 514.1,2071.2 534.9,2081.8 555.7,2092.6 576.5,2103.9 597.3,2113.3 618.1,2120.8 638.9,2127.8 659.7,2133.4 680.5,2138.0 701.3,2142.4 722.1,2144.8 742.9,2146.9 763.7,2148.9 784.5,2150.0 805.3,2150.4 826.1,2150.9 846.9,2151.3 867.7,2150.7 888.5,2149.8 909.3,2148.9 930.1,2147.9 950.9,2146.3 971.7,2144.0 992.5,2141.5 1013.3,2139.0 1034.1,2133.5 1054.9,2126.1 1075.7,2118.2 1096.5,2111.9 1117.3,2105.3 1138.1,2098.2 1158.9,2087.3 1179.7,2075.1 1200.5,2068.3 1221.3,2065.6 1242.1,2062.8 1262.9,2063.1 1283.7,2065.6 1304.5,2066.5 1325.3,2066.0 1346.1,2078.6 1366.9,2090.2 1387.7,2100.9 1408.5,2112.4 1429.3,2123.1 1450.1,2131.8 1450.1,2152.0 1429.3,2144.8 1408.5,2135.7 1387.7,2126.3 1366.9,2118.7 1346.1,2110.6 1325.3,2101.8 1304.5,2098.3 1283.7,2094.6 1262.9,2090.6 1242.1,2089.1 1221.3,2091.2 1200.5,2093.4 1179.7,2099.2 1158.9,2109.8 1138.1,2119.3 1117.3,2125.3 1096.5,2131.1 1075.7,2136.5 1054.9,2143.2 1034.1,2149.5 1013.3,2154.1 992.5,2155.8 971.7,2157.4 950.9,2159.1 930.1,2160.2 909.3,2160.9 888.5,2161.6 867.7,2162.3 846.9,2162.8 826.1,2162.6 805.3,2162.4 784.5,2162.2 763.7,2161.7 742.9,2160.7 722.1,2159.7 701.3,2158.5 680.5,2155.2 659.7,2151.8 638.9,2147.4 618.1,2141.6 597.3,2135.4 576.5,2127.7 555.7,2118.5 534.9,2109.6 514.1,2100.7 493.3,2091.6 472.5,2087.0 451.7,2082.3 430.9,2079.4 410.1,2077.3 389.3,2075.1 368.5,2073.5 347.7,2079.4 326.9,2085.0 306.1,2094.1 285.3,2105.9 264.5,2117.3 243.7,2134.4 222.9,2148.9 202.1,2177.4 181.3,2200.8"/><polygon fill="#ff1500" points="181.3,2199.3 202.1,2172.8 222.9,2139.1 243.7,2120.9 264.5,2099.0 285.3,2084.7 306.1,2069.9 326.9,2058.7 347.7,2051.9 368.5,2044.9 389.3,2046.3 410.1,2048.3 430.9,2050.3 451.7,2053.3 472.5,2058.6 493.3,2063.8 514.1,2074.4 534.9,2084.9 555.7,2095.5 576.5,2106.6 597.3,2115.8 618.1,2123.2 638.9,2130.2 659.7,2135.6 680.5,2140.0 701.3,2144.2 722.1,2146.4 742.9,2148.4 763.7,2150.4 784.5,2151.4 805.3,2151.8 826.1,2152.2 846.9,2152.6 867.7,2152.0 888.5,2151.1 909.3,2150.2 930.1,2149.3 950.9,2147.7 971.7,2145.4 992.5,2143.0 1013.3,2140.6 1034.1,2135.1 1054.9,2127.9 1075.7,2120.0 1096.5,2113.8 1117.3,2107.3 1138.1,2100.4 1158.9,2089.8 1179.7,2077.9 1200.5,2071.4 1221.3,2068.8 1242.1,2066.1 1262.9,2066.6 1283.7,2069.2 1304.5,2070.2 1325.3,2069.6 1346.1,2081.9 1366.9,2093.3 1387.7,2103.8 1408.5,2115.1 1429.3,2125.8 1450.1,2134.4 1450.1,2150.5 1429.3,2143.0 1408.5,2133.7 1387.7,2124.0 1366.9,2116.1 1346.1,2107.5 1325.3,2098.3 1304.5,2095.5 1283.7,2092.3 1262.9,2088.5 1242.1,2087.1 1221.3,2089.2 1200.5,2091.4 1179.7,2097.1 1158.9,2107.8 1138.1,2117.2 1117.3,2123.4 1096.5,2129.1 1075.7,2134.6 1054.9,2141.5 1034.1,2147.9 1013.3,2152.6 992.5,2154.4 971.7,2156.2 950.9,2157.9 930.1,2159.1 909.3,2159.8 888.5,2160.5 867.7,2161.3 846.9,2161.8 826.1,2161.6 805.3,2161.3 784.5,2161.1 763.7,2160.5 742.9,2159.5 722.1,2158.4 701.3,2157.1 680.5,2153.7 659.7,2150.2 638.9,2145.8 618.1,2139.8 597.3,2133.4 576.5,2125.6 555.7,2116.2 534.9,2107.1 514.1,2097.9 493.3,2088.6 472.5,2084.0 451.7,2079.2 430.9,2076.3 410.1,2074.2 389.3,2072.2 368.5,2070.6 347.7,2076.5 326.9,2082.2 306.1,2091.5 285.3,2103.8 264.5,2115.6 243.7,2133.1 222.9,2147.9 202.1,2177.0 181.3,2200.7"/><polygon fill="#ff0e00" points="181.3,2199.5 202.1,2173.4 222.9,2140.3 243.7,2122.7 264.5,2101.4 285.3,2087.3 306.1,2072.7 326.9,2061.7 347.7,2055.2 368.5,2048.4 389.3,2049.8 410.1,2051.7 430.9,2053.6 451.7,2056.6 472.5,2061.9 493.3,2067.0 514.1,2077.5 534.9,2087.9 555.7,2098.4 576.5,2109.2 597.3,2118.3 618.1,2125.6 638.9,2132.5 659.7,2137.7 680.5,2141.9 701.3,2146.0 722.1,2148.1 742.9,2149.9 763.7,2151.8 784.5,2152.7 805.3,2153.1 826.1,2153.5 846.9,2153.9 867.7,2153.3 888.5,2152.4 909.3,2151.5 930.1,2150.6 950.9,2149.0 971.7,2146.8 992.5,2144.5 1013.3,2142.2 1034.1,2136.7 1054.9,2129.6 1075.7,2121.8 1096.5,2115.7 1117.3,2109.3 1138.1,2102.5 1158.9,2092.2 1179.7,2080.7 1200.5,2074.4 1221.3,2071.9 1242.1,2069.4 1262.9,2070.0 1283.7,2072.7 1304.5,2073.8 1325.3,2073.2 1346.1,2085.2 1366.9,2096.3 1387.7,2106.5 1408.5,2117.8 1429.3,2128.4 1450.1,2136.9 1450.1,2148.9 1429.3,2141.3 1408.5,2131.7 1387.7,2121.7 1366.9,2113.4 1346.1,2104.4 1325.3,2094.7 1304.5,2092.7 1283.7,2090.0 1262.9,2086.4 1242.1,2085.1 1221.3,2087.2 1200.5,2089.3 1179.7,2095.1 1158.9,2105.7 1138.1,2115.1 1117.3,2121.3 1096.5,2127.2 1075.7,2132.7 1054.9,2139.8 1034.1,2146.3 1013.3,2151.2 992.5,2153.1 971.7,2154.9 950.9,2156.7 930.1,2157.9 909.3,2158.7 888.5,2159.5 867.7,2160.2 846.9,2160.7 826.1,2160.5 805.3,2160.3 784.5,2160.0 763.7,2159.4 742.9,2158.2 722.1,2157.0 701.3,2155.6 680.5,2152.2 659.7,2148.7 638.9,2144.1 618.1,2138.0 597.3,2131.5 576.5,2123.4 555.7,2113.9 534.9,2104.6 514.1,2095.2 493.3,2085.6 472.5,2080.9 451.7,2076.0 430.9,2073.1 410.1,2071.1 389.3,2069.2 368.5,2067.7 347.7,2073.6 326.9,2079.3 306.1,2088.9 285.3,2101.6 264.5,2113.8 243.7,2131.8 222.9,2146.9 202.1,2176.5 181.3,2200.5"/><polygon fill="#ff0700" points="181.3,2199.6 202.1,2174.0 222.9,2141.6 243.7,2124.4 264.5,2103.8 285.3,2089.9 306.1,2075.4 326.9,2064.6 347.7,2058.4 368.5,2051.9 389.3,2053.2 410.1,2055.0 430.9,2056.9 451.7,2059.8 472.5,2065.1 493.3,2070.2 514.1,2080.6 534.9,2090.9 555.7,2101.2 576.5,2111.7 597.3,2120.7 618.1,2127.9 638.9,2134.7 659.7,2139.8 680.5,2143.9 701.3,2147.7 722.1,2149.7 742.9,2151.4 763.7,2153.1 784.5,2154.0 805.3,2154.4 826.1,2154.8 846.9,2155.2 867.7,2154.5 888.5,2153.7 909.3,2152.8 930.1,2151.9 950.9,2150.3 971.7,2148.2 992.5,2146.0 1013.3,2143.7 1034.1,2138.3 1054.9,2131.2 1075.7,2123.5 1096.5,2117.6 1117.3,2111.2 1138.1,2104.5 1158.9,2094.6 1179.7,2083.4 1200.5,2077.3 1221.3,2075.0 1242.1,2072.7 1262.9,2073.4 1283.7,2076.2 1304.5,2077.3 1325.3,2076.7 1346.1,2088.4 1366.9,2099.2 1387.7,2109.2 1408.5,2120.4 1429.3,2131.0 1450.1,2139.3 1450.1,2147.3 1429.3,2139.5 1408.5,2129.7 1387.7,2119.3 1366.9,2110.6 1346.1,2101.2 1325.3,2091.0 1304.5,2089.9 1283.7,2087.6 1262.9,2084.3 1242.1,2083.0 1221.3,2085.2 1200.5,2087.3 1179.7,2093.0 1158.9,2103.5 1138.1,2113.0 1117.3,2119.3 1096.5,2125.2 1075.7,2130.8 1054.9,2138.1 1034.1,2144.7 1013.3,2149.7 992.5,2151.6 971.7,2153.6 950.9,2155.4 930.1,2156.8 909.3,2157.6 888.5,2158.4 867.7,2159.1 846.9,2159.7 826.1,2159.4 805.3,2159.2 784.5,2158.9 763.7,2158.2 742.9,2157.0 722.1,2155.7 701.3,2154.1 680.5,2150.7 659.7,2147.1 638.9,2142.4 618.1,2136.2 597.3,2129.5 576.5,2121.2 555.7,2111.5 534.9,2102.0 514.1,2092.4 493.3,2082.6 472.5,2077.7 451.7,2072.7 430.9,2069.9 410.1,2068.0 389.3,2066.1 368.5,2064.7 347.7,2070.6 326.9,2076.3 306.1,2086.2 285.3,2099.4 264.5,2112.0 243.7,2130.5 222.9,2146.0 202.1,2176.0 181.3,2200.3"/><polygon fill="#ff0000" points="181.3,2199.8 202.1,2174.5 222.9,2142.8 243.7,2126.1 264.5,2106.1 285.3,2092.4 306.1,2078.1 326.9,2067.5 347.7,2061.5 368.5,2055.3 389.3,2056.5 410.1,2058.3 430.9,2060.1 451.7,2062.9 472.5,2068.2 493.3,2073.3 514.1,2083.6 534.9,2093.8 555.7,2103.9 576.5,2114.2 597.3,2123.0 618.1,2130.2 638.9,2136.9 659.7,2141.8 680.5,2145.7 701.3,2149.4 722.1,2151.3 742.9,2152.9 763.7,2154.5 784.5,2155.3 805.3,2155.7 826.1,2156.0 846.9,2156.4 867.7,2155.8 888.5,2154.9 909.3,2154.0 930.1,2153.1 950.9,2151.6 971.7,2149.5 992.5,2147.4 1013.3,2145.2 1034.1,2139.9 1054.9,2132.8 1075.7,2125.2 1096.5,2119.4 1117.3,2113.2 1138.1,2106.6 1158.9,2096.9 1179.7,2086.1 1200.5,2080.2 1221.3,2078.0 1242.1,2075.8 1262.9,2076.7 1283.7,2079.5 1304.5,2080.7 1325.3,2080.1 1346.1,2091.5 1366.9,2102.1 1387.7,2111.9 1408.5,2122.9 1429.3,2133.4 1450.1,2141.7 1450.1,2145.6 1429.3,2137.7 1408.5,2127.6 1387.7,2116.9 1366.9,2107.8 1346.1,2097.9 1325.3,2087.3 1304.5,2087.0 1283.7,2085.2 1262.9,2082.1 1242.1,2081.0 1221.3,2083.1 1200.5,2085.2 1179.7,2090.9 1158.9,2101.4 1138.1,2110.8 1117.3,2117.2 1096.5,2123.2 1075.7,2128.9 1054.9,2136.3 1034.1,2143.1 1013.3,2148.2 992.5,2150.2 971.7,2152.2 950.9,2154.2 930.1,2155.6 909.3,2156.4 888.5,2157.2 867.7,2158.1 846.9,2158.7 826.1,2158.4 805.3,2158.1 784.5,2157.8 763.7,2157.0 742.9,2155.7 722.1,2154.3 701.3,2152.6 680.5,2149.1 659.7,2145.5 638.9,2140.7 618.1,2134.3 597.3,2127.4 576.5,2119.0 555.7,2109.1 534.9,2099.3 514.1,2089.5 493.3,2079.5 472.5,2074.5 451.7,2069.4 430.9,2066.6 410.1,2064.8 389.3,2063.0 368.5,2061.7 347.7,2067.6 326.9,2073.3 306.1,2083.5 285.3,2097.1 264.5,2110.2 243.7,2129.1 222.9,2145.0 202.1,2175.5 181.3,2200.1"/></g><rect x="1429.3" y="1722.92" width="20.8" height="6.28" fill="#fffff4"/><rect x="1429.3" y="1717.84" width="20.8" height="6.28" fill="#ffffdf"/><rect x="1429.3" y="1712.76" width="20.8" height="6.28" fill="#ffffca"/><rect x="1429.3" y="1707.67" width="20.8" height="6.28" fill="#ffffb5"/><rect x="1429.3" y="1702.59" width="20.8" height="6.28" fill="#ffff9f"/><rect x="1429.3" y="1697.51" width="20.8" height="6.28" fill="#ffff8a"/><rect x="1429.3" y="1692.43" width="20.8" height="6.28" fill="#ffff75"/><rect x="1429.3" y="1687.35" width="20.8" height="6.28" fill="#ffff60"/><rect x="1429.3" y="1682.27" width="20.8" height="6.28" fill="#ffff4a"/><rect x="1429.3" y="1677.18" width="20.8" height="6.28" fill="#ffff35"/><rect x="1429.3" y="1672.10" width="20.8" height="6.28" fill="#ffff20"/><rect x="1429.3" y="1667.02" width="20.8" height="6.28" fill="#ffff0b"/><rect x="1429.3" y="1661.94" width="20.8" height="6.28" fill="#ffff00"/><rect x="1429.3" y="1656.86" width="20.8" height="6.28" fill="#fff800"/><rect x="1429.3" y="1651.78" width="20.8" height="6.28" fill="#fff100"/><rect x="1429.3" y="1646.69" width="20.8" height="6.28" fill="#ffea00"/><rect x="1429.3" y="1641.61" width="20.8" height="6.28" fill="#ffe300"/><rect x="1429.3" y="1636.53" width="20.8" height="6.28" fill="#ffdc00"/><rect x="1429.3" y="1631.45" width="20.8" height="6.28" fill="#ffd400"/><rect x="1429.3" y="1626.37" width="20.8" height="6.28" fill="#ffcd00"/><rect x="1429.3" y="1621.29" width="20.8" height="6.28" fill="#ffc600"/><rect x="1429.3" y="1616.20" width="20.8" height="6.28" fill="#ffbf00"/><rect x="1429.3" y="1611.12" width="20.8" height="6.28" fill="#ffb800"/><rect x="1429.3" y="1606.04" width="20.8" height="6.28" fill="#ffb100"/><rect x="1429.3" y="1600.96" width="20.8" height="6.28" fill="#ffaa00"/><rect x="1429.3" y="1595.88" width="20.8" height="6.28" fill="#ffa300"/><rect x="1429.3" y="1590.80" width="20.8" height="6.28" fill="#ff9c00"/><rect x="1429.3" y="1585.71" width="20.8" height="6.28" fill="#ff9500"/><rect x="1429.3" y="1580.63" width="20.8" height="6.28" fill="#ff8e00"/><rect x="1429.3" y="1575.55" width="20.8" height="6.28" fill="#ff8700"/><rect x="1429.3" y="1570.47" width="20.8" height="6.28" fill="#ff8000"/><rect x="1429.3" y="1565.39" width="20.8" height="6.28" fill="#ff7800"/><rect x="1429.3" y="1560.31" width="20.8" height="6.28" fill="#ff7100"/><rect x="1429.3" y="1555.22" width="20.8" height="6.28" fill="#ff6a00"/><rect x="1429.3" y="1550.14" width="20.8" height="6.28" fill="#ff6300"/><rect x="1429.3" y="1545.06" width="20.8" height="6.28" fill="#ff5c00"/><rect x="1429.3" y="1539.98" width="20.8" height="6.28" fill="#ff5500"/><rect x="1429.3" y="1534.90" width="20.8" height="6.28" fill="#ff4e00"/><rect x="1429.3" y="1529.82" width="20.8" height="6.28" fill="#ff4700"/><rect x="1429.3" y="1524.73" width="20.8" height="6.28" fill="#ff4000"/><rect x="1429.3" y="1519.65" width="20.8" height="6.28" fill="#ff3900"/><rect x="1429.3" y="1514.57" width="20.8" height="6.28" fill="#ff3200"/><rect x="1429.3" y="1509.49" width="20.8" height="6.28" fill="#ff2a00"/><rect x="1429.3" y="1504.41" width="20.8" height="6.28" fill="#ff2300"/><rect x="1429.3" y="1499.33" width="20.8" height="6.28" fill="#ff1c00"/><rect x="1429.3" y="1494.24" width="20.8" height="6.28" fill="#ff1500"/><rect x="1429.3" y="1489.16" width="20.8" height="6.28" fill="#ff0e00"/><rect x="1429.3" y="1484.08" width="20.8" height="6.28" fill="#ff0700"/><rect x="1429.3" y="1479.00" width="20.8" height="6.28" fill="#ff0000"/><rect x="1429.3" y="1473.92" width="20.8" height="6.28" fill="#ff0000"/><rect x="1429.3" y="1468.84" width="20.8" height="6.28" fill="#ff0700"/><rect x="1429.3" y="1463.76" width="20.8" height="6.28" fill="#ff0e00"/><rect x="1429.3" y="1458.67" width="20.8" height="6.28" fill="#ff1500"/><rect x="1429.3" y="1453.59" width="20.8" height="6.28" fill="#ff1c00"/><rect x="1429.3" y="1448.51" width="20.8" height="6.28" fill="#ff2300"/><rect x="1429.3" y="1443.43" width="20.8" height="6.28" fill="#ff2a00"/><rect x="1429.3" y="1438.35" width="20.8" height="6.28" fill="#ff3200"/><rect x="1429.3" y="1433.27" width="20.8" height="6.28" fill="#ff3900"/><rect x="1429.3" y="1428.18" width="20.8" height="6.28" fill="#ff4000"/><rect x="1429.3" y="1423.10" width="20.8" height="6.28" fill="#ff4700"/><rect x="1429.3" y="1418.02" width="20.8" height="6.28" fill="#ff4e00"/><rect x="1429.3" y="1412.94" width="20.8" height="6.28" fill="#ff5500"/><rect x="1429.3" y="1407.86" width="20.8" height="6.28" fill="#ff5c00"/><rect x="1429.3" y="1402.78" width="20.8" height="6.28" fill="#ff6300"/><rect x="1429.3" y="1397.69" width="20.8" height="6.28" fill="#ff6a00"/><rect x="1429.3" y="1392.61" width="20.8" height="6.28" fill="#ff7100"/><rect x="1429.3" y="1387.53" width="20.8" height="6.28" fill="#ff7800"/><rect x="1429.3" y="1382.45" width="20.8" height="6.28" fill="#ff8000"/><rect x="1429.3" y="1377.37" width="20.8" height="6.28" fill="#ff8700"/><rect x="1429.3" y="1372.29" width="20.8" height="6.28" fill="#ff8e00"/><rect x="1429.3" y="1367.20" width="20.8" height="6.28" fill="#ff9500"/><rect x="1429.3" y="1362.12" width="20.8" height="6.28" fill="#ff9c00"/><rect x="1429.3" y="1357.04" width="20.8" height="6.28" fill="#ffa300"/><rect x="1429.3" y="1351.96" width="20.8" height="6.28" fill="#ffaa00"/><rect x="1429.3" y="1346.88" width="20.8" height="6.28" fill="#ffb100"/><rect x="1429.3" y="1341.80" width="20.8" height="6.28" fill="#ffb800"/><rect x="1429.3" y="1336.71" width="20.8" height="6.28" fill="#ffbf00"/><rect x="1429.3" y="1331.63" width="20.8" height="6.28" fill="#ffc600"/><rect x="1429.3" y="1326.55" width="20.8" height="6.28" fill="#ffcd00"/><rect x="1429.3" y="1321.47" width="20.8" height="6.28" fill="#ffd400"/><rect x="1429.3" y="1316.39" width="20.8" height="6.28" fill="#ffdc00"/><rect x="1429.3" y="1311.31" width="20.8" height="6.28" fill="#ffe300"/><rect x="1429.3" y="1306.22" width="20.8" height="6.28" fill="#ffea00"/><rect x="1429.3" y="1301.14" width="20.8" height="6.28" fill="#fff100"/><rect x="1429.3" y="1296.06" width="20.8" height="6.28" fill="#fff800"/><rect x="1429.3" y="1290.98" width="20.8" height="6.28" fill="#ffff00"/><rect x="1429.3" y="1285.90" width="20.8" height="6.28" fill="#ffff0b"/><rect x="1429.3" y="1280.82" width="20.8" height="6.28" fill="#ffff20"/><rect x="1429.3" y="1275.73" width="20.8" height="6.28" fill="#ffff35"/><rect x="1429.3" y="1270.65" width="20.8" height="6.28" fill="#ffff4a"/><rect x="1429.3" y="1265.57" width="20.8" height="6.28" fill="#ffff60"/><rect x="1429.3" y="1260.49" width="20.8" height="6.28" fill="#ffff75"/><rect x="1429.3" y="1255.41" width="20.8" height="6.28" fill="#ffff8a"/><rect x="1429.3" y="1250.33" width="20.8" height="6.28" fill="#ffff9f"/><rect x="1429.3" y="1245.24" width="20.8" height="6.28" fill="#ffffb5"/><rect x="1429.3" y="1240.16" width="20.8" height="6.28" fill="#ffffca"/><rect x="1429.3" y="1235.08" width="20.8" height="6.28" fill="#ffffdf"/><rect x="1429.3" y="1230.00" width="20.8" height="6.28" fill="#fffff4"/><polyline points="181.3,2191.2 202.1,2160.1 222.9,2131.5 243.7,2094.2 264.5,2054.4 285.3,2012.1 306.1,1981.1 326.9,1948.7 347.7,1926.3 368.5,1926.3 389.3,1904.0 410.1,1816.9 430.9,1814.4 451.7,1705.0 472.5,1537.1 493.3,1854.2 514.1,1892.8 534.9,1916.4 555.7,1922.6 576.5,1948.7 597.3,1997.2 618.1,2061.9 638.9,2075.6 659.7,2091.7 680.5,2106.7 701.3,2114.1 722.1,2121.0 742.9,2124.7 763.7,2130.3 784.5,2135.9 805.3,2142.0 826.1,2141.6 846.9,2136.6 867.7,2134.6 888.5,2132.8 909.3,2132.8 930.1,2130.3 950.9,2127.8 971.7,2126.6 992.5,2119.1 1013.3,2114.1 1034.1,2099.2 1054.9,2076.8 1075.7,2058.2 1096.5,2053.6 1117.3,2023.3 1138.1,2015.1 1158.9,2009.7 1179.7,1977.3 1200.5,1935.0 1221.3,1851.7 1242.1,1640.3 1262.9,1313.2 1283.7,1695.0 1304.5,1767.2 1325.3,1798.2 1346.1,1864.2 1366.9,1926.3 1387.7,1974.8 1408.5,1946.2 1429.3,2048.2 1450.1,2080.5" fill="none" stroke="#fff" stroke-width="3" stroke-linejoin="round"/><path d="M186.4,2209.9L197.0,2186.3M226.4,2172.0L240.2,2124.4M245.7,2100.5L262.5,1997.7M265.2,1973.3L284.6,1620.6M286.7,1620.6L304.7,1774.8M307.9,1799.2L325.1,1912.7M329.3,1912.8L345.3,1831.8M349.5,1831.9L366.7,1949.6M371.1,1949.8L386.7,1878.3M397.6,1857.2L401.8,1852.8M415.6,1832.7L425.4,1812.8M437.8,1791.5L444.8,1781.0M456.5,1782.1L467.7,1808.2M477.0,1831.0L488.8,1861.4M500.4,1882.9L507.0,1892.4M517.6,1914.2L531.4,1960.6M599.3,1960.2L616.1,1855.9M628.5,1850.3L628.5,1850.2M662.0,1877.5L678.2,1961.5M685.6,1962.4L696.2,1938.8M703.2,1939.7L720.2,2051.8M751.5,2064.1L755.1,2067.7M772.4,2085.2L775.8,2088.7M791.7,2107.4L798.1,2116.2M812.7,2116.3L818.7,2108.3M830.9,2109.8L842.1,2136.1M877.8,2153.5L878.4,2154.0M896.6,2151.7L901.2,2146.5M918.6,2129.2L920.8,2127.4M940.2,2126.3L940.8,2126.7M981.0,2146.6L983.2,2148.4M1085.8,2181.9L1086.4,2182.3M1100.1,2177.6L1113.7,2132.6M1163.7,2093.7L1174.9,2067.8M1183.5,2068.2L1196.7,2109.1M1224.9,2120.6L1238.5,2075.9M1246.5,2052.6L1258.5,2021.1M1266.3,2021.5L1280.3,2070.8M1313.7,2093.8L1316.1,2095.9M1332.4,2094.0L1339.0,2084.5M1394.4,2091.0L1401.8,2102.5M1411.3,2124.9L1426.5,2190.8M1438.4,2211.0L1441.0,2213.3" fill="none" stroke="#000" stroke-width="3.6" stroke-linecap="round"/><g fill="none" stroke="#000" stroke-width="3"><circle cx="181.3" cy="2221.1" r="4.5"/><circle cx="202.1" cy="2175.1" r="4.5"/><circle cx="222.9" cy="2183.8" r="4.5"/><circle cx="243.7" cy="2112.6" r="4.5"/><circle cx="264.5" cy="1985.5" r="4.5"/><circle cx="285.3" cy="1608.3" r="4.5"/><circle cx="306.1" cy="1787.1" r="4.5"/><circle cx="326.9" cy="1924.8" r="4.5"/><circle cx="347.7" cy="1819.8" r="4.5"/><circle cx="368.5" cy="1961.8" r="4.5"/><circle cx="389.3" cy="1866.3" r="4.5"/><circle cx="410.1" cy="1843.8" r="4.5"/><circle cx="430.9" cy="1801.7" r="4.5"/><circle cx="451.7" cy="1770.8" r="4.5"/><circle cx="472.5" cy="1819.5" r="4.5"/><circle cx="493.3" cy="1872.9" r="4.5"/><circle cx="514.1" cy="1902.5" r="4.5"/><circle cx="534.9" cy="1972.3" r="4.5"/><circle cx="555.7" cy="1971.1" r="4.5"/><circle cx="576.5" cy="1977.6" r="4.5"/><circle cx="597.3" cy="1972.3" r="4.5"/><circle cx="618.1" cy="1843.8" r="4.5"/><circle cx="638.9" cy="1856.7" r="4.5"/><circle cx="659.7" cy="1865.4" r="4.5"/><circle cx="680.5" cy="1973.6" r="4.5"/><circle cx="701.3" cy="1927.6" r="4.5"/><circle cx="722.1" cy="2064.0" r="4.5"/><circle cx="742.9" cy="2055.3" r="4.5"/><circle cx="763.7" cy="2076.4" r="4.5"/><circle cx="784.5" cy="2097.5" r="4.5"/><circle cx="805.3" cy="2126.2" r="4.5"/><circle cx="826.1" cy="2098.5" r="4.5"/><circle cx="846.9" cy="2147.4" r="4.5"/><circle cx="867.7" cy="2146.5" r="4.5"/><circle cx="888.5" cy="2161.0" r="4.5"/><circle cx="909.3" cy="2137.3" r="4.5"/><circle cx="930.1" cy="2119.3" r="4.5"/><circle cx="950.9" cy="2133.6" r="4.5"/><circle cx="971.7" cy="2138.6" r="4.5"/><circle cx="992.5" cy="2156.4" r="4.5"/><circle cx="1013.3" cy="2148.4" r="4.5"/><circle cx="1034.1" cy="2153.4" r="4.5"/><circle cx="1054.9" cy="2164.7" r="4.5"/><circle cx="1075.7" cy="2174.8" r="4.5"/><circle cx="1096.5" cy="2189.4" r="4.5"/><circle cx="1117.3" cy="2120.8" r="4.5"/><circle cx="1138.1" cy="2114.9" r="4.5"/><circle cx="1158.9" cy="2105.0" r="4.5"/><circle cx="1179.7" cy="2056.5" r="4.5"/><circle cx="1200.5" cy="2120.8" r="4.5"/><circle cx="1221.3" cy="2132.4" r="4.5"/><circle cx="1242.1" cy="2064.1" r="4.5"/><circle cx="1262.9" cy="2009.7" r="4.5"/><circle cx="1283.7" cy="2082.7" r="4.5"/><circle cx="1304.5" cy="2085.6" r="4.5"/><circle cx="1325.3" cy="2104.0" r="4.5"/><circle cx="1346.1" cy="2074.4" r="4.5"/><circle cx="1366.9" cy="2077.7" r="4.5"/><circle cx="1387.7" cy="2080.7" r="4.5"/><circle cx="1408.5" cy="2112.9" r="4.5"/><circle cx="1429.3" cy="2202.8" r="4.5"/><circle cx="1450.1" cy="2221.6" r="4.5"/></g><circle cx="160.5" cy="2213.0" r="5.5" fill="#000"/><rect x="98.0" y="1190.6" width="1416.6" height="1073.7" fill="none" stroke="#000" stroke-width="2.4" stroke-linejoin="round"/><line x1="85" y1="2224.8" x2="98.0" y2="2224.8" stroke="#000" stroke-width="1.6"/><text transform="translate(74.6,2232.9) scale(0.94,1)" text-anchor="end" class="ax">0</text><line x1="85" y1="1976.1" x2="98.0" y2="1976.1" stroke="#000" stroke-width="1.6"/><text transform="translate(74.6,1984.2) scale(0.94,1)" text-anchor="end" class="ax">200</text><line x1="85" y1="1727.4" x2="98.0" y2="1727.4" stroke="#000" stroke-width="1.6"/><text transform="translate(74.6,1735.5) scale(0.94,1)" text-anchor="end" class="ax">400</text><line x1="85" y1="1478.6" x2="98.0" y2="1478.6" stroke="#000" stroke-width="1.6"/><text transform="translate(74.6,1486.7) scale(0.94,1)" text-anchor="end" class="ax">600</text><line x1="85" y1="1229.9" x2="98.0" y2="1229.9" stroke="#000" stroke-width="1.6"/><text transform="translate(74.6,1238.0) scale(0.94,1)" text-anchor="end" class="ax">800</text><line x1="181.3" y1="2264.3" x2="181.3" y2="2279.8" stroke="#000" stroke-width="1.6"/><text transform="translate(181.3,2261.1) scale(0.94,1)" text-anchor="middle" class="ax">2021</text><text transform="translate(181.3,2310.1) scale(0.94,1)" text-anchor="middle" class="ax">IV</text><line x1="451.8" y1="2264.3" x2="451.8" y2="2279.8" stroke="#000" stroke-width="1.6"/><text transform="translate(451.8,2261.1) scale(0.94,1)" text-anchor="middle" class="ax">2022</text><text transform="translate(451.8,2310.1) scale(0.94,1)" text-anchor="middle" class="ax">I</text><line x1="722.3" y1="2264.3" x2="722.3" y2="2279.8" stroke="#000" stroke-width="1.6"/><text transform="translate(722.3,2261.1) scale(0.94,1)" text-anchor="middle" class="ax">2022</text><text transform="translate(722.3,2310.1) scale(0.94,1)" text-anchor="middle" class="ax">II</text><line x1="992.8" y1="2264.3" x2="992.8" y2="2279.8" stroke="#000" stroke-width="1.6"/><text transform="translate(992.8,2261.1) scale(0.94,1)" text-anchor="middle" class="ax">2022</text><text transform="translate(992.8,2310.1) scale(0.94,1)" text-anchor="middle" class="ax">III</text><line x1="1263.3" y1="2264.3" x2="1263.3" y2="2279.8" stroke="#000" stroke-width="1.6"/><text transform="translate(1263.3,2261.1) scale(0.94,1)" text-anchor="middle" class="ax">2022</text><text transform="translate(1263.3,2310.1) scale(0.94,1)" text-anchor="middle" class="ax">IV</text><text transform="translate(1457.5,48.0) scale(0.95,1)" class="lg">99%</text><text transform="translate(1457.5,170.0) scale(0.95,1)" class="lg">75%</text><text transform="translate(1457.5,297.0) scale(0.95,1)" class="lg">50%</text><text transform="translate(1457.5,424.0) scale(0.95,1)" class="lg">25%</text><text transform="translate(1457.5,546.0) scale(0.95,1)" class="lg">1%</text><text transform="translate(1453.5,1235.5) scale(0.95,1)" class="lg">99%</text><text transform="translate(1453.5,1357.5) scale(0.95,1)" class="lg">75%</text><text transform="translate(1453.5,1484.5) scale(0.95,1)" class="lg">50%</text><text transform="translate(1453.5,1611.5) scale(0.95,1)" class="lg">25%</text><text transform="translate(1453.5,1733.5) scale(0.95,1)" class="lg">1%</text><text transform="translate(132.5,75.3) scale(0.89,1)" class="big">A</text><text transform="translate(133,1262) scale(0.82,1)" class="big">B</text><text transform="translate(20.5,540) rotate(-90)" text-anchor="middle" class="lab">No. detections</text><text transform="translate(20.5,1727) rotate(-90)" text-anchor="middle" class="lab">No. detections</text><text x="806" y="2357" text-anchor="middle" class="lab">Time</text>
</svg>
</body></html>
